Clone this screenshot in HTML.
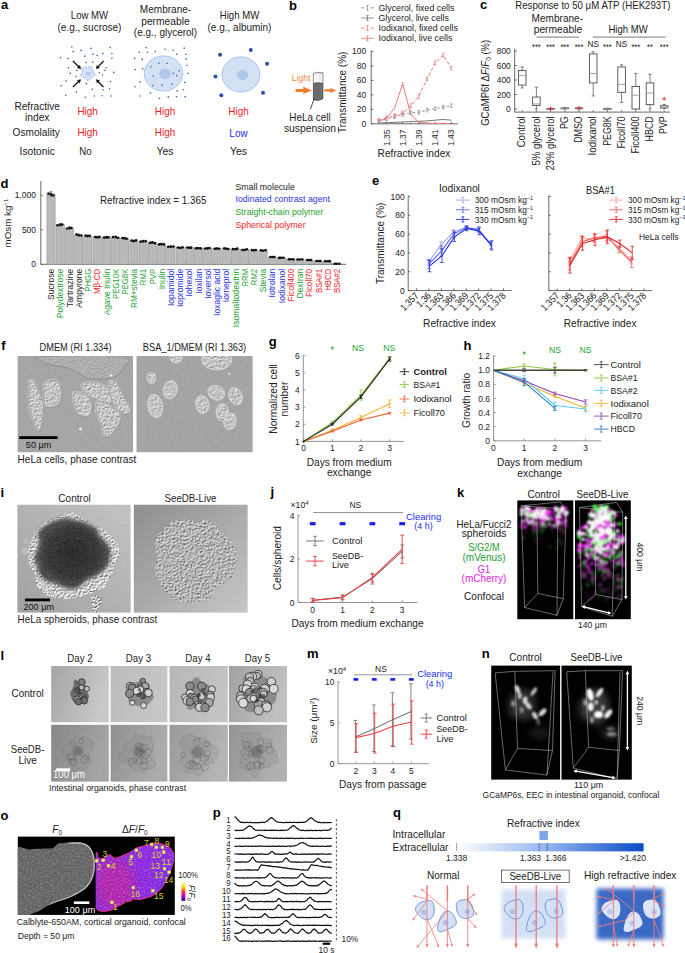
<!DOCTYPE html>
<html><head><meta charset="utf-8"><style>
html,body{margin:0;padding:0;background:#fff;width:685px;height:953px;overflow:hidden}
svg{display:block}
svg{font-family:"Liberation Sans", sans-serif}
</style></head><body>
<svg width="685" height="953" viewBox="0 0 685 953" fill="#222">
<defs>
<filter id="grain" x="0" y="0" width="1" height="1" filterUnits="objectBoundingBox">
  <feTurbulence type="fractalNoise" baseFrequency="0.55" numOctaves="2" seed="4" result="n"/>
  <feColorMatrix in="n" type="matrix" values="0 0 0 0 1  0 0 0 0 1  0 0 0 0 1  0 0 1.2 0 -0.55"/>
  <feComposite in2="SourceAlpha" operator="in"/>
</filter>
<filter id="grainD" x="0" y="0" width="1" height="1" filterUnits="objectBoundingBox">
  <feTurbulence type="fractalNoise" baseFrequency="0.55" numOctaves="2" seed="9" result="n"/>
  <feColorMatrix in="n" type="matrix" values="0 0 0 0 0  0 0 0 0 0  0 0 0 0 0  0 0 1.2 0 -0.55"/>
  <feComposite in2="SourceAlpha" operator="in"/>
</filter>
<filter id="blur1"><feGaussianBlur stdDeviation="1"/></filter>
<filter id="blur2"><feGaussianBlur stdDeviation="2"/></filter>
<filter id="blur3"><feGaussianBlur stdDeviation="3"/></filter>
<filter id="blur05"><feGaussianBlur stdDeviation="0.5"/></filter>
<filter id="blur6" x="-50%" y="-50%" width="200%" height="200%"><feGaussianBlur stdDeviation="6"/></filter>
<linearGradient id="rigrad" x1="0" x2="1" y1="0" y2="0"><stop offset="0" stop-color="#ffffff"/><stop offset="0.5" stop-color="#8fb0ee"/><stop offset="1" stop-color="#0a4cc8"/></linearGradient>
<linearGradient id="cbar" x1="0" x2="0" y1="0" y2="1"><stop offset="0" stop-color="#ffffa0"/><stop offset="0.25" stop-color="#ffd000"/><stop offset="0.5" stop-color="#ff3a20"/><stop offset="0.75" stop-color="#c000c0"/><stop offset="1" stop-color="#200090"/></linearGradient>
</defs>
<defs>
<radialGradient id="sphL" cx="0.5" cy="0.5" r="0.5"><stop offset="0" stop-color="#262626"/><stop offset="0.6" stop-color="#333"/><stop offset="0.82" stop-color="#555"/><stop offset="1" stop-color="#888" stop-opacity="0"/></radialGradient>
<radialGradient id="sphR" cx="0.5" cy="0.5" r="0.5"><stop offset="0" stop-color="#a4a4a4"/><stop offset="0.8" stop-color="#b0b0b0"/><stop offset="1" stop-color="#b5b5b5" stop-opacity="0"/></radialGradient>
<linearGradient id="bgiL" x1="0" y1="1" x2="1" y2="0"><stop offset="0" stop-color="#a0a0a0"/><stop offset="1" stop-color="#c2c2c2"/></linearGradient>
<linearGradient id="bgiR" x1="0" y1="0" x2="1" y2="1"><stop offset="0" stop-color="#8e8e8e"/><stop offset="1" stop-color="#c6c6c6"/></linearGradient>
<filter id="speck" x="0" y="0" width="1" height="1" filterUnits="objectBoundingBox">
  <feTurbulence type="fractalNoise" baseFrequency="0.35" numOctaves="3" seed="11" result="n"/>
  <feColorMatrix in="n" type="matrix" values="0 0 0 0 1  0 0 0 0 1  0 0 0 0 1  0 0 2.6 0 -1.25"/>
  <feComposite in2="SourceAlpha" operator="in"/>
</filter>
<filter id="speckD" x="0" y="0" width="1" height="1" filterUnits="objectBoundingBox">
  <feTurbulence type="fractalNoise" baseFrequency="0.35" numOctaves="3" seed="5" result="n"/>
  <feColorMatrix in="n" type="matrix" values="0 0 0 0 0  0 0 0 0 0  0 0 0 0 0  0 0 -2.6 0 1.25"/>
  <feComposite in2="SourceAlpha" operator="in"/>
</filter>
</defs>
<defs>
<filter id="emb1" x="0" y="0" width="1" height="1" filterUnits="objectBoundingBox" color-interpolation-filters="sRGB">
 <feTurbulence type="fractalNoise" baseFrequency="0.85" numOctaves="2" seed="3" result="t"/>
 <feDiffuseLighting in="t" surfaceScale="3" diffuseConstant="1.0" lighting-color="#fff" result="l"><feDistantLight azimuth="235" elevation="50"/></feDiffuseLighting>
 <feComposite in="l" in2="SourceAlpha" operator="in"/>
</filter>
<filter id="emb2" x="0" y="0" width="1" height="1" filterUnits="objectBoundingBox" color-interpolation-filters="sRGB">
 <feTurbulence type="fractalNoise" baseFrequency="0.3" numOctaves="2" seed="8" result="t"/>
 <feDiffuseLighting in="t" surfaceScale="2" diffuseConstant="1.0" lighting-color="#fff" result="l"><feDistantLight azimuth="235" elevation="55"/></feDiffuseLighting>
 <feComposite in="l" in2="SourceAlpha" operator="in"/>
</filter>
</defs>
<defs>
<filter id="emb3" x="0" y="0" width="1" height="1" filterUnits="objectBoundingBox" color-interpolation-filters="sRGB">
 <feTurbulence type="fractalNoise" baseFrequency="0.65" numOctaves="2" seed="13" result="t"/>
 <feDiffuseLighting in="t" surfaceScale="1.1" diffuseConstant="0.98" lighting-color="#fff" result="l"><feDistantLight azimuth="235" elevation="52"/></feDiffuseLighting>
 <feComposite in="l" in2="SourceAlpha" operator="in"/>
</filter>
<filter id="emb4" x="0" y="0" width="1" height="1" filterUnits="objectBoundingBox" color-interpolation-filters="sRGB">
 <feTurbulence type="fractalNoise" baseFrequency="0.75" numOctaves="2" seed="21" result="t"/>
 <feDiffuseLighting in="t" surfaceScale="2" diffuseConstant="0.88" lighting-color="#fff" result="l"><feDistantLight azimuth="235" elevation="55"/></feDiffuseLighting>
 <feComposite in="l" in2="SourceAlpha" operator="in"/>
</filter>
<radialGradient id="coreG" cx="0.5" cy="0.5" r="0.5"><stop offset="0" stop-color="#161616"/><stop offset="0.7" stop-color="#262626"/><stop offset="1" stop-color="#444"/></radialGradient>
</defs>

<rect width="685" height="953" fill="#fff"/>
<text x="0.90" y="8.80" font-size="13" fill="#000" font-weight="bold" >a</text>
<text x="89.50" y="19.30" font-size="10.53" text-anchor="middle" textLength="37.31" lengthAdjust="spacingAndGlyphs" >Low MW</text>
<text x="89.50" y="30.60" font-size="10.53" text-anchor="middle" textLength="63.93" lengthAdjust="spacingAndGlyphs" >(e.g., sucrose)</text>
<text x="165.50" y="13.20" font-size="10.53" text-anchor="middle" textLength="51.41" lengthAdjust="spacingAndGlyphs" >Membrane-</text>
<text x="165.50" y="24.50" font-size="10.53" text-anchor="middle" textLength="48.64" lengthAdjust="spacingAndGlyphs" >permeable</text>
<text x="165.50" y="35.80" font-size="10.53" text-anchor="middle" textLength="63.36" lengthAdjust="spacingAndGlyphs" >(e.g., glycerol)</text>
<text x="239.50" y="19.30" font-size="10.53" text-anchor="middle" textLength="39.42" lengthAdjust="spacingAndGlyphs" >High MW</text>
<text x="239.50" y="30.60" font-size="10.53" text-anchor="middle" textLength="63.93" lengthAdjust="spacingAndGlyphs" >(e.g., albumin)</text>
<circle cx="71.86" cy="46.95" r="0.80" fill="#2f5fb5" />
<circle cx="73.19" cy="51.44" r="0.80" fill="#2f5fb5" />
<circle cx="81.06" cy="50.42" r="0.80" fill="#2f5fb5" />
<circle cx="90.97" cy="48.38" r="0.80" fill="#2f5fb5" />
<circle cx="110.18" cy="47.36" r="0.80" fill="#2f5fb5" />
<circle cx="93.01" cy="54.10" r="0.80" fill="#2f5fb5" />
<circle cx="84.94" cy="56.15" r="0.80" fill="#2f5fb5" />
<circle cx="97.20" cy="55.53" r="0.80" fill="#2f5fb5" />
<circle cx="102.82" cy="53.49" r="0.80" fill="#2f5fb5" />
<circle cx="111.92" cy="53.49" r="0.80" fill="#2f5fb5" />
<circle cx="111.92" cy="58.19" r="0.80" fill="#2f5fb5" />
<circle cx="60.42" cy="57.58" r="0.80" fill="#2f5fb5" />
<circle cx="67.98" cy="58.60" r="0.80" fill="#2f5fb5" />
<circle cx="86.17" cy="62.48" r="0.80" fill="#2f5fb5" />
<circle cx="92.81" cy="62.28" r="0.80" fill="#2f5fb5" />
<circle cx="68.59" cy="67.79" r="0.80" fill="#2f5fb5" />
<circle cx="76.77" cy="70.45" r="0.80" fill="#2f5fb5" />
<circle cx="70.33" cy="73.42" r="0.80" fill="#2f5fb5" />
<circle cx="75.95" cy="76.48" r="0.80" fill="#2f5fb5" />
<circle cx="106.09" cy="67.79" r="0.80" fill="#2f5fb5" />
<circle cx="104.87" cy="70.35" r="0.80" fill="#2f5fb5" />
<circle cx="99.25" cy="72.70" r="0.80" fill="#2f5fb5" />
<circle cx="102.52" cy="74.95" r="0.80" fill="#2f5fb5" />
<circle cx="113.76" cy="72.39" r="0.80" fill="#2f5fb5" />
<circle cx="66.04" cy="81.08" r="0.80" fill="#2f5fb5" />
<circle cx="61.13" cy="85.68" r="0.80" fill="#2f5fb5" />
<circle cx="86.37" cy="83.63" r="0.80" fill="#2f5fb5" />
<circle cx="110.49" cy="81.59" r="0.80" fill="#2f5fb5" />
<circle cx="92.30" cy="89.36" r="0.80" fill="#2f5fb5" />
<circle cx="103.03" cy="90.07" r="0.80" fill="#2f5fb5" />
<circle cx="109.47" cy="88.74" r="0.80" fill="#2f5fb5" />
<circle cx="76.46" cy="92.12" r="0.80" fill="#2f5fb5" />
<circle cx="65.73" cy="95.18" r="0.80" fill="#2f5fb5" />
<circle cx="85.35" cy="97.22" r="0.80" fill="#2f5fb5" />
<circle cx="94.34" cy="96.00" r="0.80" fill="#2f5fb5" />
<circle cx="102.01" cy="95.69" r="0.80" fill="#2f5fb5" />
<circle cx="111.00" cy="96.00" r="0.80" fill="#2f5fb5" />
<path d="M94.59,73.20 L95.18,74.91 L93.72,76.10 L92.04,76.66 L91.60,78.09 L90.31,78.63 L89.20,79.79 L87.70,81.10 L86.37,79.02 L85.35,78.07 L83.92,77.95 L82.69,77.19 L81.36,76.25 L80.06,74.94 L81.83,73.20 L82.80,72.08 L81.62,70.27 L81.71,68.42 L83.31,67.70 L84.67,66.91 L86.26,66.90 L87.70,68.25 L89.29,66.23 L90.99,66.38 L91.75,68.12 L92.52,69.36 L93.06,70.62 L93.43,71.89Z" fill="#d4e1f5" stroke="#a9c3ec" stroke-width="0.9" />
<ellipse cx="88.5" cy="73.8" rx="2.3" ry="2.1" fill="#b0c8ec"/>
<line x1="72.90" y1="61.00" x2="78.97" y2="67.07" stroke="#111" stroke-width="1.3" />
<path d="M81.00,69.10 L76.97,68.04 L79.94,65.07Z" fill="#111" stroke="none" stroke-width="0.8" />
<line x1="103.50" y1="61.00" x2="97.80" y2="67.07" stroke="#111" stroke-width="1.3" />
<path d="M95.90,69.10 L96.83,65.04 L99.89,67.91Z" fill="#111" stroke="none" stroke-width="0.8" />
<line x1="72.90" y1="87.00" x2="78.97" y2="81.22" stroke="#111" stroke-width="1.3" />
<path d="M81.00,79.30 L79.84,83.30 L76.94,80.26Z" fill="#111" stroke="none" stroke-width="0.8" />
<line x1="103.50" y1="87.00" x2="97.80" y2="81.22" stroke="#111" stroke-width="1.3" />
<path d="M95.90,79.30 L99.92,80.39 L96.93,83.34Z" fill="#111" stroke="none" stroke-width="0.8" />
<circle cx="146.04" cy="47.66" r="0.80" fill="#2f5fb5" />
<circle cx="139.20" cy="52.26" r="0.80" fill="#2f5fb5" />
<circle cx="147.37" cy="52.26" r="0.80" fill="#2f5fb5" />
<circle cx="155.24" cy="51.44" r="0.80" fill="#2f5fb5" />
<circle cx="165.05" cy="49.20" r="0.80" fill="#2f5fb5" />
<circle cx="173.23" cy="50.22" r="0.80" fill="#2f5fb5" />
<circle cx="184.16" cy="48.17" r="0.80" fill="#2f5fb5" />
<circle cx="176.80" cy="54.31" r="0.80" fill="#2f5fb5" />
<circle cx="185.90" cy="54.31" r="0.80" fill="#2f5fb5" />
<circle cx="134.60" cy="58.39" r="0.80" fill="#2f5fb5" />
<circle cx="142.26" cy="59.42" r="0.80" fill="#2f5fb5" />
<circle cx="186.20" cy="58.90" r="0.80" fill="#2f5fb5" />
<circle cx="186.92" cy="65.55" r="0.80" fill="#2f5fb5" />
<circle cx="135.11" cy="69.43" r="0.80" fill="#2f5fb5" />
<circle cx="142.77" cy="68.82" r="0.80" fill="#2f5fb5" />
<circle cx="187.94" cy="73.21" r="0.80" fill="#2f5fb5" />
<circle cx="140.22" cy="81.90" r="0.80" fill="#2f5fb5" />
<circle cx="184.87" cy="82.41" r="0.80" fill="#2f5fb5" />
<circle cx="135.11" cy="86.70" r="0.80" fill="#2f5fb5" />
<circle cx="183.44" cy="89.76" r="0.80" fill="#2f5fb5" />
<circle cx="177.21" cy="90.89" r="0.80" fill="#2f5fb5" />
<circle cx="150.44" cy="92.93" r="0.80" fill="#2f5fb5" />
<circle cx="139.91" cy="96.00" r="0.80" fill="#2f5fb5" />
<circle cx="159.43" cy="98.25" r="0.80" fill="#2f5fb5" />
<circle cx="168.32" cy="96.92" r="0.80" fill="#2f5fb5" />
<circle cx="176.49" cy="96.71" r="0.80" fill="#2f5fb5" />
<circle cx="185.18" cy="96.92" r="0.80" fill="#2f5fb5" />
<ellipse cx="163.5" cy="73.5" rx="19.2" ry="17.6" fill="#d4e1f5" stroke="#a2bfea" stroke-width="0.9"/>
<ellipse cx="165" cy="73.7" rx="5.8" ry="5.2" fill="#b0c8ec"/>
<circle cx="158.92" cy="63.30" r="0.80" fill="#2f5fb5" />
<circle cx="166.99" cy="63.30" r="0.80" fill="#2f5fb5" />
<circle cx="150.95" cy="66.77" r="0.80" fill="#2f5fb5" />
<circle cx="179.05" cy="70.86" r="0.80" fill="#2f5fb5" />
<circle cx="173.43" cy="73.42" r="0.80" fill="#2f5fb5" />
<circle cx="176.80" cy="75.77" r="0.80" fill="#2f5fb5" />
<circle cx="153.30" cy="75.97" r="0.80" fill="#2f5fb5" />
<circle cx="152.99" cy="85.47" r="0.80" fill="#2f5fb5" />
<circle cx="161.98" cy="85.17" r="0.80" fill="#2f5fb5" />
<circle cx="171.90" cy="84.25" r="0.80" fill="#2f5fb5" />
<ellipse cx="241" cy="74.5" rx="19" ry="17.6" fill="#d4e1f5" stroke="#a2bfea" stroke-width="0.9"/>
<ellipse cx="242.6" cy="75" rx="5.7" ry="5.3" fill="#b0c8ec"/>
<circle cx="220.10" cy="54.80" r="2.00" fill="#2452a4" />
<circle cx="250.80" cy="49.90" r="2.00" fill="#2452a4" />
<circle cx="267.10" cy="63.70" r="2.00" fill="#2452a4" />
<circle cx="215.50" cy="76.60" r="2.00" fill="#2452a4" />
<circle cx="221.30" cy="95.20" r="2.00" fill="#2452a4" />
<circle cx="263.00" cy="92.80" r="2.00" fill="#2452a4" />
<text x="37.20" y="110.20" font-size="10.53" text-anchor="middle" textLength="45.58" lengthAdjust="spacingAndGlyphs" >Refractive</text>
<text x="37.20" y="121.20" font-size="10.53" text-anchor="middle" textLength="24.61" lengthAdjust="spacingAndGlyphs" >index</text>
<text x="36.20" y="136.20" font-size="10.53" text-anchor="middle" textLength="47.23" lengthAdjust="spacingAndGlyphs" >Osmolality</text>
<text x="37.20" y="154.50" font-size="10.53" text-anchor="middle" textLength="35.18" lengthAdjust="spacingAndGlyphs" >Isotonic</text>
<text x="87.60" y="115.20" font-size="10.53" text-anchor="middle" fill="#ee1c25" textLength="20.42" lengthAdjust="spacingAndGlyphs" >High</text>
<text x="165.00" y="115.20" font-size="10.53" text-anchor="middle" fill="#ee1c25" textLength="20.42" lengthAdjust="spacingAndGlyphs" >High</text>
<text x="238.50" y="115.20" font-size="10.53" text-anchor="middle" fill="#ee1c25" textLength="20.42" lengthAdjust="spacingAndGlyphs" >High</text>
<text x="87.60" y="136.20" font-size="10.53" text-anchor="middle" fill="#ee1c25" textLength="20.42" lengthAdjust="spacingAndGlyphs" >High</text>
<text x="165.00" y="136.20" font-size="10.53" text-anchor="middle" fill="#ee1c25" textLength="20.42" lengthAdjust="spacingAndGlyphs" >High</text>
<text x="238.50" y="136.80" font-size="10.53" text-anchor="middle" fill="#2233dd" textLength="18.3" lengthAdjust="spacingAndGlyphs" >Low</text>
<text x="85.50" y="154.50" font-size="10.53" text-anchor="middle" textLength="12.4" lengthAdjust="spacingAndGlyphs" >No</text>
<text x="165.00" y="154.50" font-size="10.53" text-anchor="middle" textLength="17.04" lengthAdjust="spacingAndGlyphs" >Yes</text>
<text x="238.50" y="154.50" font-size="10.53" text-anchor="middle" textLength="17.04" lengthAdjust="spacingAndGlyphs" >Yes</text>
<text x="289.00" y="10.00" font-size="13" fill="#000" font-weight="bold" >b</text>
<line x1="361.00" y1="7.80" x2="364.50" y2="7.80" stroke="#8a8a8a" stroke-width="0.8" />
<line x1="370.50" y1="7.80" x2="374.00" y2="7.80" stroke="#8a8a8a" stroke-width="0.8" />
<line x1="367.50" y1="5.40" x2="367.50" y2="10.20" stroke="#8a8a8a" stroke-width="0.8" />
<line x1="366.30" y1="5.40" x2="368.70" y2="5.40" stroke="#8a8a8a" stroke-width="0.8" />
<line x1="366.30" y1="10.20" x2="368.70" y2="10.20" stroke="#8a8a8a" stroke-width="0.8" />
<text x="378.50" y="10.70" font-size="9.18" textLength="75.88" lengthAdjust="spacingAndGlyphs" >Glycerol, fixed cells</text>
<line x1="361.00" y1="18.00" x2="374.00" y2="18.00" stroke="#777" stroke-width="0.8" />
<line x1="367.50" y1="15.60" x2="367.50" y2="20.40" stroke="#777" stroke-width="0.8" />
<line x1="366.30" y1="15.60" x2="368.70" y2="15.60" stroke="#777" stroke-width="0.8" />
<line x1="366.30" y1="20.40" x2="368.70" y2="20.40" stroke="#777" stroke-width="0.8" />
<text x="378.50" y="20.90" font-size="9.18" textLength="70.38" lengthAdjust="spacingAndGlyphs" >Glycerol, live cells</text>
<line x1="361.00" y1="28.20" x2="364.50" y2="28.20" stroke="#f07a7a" stroke-width="0.8" />
<line x1="370.50" y1="28.20" x2="374.00" y2="28.20" stroke="#f07a7a" stroke-width="0.8" />
<line x1="367.50" y1="25.80" x2="367.50" y2="30.60" stroke="#f07a7a" stroke-width="0.8" />
<line x1="366.30" y1="25.80" x2="368.70" y2="25.80" stroke="#f07a7a" stroke-width="0.8" />
<line x1="366.30" y1="30.60" x2="368.70" y2="30.60" stroke="#f07a7a" stroke-width="0.8" />
<text x="378.50" y="31.10" font-size="9.18" textLength="79.34" lengthAdjust="spacingAndGlyphs" >Iodixanol, fixed cells</text>
<line x1="361.00" y1="38.40" x2="374.00" y2="38.40" stroke="#f07a7a" stroke-width="0.8" />
<line x1="367.50" y1="36.00" x2="367.50" y2="40.80" stroke="#f07a7a" stroke-width="0.8" />
<line x1="366.30" y1="36.00" x2="368.70" y2="36.00" stroke="#f07a7a" stroke-width="0.8" />
<line x1="366.30" y1="40.80" x2="368.70" y2="40.80" stroke="#f07a7a" stroke-width="0.8" />
<text x="378.50" y="41.30" font-size="9.18" textLength="73.85" lengthAdjust="spacingAndGlyphs" >Iodixanol, live cells</text>
<line x1="371.20" y1="50.50" x2="371.20" y2="123.80" stroke="#444" stroke-width="0.8" />
<line x1="371.20" y1="123.80" x2="457.80" y2="123.80" stroke="#444" stroke-width="0.8" />
<line x1="371.20" y1="123.80" x2="373.40" y2="123.80" stroke="#444" stroke-width="0.8" />
<text x="366.20" y="126.70" font-size="9.63" text-anchor="end" textLength="4.71" lengthAdjust="spacingAndGlyphs" >0</text>
<line x1="371.20" y1="109.34" x2="373.40" y2="109.34" stroke="#444" stroke-width="0.8" />
<text x="366.20" y="112.24" font-size="9.63" text-anchor="end" textLength="9.41" lengthAdjust="spacingAndGlyphs" >20</text>
<line x1="371.20" y1="94.88" x2="373.40" y2="94.88" stroke="#444" stroke-width="0.8" />
<text x="366.20" y="97.78" font-size="9.63" text-anchor="end" textLength="9.41" lengthAdjust="spacingAndGlyphs" >40</text>
<line x1="371.20" y1="80.42" x2="373.40" y2="80.42" stroke="#444" stroke-width="0.8" />
<text x="366.20" y="83.32" font-size="9.63" text-anchor="end" textLength="9.41" lengthAdjust="spacingAndGlyphs" >60</text>
<line x1="371.20" y1="65.96" x2="373.40" y2="65.96" stroke="#444" stroke-width="0.8" />
<text x="366.20" y="68.86" font-size="9.63" text-anchor="end" textLength="9.41" lengthAdjust="spacingAndGlyphs" >80</text>
<line x1="371.20" y1="51.50" x2="373.40" y2="51.50" stroke="#444" stroke-width="0.8" />
<text x="366.20" y="54.40" font-size="9.63" text-anchor="end" textLength="14.12" lengthAdjust="spacingAndGlyphs" >100</text>
<line x1="386.50" y1="123.80" x2="386.50" y2="121.80" stroke="#444" stroke-width="0.8" />
<text x="389.50" y="129.50" font-size="9.63" text-anchor="end" textLength="16.47" lengthAdjust="spacingAndGlyphs" transform="rotate(-90 389.50 129.50)" >1.35</text>
<line x1="402.70" y1="123.80" x2="402.70" y2="121.80" stroke="#444" stroke-width="0.8" />
<text x="405.70" y="129.50" font-size="9.63" text-anchor="end" textLength="16.47" lengthAdjust="spacingAndGlyphs" transform="rotate(-90 405.70 129.50)" >1.37</text>
<line x1="418.90" y1="123.80" x2="418.90" y2="121.80" stroke="#444" stroke-width="0.8" />
<text x="421.90" y="129.50" font-size="9.63" text-anchor="end" textLength="16.47" lengthAdjust="spacingAndGlyphs" transform="rotate(-90 421.90 129.50)" >1.39</text>
<line x1="435.10" y1="123.80" x2="435.10" y2="121.80" stroke="#444" stroke-width="0.8" />
<text x="438.10" y="129.50" font-size="9.63" text-anchor="end" textLength="16.47" lengthAdjust="spacingAndGlyphs" transform="rotate(-90 438.10 129.50)" >1.41</text>
<line x1="451.30" y1="123.80" x2="451.30" y2="121.80" stroke="#444" stroke-width="0.8" />
<text x="454.30" y="129.50" font-size="9.63" text-anchor="end" textLength="16.47" lengthAdjust="spacingAndGlyphs" transform="rotate(-90 454.30 129.50)" >1.43</text>
<line x1="378.40" y1="123.80" x2="378.40" y2="122.30" stroke="#444" stroke-width="0.6" />
<line x1="394.60" y1="123.80" x2="394.60" y2="122.30" stroke="#444" stroke-width="0.6" />
<line x1="410.80" y1="123.80" x2="410.80" y2="122.30" stroke="#444" stroke-width="0.6" />
<line x1="427.00" y1="123.80" x2="427.00" y2="122.30" stroke="#444" stroke-width="0.6" />
<line x1="443.20" y1="123.80" x2="443.20" y2="122.30" stroke="#444" stroke-width="0.6" />
<text x="414.00" y="157.30" font-size="10.53" text-anchor="middle" textLength="72.76" lengthAdjust="spacingAndGlyphs" >Refractive index</text>
<text x="346.50" y="92.30" font-size="10.53" text-anchor="middle" textLength="81.53" lengthAdjust="spacingAndGlyphs" transform="rotate(-90 346.50 92.30)" >Transmittance (%)</text>
<polyline points="378.40,121.63 386.50,118.74 394.60,116.57 402.70,114.40 410.80,112.95 418.90,112.23 427.00,110.06 435.10,108.62 443.20,107.17 451.30,105.72" fill="none" stroke="#8a8a8a" stroke-width="0.9" stroke-dasharray="3 2"/>
<polyline points="378.40,123.08 386.50,122.72 394.60,122.35 402.70,121.99 410.80,121.63 418.90,121.27 427.00,120.91 435.10,120.19 443.20,119.46 451.30,120.19" fill="none" stroke="#666" stroke-width="0.9" />
<polyline points="378.40,120.19 386.50,118.02 394.60,115.85 402.70,112.95 410.80,105.72 418.90,96.33 427.00,78.97 435.10,63.07 443.20,55.11 451.30,68.13" fill="none" stroke="#f07a7a" stroke-width="1.0" stroke-dasharray="3.5 2"/>
<polyline points="378.40,121.63 386.50,118.02 394.60,107.89 402.70,84.03 410.80,114.40 418.90,122.35 427.00,123.08 435.10,123.44 443.20,123.44 451.30,123.44" fill="none" stroke="#f07a7a" stroke-width="1.0" />
<line x1="378.40" y1="123.44" x2="378.40" y2="119.82" stroke="#8a8a8a" stroke-width="0.7" />
<line x1="377.00" y1="123.44" x2="379.80" y2="123.44" stroke="#8a8a8a" stroke-width="0.7" />
<line x1="377.00" y1="119.82" x2="379.80" y2="119.82" stroke="#8a8a8a" stroke-width="0.7" />
<line x1="386.50" y1="120.55" x2="386.50" y2="116.93" stroke="#8a8a8a" stroke-width="0.7" />
<line x1="385.10" y1="120.55" x2="387.90" y2="120.55" stroke="#8a8a8a" stroke-width="0.7" />
<line x1="385.10" y1="116.93" x2="387.90" y2="116.93" stroke="#8a8a8a" stroke-width="0.7" />
<line x1="394.60" y1="118.38" x2="394.60" y2="114.76" stroke="#8a8a8a" stroke-width="0.7" />
<line x1="393.20" y1="118.38" x2="396.00" y2="118.38" stroke="#8a8a8a" stroke-width="0.7" />
<line x1="393.20" y1="114.76" x2="396.00" y2="114.76" stroke="#8a8a8a" stroke-width="0.7" />
<line x1="402.70" y1="116.21" x2="402.70" y2="112.59" stroke="#8a8a8a" stroke-width="0.7" />
<line x1="401.30" y1="116.21" x2="404.10" y2="116.21" stroke="#8a8a8a" stroke-width="0.7" />
<line x1="401.30" y1="112.59" x2="404.10" y2="112.59" stroke="#8a8a8a" stroke-width="0.7" />
<line x1="410.80" y1="114.76" x2="410.80" y2="111.15" stroke="#8a8a8a" stroke-width="0.7" />
<line x1="409.40" y1="114.76" x2="412.20" y2="114.76" stroke="#8a8a8a" stroke-width="0.7" />
<line x1="409.40" y1="111.15" x2="412.20" y2="111.15" stroke="#8a8a8a" stroke-width="0.7" />
<line x1="418.90" y1="114.04" x2="418.90" y2="110.42" stroke="#8a8a8a" stroke-width="0.7" />
<line x1="417.50" y1="114.04" x2="420.30" y2="114.04" stroke="#8a8a8a" stroke-width="0.7" />
<line x1="417.50" y1="110.42" x2="420.30" y2="110.42" stroke="#8a8a8a" stroke-width="0.7" />
<line x1="427.00" y1="111.87" x2="427.00" y2="108.26" stroke="#8a8a8a" stroke-width="0.7" />
<line x1="425.60" y1="111.87" x2="428.40" y2="111.87" stroke="#8a8a8a" stroke-width="0.7" />
<line x1="425.60" y1="108.26" x2="428.40" y2="108.26" stroke="#8a8a8a" stroke-width="0.7" />
<line x1="435.10" y1="110.42" x2="435.10" y2="106.81" stroke="#8a8a8a" stroke-width="0.7" />
<line x1="433.70" y1="110.42" x2="436.50" y2="110.42" stroke="#8a8a8a" stroke-width="0.7" />
<line x1="433.70" y1="106.81" x2="436.50" y2="106.81" stroke="#8a8a8a" stroke-width="0.7" />
<line x1="443.20" y1="108.98" x2="443.20" y2="105.36" stroke="#8a8a8a" stroke-width="0.7" />
<line x1="441.80" y1="108.98" x2="444.60" y2="108.98" stroke="#8a8a8a" stroke-width="0.7" />
<line x1="441.80" y1="105.36" x2="444.60" y2="105.36" stroke="#8a8a8a" stroke-width="0.7" />
<line x1="451.30" y1="107.53" x2="451.30" y2="103.92" stroke="#8a8a8a" stroke-width="0.7" />
<line x1="449.90" y1="107.53" x2="452.70" y2="107.53" stroke="#8a8a8a" stroke-width="0.7" />
<line x1="449.90" y1="103.92" x2="452.70" y2="103.92" stroke="#8a8a8a" stroke-width="0.7" />
<line x1="378.40" y1="121.99" x2="378.40" y2="118.38" stroke="#f07a7a" stroke-width="0.7" />
<line x1="377.00" y1="121.99" x2="379.80" y2="121.99" stroke="#f07a7a" stroke-width="0.7" />
<line x1="377.00" y1="118.38" x2="379.80" y2="118.38" stroke="#f07a7a" stroke-width="0.7" />
<line x1="386.50" y1="119.82" x2="386.50" y2="116.21" stroke="#f07a7a" stroke-width="0.7" />
<line x1="385.10" y1="119.82" x2="387.90" y2="119.82" stroke="#f07a7a" stroke-width="0.7" />
<line x1="385.10" y1="116.21" x2="387.90" y2="116.21" stroke="#f07a7a" stroke-width="0.7" />
<line x1="394.60" y1="117.65" x2="394.60" y2="114.04" stroke="#f07a7a" stroke-width="0.7" />
<line x1="393.20" y1="117.65" x2="396.00" y2="117.65" stroke="#f07a7a" stroke-width="0.7" />
<line x1="393.20" y1="114.04" x2="396.00" y2="114.04" stroke="#f07a7a" stroke-width="0.7" />
<line x1="402.70" y1="114.76" x2="402.70" y2="111.15" stroke="#f07a7a" stroke-width="0.7" />
<line x1="401.30" y1="114.76" x2="404.10" y2="114.76" stroke="#f07a7a" stroke-width="0.7" />
<line x1="401.30" y1="111.15" x2="404.10" y2="111.15" stroke="#f07a7a" stroke-width="0.7" />
<line x1="410.80" y1="107.53" x2="410.80" y2="103.92" stroke="#f07a7a" stroke-width="0.7" />
<line x1="409.40" y1="107.53" x2="412.20" y2="107.53" stroke="#f07a7a" stroke-width="0.7" />
<line x1="409.40" y1="103.92" x2="412.20" y2="103.92" stroke="#f07a7a" stroke-width="0.7" />
<line x1="418.90" y1="98.13" x2="418.90" y2="94.52" stroke="#f07a7a" stroke-width="0.7" />
<line x1="417.50" y1="98.13" x2="420.30" y2="98.13" stroke="#f07a7a" stroke-width="0.7" />
<line x1="417.50" y1="94.52" x2="420.30" y2="94.52" stroke="#f07a7a" stroke-width="0.7" />
<line x1="427.00" y1="80.78" x2="427.00" y2="77.17" stroke="#f07a7a" stroke-width="0.7" />
<line x1="425.60" y1="80.78" x2="428.40" y2="80.78" stroke="#f07a7a" stroke-width="0.7" />
<line x1="425.60" y1="77.17" x2="428.40" y2="77.17" stroke="#f07a7a" stroke-width="0.7" />
<line x1="435.10" y1="64.88" x2="435.10" y2="61.26" stroke="#f07a7a" stroke-width="0.7" />
<line x1="433.70" y1="64.88" x2="436.50" y2="64.88" stroke="#f07a7a" stroke-width="0.7" />
<line x1="433.70" y1="61.26" x2="436.50" y2="61.26" stroke="#f07a7a" stroke-width="0.7" />
<line x1="443.20" y1="56.92" x2="443.20" y2="53.31" stroke="#f07a7a" stroke-width="0.7" />
<line x1="441.80" y1="56.92" x2="444.60" y2="56.92" stroke="#f07a7a" stroke-width="0.7" />
<line x1="441.80" y1="53.31" x2="444.60" y2="53.31" stroke="#f07a7a" stroke-width="0.7" />
<line x1="451.30" y1="69.94" x2="451.30" y2="66.32" stroke="#f07a7a" stroke-width="0.7" />
<line x1="449.90" y1="69.94" x2="452.70" y2="69.94" stroke="#f07a7a" stroke-width="0.7" />
<line x1="449.90" y1="66.32" x2="452.70" y2="66.32" stroke="#f07a7a" stroke-width="0.7" />
<line x1="402.70" y1="85.48" x2="402.70" y2="82.59" stroke="#f07a7a" stroke-width="0.7" />
<line x1="401.30" y1="85.48" x2="404.10" y2="85.48" stroke="#f07a7a" stroke-width="0.7" />
<line x1="401.30" y1="82.59" x2="404.10" y2="82.59" stroke="#f07a7a" stroke-width="0.7" />
<text x="291.80" y="81.00" font-size="8.96" fill="#f0843c" textLength="18.5" lengthAdjust="spacingAndGlyphs" >Light</text>
<path d="M295.6,88.9 L303.4,88.9 L303.2,86.8 L312.1,90.4 L303.2,94 L303.4,91.9 L295.6,91.9Z" fill="#f07d2c" stroke="none" stroke-width="0.8" />
<path d="M324.3,89.3 L330.4,89.3 L330.3,87.7 L336.2,90.4 L330.3,93.1 L330.4,91.5 L324.3,91.5Z" fill="#f07d2c" stroke="none" stroke-width="0.8" />
<path d="M313.4,83.4 L313.4,73.6 L316.2,72.3 L322.9,72.8 L322.9,83.4" fill="none" stroke="#3a3a3a" stroke-width="0.6" />
<path d="M313.4,73.6 L320,74.2 L322.9,72.8 M320,74.2 L320,83" fill="none" stroke="#9a9a9a" stroke-width="0.45" />
<line x1="316.30" y1="74.00" x2="316.30" y2="82.50" stroke="#c8c8c8" stroke-width="0.5" />
<path d="M313.4,83.4 Q318,82 322.9,83.4 L322.9,98.8 Q318,101.6 313.4,99.6 Z" fill="#6b6b6b" stroke="#2e2e2e" stroke-width="0.65" />
<line x1="321.30" y1="84.00" x2="321.30" y2="99.50" stroke="#8a8a8a" stroke-width="0.5" />
<line x1="314.20" y1="98.80" x2="310.30" y2="109.40" stroke="#222" stroke-width="0.85" />
<text x="310.00" y="121.00" font-size="10.53" text-anchor="middle" textLength="41.29" lengthAdjust="spacingAndGlyphs" >HeLa cell</text>
<text x="310.00" y="132.20" font-size="10.53" text-anchor="middle" textLength="52.07" lengthAdjust="spacingAndGlyphs" >suspension</text>
<text x="480.00" y="8.90" font-size="13" fill="#000" font-weight="bold" >c</text>
<text x="515.20" y="8.80" font-size="10.53" textLength="155.2" lengthAdjust="spacingAndGlyphs" >Response to 50 μM ATP (HEK293T)</text>
<text x="557.30" y="21.90" font-size="10.53" text-anchor="middle" textLength="51.41" lengthAdjust="spacingAndGlyphs" >Membrane-</text>
<text x="558.00" y="33.30" font-size="10.53" text-anchor="middle" textLength="48.64" lengthAdjust="spacingAndGlyphs" >permeable</text>
<line x1="536.60" y1="37.10" x2="579.00" y2="37.10" stroke="#555" stroke-width="0.8" />
<text x="628.10" y="33.40" font-size="10.53" text-anchor="middle" textLength="39.42" lengthAdjust="spacingAndGlyphs" >High MW</text>
<line x1="593.00" y1="37.10" x2="665.50" y2="37.10" stroke="#555" stroke-width="0.8" />
<text x="536.40" y="49.60" font-size="8.51" text-anchor="middle" textLength="8.73" lengthAdjust="spacingAndGlyphs" >***</text>
<text x="550.60" y="49.60" font-size="8.51" text-anchor="middle" textLength="8.73" lengthAdjust="spacingAndGlyphs" >***</text>
<text x="564.80" y="49.60" font-size="8.51" text-anchor="middle" textLength="8.73" lengthAdjust="spacingAndGlyphs" >***</text>
<text x="579.00" y="49.60" font-size="8.51" text-anchor="middle" textLength="8.73" lengthAdjust="spacingAndGlyphs" >***</text>
<text x="593.20" y="46.80" font-size="9.41" text-anchor="middle" textLength="11.48" lengthAdjust="spacingAndGlyphs" >NS</text>
<text x="607.40" y="49.60" font-size="8.51" text-anchor="middle" textLength="8.73" lengthAdjust="spacingAndGlyphs" >***</text>
<text x="621.60" y="46.80" font-size="9.41" text-anchor="middle" textLength="11.48" lengthAdjust="spacingAndGlyphs" >NS</text>
<text x="635.80" y="49.60" font-size="8.51" text-anchor="middle" textLength="8.73" lengthAdjust="spacingAndGlyphs" >***</text>
<text x="650.00" y="49.60" font-size="8.51" text-anchor="middle" textLength="5.82" lengthAdjust="spacingAndGlyphs" >**</text>
<text x="664.20" y="49.60" font-size="8.51" text-anchor="middle" textLength="8.73" lengthAdjust="spacingAndGlyphs" >***</text>
<line x1="514.70" y1="48.50" x2="514.70" y2="112.10" stroke="#444" stroke-width="0.8" />
<line x1="514.70" y1="112.10" x2="670.00" y2="112.10" stroke="#444" stroke-width="0.8" />
<line x1="514.70" y1="109.00" x2="516.90" y2="109.00" stroke="#444" stroke-width="0.8" />
<text x="510.80" y="112.10" font-size="9.63" text-anchor="end" textLength="4.71" lengthAdjust="spacingAndGlyphs" >0</text>
<line x1="514.70" y1="94.50" x2="516.90" y2="94.50" stroke="#444" stroke-width="0.8" />
<text x="510.80" y="97.60" font-size="9.63" text-anchor="end" textLength="14.12" lengthAdjust="spacingAndGlyphs" >200</text>
<line x1="514.70" y1="80.00" x2="516.90" y2="80.00" stroke="#444" stroke-width="0.8" />
<text x="510.80" y="83.10" font-size="9.63" text-anchor="end" textLength="14.12" lengthAdjust="spacingAndGlyphs" >400</text>
<line x1="514.70" y1="65.50" x2="516.90" y2="65.50" stroke="#444" stroke-width="0.8" />
<text x="510.80" y="68.60" font-size="9.63" text-anchor="end" textLength="14.12" lengthAdjust="spacingAndGlyphs" >600</text>
<line x1="514.70" y1="51.00" x2="516.90" y2="51.00" stroke="#444" stroke-width="0.8" />
<text x="510.80" y="54.10" font-size="9.63" text-anchor="end" textLength="14.12" lengthAdjust="spacingAndGlyphs" >800</text>
<text x="489.20" y="82.80" font-size="10.18" text-anchor="middle" textLength="86" lengthAdjust="spacingAndGlyphs" transform="rotate(-90 489.20 82.80)" >GCaMP6f Δ<tspan font-style="italic">F</tspan>/<tspan font-style="italic">F</tspan><tspan font-size="7" dy="2">0</tspan><tspan dy="-2"> (%)</tspan></text>
<text x="525.40" y="116.30" font-size="10.08" text-anchor="end" textLength="31.05" lengthAdjust="spacingAndGlyphs" transform="rotate(-90 525.40 116.30)" >Control</text>
<text x="539.60" y="116.30" font-size="10.08" text-anchor="end" textLength="49.22" lengthAdjust="spacingAndGlyphs" transform="rotate(-90 539.60 116.30)" >5% glycerol</text>
<text x="553.80" y="116.30" font-size="10.08" text-anchor="end" textLength="54.14" lengthAdjust="spacingAndGlyphs" transform="rotate(-90 553.80 116.30)" >23% glycerol</text>
<text x="568.00" y="116.30" font-size="10.08" text-anchor="end" textLength="12.8" lengthAdjust="spacingAndGlyphs" transform="rotate(-90 568.00 116.30)" >PG</text>
<text x="582.20" y="116.30" font-size="10.08" text-anchor="end" textLength="26.57" lengthAdjust="spacingAndGlyphs" transform="rotate(-90 582.20 116.30)" >DMSO</text>
<text x="596.40" y="116.30" font-size="10.08" text-anchor="end" textLength="39.17" lengthAdjust="spacingAndGlyphs" transform="rotate(-90 596.40 116.30)" >Iodixanol</text>
<text x="610.60" y="116.30" font-size="10.08" text-anchor="end" textLength="29.53" lengthAdjust="spacingAndGlyphs" transform="rotate(-90 610.60 116.30)" >PEG8K</text>
<text x="624.80" y="116.30" font-size="10.08" text-anchor="end" textLength="32.24" lengthAdjust="spacingAndGlyphs" transform="rotate(-90 624.80 116.30)" >Ficoll70</text>
<text x="639.00" y="116.30" font-size="10.08" text-anchor="end" textLength="37.16" lengthAdjust="spacingAndGlyphs" transform="rotate(-90 639.00 116.30)" >Ficoll400</text>
<text x="653.20" y="116.30" font-size="10.08" text-anchor="end" textLength="25.09" lengthAdjust="spacingAndGlyphs" transform="rotate(-90 653.20 116.30)" >HBCD</text>
<text x="667.40" y="116.30" font-size="10.08" text-anchor="end" textLength="17.72" lengthAdjust="spacingAndGlyphs" transform="rotate(-90 667.40 116.30)" >PVP</text>
<line x1="522.20" y1="112.10" x2="522.20" y2="110.20" stroke="#444" stroke-width="0.7" />
<line x1="522.20" y1="87.97" x2="522.20" y2="85.08" stroke="#555" stroke-width="0.75" />
<line x1="522.20" y1="70.58" x2="522.20" y2="66.95" stroke="#555" stroke-width="0.75" />
<line x1="520.60" y1="87.97" x2="523.80" y2="87.97" stroke="#555" stroke-width="0.75" />
<line x1="520.60" y1="66.95" x2="523.80" y2="66.95" stroke="#555" stroke-width="0.75" />
<rect x="518.40" y="70.58" width="7.60" height="14.50" fill="#fff" stroke="#444" stroke-width="0.85"/>
<line x1="518.40" y1="75.65" x2="526.00" y2="75.65" stroke="#999" stroke-width="0.9" />
<line x1="536.40" y1="112.10" x2="536.40" y2="110.20" stroke="#444" stroke-width="0.7" />
<line x1="536.40" y1="109.00" x2="536.40" y2="105.38" stroke="#555" stroke-width="0.75" />
<line x1="536.40" y1="97.04" x2="536.40" y2="87.25" stroke="#555" stroke-width="0.75" />
<line x1="534.80" y1="109.00" x2="538.00" y2="109.00" stroke="#555" stroke-width="0.75" />
<line x1="534.80" y1="87.25" x2="538.00" y2="87.25" stroke="#555" stroke-width="0.75" />
<rect x="532.60" y="97.04" width="7.60" height="8.34" fill="#fff" stroke="#444" stroke-width="0.85"/>
<line x1="532.60" y1="103.92" x2="540.20" y2="103.92" stroke="#999" stroke-width="0.9" />
<line x1="550.60" y1="112.10" x2="550.60" y2="110.20" stroke="#444" stroke-width="0.7" />
<line x1="550.60" y1="109.00" x2="550.60" y2="108.86" stroke="#555" stroke-width="0.75" />
<line x1="550.60" y1="108.42" x2="550.60" y2="108.28" stroke="#555" stroke-width="0.75" />
<line x1="549.00" y1="109.00" x2="552.20" y2="109.00" stroke="#555" stroke-width="0.75" />
<line x1="549.00" y1="108.28" x2="552.20" y2="108.28" stroke="#555" stroke-width="0.75" />
<rect x="546.80" y="108.42" width="7.60" height="0.80" fill="#fff" stroke="#444" stroke-width="0.85"/>
<line x1="546.80" y1="108.71" x2="554.40" y2="108.71" stroke="#999" stroke-width="0.9" />
<line x1="564.80" y1="112.10" x2="564.80" y2="110.20" stroke="#444" stroke-width="0.7" />
<line x1="564.80" y1="109.00" x2="564.80" y2="108.78" stroke="#555" stroke-width="0.75" />
<line x1="564.80" y1="107.98" x2="564.80" y2="107.55" stroke="#555" stroke-width="0.75" />
<line x1="563.20" y1="109.00" x2="566.40" y2="109.00" stroke="#555" stroke-width="0.75" />
<line x1="563.20" y1="107.55" x2="566.40" y2="107.55" stroke="#555" stroke-width="0.75" />
<rect x="561.00" y="107.98" width="7.60" height="0.80" fill="#fff" stroke="#444" stroke-width="0.85"/>
<line x1="561.00" y1="108.42" x2="568.60" y2="108.42" stroke="#999" stroke-width="0.9" />
<line x1="579.00" y1="112.10" x2="579.00" y2="110.20" stroke="#444" stroke-width="0.7" />
<line x1="579.00" y1="109.00" x2="579.00" y2="108.78" stroke="#555" stroke-width="0.75" />
<line x1="579.00" y1="107.98" x2="579.00" y2="107.55" stroke="#555" stroke-width="0.75" />
<line x1="577.40" y1="109.00" x2="580.60" y2="109.00" stroke="#555" stroke-width="0.75" />
<line x1="577.40" y1="107.55" x2="580.60" y2="107.55" stroke="#555" stroke-width="0.75" />
<rect x="575.20" y="107.98" width="7.60" height="0.80" fill="#fff" stroke="#444" stroke-width="0.85"/>
<line x1="575.20" y1="108.42" x2="582.80" y2="108.42" stroke="#999" stroke-width="0.9" />
<line x1="593.20" y1="112.10" x2="593.20" y2="110.20" stroke="#444" stroke-width="0.7" />
<line x1="593.20" y1="95.95" x2="593.20" y2="82.90" stroke="#555" stroke-width="0.75" />
<line x1="593.20" y1="53.90" x2="593.20" y2="51.73" stroke="#555" stroke-width="0.75" />
<line x1="591.60" y1="95.95" x2="594.80" y2="95.95" stroke="#555" stroke-width="0.75" />
<line x1="591.60" y1="51.73" x2="594.80" y2="51.73" stroke="#555" stroke-width="0.75" />
<rect x="589.40" y="53.90" width="7.60" height="29.00" fill="#fff" stroke="#444" stroke-width="0.85"/>
<line x1="589.40" y1="73.47" x2="597.00" y2="73.47" stroke="#999" stroke-width="0.9" />
<line x1="607.40" y1="112.10" x2="607.40" y2="110.20" stroke="#444" stroke-width="0.7" />
<line x1="607.40" y1="109.00" x2="607.40" y2="108.86" stroke="#555" stroke-width="0.75" />
<line x1="607.40" y1="108.42" x2="607.40" y2="108.13" stroke="#555" stroke-width="0.75" />
<line x1="605.80" y1="109.00" x2="609.00" y2="109.00" stroke="#555" stroke-width="0.75" />
<line x1="605.80" y1="108.13" x2="609.00" y2="108.13" stroke="#555" stroke-width="0.75" />
<rect x="603.60" y="108.42" width="7.60" height="0.80" fill="#fff" stroke="#444" stroke-width="0.85"/>
<line x1="603.60" y1="108.64" x2="611.20" y2="108.64" stroke="#999" stroke-width="0.9" />
<line x1="621.60" y1="112.10" x2="621.60" y2="110.20" stroke="#444" stroke-width="0.7" />
<line x1="621.60" y1="102.47" x2="621.60" y2="92.33" stroke="#555" stroke-width="0.75" />
<line x1="621.60" y1="66.95" x2="621.60" y2="64.78" stroke="#555" stroke-width="0.75" />
<line x1="620.00" y1="102.47" x2="623.20" y2="102.47" stroke="#555" stroke-width="0.75" />
<line x1="620.00" y1="64.78" x2="623.20" y2="64.78" stroke="#555" stroke-width="0.75" />
<rect x="617.80" y="66.95" width="7.60" height="25.38" fill="#fff" stroke="#444" stroke-width="0.85"/>
<line x1="617.80" y1="84.35" x2="625.40" y2="84.35" stroke="#999" stroke-width="0.9" />
<line x1="635.80" y1="112.10" x2="635.80" y2="110.20" stroke="#444" stroke-width="0.7" />
<line x1="635.80" y1="109.00" x2="635.80" y2="109.00" stroke="#555" stroke-width="0.75" />
<line x1="635.80" y1="86.53" x2="635.80" y2="73.47" stroke="#555" stroke-width="0.75" />
<line x1="634.20" y1="109.00" x2="637.40" y2="109.00" stroke="#555" stroke-width="0.75" />
<line x1="634.20" y1="73.47" x2="637.40" y2="73.47" stroke="#555" stroke-width="0.75" />
<rect x="632.00" y="86.53" width="7.60" height="22.47" fill="#fff" stroke="#444" stroke-width="0.85"/>
<line x1="632.00" y1="95.22" x2="639.60" y2="95.22" stroke="#999" stroke-width="0.9" />
<line x1="650.00" y1="112.10" x2="650.00" y2="110.20" stroke="#444" stroke-width="0.7" />
<line x1="650.00" y1="109.00" x2="650.00" y2="104.65" stroke="#555" stroke-width="0.75" />
<line x1="650.00" y1="82.90" x2="650.00" y2="74.20" stroke="#555" stroke-width="0.75" />
<line x1="648.40" y1="109.00" x2="651.60" y2="109.00" stroke="#555" stroke-width="0.75" />
<line x1="648.40" y1="74.20" x2="651.60" y2="74.20" stroke="#555" stroke-width="0.75" />
<rect x="646.20" y="82.90" width="7.60" height="21.75" fill="#fff" stroke="#444" stroke-width="0.85"/>
<line x1="646.20" y1="93.05" x2="653.80" y2="93.05" stroke="#999" stroke-width="0.9" />
<line x1="664.20" y1="112.10" x2="664.20" y2="110.20" stroke="#444" stroke-width="0.7" />
<line x1="664.20" y1="108.64" x2="664.20" y2="107.91" stroke="#555" stroke-width="0.75" />
<line x1="664.20" y1="105.74" x2="664.20" y2="104.65" stroke="#555" stroke-width="0.75" />
<line x1="662.60" y1="108.64" x2="665.80" y2="108.64" stroke="#555" stroke-width="0.75" />
<line x1="662.60" y1="104.65" x2="665.80" y2="104.65" stroke="#555" stroke-width="0.75" />
<rect x="660.40" y="105.74" width="7.60" height="2.17" fill="#fff" stroke="#444" stroke-width="0.85"/>
<line x1="660.40" y1="107.19" x2="668.00" y2="107.19" stroke="#999" stroke-width="0.9" />
<line x1="548.40" y1="108.64" x2="552.80" y2="108.64" stroke="#ee1c25" stroke-width="0.8" />
<line x1="550.60" y1="106.44" x2="550.60" y2="110.84" stroke="#ee1c25" stroke-width="0.8" />
<line x1="576.80" y1="108.13" x2="581.20" y2="108.13" stroke="#ee1c25" stroke-width="0.8" />
<line x1="579.00" y1="105.93" x2="579.00" y2="110.33" stroke="#ee1c25" stroke-width="0.8" />
<line x1="662.00" y1="98.85" x2="666.40" y2="98.85" stroke="#ee1c25" stroke-width="0.8" />
<line x1="664.20" y1="96.65" x2="664.20" y2="101.05" stroke="#ee1c25" stroke-width="0.8" />
<text x="0.50" y="187.50" font-size="13" fill="#000" font-weight="bold" >d</text>
<line x1="40.80" y1="181.00" x2="40.80" y2="264.30" stroke="#444" stroke-width="0.8" />
<line x1="40.80" y1="264.30" x2="346.00" y2="264.30" stroke="#444" stroke-width="0.8" />
<line x1="40.80" y1="264.30" x2="42.80" y2="264.30" stroke="#444" stroke-width="0.8" />
<text x="36.00" y="267.40" font-size="9.63" text-anchor="end" textLength="4.71" lengthAdjust="spacingAndGlyphs" >0</text>
<line x1="40.80" y1="229.80" x2="42.80" y2="229.80" stroke="#444" stroke-width="0.8" />
<text x="36.00" y="232.90" font-size="9.63" text-anchor="end" textLength="14.12" lengthAdjust="spacingAndGlyphs" >500</text>
<line x1="40.80" y1="195.30" x2="42.80" y2="195.30" stroke="#444" stroke-width="0.8" />
<text x="36.00" y="198.40" font-size="9.63" text-anchor="end" textLength="21.18" lengthAdjust="spacingAndGlyphs" >1,000</text>
<text x="10.80" y="223.00" font-size="9.75" text-anchor="middle" transform="rotate(-90 10.80 223.00)" >mOsm kg<tspan font-size="6.2" dy="-3">−1</tspan></text>
<text x="100.00" y="203.50" font-size="10.53" textLength="106.44" lengthAdjust="spacingAndGlyphs" >Refractive index = 1.365</text>
<text x="235.50" y="189.60" font-size="9.07" textLength="59.29" lengthAdjust="spacingAndGlyphs" >Small molecule</text>
<text x="235.50" y="202.20" font-size="9.07" fill="#2a35e0" textLength="94.42" lengthAdjust="spacingAndGlyphs" >Iodinated contrast agent</text>
<text x="235.50" y="215.20" font-size="9.07" fill="#22a030" textLength="87.59" lengthAdjust="spacingAndGlyphs" >Straight-chain polymer</text>
<text x="235.50" y="228.40" font-size="9.07" fill="#ee1c25" textLength="70.14" lengthAdjust="spacingAndGlyphs" >Spherical polymer</text>
<rect x="46.90" y="193.92" width="8.2" height="70.38" fill="#b9b9b9" stroke="#8a8a8a" stroke-width="0.5"/>
<line x1="51.00" y1="196.03" x2="51.00" y2="191.81" stroke="#222" stroke-width="0.6" />
<line x1="49.50" y1="196.03" x2="52.50" y2="196.03" stroke="#222" stroke-width="0.6" />
<line x1="49.50" y1="191.81" x2="52.50" y2="191.81" stroke="#222" stroke-width="0.6" />
<circle cx="48.54" cy="193.63" r="1.30" fill="#111" />
<circle cx="51.11" cy="194.37" r="1.30" fill="#111" />
<circle cx="53.24" cy="195.46" r="1.30" fill="#111" />
<text x="54.20" y="268.80" font-size="8.85" text-anchor="end" textLength="31.15" lengthAdjust="spacingAndGlyphs" transform="rotate(-90 54.20 268.80)" >Sucrose</text>
<rect x="56.12" y="224.62" width="8.2" height="39.68" fill="#b9b9b9" stroke="#8a8a8a" stroke-width="0.5"/>
<line x1="60.22" y1="225.82" x2="60.22" y2="223.43" stroke="#222" stroke-width="0.6" />
<line x1="58.72" y1="225.82" x2="61.72" y2="225.82" stroke="#222" stroke-width="0.6" />
<line x1="58.72" y1="223.43" x2="61.72" y2="223.43" stroke="#222" stroke-width="0.6" />
<circle cx="57.67" cy="225.21" r="1.30" fill="#111" />
<circle cx="60.36" cy="224.77" r="1.30" fill="#111" />
<circle cx="62.27" cy="224.46" r="1.30" fill="#111" />
<text x="63.42" y="268.80" font-size="8.85" text-anchor="end" fill="#22a030" textLength="49.42" lengthAdjust="spacingAndGlyphs" transform="rotate(-90 63.42 268.80)" >Polydextrose</text>
<rect x="65.34" y="228.08" width="8.2" height="36.22" fill="#b9b9b9" stroke="#8a8a8a" stroke-width="0.5"/>
<line x1="69.44" y1="229.16" x2="69.44" y2="226.99" stroke="#222" stroke-width="0.6" />
<line x1="67.94" y1="229.16" x2="70.94" y2="229.16" stroke="#222" stroke-width="0.6" />
<line x1="67.94" y1="226.99" x2="70.94" y2="226.99" stroke="#222" stroke-width="0.6" />
<circle cx="67.20" cy="228.44" r="1.30" fill="#111" />
<circle cx="69.68" cy="227.71" r="1.30" fill="#111" />
<circle cx="71.44" cy="227.94" r="1.30" fill="#111" />
<text x="72.64" y="268.80" font-size="8.85" text-anchor="end" textLength="38.4" lengthAdjust="spacingAndGlyphs" transform="rotate(-90 72.64 268.80)" >Tartrazine</text>
<rect x="74.56" y="234.98" width="8.2" height="29.32" fill="#b9b9b9" stroke="#8a8a8a" stroke-width="0.5"/>
<line x1="78.66" y1="235.85" x2="78.66" y2="234.10" stroke="#222" stroke-width="0.6" />
<line x1="77.16" y1="235.85" x2="80.16" y2="235.85" stroke="#222" stroke-width="0.6" />
<line x1="77.16" y1="234.10" x2="80.16" y2="234.10" stroke="#222" stroke-width="0.6" />
<circle cx="76.48" cy="234.42" r="1.30" fill="#111" />
<circle cx="78.84" cy="235.29" r="1.30" fill="#111" />
<circle cx="81.24" cy="235.54" r="1.30" fill="#111" />
<text x="81.86" y="268.80" font-size="8.85" text-anchor="end" textLength="38.84" lengthAdjust="spacingAndGlyphs" transform="rotate(-90 81.86 268.80)" >Ampyrone</text>
<rect x="83.78" y="236.01" width="8.2" height="28.29" fill="#b9b9b9" stroke="#8a8a8a" stroke-width="0.5"/>
<line x1="87.88" y1="236.86" x2="87.88" y2="235.16" stroke="#222" stroke-width="0.6" />
<line x1="86.38" y1="236.86" x2="89.38" y2="236.86" stroke="#222" stroke-width="0.6" />
<line x1="86.38" y1="235.16" x2="89.38" y2="235.16" stroke="#222" stroke-width="0.6" />
<circle cx="85.61" cy="235.65" r="1.30" fill="#111" />
<circle cx="87.60" cy="236.03" r="1.30" fill="#111" />
<circle cx="89.71" cy="235.77" r="1.30" fill="#111" />
<text x="91.08" y="268.80" font-size="8.85" text-anchor="end" fill="#22a030" textLength="22.89" lengthAdjust="spacingAndGlyphs" transform="rotate(-90 91.08 268.80)" >PHGG</text>
<rect x="93.00" y="237.05" width="8.2" height="27.25" fill="#b9b9b9" stroke="#8a8a8a" stroke-width="0.5"/>
<line x1="97.10" y1="237.86" x2="97.10" y2="236.23" stroke="#222" stroke-width="0.6" />
<line x1="95.60" y1="237.86" x2="98.60" y2="237.86" stroke="#222" stroke-width="0.6" />
<line x1="95.60" y1="236.23" x2="98.60" y2="236.23" stroke="#222" stroke-width="0.6" />
<circle cx="95.11" cy="236.95" r="1.30" fill="#111" />
<circle cx="97.40" cy="237.30" r="1.30" fill="#111" />
<circle cx="99.46" cy="236.92" r="1.30" fill="#111" />
<text x="100.30" y="268.80" font-size="8.85" text-anchor="end" fill="#ee1c25" textLength="25.27" lengthAdjust="spacingAndGlyphs" transform="rotate(-90 100.30 268.80)" >Mβ-CD</text>
<rect x="102.22" y="237.53" width="8.2" height="26.77" fill="#b9b9b9" stroke="#8a8a8a" stroke-width="0.5"/>
<line x1="106.32" y1="238.33" x2="106.32" y2="236.72" stroke="#222" stroke-width="0.6" />
<line x1="104.82" y1="238.33" x2="107.82" y2="238.33" stroke="#222" stroke-width="0.6" />
<line x1="104.82" y1="236.72" x2="107.82" y2="236.72" stroke="#222" stroke-width="0.6" />
<circle cx="104.18" cy="237.59" r="1.30" fill="#111" />
<circle cx="106.59" cy="236.93" r="1.30" fill="#111" />
<circle cx="108.50" cy="237.31" r="1.30" fill="#111" />
<text x="109.52" y="268.80" font-size="8.85" text-anchor="end" fill="#22a030" textLength="46.54" lengthAdjust="spacingAndGlyphs" transform="rotate(-90 109.52 268.80)" >Agave Inulin</text>
<rect x="111.44" y="237.39" width="8.2" height="26.91" fill="#b9b9b9" stroke="#8a8a8a" stroke-width="0.5"/>
<line x1="115.54" y1="238.20" x2="115.54" y2="236.58" stroke="#222" stroke-width="0.6" />
<line x1="114.04" y1="238.20" x2="117.04" y2="238.20" stroke="#222" stroke-width="0.6" />
<line x1="114.04" y1="236.58" x2="117.04" y2="236.58" stroke="#222" stroke-width="0.6" />
<circle cx="112.99" cy="237.12" r="1.30" fill="#111" />
<circle cx="115.66" cy="236.73" r="1.30" fill="#111" />
<circle cx="118.00" cy="237.68" r="1.30" fill="#111" />
<text x="118.74" y="268.80" font-size="8.85" text-anchor="end" fill="#22a030" textLength="30.25" lengthAdjust="spacingAndGlyphs" transform="rotate(-90 118.74 268.80)" >PEG10K</text>
<rect x="120.66" y="238.22" width="8.2" height="26.08" fill="#b9b9b9" stroke="#8a8a8a" stroke-width="0.5"/>
<line x1="124.76" y1="239.00" x2="124.76" y2="237.44" stroke="#222" stroke-width="0.6" />
<line x1="123.26" y1="239.00" x2="126.26" y2="239.00" stroke="#222" stroke-width="0.6" />
<line x1="123.26" y1="237.44" x2="126.26" y2="237.44" stroke="#222" stroke-width="0.6" />
<circle cx="122.47" cy="238.00" r="1.30" fill="#111" />
<circle cx="124.38" cy="238.27" r="1.30" fill="#111" />
<circle cx="126.69" cy="238.72" r="1.30" fill="#111" />
<text x="127.96" y="268.80" font-size="8.85" text-anchor="end" fill="#22a030" textLength="25.92" lengthAdjust="spacingAndGlyphs" transform="rotate(-90 127.96 268.80)" >PEG8K</text>
<rect x="129.88" y="240.84" width="8.2" height="23.46" fill="#b9b9b9" stroke="#8a8a8a" stroke-width="0.5"/>
<line x1="133.98" y1="241.54" x2="133.98" y2="240.14" stroke="#222" stroke-width="0.6" />
<line x1="132.48" y1="241.54" x2="135.48" y2="241.54" stroke="#222" stroke-width="0.6" />
<line x1="132.48" y1="240.14" x2="135.48" y2="240.14" stroke="#222" stroke-width="0.6" />
<circle cx="131.43" cy="240.53" r="1.30" fill="#111" />
<circle cx="133.68" cy="241.14" r="1.30" fill="#111" />
<circle cx="136.09" cy="240.40" r="1.30" fill="#111" />
<text x="137.18" y="268.80" font-size="8.85" text-anchor="end" fill="#22a030" textLength="39.23" lengthAdjust="spacingAndGlyphs" transform="rotate(-90 137.18 268.80)" >RM+stevia</text>
<rect x="139.10" y="241.53" width="8.2" height="22.77" fill="#b9b9b9" stroke="#8a8a8a" stroke-width="0.5"/>
<line x1="143.20" y1="242.21" x2="143.20" y2="240.85" stroke="#222" stroke-width="0.6" />
<line x1="141.70" y1="242.21" x2="144.70" y2="242.21" stroke="#222" stroke-width="0.6" />
<line x1="141.70" y1="240.85" x2="144.70" y2="240.85" stroke="#222" stroke-width="0.6" />
<circle cx="140.66" cy="241.59" r="1.30" fill="#111" />
<circle cx="143.24" cy="241.09" r="1.30" fill="#111" />
<circle cx="145.66" cy="241.12" r="1.30" fill="#111" />
<text x="146.40" y="268.80" font-size="8.85" text-anchor="end" fill="#22a030" textLength="16.41" lengthAdjust="spacingAndGlyphs" transform="rotate(-90 146.40 268.80)" >RM1</text>
<rect x="148.32" y="242.77" width="8.2" height="21.53" fill="#b9b9b9" stroke="#8a8a8a" stroke-width="0.5"/>
<line x1="152.42" y1="243.42" x2="152.42" y2="242.13" stroke="#222" stroke-width="0.6" />
<line x1="150.92" y1="243.42" x2="153.92" y2="243.42" stroke="#222" stroke-width="0.6" />
<line x1="150.92" y1="242.13" x2="153.92" y2="242.13" stroke="#222" stroke-width="0.6" />
<circle cx="150.04" cy="242.86" r="1.30" fill="#111" />
<circle cx="152.31" cy="242.36" r="1.30" fill="#111" />
<circle cx="154.99" cy="243.15" r="1.30" fill="#111" />
<text x="155.62" y="268.80" font-size="8.85" text-anchor="end" fill="#22a030" textLength="15.55" lengthAdjust="spacingAndGlyphs" transform="rotate(-90 155.62 268.80)" >PVP</text>
<rect x="157.54" y="244.15" width="8.2" height="20.15" fill="#b9b9b9" stroke="#8a8a8a" stroke-width="0.5"/>
<line x1="161.64" y1="244.76" x2="161.64" y2="243.55" stroke="#222" stroke-width="0.6" />
<line x1="160.14" y1="244.76" x2="163.14" y2="244.76" stroke="#222" stroke-width="0.6" />
<line x1="160.14" y1="243.55" x2="163.14" y2="243.55" stroke="#222" stroke-width="0.6" />
<circle cx="159.18" cy="244.42" r="1.30" fill="#111" />
<circle cx="161.43" cy="244.17" r="1.30" fill="#111" />
<circle cx="163.91" cy="244.39" r="1.30" fill="#111" />
<text x="164.84" y="268.80" font-size="8.85" text-anchor="end" fill="#22a030" textLength="20.44" lengthAdjust="spacingAndGlyphs" transform="rotate(-90 164.84 268.80)" >Inulin</text>
<rect x="166.76" y="246.71" width="8.2" height="17.59" fill="#b9b9b9" stroke="#8a8a8a" stroke-width="0.5"/>
<line x1="170.86" y1="247.23" x2="170.86" y2="246.18" stroke="#222" stroke-width="0.6" />
<line x1="169.36" y1="247.23" x2="172.36" y2="247.23" stroke="#222" stroke-width="0.6" />
<line x1="169.36" y1="246.18" x2="172.36" y2="246.18" stroke="#222" stroke-width="0.6" />
<circle cx="168.26" cy="246.78" r="1.30" fill="#111" />
<circle cx="170.76" cy="246.65" r="1.30" fill="#111" />
<circle cx="173.42" cy="246.54" r="1.30" fill="#111" />
<text x="174.06" y="268.80" font-size="8.85" text-anchor="end" fill="#2a35e0" textLength="37.26" lengthAdjust="spacingAndGlyphs" transform="rotate(-90 174.06 268.80)" >Iopamidol</text>
<rect x="175.98" y="247.60" width="8.2" height="16.70" fill="#b9b9b9" stroke="#8a8a8a" stroke-width="0.5"/>
<line x1="180.08" y1="248.10" x2="180.08" y2="247.10" stroke="#222" stroke-width="0.6" />
<line x1="178.58" y1="248.10" x2="181.58" y2="248.10" stroke="#222" stroke-width="0.6" />
<line x1="178.58" y1="247.10" x2="181.58" y2="247.10" stroke="#222" stroke-width="0.6" />
<circle cx="177.89" cy="247.50" r="1.30" fill="#111" />
<circle cx="180.22" cy="247.97" r="1.30" fill="#111" />
<circle cx="182.60" cy="247.37" r="1.30" fill="#111" />
<text x="183.28" y="268.80" font-size="8.85" text-anchor="end" fill="#2a35e0" textLength="38.22" lengthAdjust="spacingAndGlyphs" transform="rotate(-90 183.28 268.80)" >Iopromide</text>
<rect x="185.20" y="247.74" width="8.2" height="16.56" fill="#b9b9b9" stroke="#8a8a8a" stroke-width="0.5"/>
<line x1="189.30" y1="248.24" x2="189.30" y2="247.24" stroke="#222" stroke-width="0.6" />
<line x1="187.80" y1="248.24" x2="190.80" y2="248.24" stroke="#222" stroke-width="0.6" />
<line x1="187.80" y1="247.24" x2="190.80" y2="247.24" stroke="#222" stroke-width="0.6" />
<circle cx="187.40" cy="247.49" r="1.30" fill="#111" />
<circle cx="189.21" cy="247.82" r="1.30" fill="#111" />
<circle cx="191.18" cy="247.63" r="1.30" fill="#111" />
<text x="192.50" y="268.80" font-size="8.85" text-anchor="end" fill="#2a35e0" textLength="27.65" lengthAdjust="spacingAndGlyphs" transform="rotate(-90 192.50 268.80)" >Iohexol</text>
<rect x="194.42" y="248.02" width="8.2" height="16.28" fill="#b9b9b9" stroke="#8a8a8a" stroke-width="0.5"/>
<line x1="198.52" y1="248.50" x2="198.52" y2="247.53" stroke="#222" stroke-width="0.6" />
<line x1="197.02" y1="248.50" x2="200.02" y2="248.50" stroke="#222" stroke-width="0.6" />
<line x1="197.02" y1="247.53" x2="200.02" y2="247.53" stroke="#222" stroke-width="0.6" />
<circle cx="195.97" cy="248.37" r="1.30" fill="#111" />
<circle cx="198.29" cy="248.29" r="1.30" fill="#111" />
<circle cx="200.59" cy="248.38" r="1.30" fill="#111" />
<text x="201.72" y="268.80" font-size="8.85" text-anchor="end" fill="#2a35e0" textLength="24.76" lengthAdjust="spacingAndGlyphs" transform="rotate(-90 201.72 268.80)" >Ioxilan</text>
<rect x="203.64" y="248.29" width="8.2" height="16.01" fill="#b9b9b9" stroke="#8a8a8a" stroke-width="0.5"/>
<line x1="207.74" y1="248.77" x2="207.74" y2="247.81" stroke="#222" stroke-width="0.6" />
<line x1="206.24" y1="248.77" x2="209.24" y2="248.77" stroke="#222" stroke-width="0.6" />
<line x1="206.24" y1="247.81" x2="209.24" y2="247.81" stroke="#222" stroke-width="0.6" />
<circle cx="205.14" cy="248.57" r="1.30" fill="#111" />
<circle cx="207.42" cy="248.40" r="1.30" fill="#111" />
<circle cx="209.56" cy="247.99" r="1.30" fill="#111" />
<text x="210.94" y="268.80" font-size="8.85" text-anchor="end" fill="#2a35e0" textLength="30.05" lengthAdjust="spacingAndGlyphs" transform="rotate(-90 210.94 268.80)" >Ioversol</text>
<rect x="212.86" y="248.43" width="8.2" height="15.87" fill="#b9b9b9" stroke="#8a8a8a" stroke-width="0.5"/>
<line x1="216.96" y1="248.91" x2="216.96" y2="247.95" stroke="#222" stroke-width="0.6" />
<line x1="215.46" y1="248.91" x2="218.46" y2="248.91" stroke="#222" stroke-width="0.6" />
<line x1="215.46" y1="247.95" x2="218.46" y2="247.95" stroke="#222" stroke-width="0.6" />
<circle cx="214.85" cy="248.71" r="1.30" fill="#111" />
<circle cx="216.76" cy="248.55" r="1.30" fill="#111" />
<circle cx="219.05" cy="248.73" r="1.30" fill="#111" />
<text x="220.16" y="268.80" font-size="8.85" text-anchor="end" fill="#2a35e0" textLength="47.12" lengthAdjust="spacingAndGlyphs" transform="rotate(-90 220.16 268.80)" >Ioxaglic acid</text>
<rect x="222.08" y="248.71" width="8.2" height="15.59" fill="#b9b9b9" stroke="#8a8a8a" stroke-width="0.5"/>
<line x1="226.18" y1="249.17" x2="226.18" y2="248.24" stroke="#222" stroke-width="0.6" />
<line x1="224.68" y1="249.17" x2="227.68" y2="249.17" stroke="#222" stroke-width="0.6" />
<line x1="224.68" y1="248.24" x2="227.68" y2="248.24" stroke="#222" stroke-width="0.6" />
<circle cx="224.26" cy="248.32" r="1.30" fill="#111" />
<circle cx="226.15" cy="248.72" r="1.30" fill="#111" />
<circle cx="228.05" cy="249.02" r="1.30" fill="#111" />
<text x="229.38" y="268.80" font-size="8.85" text-anchor="end" fill="#2a35e0" textLength="33.41" lengthAdjust="spacingAndGlyphs" transform="rotate(-90 229.38 268.80)" >Iomeprol</text>
<rect x="231.30" y="248.98" width="8.2" height="15.32" fill="#b9b9b9" stroke="#8a8a8a" stroke-width="0.5"/>
<line x1="235.40" y1="249.44" x2="235.40" y2="248.52" stroke="#222" stroke-width="0.6" />
<line x1="233.90" y1="249.44" x2="236.90" y2="249.44" stroke="#222" stroke-width="0.6" />
<line x1="233.90" y1="248.52" x2="236.90" y2="248.52" stroke="#222" stroke-width="0.6" />
<circle cx="233.07" cy="249.16" r="1.30" fill="#111" />
<circle cx="235.66" cy="249.24" r="1.30" fill="#111" />
<circle cx="237.22" cy="248.64" r="1.30" fill="#111" />
<text x="238.60" y="268.80" font-size="8.85" text-anchor="end" fill="#22a030" textLength="58.41" lengthAdjust="spacingAndGlyphs" transform="rotate(-90 238.60 268.80)" >Isomaltodextrin</text>
<rect x="240.52" y="249.67" width="8.2" height="14.63" fill="#b9b9b9" stroke="#8a8a8a" stroke-width="0.5"/>
<line x1="244.62" y1="250.11" x2="244.62" y2="249.23" stroke="#222" stroke-width="0.6" />
<line x1="243.12" y1="250.11" x2="246.12" y2="250.11" stroke="#222" stroke-width="0.6" />
<line x1="243.12" y1="249.23" x2="246.12" y2="249.23" stroke="#222" stroke-width="0.6" />
<circle cx="242.44" cy="249.93" r="1.30" fill="#111" />
<circle cx="244.65" cy="250.02" r="1.30" fill="#111" />
<circle cx="246.84" cy="249.32" r="1.30" fill="#111" />
<text x="247.82" y="268.80" font-size="8.85" text-anchor="end" fill="#22a030" textLength="17.7" lengthAdjust="spacingAndGlyphs" transform="rotate(-90 247.82 268.80)" >RRM</text>
<rect x="249.74" y="250.16" width="8.2" height="14.15" fill="#b9b9b9" stroke="#8a8a8a" stroke-width="0.5"/>
<line x1="253.84" y1="250.58" x2="253.84" y2="249.73" stroke="#222" stroke-width="0.6" />
<line x1="252.34" y1="250.58" x2="255.34" y2="250.58" stroke="#222" stroke-width="0.6" />
<line x1="252.34" y1="249.73" x2="255.34" y2="249.73" stroke="#222" stroke-width="0.6" />
<circle cx="251.93" cy="250.02" r="1.30" fill="#111" />
<circle cx="253.65" cy="250.25" r="1.30" fill="#111" />
<circle cx="255.77" cy="249.96" r="1.30" fill="#111" />
<text x="257.04" y="268.80" font-size="8.85" text-anchor="end" fill="#22a030" textLength="16.41" lengthAdjust="spacingAndGlyphs" transform="rotate(-90 257.04 268.80)" >RM2</text>
<rect x="258.96" y="250.50" width="8.2" height="13.80" fill="#b9b9b9" stroke="#8a8a8a" stroke-width="0.5"/>
<line x1="263.06" y1="250.91" x2="263.06" y2="250.09" stroke="#222" stroke-width="0.6" />
<line x1="261.56" y1="250.91" x2="264.56" y2="250.91" stroke="#222" stroke-width="0.6" />
<line x1="261.56" y1="250.09" x2="264.56" y2="250.09" stroke="#222" stroke-width="0.6" />
<circle cx="260.89" cy="250.31" r="1.30" fill="#111" />
<circle cx="262.92" cy="250.69" r="1.30" fill="#111" />
<circle cx="265.51" cy="250.17" r="1.30" fill="#111" />
<text x="266.26" y="268.80" font-size="8.85" text-anchor="end" fill="#22a030" textLength="23.46" lengthAdjust="spacingAndGlyphs" transform="rotate(-90 266.26 268.80)" >Stevia</text>
<rect x="268.18" y="257.06" width="8.2" height="7.25" fill="#b9b9b9" stroke="#8a8a8a" stroke-width="0.5"/>
<line x1="272.28" y1="257.27" x2="272.28" y2="256.84" stroke="#222" stroke-width="0.6" />
<line x1="270.78" y1="257.27" x2="273.78" y2="257.27" stroke="#222" stroke-width="0.6" />
<line x1="270.78" y1="256.84" x2="273.78" y2="256.84" stroke="#222" stroke-width="0.6" />
<circle cx="270.36" cy="256.94" r="1.30" fill="#111" />
<circle cx="272.53" cy="256.97" r="1.30" fill="#111" />
<circle cx="274.26" cy="257.05" r="1.30" fill="#111" />
<text x="275.48" y="268.80" font-size="8.85" text-anchor="end" fill="#2a35e0" textLength="28.61" lengthAdjust="spacingAndGlyphs" transform="rotate(-90 275.48 268.80)" >Iotrolan</text>
<rect x="277.40" y="257.75" width="8.2" height="6.56" fill="#b9b9b9" stroke="#8a8a8a" stroke-width="0.5"/>
<line x1="281.50" y1="257.94" x2="281.50" y2="257.55" stroke="#222" stroke-width="0.6" />
<line x1="280.00" y1="257.94" x2="283.00" y2="257.94" stroke="#222" stroke-width="0.6" />
<line x1="280.00" y1="257.55" x2="283.00" y2="257.55" stroke="#222" stroke-width="0.6" />
<circle cx="279.18" cy="257.90" r="1.30" fill="#111" />
<circle cx="281.12" cy="257.82" r="1.30" fill="#111" />
<circle cx="283.51" cy="257.68" r="1.30" fill="#111" />
<text x="284.70" y="268.80" font-size="8.85" text-anchor="end" fill="#2a35e0" textLength="34.38" lengthAdjust="spacingAndGlyphs" transform="rotate(-90 284.70 268.80)" >Iodixanol</text>
<rect x="286.62" y="259.33" width="8.2" height="4.97" fill="#b9b9b9" stroke="#8a8a8a" stroke-width="0.5"/>
<line x1="290.72" y1="259.48" x2="290.72" y2="259.18" stroke="#222" stroke-width="0.6" />
<line x1="289.22" y1="259.48" x2="292.22" y2="259.48" stroke="#222" stroke-width="0.6" />
<line x1="289.22" y1="259.18" x2="292.22" y2="259.18" stroke="#222" stroke-width="0.6" />
<circle cx="288.89" cy="259.35" r="1.30" fill="#111" />
<circle cx="291.07" cy="259.21" r="1.30" fill="#111" />
<circle cx="293.28" cy="259.37" r="1.30" fill="#111" />
<text x="293.92" y="268.80" font-size="8.85" text-anchor="end" fill="#ee1c25" textLength="32.62" lengthAdjust="spacingAndGlyphs" transform="rotate(-90 293.92 268.80)" >Ficoll400</text>
<rect x="295.84" y="259.47" width="8.2" height="4.83" fill="#b9b9b9" stroke="#8a8a8a" stroke-width="0.5"/>
<line x1="299.94" y1="259.61" x2="299.94" y2="259.33" stroke="#222" stroke-width="0.6" />
<line x1="298.44" y1="259.61" x2="301.44" y2="259.61" stroke="#222" stroke-width="0.6" />
<line x1="298.44" y1="259.33" x2="301.44" y2="259.33" stroke="#222" stroke-width="0.6" />
<circle cx="297.52" cy="259.54" r="1.30" fill="#111" />
<circle cx="299.70" cy="259.54" r="1.30" fill="#111" />
<circle cx="302.24" cy="259.37" r="1.30" fill="#111" />
<text x="303.14" y="268.80" font-size="8.85" text-anchor="end" fill="#22a030" textLength="29.66" lengthAdjust="spacingAndGlyphs" transform="rotate(-90 303.14 268.80)" >Dextran</text>
<rect x="305.06" y="260.02" width="8.2" height="4.28" fill="#b9b9b9" stroke="#8a8a8a" stroke-width="0.5"/>
<line x1="309.16" y1="260.15" x2="309.16" y2="259.89" stroke="#222" stroke-width="0.6" />
<line x1="307.66" y1="260.15" x2="310.66" y2="260.15" stroke="#222" stroke-width="0.6" />
<line x1="307.66" y1="259.89" x2="310.66" y2="259.89" stroke="#222" stroke-width="0.6" />
<circle cx="307.23" cy="260.03" r="1.30" fill="#111" />
<circle cx="309.28" cy="259.96" r="1.30" fill="#111" />
<circle cx="311.03" cy="259.99" r="1.30" fill="#111" />
<text x="312.36" y="268.80" font-size="8.85" text-anchor="end" fill="#ee1c25" textLength="28.3" lengthAdjust="spacingAndGlyphs" transform="rotate(-90 312.36 268.80)" >Ficoll70</text>
<rect x="314.28" y="260.99" width="8.2" height="3.31" fill="#b9b9b9" stroke="#8a8a8a" stroke-width="0.5"/>
<line x1="318.38" y1="261.09" x2="318.38" y2="260.89" stroke="#222" stroke-width="0.6" />
<line x1="316.88" y1="261.09" x2="319.88" y2="261.09" stroke="#222" stroke-width="0.6" />
<line x1="316.88" y1="260.89" x2="319.88" y2="260.89" stroke="#222" stroke-width="0.6" />
<circle cx="316.51" cy="260.94" r="1.30" fill="#111" />
<circle cx="318.58" cy="260.99" r="1.30" fill="#111" />
<circle cx="320.32" cy="260.94" r="1.30" fill="#111" />
<text x="321.58" y="268.80" font-size="8.85" text-anchor="end" fill="#ee1c25" textLength="24.2" lengthAdjust="spacingAndGlyphs" transform="rotate(-90 321.58 268.80)" >BSA#1</text>
<rect x="323.50" y="261.19" width="8.2" height="3.11" fill="#b9b9b9" stroke="#8a8a8a" stroke-width="0.5"/>
<line x1="327.60" y1="261.29" x2="327.60" y2="261.10" stroke="#222" stroke-width="0.6" />
<line x1="326.10" y1="261.29" x2="329.10" y2="261.29" stroke="#222" stroke-width="0.6" />
<line x1="326.10" y1="261.10" x2="329.10" y2="261.10" stroke="#222" stroke-width="0.6" />
<circle cx="325.27" cy="261.15" r="1.30" fill="#111" />
<circle cx="327.98" cy="261.21" r="1.30" fill="#111" />
<circle cx="329.72" cy="261.13" r="1.30" fill="#111" />
<text x="330.80" y="268.80" font-size="8.85" text-anchor="end" fill="#ee1c25" textLength="22.03" lengthAdjust="spacingAndGlyphs" transform="rotate(-90 330.80 268.80)" >HBCD</text>
<rect x="332.72" y="263.75" width="8.2" height="0.55" fill="#b9b9b9" stroke="#8a8a8a" stroke-width="0.5"/>
<line x1="336.82" y1="263.76" x2="336.82" y2="263.73" stroke="#222" stroke-width="0.6" />
<line x1="335.32" y1="263.76" x2="338.32" y2="263.76" stroke="#222" stroke-width="0.6" />
<line x1="335.32" y1="263.73" x2="338.32" y2="263.73" stroke="#222" stroke-width="0.6" />
<circle cx="334.80" cy="263.76" r="1.30" fill="#111" />
<circle cx="336.52" cy="263.76" r="1.30" fill="#111" />
<circle cx="339.34" cy="263.74" r="1.30" fill="#111" />
<text x="340.02" y="268.80" font-size="8.85" text-anchor="end" fill="#ee1c25" textLength="24.2" lengthAdjust="spacingAndGlyphs" transform="rotate(-90 340.02 268.80)" >BSA#2</text>
<text x="372.00" y="184.80" font-size="13" fill="#000" font-weight="bold" >e</text>
<text x="459.40" y="192.00" font-size="10.53" text-anchor="middle" textLength="40.91" lengthAdjust="spacingAndGlyphs" >Iodixanol</text>
<text x="600.40" y="193.70" font-size="10.53" text-anchor="middle" textLength="28.8" lengthAdjust="spacingAndGlyphs" >BSA#1</text>
<text x="383.60" y="243.30" font-size="10.53" text-anchor="middle" textLength="81.53" lengthAdjust="spacingAndGlyphs" transform="rotate(-90 383.60 243.30)" >Transmittance (%)</text>
<line x1="408.20" y1="195.50" x2="408.20" y2="290.60" stroke="#444" stroke-width="0.8" />
<line x1="408.20" y1="290.60" x2="511.80" y2="290.60" stroke="#444" stroke-width="0.8" />
<line x1="410.20" y1="290.60" x2="408.20" y2="290.60" stroke="#444" stroke-width="0.8" />
<text x="404.70" y="293.70" font-size="9.63" text-anchor="end" textLength="4.71" lengthAdjust="spacingAndGlyphs" >0</text>
<line x1="410.20" y1="271.76" x2="408.20" y2="271.76" stroke="#444" stroke-width="0.8" />
<text x="404.70" y="274.86" font-size="9.63" text-anchor="end" textLength="9.41" lengthAdjust="spacingAndGlyphs" >20</text>
<line x1="410.20" y1="252.92" x2="408.20" y2="252.92" stroke="#444" stroke-width="0.8" />
<text x="404.70" y="256.02" font-size="9.63" text-anchor="end" textLength="9.41" lengthAdjust="spacingAndGlyphs" >40</text>
<line x1="410.20" y1="234.08" x2="408.20" y2="234.08" stroke="#444" stroke-width="0.8" />
<text x="404.70" y="237.18" font-size="9.63" text-anchor="end" textLength="9.41" lengthAdjust="spacingAndGlyphs" >60</text>
<line x1="410.20" y1="215.24" x2="408.20" y2="215.24" stroke="#444" stroke-width="0.8" />
<text x="404.70" y="218.34" font-size="9.63" text-anchor="end" textLength="9.41" lengthAdjust="spacingAndGlyphs" >80</text>
<line x1="410.20" y1="196.40" x2="408.20" y2="196.40" stroke="#444" stroke-width="0.8" />
<text x="404.70" y="199.50" font-size="9.63" text-anchor="end" textLength="14.12" lengthAdjust="spacingAndGlyphs" >100</text>
<line x1="416.50" y1="290.60" x2="416.50" y2="288.40" stroke="#444" stroke-width="0.8" />
<text x="419.30" y="296.30" font-size="9.74" text-anchor="end" textLength="21.42" lengthAdjust="spacingAndGlyphs" transform="rotate(-45 419.30 296.30)" >1.357</text>
<line x1="428.93" y1="290.60" x2="428.93" y2="288.40" stroke="#444" stroke-width="0.8" />
<text x="431.73" y="296.30" font-size="9.74" text-anchor="end" textLength="16.66" lengthAdjust="spacingAndGlyphs" transform="rotate(-45 431.73 296.30)" >1.36</text>
<line x1="441.36" y1="290.60" x2="441.36" y2="288.40" stroke="#444" stroke-width="0.8" />
<text x="444.16" y="296.30" font-size="9.74" text-anchor="end" textLength="21.42" lengthAdjust="spacingAndGlyphs" transform="rotate(-45 444.16 296.30)" >1.363</text>
<line x1="453.79" y1="290.60" x2="453.79" y2="288.40" stroke="#444" stroke-width="0.8" />
<text x="456.59" y="296.30" font-size="9.74" text-anchor="end" textLength="21.42" lengthAdjust="spacingAndGlyphs" transform="rotate(-45 456.59 296.30)" >1.366</text>
<line x1="466.22" y1="290.60" x2="466.22" y2="288.40" stroke="#444" stroke-width="0.8" />
<text x="469.02" y="296.30" font-size="9.74" text-anchor="end" textLength="21.42" lengthAdjust="spacingAndGlyphs" transform="rotate(-45 469.02 296.30)" >1.369</text>
<line x1="478.65" y1="290.60" x2="478.65" y2="288.40" stroke="#444" stroke-width="0.8" />
<text x="481.45" y="296.30" font-size="9.74" text-anchor="end" textLength="21.42" lengthAdjust="spacingAndGlyphs" transform="rotate(-45 481.45 296.30)" >1.372</text>
<line x1="491.08" y1="290.60" x2="491.08" y2="288.40" stroke="#444" stroke-width="0.8" />
<text x="493.88" y="296.30" font-size="9.74" text-anchor="end" textLength="21.42" lengthAdjust="spacingAndGlyphs" transform="rotate(-45 493.88 296.30)" >1.375</text>
<line x1="503.51" y1="290.60" x2="503.51" y2="288.40" stroke="#444" stroke-width="0.8" />
<text x="506.31" y="296.30" font-size="9.74" text-anchor="end" textLength="21.42" lengthAdjust="spacingAndGlyphs" transform="rotate(-45 506.31 296.30)" >1.378</text>
<text x="459.50" y="326.50" font-size="10.53" text-anchor="middle" textLength="72.76" lengthAdjust="spacingAndGlyphs" >Refractive index</text>
<polyline points="428.33,262.34 440.76,245.38 453.19,232.20 465.62,227.49 478.05,230.31 490.48,243.50" fill="none" stroke="#9da6f5" stroke-width="1.1" />
<line x1="428.33" y1="265.17" x2="428.33" y2="259.51" stroke="#9da6f5" stroke-width="0.8" />
<line x1="426.53" y1="265.17" x2="430.13" y2="265.17" stroke="#9da6f5" stroke-width="0.8" />
<line x1="426.53" y1="259.51" x2="430.13" y2="259.51" stroke="#9da6f5" stroke-width="0.8" />
<line x1="440.76" y1="248.78" x2="440.76" y2="241.99" stroke="#9da6f5" stroke-width="0.8" />
<line x1="438.96" y1="248.78" x2="442.56" y2="248.78" stroke="#9da6f5" stroke-width="0.8" />
<line x1="438.96" y1="241.99" x2="442.56" y2="241.99" stroke="#9da6f5" stroke-width="0.8" />
<line x1="453.19" y1="234.46" x2="453.19" y2="229.94" stroke="#9da6f5" stroke-width="0.8" />
<line x1="451.39" y1="234.46" x2="454.99" y2="234.46" stroke="#9da6f5" stroke-width="0.8" />
<line x1="451.39" y1="229.94" x2="454.99" y2="229.94" stroke="#9da6f5" stroke-width="0.8" />
<line x1="465.62" y1="228.62" x2="465.62" y2="226.36" stroke="#9da6f5" stroke-width="0.8" />
<line x1="463.82" y1="228.62" x2="467.42" y2="228.62" stroke="#9da6f5" stroke-width="0.8" />
<line x1="463.82" y1="226.36" x2="467.42" y2="226.36" stroke="#9da6f5" stroke-width="0.8" />
<line x1="478.05" y1="232.01" x2="478.05" y2="228.62" stroke="#9da6f5" stroke-width="0.8" />
<line x1="476.25" y1="232.01" x2="479.85" y2="232.01" stroke="#9da6f5" stroke-width="0.8" />
<line x1="476.25" y1="228.62" x2="479.85" y2="228.62" stroke="#9da6f5" stroke-width="0.8" />
<line x1="490.48" y1="245.76" x2="490.48" y2="241.24" stroke="#9da6f5" stroke-width="0.8" />
<line x1="488.68" y1="245.76" x2="492.28" y2="245.76" stroke="#9da6f5" stroke-width="0.8" />
<line x1="488.68" y1="241.24" x2="492.28" y2="241.24" stroke="#9da6f5" stroke-width="0.8" />
<polyline points="428.93,264.22 441.36,251.04 453.79,234.08 466.22,227.49 478.65,229.37 491.08,245.38" fill="none" stroke="#5b67ea" stroke-width="1.1" />
<line x1="428.93" y1="268.46" x2="428.93" y2="259.99" stroke="#5b67ea" stroke-width="0.8" />
<line x1="427.13" y1="268.46" x2="430.73" y2="268.46" stroke="#5b67ea" stroke-width="0.8" />
<line x1="427.13" y1="259.99" x2="430.73" y2="259.99" stroke="#5b67ea" stroke-width="0.8" />
<line x1="441.36" y1="256.12" x2="441.36" y2="245.95" stroke="#5b67ea" stroke-width="0.8" />
<line x1="439.56" y1="256.12" x2="443.16" y2="256.12" stroke="#5b67ea" stroke-width="0.8" />
<line x1="439.56" y1="245.95" x2="443.16" y2="245.95" stroke="#5b67ea" stroke-width="0.8" />
<line x1="453.79" y1="237.47" x2="453.79" y2="230.69" stroke="#5b67ea" stroke-width="0.8" />
<line x1="451.99" y1="237.47" x2="455.59" y2="237.47" stroke="#5b67ea" stroke-width="0.8" />
<line x1="451.99" y1="230.69" x2="455.59" y2="230.69" stroke="#5b67ea" stroke-width="0.8" />
<line x1="466.22" y1="229.18" x2="466.22" y2="225.79" stroke="#5b67ea" stroke-width="0.8" />
<line x1="464.42" y1="229.18" x2="468.02" y2="229.18" stroke="#5b67ea" stroke-width="0.8" />
<line x1="464.42" y1="225.79" x2="468.02" y2="225.79" stroke="#5b67ea" stroke-width="0.8" />
<line x1="478.65" y1="231.91" x2="478.65" y2="226.83" stroke="#5b67ea" stroke-width="0.8" />
<line x1="476.85" y1="231.91" x2="480.45" y2="231.91" stroke="#5b67ea" stroke-width="0.8" />
<line x1="476.85" y1="226.83" x2="480.45" y2="226.83" stroke="#5b67ea" stroke-width="0.8" />
<line x1="491.08" y1="248.78" x2="491.08" y2="241.99" stroke="#5b67ea" stroke-width="0.8" />
<line x1="489.28" y1="248.78" x2="492.88" y2="248.78" stroke="#5b67ea" stroke-width="0.8" />
<line x1="489.28" y1="241.99" x2="492.88" y2="241.99" stroke="#5b67ea" stroke-width="0.8" />
<polyline points="429.53,266.11 441.96,255.75 454.39,236.91 466.82,228.43 479.25,231.25 491.68,245.38" fill="none" stroke="#1f2ad8" stroke-width="1.1" />
<line x1="429.53" y1="271.76" x2="429.53" y2="260.46" stroke="#1f2ad8" stroke-width="0.8" />
<line x1="427.73" y1="271.76" x2="431.33" y2="271.76" stroke="#1f2ad8" stroke-width="0.8" />
<line x1="427.73" y1="260.46" x2="431.33" y2="260.46" stroke="#1f2ad8" stroke-width="0.8" />
<line x1="441.96" y1="262.53" x2="441.96" y2="248.96" stroke="#1f2ad8" stroke-width="0.8" />
<line x1="440.16" y1="262.53" x2="443.76" y2="262.53" stroke="#1f2ad8" stroke-width="0.8" />
<line x1="440.16" y1="248.96" x2="443.76" y2="248.96" stroke="#1f2ad8" stroke-width="0.8" />
<line x1="454.39" y1="241.43" x2="454.39" y2="232.38" stroke="#1f2ad8" stroke-width="0.8" />
<line x1="452.59" y1="241.43" x2="456.19" y2="241.43" stroke="#1f2ad8" stroke-width="0.8" />
<line x1="452.59" y1="232.38" x2="456.19" y2="232.38" stroke="#1f2ad8" stroke-width="0.8" />
<line x1="466.82" y1="230.69" x2="466.82" y2="226.17" stroke="#1f2ad8" stroke-width="0.8" />
<line x1="465.02" y1="230.69" x2="468.62" y2="230.69" stroke="#1f2ad8" stroke-width="0.8" />
<line x1="465.02" y1="226.17" x2="468.62" y2="226.17" stroke="#1f2ad8" stroke-width="0.8" />
<line x1="479.25" y1="234.65" x2="479.25" y2="227.86" stroke="#1f2ad8" stroke-width="0.8" />
<line x1="477.45" y1="234.65" x2="481.05" y2="234.65" stroke="#1f2ad8" stroke-width="0.8" />
<line x1="477.45" y1="227.86" x2="481.05" y2="227.86" stroke="#1f2ad8" stroke-width="0.8" />
<line x1="491.68" y1="249.91" x2="491.68" y2="240.86" stroke="#1f2ad8" stroke-width="0.8" />
<line x1="489.88" y1="249.91" x2="493.48" y2="249.91" stroke="#1f2ad8" stroke-width="0.8" />
<line x1="489.88" y1="240.86" x2="493.48" y2="240.86" stroke="#1f2ad8" stroke-width="0.8" />
<line x1="455.90" y1="200.10" x2="469.40" y2="200.10" stroke="#9da6f5" stroke-width="0.9" />
<line x1="462.90" y1="197.50" x2="462.90" y2="202.70" stroke="#9da6f5" stroke-width="0.8" />
<line x1="461.50" y1="197.50" x2="464.30" y2="197.50" stroke="#9da6f5" stroke-width="0.8" />
<line x1="461.50" y1="202.70" x2="464.30" y2="202.70" stroke="#9da6f5" stroke-width="0.8" />
<text x="474.70" y="203.20" font-size="9.12" textLength="58.5" lengthAdjust="spacingAndGlyphs" >300 mOsm kg<tspan font-size="6" dy="-3.2">−1</tspan></text>
<line x1="455.90" y1="209.75" x2="469.40" y2="209.75" stroke="#5b67ea" stroke-width="0.9" />
<line x1="462.90" y1="207.15" x2="462.90" y2="212.35" stroke="#5b67ea" stroke-width="0.8" />
<line x1="461.50" y1="207.15" x2="464.30" y2="207.15" stroke="#5b67ea" stroke-width="0.8" />
<line x1="461.50" y1="212.35" x2="464.30" y2="212.35" stroke="#5b67ea" stroke-width="0.8" />
<text x="474.70" y="212.85" font-size="9.12" textLength="58.5" lengthAdjust="spacingAndGlyphs" >315 mOsm kg<tspan font-size="6" dy="-3.2">−1</tspan></text>
<line x1="455.90" y1="219.40" x2="469.40" y2="219.40" stroke="#1f2ad8" stroke-width="0.9" />
<line x1="462.90" y1="216.80" x2="462.90" y2="222.00" stroke="#1f2ad8" stroke-width="0.8" />
<line x1="461.50" y1="216.80" x2="464.30" y2="216.80" stroke="#1f2ad8" stroke-width="0.8" />
<line x1="461.50" y1="222.00" x2="464.30" y2="222.00" stroke="#1f2ad8" stroke-width="0.8" />
<text x="474.70" y="222.50" font-size="9.12" textLength="58.5" lengthAdjust="spacingAndGlyphs" >330 mOsm kg<tspan font-size="6" dy="-3.2">−1</tspan></text>
<line x1="548.80" y1="195.50" x2="548.80" y2="290.60" stroke="#444" stroke-width="0.8" />
<line x1="548.80" y1="290.60" x2="652.40" y2="290.60" stroke="#444" stroke-width="0.8" />
<line x1="550.80" y1="290.60" x2="548.80" y2="290.60" stroke="#444" stroke-width="0.8" />
<line x1="550.80" y1="271.76" x2="548.80" y2="271.76" stroke="#444" stroke-width="0.8" />
<line x1="550.80" y1="252.92" x2="548.80" y2="252.92" stroke="#444" stroke-width="0.8" />
<line x1="550.80" y1="234.08" x2="548.80" y2="234.08" stroke="#444" stroke-width="0.8" />
<line x1="550.80" y1="215.24" x2="548.80" y2="215.24" stroke="#444" stroke-width="0.8" />
<line x1="550.80" y1="196.40" x2="548.80" y2="196.40" stroke="#444" stroke-width="0.8" />
<line x1="557.10" y1="290.60" x2="557.10" y2="288.40" stroke="#444" stroke-width="0.8" />
<text x="559.90" y="296.30" font-size="9.74" text-anchor="end" textLength="21.42" lengthAdjust="spacingAndGlyphs" transform="rotate(-45 559.90 296.30)" >1.357</text>
<line x1="569.53" y1="290.60" x2="569.53" y2="288.40" stroke="#444" stroke-width="0.8" />
<text x="572.33" y="296.30" font-size="9.74" text-anchor="end" textLength="16.66" lengthAdjust="spacingAndGlyphs" transform="rotate(-45 572.33 296.30)" >1.36</text>
<line x1="581.96" y1="290.60" x2="581.96" y2="288.40" stroke="#444" stroke-width="0.8" />
<text x="584.76" y="296.30" font-size="9.74" text-anchor="end" textLength="21.42" lengthAdjust="spacingAndGlyphs" transform="rotate(-45 584.76 296.30)" >1.363</text>
<line x1="594.39" y1="290.60" x2="594.39" y2="288.40" stroke="#444" stroke-width="0.8" />
<text x="597.19" y="296.30" font-size="9.74" text-anchor="end" textLength="21.42" lengthAdjust="spacingAndGlyphs" transform="rotate(-45 597.19 296.30)" >1.366</text>
<line x1="606.82" y1="290.60" x2="606.82" y2="288.40" stroke="#444" stroke-width="0.8" />
<text x="609.62" y="296.30" font-size="9.74" text-anchor="end" textLength="21.42" lengthAdjust="spacingAndGlyphs" transform="rotate(-45 609.62 296.30)" >1.369</text>
<line x1="619.25" y1="290.60" x2="619.25" y2="288.40" stroke="#444" stroke-width="0.8" />
<text x="622.05" y="296.30" font-size="9.74" text-anchor="end" textLength="21.42" lengthAdjust="spacingAndGlyphs" transform="rotate(-45 622.05 296.30)" >1.372</text>
<line x1="631.68" y1="290.60" x2="631.68" y2="288.40" stroke="#444" stroke-width="0.8" />
<text x="634.48" y="296.30" font-size="9.74" text-anchor="end" textLength="21.42" lengthAdjust="spacingAndGlyphs" transform="rotate(-45 634.48 296.30)" >1.375</text>
<line x1="644.11" y1="290.60" x2="644.11" y2="288.40" stroke="#444" stroke-width="0.8" />
<text x="646.91" y="296.30" font-size="9.74" text-anchor="end" textLength="21.42" lengthAdjust="spacingAndGlyphs" transform="rotate(-45 646.91 296.30)" >1.378</text>
<text x="600.10" y="326.50" font-size="10.53" text-anchor="middle" textLength="72.76" lengthAdjust="spacingAndGlyphs" >Refractive index</text>
<polyline points="568.93,262.34 581.36,238.79 593.79,238.79 606.22,237.85 618.65,247.27 631.08,260.46" fill="none" stroke="#f7a0a0" stroke-width="1.1" />
<line x1="568.93" y1="266.30" x2="568.93" y2="258.38" stroke="#f7a0a0" stroke-width="0.8" />
<line x1="567.13" y1="266.30" x2="570.73" y2="266.30" stroke="#f7a0a0" stroke-width="0.8" />
<line x1="567.13" y1="258.38" x2="570.73" y2="258.38" stroke="#f7a0a0" stroke-width="0.8" />
<line x1="581.36" y1="242.18" x2="581.36" y2="235.40" stroke="#f7a0a0" stroke-width="0.8" />
<line x1="579.56" y1="242.18" x2="583.16" y2="242.18" stroke="#f7a0a0" stroke-width="0.8" />
<line x1="579.56" y1="235.40" x2="583.16" y2="235.40" stroke="#f7a0a0" stroke-width="0.8" />
<line x1="593.79" y1="241.62" x2="593.79" y2="235.96" stroke="#f7a0a0" stroke-width="0.8" />
<line x1="591.99" y1="241.62" x2="595.59" y2="241.62" stroke="#f7a0a0" stroke-width="0.8" />
<line x1="591.99" y1="235.96" x2="595.59" y2="235.96" stroke="#f7a0a0" stroke-width="0.8" />
<line x1="606.22" y1="241.24" x2="606.22" y2="234.46" stroke="#f7a0a0" stroke-width="0.8" />
<line x1="604.42" y1="241.24" x2="608.02" y2="241.24" stroke="#f7a0a0" stroke-width="0.8" />
<line x1="604.42" y1="234.46" x2="608.02" y2="234.46" stroke="#f7a0a0" stroke-width="0.8" />
<line x1="618.65" y1="248.96" x2="618.65" y2="245.57" stroke="#f7a0a0" stroke-width="0.8" />
<line x1="616.85" y1="248.96" x2="620.45" y2="248.96" stroke="#f7a0a0" stroke-width="0.8" />
<line x1="616.85" y1="245.57" x2="620.45" y2="245.57" stroke="#f7a0a0" stroke-width="0.8" />
<line x1="631.08" y1="263.85" x2="631.08" y2="257.06" stroke="#f7a0a0" stroke-width="0.8" />
<line x1="629.28" y1="263.85" x2="632.88" y2="263.85" stroke="#f7a0a0" stroke-width="0.8" />
<line x1="629.28" y1="257.06" x2="632.88" y2="257.06" stroke="#f7a0a0" stroke-width="0.8" />
<polyline points="569.53,264.22 581.96,241.62 594.39,237.85 606.82,235.96 619.25,250.09 631.68,262.34" fill="none" stroke="#f06060" stroke-width="1.1" />
<line x1="569.53" y1="270.16" x2="569.53" y2="258.29" stroke="#f06060" stroke-width="0.8" />
<line x1="567.73" y1="270.16" x2="571.33" y2="270.16" stroke="#f06060" stroke-width="0.8" />
<line x1="567.73" y1="258.29" x2="571.33" y2="258.29" stroke="#f06060" stroke-width="0.8" />
<line x1="581.96" y1="246.70" x2="581.96" y2="236.53" stroke="#f06060" stroke-width="0.8" />
<line x1="580.16" y1="246.70" x2="583.76" y2="246.70" stroke="#f06060" stroke-width="0.8" />
<line x1="580.16" y1="236.53" x2="583.76" y2="236.53" stroke="#f06060" stroke-width="0.8" />
<line x1="594.39" y1="242.09" x2="594.39" y2="233.61" stroke="#f06060" stroke-width="0.8" />
<line x1="592.59" y1="242.09" x2="596.19" y2="242.09" stroke="#f06060" stroke-width="0.8" />
<line x1="592.59" y1="233.61" x2="596.19" y2="233.61" stroke="#f06060" stroke-width="0.8" />
<line x1="606.82" y1="241.05" x2="606.82" y2="230.88" stroke="#f06060" stroke-width="0.8" />
<line x1="605.02" y1="241.05" x2="608.62" y2="241.05" stroke="#f06060" stroke-width="0.8" />
<line x1="605.02" y1="230.88" x2="608.62" y2="230.88" stroke="#f06060" stroke-width="0.8" />
<line x1="619.25" y1="252.64" x2="619.25" y2="247.55" stroke="#f06060" stroke-width="0.8" />
<line x1="617.45" y1="252.64" x2="621.05" y2="252.64" stroke="#f06060" stroke-width="0.8" />
<line x1="617.45" y1="247.55" x2="621.05" y2="247.55" stroke="#f06060" stroke-width="0.8" />
<line x1="631.68" y1="267.43" x2="631.68" y2="257.25" stroke="#f06060" stroke-width="0.8" />
<line x1="629.88" y1="267.43" x2="633.48" y2="267.43" stroke="#f06060" stroke-width="0.8" />
<line x1="629.88" y1="257.25" x2="633.48" y2="257.25" stroke="#f06060" stroke-width="0.8" />
<polyline points="570.13,265.17 582.56,243.50 594.99,239.73 607.42,236.91 619.85,243.50 632.28,252.92" fill="none" stroke="#e02020" stroke-width="1.1" />
<line x1="570.13" y1="273.08" x2="570.13" y2="257.25" stroke="#e02020" stroke-width="0.8" />
<line x1="568.33" y1="273.08" x2="571.93" y2="273.08" stroke="#e02020" stroke-width="0.8" />
<line x1="568.33" y1="257.25" x2="571.93" y2="257.25" stroke="#e02020" stroke-width="0.8" />
<line x1="582.56" y1="250.28" x2="582.56" y2="236.72" stroke="#e02020" stroke-width="0.8" />
<line x1="580.76" y1="250.28" x2="584.36" y2="250.28" stroke="#e02020" stroke-width="0.8" />
<line x1="580.76" y1="236.72" x2="584.36" y2="236.72" stroke="#e02020" stroke-width="0.8" />
<line x1="594.99" y1="245.38" x2="594.99" y2="234.08" stroke="#e02020" stroke-width="0.8" />
<line x1="593.19" y1="245.38" x2="596.79" y2="245.38" stroke="#e02020" stroke-width="0.8" />
<line x1="593.19" y1="234.08" x2="596.79" y2="234.08" stroke="#e02020" stroke-width="0.8" />
<line x1="607.42" y1="243.69" x2="607.42" y2="230.12" stroke="#e02020" stroke-width="0.8" />
<line x1="605.62" y1="243.69" x2="609.22" y2="243.69" stroke="#e02020" stroke-width="0.8" />
<line x1="605.62" y1="230.12" x2="609.22" y2="230.12" stroke="#e02020" stroke-width="0.8" />
<line x1="619.85" y1="246.89" x2="619.85" y2="240.11" stroke="#e02020" stroke-width="0.8" />
<line x1="618.05" y1="246.89" x2="621.65" y2="246.89" stroke="#e02020" stroke-width="0.8" />
<line x1="618.05" y1="240.11" x2="621.65" y2="240.11" stroke="#e02020" stroke-width="0.8" />
<line x1="632.28" y1="259.70" x2="632.28" y2="246.14" stroke="#e02020" stroke-width="0.8" />
<line x1="630.48" y1="259.70" x2="634.08" y2="259.70" stroke="#e02020" stroke-width="0.8" />
<line x1="630.48" y1="246.14" x2="634.08" y2="246.14" stroke="#e02020" stroke-width="0.8" />
<line x1="609.20" y1="200.10" x2="622.70" y2="200.10" stroke="#f7a0a0" stroke-width="0.9" />
<line x1="616.20" y1="197.50" x2="616.20" y2="202.70" stroke="#f7a0a0" stroke-width="0.8" />
<line x1="614.80" y1="197.50" x2="617.60" y2="197.50" stroke="#f7a0a0" stroke-width="0.8" />
<line x1="614.80" y1="202.70" x2="617.60" y2="202.70" stroke="#f7a0a0" stroke-width="0.8" />
<text x="628.00" y="203.20" font-size="9.12" textLength="57.5" lengthAdjust="spacingAndGlyphs" >300 mOsm kg<tspan font-size="6" dy="-3.2">−1</tspan></text>
<line x1="609.20" y1="209.75" x2="622.70" y2="209.75" stroke="#f06060" stroke-width="0.9" />
<line x1="616.20" y1="207.15" x2="616.20" y2="212.35" stroke="#f06060" stroke-width="0.8" />
<line x1="614.80" y1="207.15" x2="617.60" y2="207.15" stroke="#f06060" stroke-width="0.8" />
<line x1="614.80" y1="212.35" x2="617.60" y2="212.35" stroke="#f06060" stroke-width="0.8" />
<text x="628.00" y="212.85" font-size="9.12" textLength="57.5" lengthAdjust="spacingAndGlyphs" >315 mOsm kg<tspan font-size="6" dy="-3.2">−1</tspan></text>
<line x1="609.20" y1="219.40" x2="622.70" y2="219.40" stroke="#e02020" stroke-width="0.9" />
<line x1="616.20" y1="216.80" x2="616.20" y2="222.00" stroke="#e02020" stroke-width="0.8" />
<line x1="614.80" y1="216.80" x2="617.60" y2="216.80" stroke="#e02020" stroke-width="0.8" />
<line x1="614.80" y1="222.00" x2="617.60" y2="222.00" stroke="#e02020" stroke-width="0.8" />
<text x="628.00" y="222.50" font-size="9.12" textLength="57.5" lengthAdjust="spacingAndGlyphs" >330 mOsm kg<tspan font-size="6" dy="-3.2">−1</tspan></text>
<text x="639.00" y="239.60" font-size="8.96" textLength="39.52" lengthAdjust="spacingAndGlyphs" >HeLa cells</text>
<text x="1.20" y="350.00" font-size="13" fill="#000" font-weight="bold" >f</text>
<text x="75.50" y="351.30" font-size="10.53" text-anchor="middle" textLength="71.96" lengthAdjust="spacingAndGlyphs" >DMEM (RI 1.334)</text>
<text x="194.50" y="351.30" font-size="10.53" text-anchor="middle" textLength="103.32" lengthAdjust="spacingAndGlyphs" >BSA_1/DMEM (RI 1.363)</text>
<clipPath id="cf1"><rect x="17.4" y="356" width="115.8" height="96.4"/></clipPath>
<clipPath id="cf2"><rect x="136.3" y="356" width="116.5" height="96.4"/></clipPath>
<g clip-path="url(#cf1)">
<rect x="17.40" y="356.00" width="115.80" height="96.40" fill="#a4a4a4" />
<path d="M40.71,356.00 C53.97,355.15 108.17,354.31 122.00,356.00 C135.83,357.69 124.25,363.34 123.69,366.16 C123.12,368.98 121.15,370.96 118.61,372.93 C116.07,374.91 113.53,377.17 108.45,378.02 C103.37,378.86 92.92,378.86 88.13,378.02 C83.33,377.17 82.20,374.35 79.66,372.93 C77.12,371.52 75.71,370.68 72.88,369.55 C70.06,368.42 66.39,367.01 62.72,366.16 C59.05,365.31 54.26,365.31 50.87,364.47 C47.48,363.62 44.10,362.49 42.40,361.08 C40.71,359.67 27.44,356.85 40.71,356.00Z" fill="#fff" stroke="#b8b8b8" stroke-width="0.8" filter="url(#emb3)" opacity="0.3"/>
<path d="M40.71,356.00 C53.97,355.15 108.17,354.31 122.00,356.00 C135.83,357.69 124.25,363.34 123.69,366.16 C123.12,368.98 121.15,370.96 118.61,372.93 C116.07,374.91 113.53,377.17 108.45,378.02 C103.37,378.86 92.92,378.86 88.13,378.02 C83.33,377.17 82.20,374.35 79.66,372.93 C77.12,371.52 75.71,370.68 72.88,369.55 C70.06,368.42 66.39,367.01 62.72,366.16 C59.05,365.31 54.26,365.31 50.87,364.47 C47.48,363.62 44.10,362.49 42.40,361.08 C40.71,359.67 27.44,356.85 40.71,356.00Z" fill="none" stroke="#b0b0b0" stroke-width="0.7" />
<path d="M40.71,356.00 C53.97,355.15 108.17,354.31 122.00,356.00 C135.83,357.69 124.25,363.34 123.69,366.16 C123.12,368.98 121.15,370.96 118.61,372.93 C116.07,374.91 113.53,377.17 108.45,378.02 C103.37,378.86 92.92,378.86 88.13,378.02 C83.33,377.17 82.20,374.35 79.66,372.93 C77.12,371.52 75.71,370.68 72.88,369.55 C70.06,368.42 66.39,367.01 62.72,366.16 C59.05,365.31 54.26,365.31 50.87,364.47 C47.48,363.62 44.10,362.49 42.40,361.08 C40.71,359.67 27.44,356.85 40.71,356.00Z" fill="none" stroke="#6a6a6a" stroke-width="0.6" opacity="0.7" transform="translate(0.5,0.6)"/>
<path d="M29.70,379.71 C30.55,378.86 32.10,378.58 33.93,381.40 C35.77,384.22 39.16,392.41 40.71,396.64 C42.26,400.88 42.97,403.42 43.25,406.80 C43.53,410.19 42.97,413.30 42.40,416.97 C41.84,420.63 40.71,426.70 39.86,428.82 C39.02,430.94 38.45,431.08 37.32,429.67 C36.19,428.26 34.50,424.16 33.09,420.35 C31.68,416.54 29.70,410.47 28.85,406.80 C28.01,403.14 28.01,401.72 28.01,398.34 C28.01,394.95 28.57,389.59 28.85,386.48 C29.14,383.38 28.85,380.56 29.70,379.71Z" fill="#fff" stroke="#c8c8c8" stroke-width="1.4" filter="url(#emb3)"/>
<path d="M29.70,379.71 C30.55,378.86 32.10,378.58 33.93,381.40 C35.77,384.22 39.16,392.41 40.71,396.64 C42.26,400.88 42.97,403.42 43.25,406.80 C43.53,410.19 42.97,413.30 42.40,416.97 C41.84,420.63 40.71,426.70 39.86,428.82 C39.02,430.94 38.45,431.08 37.32,429.67 C36.19,428.26 34.50,424.16 33.09,420.35 C31.68,416.54 29.70,410.47 28.85,406.80 C28.01,403.14 28.01,401.72 28.01,398.34 C28.01,394.95 28.57,389.59 28.85,386.48 C29.14,383.38 28.85,380.56 29.70,379.71Z" fill="none" stroke="#c8c8c8" stroke-width="1.2" />
<path d="M29.70,379.71 C30.55,378.86 32.10,378.58 33.93,381.40 C35.77,384.22 39.16,392.41 40.71,396.64 C42.26,400.88 42.97,403.42 43.25,406.80 C43.53,410.19 42.97,413.30 42.40,416.97 C41.84,420.63 40.71,426.70 39.86,428.82 C39.02,430.94 38.45,431.08 37.32,429.67 C36.19,428.26 34.50,424.16 33.09,420.35 C31.68,416.54 29.70,410.47 28.85,406.80 C28.01,403.14 28.01,401.72 28.01,398.34 C28.01,394.95 28.57,389.59 28.85,386.48 C29.14,383.38 28.85,380.56 29.70,379.71Z" fill="none" stroke="#6a6a6a" stroke-width="0.6" opacity="0.7" transform="translate(0.5,0.6)"/>
<path d="M44.10,384.79 C45.37,381.97 48.61,380.27 50.87,379.71 C53.13,379.14 55.95,379.71 57.64,381.40 C59.34,383.10 60.61,386.76 61.03,389.87 C61.45,392.97 61.03,397.49 60.18,400.03 C59.34,402.57 57.64,403.98 55.95,405.11 C54.26,406.24 51.86,406.80 50.02,406.80 C48.19,406.80 46.07,406.80 44.94,405.11 C43.81,403.42 43.39,400.03 43.25,396.64 C43.11,393.26 42.83,387.61 44.10,384.79Z" fill="#fff" stroke="#c8c8c8" stroke-width="1.4" filter="url(#emb3)"/>
<path d="M44.10,384.79 C45.37,381.97 48.61,380.27 50.87,379.71 C53.13,379.14 55.95,379.71 57.64,381.40 C59.34,383.10 60.61,386.76 61.03,389.87 C61.45,392.97 61.03,397.49 60.18,400.03 C59.34,402.57 57.64,403.98 55.95,405.11 C54.26,406.24 51.86,406.80 50.02,406.80 C48.19,406.80 46.07,406.80 44.94,405.11 C43.81,403.42 43.39,400.03 43.25,396.64 C43.11,393.26 42.83,387.61 44.10,384.79Z" fill="none" stroke="#c8c8c8" stroke-width="1.2" />
<path d="M44.10,384.79 C45.37,381.97 48.61,380.27 50.87,379.71 C53.13,379.14 55.95,379.71 57.64,381.40 C59.34,383.10 60.61,386.76 61.03,389.87 C61.45,392.97 61.03,397.49 60.18,400.03 C59.34,402.57 57.64,403.98 55.95,405.11 C54.26,406.24 51.86,406.80 50.02,406.80 C48.19,406.80 46.07,406.80 44.94,405.11 C43.81,403.42 43.39,400.03 43.25,396.64 C43.11,393.26 42.83,387.61 44.10,384.79Z" fill="none" stroke="#6a6a6a" stroke-width="0.6" opacity="0.7" transform="translate(0.5,0.6)"/>
<path d="M73.73,392.41 C75.14,391.28 78.95,390.86 81.35,391.56 C83.75,392.27 86.43,394.39 88.13,396.64 C89.82,398.90 91.23,402.29 91.51,405.11 C91.80,407.93 90.95,411.74 89.82,413.58 C88.69,415.41 86.71,416.12 84.74,416.12 C82.76,416.12 79.66,415.13 77.97,413.58 C76.27,412.03 75.43,409.34 74.58,406.80 C73.73,404.26 73.03,400.74 72.88,398.34 C72.74,395.94 72.32,393.54 73.73,392.41Z" fill="#fff" stroke="#c8c8c8" stroke-width="1.4" filter="url(#emb3)"/>
<path d="M73.73,392.41 C75.14,391.28 78.95,390.86 81.35,391.56 C83.75,392.27 86.43,394.39 88.13,396.64 C89.82,398.90 91.23,402.29 91.51,405.11 C91.80,407.93 90.95,411.74 89.82,413.58 C88.69,415.41 86.71,416.12 84.74,416.12 C82.76,416.12 79.66,415.13 77.97,413.58 C76.27,412.03 75.43,409.34 74.58,406.80 C73.73,404.26 73.03,400.74 72.88,398.34 C72.74,395.94 72.32,393.54 73.73,392.41Z" fill="none" stroke="#c8c8c8" stroke-width="1.2" />
<path d="M73.73,392.41 C75.14,391.28 78.95,390.86 81.35,391.56 C83.75,392.27 86.43,394.39 88.13,396.64 C89.82,398.90 91.23,402.29 91.51,405.11 C91.80,407.93 90.95,411.74 89.82,413.58 C88.69,415.41 86.71,416.12 84.74,416.12 C82.76,416.12 79.66,415.13 77.97,413.58 C76.27,412.03 75.43,409.34 74.58,406.80 C73.73,404.26 73.03,400.74 72.88,398.34 C72.74,395.94 72.32,393.54 73.73,392.41Z" fill="none" stroke="#6a6a6a" stroke-width="0.6" opacity="0.7" transform="translate(0.5,0.6)"/>
<path d="M81.35,384.79 C82.48,383.38 86.71,381.68 89.82,381.40 C92.92,381.12 96.59,381.40 99.98,383.10 C103.37,384.79 108.17,388.74 110.14,391.56 C112.12,394.39 112.40,398.05 111.83,400.03 C111.27,402.01 109.01,403.42 106.75,403.42 C104.50,403.42 101.39,401.44 98.29,400.03 C95.18,398.62 90.67,396.64 88.13,394.95 C85.59,393.26 84.17,391.56 83.05,389.87 C81.92,388.18 80.22,386.20 81.35,384.79Z" fill="#fff" stroke="#c8c8c8" stroke-width="1.4" filter="url(#emb3)"/>
<path d="M81.35,384.79 C82.48,383.38 86.71,381.68 89.82,381.40 C92.92,381.12 96.59,381.40 99.98,383.10 C103.37,384.79 108.17,388.74 110.14,391.56 C112.12,394.39 112.40,398.05 111.83,400.03 C111.27,402.01 109.01,403.42 106.75,403.42 C104.50,403.42 101.39,401.44 98.29,400.03 C95.18,398.62 90.67,396.64 88.13,394.95 C85.59,393.26 84.17,391.56 83.05,389.87 C81.92,388.18 80.22,386.20 81.35,384.79Z" fill="none" stroke="#c8c8c8" stroke-width="1.2" />
<path d="M81.35,384.79 C82.48,383.38 86.71,381.68 89.82,381.40 C92.92,381.12 96.59,381.40 99.98,383.10 C103.37,384.79 108.17,388.74 110.14,391.56 C112.12,394.39 112.40,398.05 111.83,400.03 C111.27,402.01 109.01,403.42 106.75,403.42 C104.50,403.42 101.39,401.44 98.29,400.03 C95.18,398.62 90.67,396.64 88.13,394.95 C85.59,393.26 84.17,391.56 83.05,389.87 C81.92,388.18 80.22,386.20 81.35,384.79Z" fill="none" stroke="#6a6a6a" stroke-width="0.6" opacity="0.7" transform="translate(0.5,0.6)"/>
<path d="M109.29,381.40 C110.14,379.14 113.39,379.99 115.22,381.40 C117.06,382.81 118.61,386.76 120.30,389.87 C122.00,392.97 123.69,396.64 125.38,400.03 C127.08,403.42 130.46,407.93 130.46,410.19 C130.46,412.45 127.36,413.58 125.38,413.58 C123.41,413.58 120.58,411.88 118.61,410.19 C116.63,408.50 114.94,405.96 113.53,403.42 C112.12,400.88 110.85,398.62 110.14,394.95 C109.44,391.28 108.45,383.66 109.29,381.40Z" fill="#fff" stroke="#c8c8c8" stroke-width="1.4" filter="url(#emb3)"/>
<path d="M109.29,381.40 C110.14,379.14 113.39,379.99 115.22,381.40 C117.06,382.81 118.61,386.76 120.30,389.87 C122.00,392.97 123.69,396.64 125.38,400.03 C127.08,403.42 130.46,407.93 130.46,410.19 C130.46,412.45 127.36,413.58 125.38,413.58 C123.41,413.58 120.58,411.88 118.61,410.19 C116.63,408.50 114.94,405.96 113.53,403.42 C112.12,400.88 110.85,398.62 110.14,394.95 C109.44,391.28 108.45,383.66 109.29,381.40Z" fill="none" stroke="#c8c8c8" stroke-width="1.2" />
<path d="M109.29,381.40 C110.14,379.14 113.39,379.99 115.22,381.40 C117.06,382.81 118.61,386.76 120.30,389.87 C122.00,392.97 123.69,396.64 125.38,400.03 C127.08,403.42 130.46,407.93 130.46,410.19 C130.46,412.45 127.36,413.58 125.38,413.58 C123.41,413.58 120.58,411.88 118.61,410.19 C116.63,408.50 114.94,405.96 113.53,403.42 C112.12,400.88 110.85,398.62 110.14,394.95 C109.44,391.28 108.45,383.66 109.29,381.40Z" fill="none" stroke="#6a6a6a" stroke-width="0.6" opacity="0.7" transform="translate(0.5,0.6)"/>
<path d="M96.59,401.72 C98.15,400.31 102.52,400.88 105.06,401.72 C107.60,402.57 109.58,405.11 111.83,406.80 C114.09,408.50 117.20,409.63 118.61,411.88 C120.02,414.14 121.15,417.25 120.30,420.35 C119.46,423.46 115.50,427.97 113.53,430.51 C111.55,433.05 110.14,434.75 108.45,435.59 C106.75,436.44 104.50,437.00 103.37,435.59 C102.24,434.18 102.52,429.95 101.67,427.13 C100.83,424.30 99.27,421.48 98.29,418.66 C97.30,415.84 96.03,413.01 95.75,410.19 C95.46,407.37 95.04,403.14 96.59,401.72Z" fill="#fff" stroke="#c8c8c8" stroke-width="1.4" filter="url(#emb3)"/>
<path d="M96.59,401.72 C98.15,400.31 102.52,400.88 105.06,401.72 C107.60,402.57 109.58,405.11 111.83,406.80 C114.09,408.50 117.20,409.63 118.61,411.88 C120.02,414.14 121.15,417.25 120.30,420.35 C119.46,423.46 115.50,427.97 113.53,430.51 C111.55,433.05 110.14,434.75 108.45,435.59 C106.75,436.44 104.50,437.00 103.37,435.59 C102.24,434.18 102.52,429.95 101.67,427.13 C100.83,424.30 99.27,421.48 98.29,418.66 C97.30,415.84 96.03,413.01 95.75,410.19 C95.46,407.37 95.04,403.14 96.59,401.72Z" fill="none" stroke="#c8c8c8" stroke-width="1.2" />
<path d="M96.59,401.72 C98.15,400.31 102.52,400.88 105.06,401.72 C107.60,402.57 109.58,405.11 111.83,406.80 C114.09,408.50 117.20,409.63 118.61,411.88 C120.02,414.14 121.15,417.25 120.30,420.35 C119.46,423.46 115.50,427.97 113.53,430.51 C111.55,433.05 110.14,434.75 108.45,435.59 C106.75,436.44 104.50,437.00 103.37,435.59 C102.24,434.18 102.52,429.95 101.67,427.13 C100.83,424.30 99.27,421.48 98.29,418.66 C97.30,415.84 96.03,413.01 95.75,410.19 C95.46,407.37 95.04,403.14 96.59,401.72Z" fill="none" stroke="#6a6a6a" stroke-width="0.6" opacity="0.7" transform="translate(0.5,0.6)"/>
<circle cx="111.00" cy="375.50" r="1.30" fill="#ececec" />
<circle cx="80.50" cy="428.80" r="1.40" fill="#ececec" />
<rect x="17.40" y="356.00" width="115.80" height="96.40" fill="#fff" filter="url(#grain)" opacity="0.22"/>
<rect x="19.20" y="436.20" width="38.40" height="2.80" fill="#000" />
<text x="25.80" y="448.20" font-size="9.86" fill="#111" textLength="25.62" lengthAdjust="spacingAndGlyphs" >50 μm</text>
</g>
<g clip-path="url(#cf2)">
<rect x="136.30" y="356.00" width="116.50" height="96.40" fill="#a3a3a3" />
<ellipse cx="151.35" cy="377.75" rx="4.25" ry="5.55" fill="#a9a9a9" stroke="#cccccc" stroke-width="1.1" transform="rotate(0 151.35 377.75)"/>
<ellipse cx="151.35" cy="377.75" rx="4.25" ry="5.55" fill="#fff" filter="url(#emb3)" transform="rotate(0 151.35 377.75)"/>
<ellipse cx="151.35" cy="377.75" rx="4.25" ry="5.55" fill="none" stroke="#d0d0d0" stroke-width="1" transform="rotate(0 151.35 377.75)"/>
<ellipse cx="170.15" cy="389.75" rx="6.85" ry="8.95" fill="#a9a9a9" stroke="#cccccc" stroke-width="1.1" transform="rotate(15 170.15 389.75)"/>
<ellipse cx="170.15" cy="389.75" rx="6.85" ry="8.95" fill="#fff" filter="url(#emb3)" transform="rotate(15 170.15 389.75)"/>
<ellipse cx="170.15" cy="389.75" rx="6.85" ry="8.95" fill="none" stroke="#d0d0d0" stroke-width="1" transform="rotate(15 170.15 389.75)"/>
<ellipse cx="155.25" cy="405.95" rx="7.25" ry="11.55" fill="#a9a9a9" stroke="#cccccc" stroke-width="1.1" transform="rotate(-10 155.25 405.95)"/>
<ellipse cx="155.25" cy="405.95" rx="7.25" ry="11.55" fill="#fff" filter="url(#emb3)" transform="rotate(-10 155.25 405.95)"/>
<ellipse cx="155.25" cy="405.95" rx="7.25" ry="11.55" fill="none" stroke="#d0d0d0" stroke-width="1" transform="rotate(-10 155.25 405.95)"/>
<ellipse cx="202.20" cy="404.40" rx="6.40" ry="8.80" fill="#a9a9a9" stroke="#cccccc" stroke-width="1.1" transform="rotate(-10 202.20 404.40)"/>
<ellipse cx="202.20" cy="404.40" rx="6.40" ry="8.80" fill="#fff" filter="url(#emb3)" transform="rotate(-10 202.20 404.40)"/>
<ellipse cx="202.20" cy="404.40" rx="6.40" ry="8.80" fill="none" stroke="#d0d0d0" stroke-width="1" transform="rotate(-10 202.20 404.40)"/>
<ellipse cx="216.25" cy="392.75" rx="8.55" ry="6.85" fill="#a9a9a9" stroke="#cccccc" stroke-width="1.1" transform="rotate(28 216.25 392.75)"/>
<ellipse cx="216.25" cy="392.75" rx="8.55" ry="6.85" fill="#fff" filter="url(#emb3)" transform="rotate(28 216.25 392.75)"/>
<ellipse cx="216.25" cy="392.75" rx="8.55" ry="6.85" fill="none" stroke="#d0d0d0" stroke-width="1" transform="rotate(28 216.25 392.75)"/>
<ellipse cx="235.45" cy="396.15" rx="6.45" ry="8.55" fill="#a9a9a9" stroke="#cccccc" stroke-width="1.1" transform="rotate(-25 235.45 396.15)"/>
<ellipse cx="235.45" cy="396.15" rx="6.45" ry="8.55" fill="#fff" filter="url(#emb3)" transform="rotate(-25 235.45 396.15)"/>
<ellipse cx="235.45" cy="396.15" rx="6.45" ry="8.55" fill="none" stroke="#d0d0d0" stroke-width="1" transform="rotate(-25 235.45 396.15)"/>
<ellipse cx="222.25" cy="412.35" rx="5.95" ry="8.55" fill="#a9a9a9" stroke="#cccccc" stroke-width="1.1" transform="rotate(0 222.25 412.35)"/>
<ellipse cx="222.25" cy="412.35" rx="5.95" ry="8.55" fill="#fff" filter="url(#emb3)" transform="rotate(0 222.25 412.35)"/>
<ellipse cx="222.25" cy="412.35" rx="5.95" ry="8.55" fill="none" stroke="#d0d0d0" stroke-width="1" transform="rotate(0 222.25 412.35)"/>
<ellipse cx="230.00" cy="421.30" rx="6.00" ry="8.10" fill="#a9a9a9" stroke="#cccccc" stroke-width="1.1" transform="rotate(10 230.00 421.30)"/>
<ellipse cx="230.00" cy="421.30" rx="6.00" ry="8.10" fill="#fff" filter="url(#emb3)" transform="rotate(10 230.00 421.30)"/>
<ellipse cx="230.00" cy="421.30" rx="6.00" ry="8.10" fill="none" stroke="#d0d0d0" stroke-width="1" transform="rotate(10 230.00 421.30)"/>
<ellipse cx="216.70" cy="359.85" rx="14.90" ry="9.85" fill="#a9a9a9" stroke="#cccccc" stroke-width="1.1" transform="rotate(0 216.70 359.85)"/>
<ellipse cx="216.70" cy="359.85" rx="14.90" ry="9.85" fill="#fff" filter="url(#emb3)" transform="rotate(0 216.70 359.85)"/>
<ellipse cx="216.70" cy="359.85" rx="14.90" ry="9.85" fill="none" stroke="#d0d0d0" stroke-width="1" transform="rotate(0 216.70 359.85)"/>
<ellipse cx="176.00" cy="357.40" rx="6.00" ry="5.40" fill="#a9a9a9" stroke="#cccccc" stroke-width="1.1" transform="rotate(0 176.00 357.40)"/>
<ellipse cx="176.00" cy="357.40" rx="6.00" ry="5.40" fill="#fff" filter="url(#emb3)" transform="rotate(0 176.00 357.40)"/>
<ellipse cx="176.00" cy="357.40" rx="6.00" ry="5.40" fill="none" stroke="#d0d0d0" stroke-width="1" transform="rotate(0 176.00 357.40)"/>
<circle cx="229.10" cy="373.90" r="1.10" fill="#e6e6e6" />
<rect x="136.30" y="356.00" width="116.50" height="96.40" fill="#fff" filter="url(#grain)" opacity="0.22"/>
</g>
<text x="17.50" y="462.60" font-size="10.53" textLength="118.8" lengthAdjust="spacingAndGlyphs" >HeLa cells, phase contrast</text>
<text x="268.80" y="345.90" font-size="13" fill="#000" font-weight="bold" >g</text>
<line x1="303.30" y1="355.00" x2="303.30" y2="441.40" stroke="#888" stroke-width="0.9" />
<line x1="303.30" y1="441.40" x2="404.40" y2="441.40" stroke="#888" stroke-width="0.9" />
<line x1="303.30" y1="441.40" x2="305.50" y2="441.40" stroke="#888" stroke-width="0.8" />
<text x="299.80" y="444.50" font-size="9.63" text-anchor="end" textLength="4.71" lengthAdjust="spacingAndGlyphs" >1</text>
<line x1="303.30" y1="424.26" x2="305.50" y2="424.26" stroke="#888" stroke-width="0.8" />
<text x="299.80" y="427.36" font-size="9.63" text-anchor="end" textLength="4.71" lengthAdjust="spacingAndGlyphs" >2</text>
<line x1="303.30" y1="407.12" x2="305.50" y2="407.12" stroke="#888" stroke-width="0.8" />
<text x="299.80" y="410.22" font-size="9.63" text-anchor="end" textLength="4.71" lengthAdjust="spacingAndGlyphs" >3</text>
<line x1="303.30" y1="389.98" x2="305.50" y2="389.98" stroke="#888" stroke-width="0.8" />
<text x="299.80" y="393.08" font-size="9.63" text-anchor="end" textLength="4.71" lengthAdjust="spacingAndGlyphs" >4</text>
<line x1="303.30" y1="372.84" x2="305.50" y2="372.84" stroke="#888" stroke-width="0.8" />
<text x="299.80" y="375.94" font-size="9.63" text-anchor="end" textLength="4.71" lengthAdjust="spacingAndGlyphs" >5</text>
<line x1="303.30" y1="355.70" x2="305.50" y2="355.70" stroke="#888" stroke-width="0.8" />
<text x="299.80" y="358.80" font-size="9.63" text-anchor="end" textLength="4.71" lengthAdjust="spacingAndGlyphs" >6</text>
<line x1="303.60" y1="441.40" x2="303.60" y2="439.20" stroke="#888" stroke-width="0.8" />
<text x="303.60" y="450.60" font-size="9.63" text-anchor="middle" textLength="4.71" lengthAdjust="spacingAndGlyphs" >0</text>
<line x1="332.27" y1="441.40" x2="332.27" y2="439.20" stroke="#888" stroke-width="0.8" />
<text x="332.27" y="450.60" font-size="9.63" text-anchor="middle" textLength="4.71" lengthAdjust="spacingAndGlyphs" >1</text>
<line x1="360.94" y1="441.40" x2="360.94" y2="439.20" stroke="#888" stroke-width="0.8" />
<text x="360.94" y="450.60" font-size="9.63" text-anchor="middle" textLength="4.71" lengthAdjust="spacingAndGlyphs" >2</text>
<line x1="389.61" y1="441.40" x2="389.61" y2="439.20" stroke="#888" stroke-width="0.8" />
<text x="389.61" y="450.60" font-size="9.63" text-anchor="middle" textLength="4.71" lengthAdjust="spacingAndGlyphs" >3</text>
<text x="276.50" y="399.00" font-size="10.53" text-anchor="middle" textLength="69.31" lengthAdjust="spacingAndGlyphs" transform="rotate(-90 276.50 399.00)" >Normalized cell</text>
<text x="288.00" y="399.00" font-size="10.53" text-anchor="middle" textLength="34.9" lengthAdjust="spacingAndGlyphs" transform="rotate(-90 288.00 399.00)" >number</text>
<text x="332.20" y="354.00" font-size="10.08" text-anchor="middle" fill="#22a030" textLength="3.45" lengthAdjust="spacingAndGlyphs" >*</text>
<text x="358.00" y="351.00" font-size="9.86" text-anchor="middle" fill="#22a030" textLength="12.03" lengthAdjust="spacingAndGlyphs" >NS</text>
<text x="389.30" y="351.00" font-size="9.86" text-anchor="middle" fill="#22a030" textLength="12.03" lengthAdjust="spacingAndGlyphs" >NS</text>
<polyline points="303.60,441.40 332.27,430.26 360.94,417.40 389.61,403.69" fill="none" stroke="#f5b335" stroke-width="1.1" />
<circle cx="303.60" cy="441.40" r="1.00" fill="#f5b335" />
<line x1="332.27" y1="431.63" x2="332.27" y2="428.89" stroke="#f5b335" stroke-width="0.8" />
<line x1="330.47" y1="431.63" x2="334.07" y2="431.63" stroke="#f5b335" stroke-width="0.8" />
<line x1="330.47" y1="428.89" x2="334.07" y2="428.89" stroke="#f5b335" stroke-width="0.8" />
<circle cx="332.27" cy="430.26" r="1.00" fill="#f5b335" />
<line x1="360.94" y1="419.12" x2="360.94" y2="415.69" stroke="#f5b335" stroke-width="0.8" />
<line x1="359.14" y1="419.12" x2="362.74" y2="419.12" stroke="#f5b335" stroke-width="0.8" />
<line x1="359.14" y1="415.69" x2="362.74" y2="415.69" stroke="#f5b335" stroke-width="0.8" />
<circle cx="360.94" cy="417.40" r="1.00" fill="#f5b335" />
<line x1="389.61" y1="407.46" x2="389.61" y2="399.92" stroke="#f5b335" stroke-width="0.8" />
<line x1="387.81" y1="407.46" x2="391.41" y2="407.46" stroke="#f5b335" stroke-width="0.8" />
<line x1="387.81" y1="399.92" x2="391.41" y2="399.92" stroke="#f5b335" stroke-width="0.8" />
<circle cx="389.61" cy="403.69" r="1.00" fill="#f5b335" />
<polyline points="303.60,441.40 332.27,431.12 360.94,419.97 389.61,413.12" fill="none" stroke="#e8653a" stroke-width="1.1" />
<circle cx="303.60" cy="441.40" r="1.00" fill="#e8653a" />
<line x1="332.27" y1="431.97" x2="332.27" y2="430.26" stroke="#e8653a" stroke-width="0.8" />
<line x1="330.47" y1="431.97" x2="334.07" y2="431.97" stroke="#e8653a" stroke-width="0.8" />
<line x1="330.47" y1="430.26" x2="334.07" y2="430.26" stroke="#e8653a" stroke-width="0.8" />
<circle cx="332.27" cy="431.12" r="1.00" fill="#e8653a" />
<line x1="360.94" y1="420.83" x2="360.94" y2="419.12" stroke="#e8653a" stroke-width="0.8" />
<line x1="359.14" y1="420.83" x2="362.74" y2="420.83" stroke="#e8653a" stroke-width="0.8" />
<line x1="359.14" y1="419.12" x2="362.74" y2="419.12" stroke="#e8653a" stroke-width="0.8" />
<circle cx="360.94" cy="419.97" r="1.00" fill="#e8653a" />
<line x1="389.61" y1="413.98" x2="389.61" y2="412.26" stroke="#e8653a" stroke-width="0.8" />
<line x1="387.81" y1="413.98" x2="391.41" y2="413.98" stroke="#e8653a" stroke-width="0.8" />
<line x1="387.81" y1="412.26" x2="391.41" y2="412.26" stroke="#e8653a" stroke-width="0.8" />
<circle cx="389.61" cy="413.12" r="1.00" fill="#e8653a" />
<polyline points="303.60,441.40 332.27,422.55 360.94,395.12 389.61,358.27" fill="none" stroke="#8cc63f" stroke-width="1.1" />
<circle cx="303.60" cy="441.40" r="1.00" fill="#8cc63f" />
<line x1="332.27" y1="423.92" x2="332.27" y2="421.17" stroke="#8cc63f" stroke-width="0.8" />
<line x1="330.47" y1="423.92" x2="334.07" y2="423.92" stroke="#8cc63f" stroke-width="0.8" />
<line x1="330.47" y1="421.17" x2="334.07" y2="421.17" stroke="#8cc63f" stroke-width="0.8" />
<circle cx="332.27" cy="422.55" r="1.00" fill="#8cc63f" />
<line x1="360.94" y1="400.26" x2="360.94" y2="389.98" stroke="#8cc63f" stroke-width="0.8" />
<line x1="359.14" y1="400.26" x2="362.74" y2="400.26" stroke="#8cc63f" stroke-width="0.8" />
<line x1="359.14" y1="389.98" x2="362.74" y2="389.98" stroke="#8cc63f" stroke-width="0.8" />
<circle cx="360.94" cy="395.12" r="1.00" fill="#8cc63f" />
<line x1="389.61" y1="359.98" x2="389.61" y2="356.56" stroke="#8cc63f" stroke-width="0.8" />
<line x1="387.81" y1="359.98" x2="391.41" y2="359.98" stroke="#8cc63f" stroke-width="0.8" />
<line x1="387.81" y1="356.56" x2="391.41" y2="356.56" stroke="#8cc63f" stroke-width="0.8" />
<circle cx="389.61" cy="358.27" r="1.00" fill="#8cc63f" />
<polyline points="303.60,441.40 332.27,424.26 360.94,396.84 389.61,359.13" fill="none" stroke="#222" stroke-width="1.1" />
<circle cx="303.60" cy="441.40" r="1.00" fill="#222" />
<line x1="332.27" y1="425.12" x2="332.27" y2="423.40" stroke="#222" stroke-width="0.8" />
<line x1="330.47" y1="425.12" x2="334.07" y2="425.12" stroke="#222" stroke-width="0.8" />
<line x1="330.47" y1="423.40" x2="334.07" y2="423.40" stroke="#222" stroke-width="0.8" />
<circle cx="332.27" cy="424.26" r="1.00" fill="#222" />
<line x1="360.94" y1="398.55" x2="360.94" y2="395.12" stroke="#222" stroke-width="0.8" />
<line x1="359.14" y1="398.55" x2="362.74" y2="398.55" stroke="#222" stroke-width="0.8" />
<line x1="359.14" y1="395.12" x2="362.74" y2="395.12" stroke="#222" stroke-width="0.8" />
<circle cx="360.94" cy="396.84" r="1.00" fill="#222" />
<line x1="389.61" y1="361.18" x2="389.61" y2="357.07" stroke="#222" stroke-width="0.8" />
<line x1="387.81" y1="361.18" x2="391.41" y2="361.18" stroke="#222" stroke-width="0.8" />
<line x1="387.81" y1="357.07" x2="391.41" y2="357.07" stroke="#222" stroke-width="0.8" />
<circle cx="389.61" cy="359.13" r="1.00" fill="#222" />
<line x1="399.60" y1="371.70" x2="409.20" y2="371.70" stroke="#222" stroke-width="0.9" />
<line x1="404.40" y1="368.90" x2="404.40" y2="374.50" stroke="#222" stroke-width="0.8" />
<line x1="403.00" y1="368.90" x2="405.80" y2="368.90" stroke="#222" stroke-width="0.8" />
<line x1="403.00" y1="374.50" x2="405.80" y2="374.50" stroke="#222" stroke-width="0.8" />
<text x="413.40" y="374.80" font-size="9.86" font-weight="bold" textLength="33.55" lengthAdjust="spacingAndGlyphs" >Control</text>
<line x1="399.60" y1="384.60" x2="409.20" y2="384.60" stroke="#8cc63f" stroke-width="0.9" />
<line x1="404.40" y1="381.80" x2="404.40" y2="387.40" stroke="#8cc63f" stroke-width="0.8" />
<line x1="403.00" y1="381.80" x2="405.80" y2="381.80" stroke="#8cc63f" stroke-width="0.8" />
<line x1="403.00" y1="387.40" x2="405.80" y2="387.40" stroke="#8cc63f" stroke-width="0.8" />
<text x="413.40" y="387.70" font-size="9.86" textLength="26.96" lengthAdjust="spacingAndGlyphs" >BSA#1</text>
<line x1="399.60" y1="399.00" x2="409.20" y2="399.00" stroke="#e8653a" stroke-width="0.9" />
<line x1="404.40" y1="396.20" x2="404.40" y2="401.80" stroke="#e8653a" stroke-width="0.8" />
<line x1="403.00" y1="396.20" x2="405.80" y2="396.20" stroke="#e8653a" stroke-width="0.8" />
<line x1="403.00" y1="401.80" x2="405.80" y2="401.80" stroke="#e8653a" stroke-width="0.8" />
<text x="413.40" y="402.10" font-size="9.86" textLength="38.3" lengthAdjust="spacingAndGlyphs" >Iodixanol</text>
<line x1="399.60" y1="412.90" x2="409.20" y2="412.90" stroke="#f5b335" stroke-width="0.9" />
<line x1="404.40" y1="410.10" x2="404.40" y2="415.70" stroke="#f5b335" stroke-width="0.8" />
<line x1="403.00" y1="410.10" x2="405.80" y2="410.10" stroke="#f5b335" stroke-width="0.8" />
<line x1="403.00" y1="415.70" x2="405.80" y2="415.70" stroke="#f5b335" stroke-width="0.8" />
<text x="413.40" y="416.00" font-size="9.86" textLength="31.52" lengthAdjust="spacingAndGlyphs" >Ficoll70</text>
<text x="349.20" y="465.80" font-size="10.53" text-anchor="middle" textLength="85.03" lengthAdjust="spacingAndGlyphs" >Days from medium</text>
<text x="349.20" y="476.20" font-size="10.53" text-anchor="middle" textLength="44.64" lengthAdjust="spacingAndGlyphs" >exchange</text>
<text x="463.50" y="349.80" font-size="13" fill="#000" font-weight="bold" >h</text>
<line x1="493.60" y1="355.00" x2="493.60" y2="440.80" stroke="#888" stroke-width="0.9" />
<line x1="493.60" y1="440.80" x2="601.00" y2="440.80" stroke="#888" stroke-width="0.9" />
<line x1="493.60" y1="440.80" x2="495.80" y2="440.80" stroke="#888" stroke-width="0.8" />
<text x="490.00" y="443.90" font-size="9.63" text-anchor="end" textLength="4.71" lengthAdjust="spacingAndGlyphs" >0</text>
<line x1="493.60" y1="426.68" x2="495.80" y2="426.68" stroke="#888" stroke-width="0.8" />
<text x="490.00" y="429.78" font-size="9.63" text-anchor="end" textLength="11.76" lengthAdjust="spacingAndGlyphs" >0.2</text>
<line x1="493.60" y1="412.56" x2="495.80" y2="412.56" stroke="#888" stroke-width="0.8" />
<text x="490.00" y="415.66" font-size="9.63" text-anchor="end" textLength="11.76" lengthAdjust="spacingAndGlyphs" >0.4</text>
<line x1="493.60" y1="398.44" x2="495.80" y2="398.44" stroke="#888" stroke-width="0.8" />
<text x="490.00" y="401.54" font-size="9.63" text-anchor="end" textLength="11.76" lengthAdjust="spacingAndGlyphs" >0.6</text>
<line x1="493.60" y1="384.32" x2="495.80" y2="384.32" stroke="#888" stroke-width="0.8" />
<text x="490.00" y="387.42" font-size="9.63" text-anchor="end" textLength="11.76" lengthAdjust="spacingAndGlyphs" >0.8</text>
<line x1="493.60" y1="370.20" x2="495.80" y2="370.20" stroke="#888" stroke-width="0.8" />
<text x="490.00" y="373.30" font-size="9.63" text-anchor="end" textLength="11.76" lengthAdjust="spacingAndGlyphs" >1.0</text>
<line x1="493.60" y1="356.08" x2="495.80" y2="356.08" stroke="#888" stroke-width="0.8" />
<text x="490.00" y="359.18" font-size="9.63" text-anchor="end" textLength="11.76" lengthAdjust="spacingAndGlyphs" >1.2</text>
<line x1="493.40" y1="440.80" x2="493.40" y2="438.60" stroke="#888" stroke-width="0.8" />
<text x="493.40" y="450.80" font-size="9.63" text-anchor="middle" textLength="4.71" lengthAdjust="spacingAndGlyphs" >0</text>
<line x1="524.15" y1="440.80" x2="524.15" y2="438.60" stroke="#888" stroke-width="0.8" />
<text x="524.15" y="450.80" font-size="9.63" text-anchor="middle" textLength="4.71" lengthAdjust="spacingAndGlyphs" >1</text>
<line x1="554.90" y1="440.80" x2="554.90" y2="438.60" stroke="#888" stroke-width="0.8" />
<text x="554.90" y="450.80" font-size="9.63" text-anchor="middle" textLength="4.71" lengthAdjust="spacingAndGlyphs" >2</text>
<line x1="585.65" y1="440.80" x2="585.65" y2="438.60" stroke="#888" stroke-width="0.8" />
<text x="585.65" y="450.80" font-size="9.63" text-anchor="middle" textLength="4.71" lengthAdjust="spacingAndGlyphs" >3</text>
<text x="469.60" y="400.40" font-size="10.53" text-anchor="middle" textLength="54.96" lengthAdjust="spacingAndGlyphs" transform="rotate(-90 469.60 400.40)" >Growth ratio</text>
<text x="524.10" y="358.50" font-size="10.08" text-anchor="middle" fill="#22a030" textLength="3.45" lengthAdjust="spacingAndGlyphs" >*</text>
<text x="555.00" y="352.50" font-size="9.86" text-anchor="middle" fill="#22a030" textLength="12.03" lengthAdjust="spacingAndGlyphs" >NS</text>
<text x="585.50" y="352.50" font-size="9.86" text-anchor="middle" fill="#22a030" textLength="12.03" lengthAdjust="spacingAndGlyphs" >NS</text>
<polyline points="493.40,370.20 524.15,382.91 554.90,396.32 585.65,408.32" fill="none" stroke="#f5b335" stroke-width="1.1" />
<line x1="524.15" y1="385.03" x2="524.15" y2="380.79" stroke="#f5b335" stroke-width="0.8" />
<line x1="522.35" y1="385.03" x2="525.95" y2="385.03" stroke="#f5b335" stroke-width="0.8" />
<line x1="522.35" y1="380.79" x2="525.95" y2="380.79" stroke="#f5b335" stroke-width="0.8" />
<line x1="554.90" y1="397.73" x2="554.90" y2="394.91" stroke="#f5b335" stroke-width="0.8" />
<line x1="553.10" y1="397.73" x2="556.70" y2="397.73" stroke="#f5b335" stroke-width="0.8" />
<line x1="553.10" y1="394.91" x2="556.70" y2="394.91" stroke="#f5b335" stroke-width="0.8" />
<line x1="585.65" y1="410.44" x2="585.65" y2="406.21" stroke="#f5b335" stroke-width="0.8" />
<line x1="583.85" y1="410.44" x2="587.45" y2="410.44" stroke="#f5b335" stroke-width="0.8" />
<line x1="583.85" y1="406.21" x2="587.45" y2="406.21" stroke="#f5b335" stroke-width="0.8" />
<polyline points="493.40,370.20 524.15,378.67 554.90,405.50 585.65,409.03" fill="none" stroke="#5bc8f0" stroke-width="1.1" />
<line x1="524.15" y1="382.20" x2="524.15" y2="375.14" stroke="#5bc8f0" stroke-width="0.8" />
<line x1="522.35" y1="382.20" x2="525.95" y2="382.20" stroke="#5bc8f0" stroke-width="0.8" />
<line x1="522.35" y1="375.14" x2="525.95" y2="375.14" stroke="#5bc8f0" stroke-width="0.8" />
<line x1="554.90" y1="409.03" x2="554.90" y2="401.97" stroke="#5bc8f0" stroke-width="0.8" />
<line x1="553.10" y1="409.03" x2="556.70" y2="409.03" stroke="#5bc8f0" stroke-width="0.8" />
<line x1="553.10" y1="401.97" x2="556.70" y2="401.97" stroke="#5bc8f0" stroke-width="0.8" />
<line x1="585.65" y1="411.85" x2="585.65" y2="406.21" stroke="#5bc8f0" stroke-width="0.8" />
<line x1="583.85" y1="411.85" x2="587.45" y2="411.85" stroke="#5bc8f0" stroke-width="0.8" />
<line x1="583.85" y1="406.21" x2="587.45" y2="406.21" stroke="#5bc8f0" stroke-width="0.8" />
<polyline points="493.40,370.20 524.15,380.79 554.90,393.50 585.65,401.97" fill="none" stroke="#9445b0" stroke-width="1.1" />
<line x1="524.15" y1="382.91" x2="524.15" y2="378.67" stroke="#9445b0" stroke-width="0.8" />
<line x1="522.35" y1="382.91" x2="525.95" y2="382.91" stroke="#9445b0" stroke-width="0.8" />
<line x1="522.35" y1="378.67" x2="525.95" y2="378.67" stroke="#9445b0" stroke-width="0.8" />
<line x1="554.90" y1="394.91" x2="554.90" y2="392.09" stroke="#9445b0" stroke-width="0.8" />
<line x1="553.10" y1="394.91" x2="556.70" y2="394.91" stroke="#9445b0" stroke-width="0.8" />
<line x1="553.10" y1="392.09" x2="556.70" y2="392.09" stroke="#9445b0" stroke-width="0.8" />
<line x1="585.65" y1="404.09" x2="585.65" y2="399.85" stroke="#9445b0" stroke-width="0.8" />
<line x1="583.85" y1="404.09" x2="587.45" y2="404.09" stroke="#9445b0" stroke-width="0.8" />
<line x1="583.85" y1="399.85" x2="587.45" y2="399.85" stroke="#9445b0" stroke-width="0.8" />
<polyline points="493.40,370.20 524.15,382.20 554.90,408.32" fill="none" stroke="#2a7cc0" stroke-width="1.1" />
<line x1="524.15" y1="385.73" x2="524.15" y2="378.67" stroke="#2a7cc0" stroke-width="0.8" />
<line x1="522.35" y1="385.73" x2="525.95" y2="385.73" stroke="#2a7cc0" stroke-width="0.8" />
<line x1="522.35" y1="378.67" x2="525.95" y2="378.67" stroke="#2a7cc0" stroke-width="0.8" />
<line x1="554.90" y1="410.44" x2="554.90" y2="406.21" stroke="#2a7cc0" stroke-width="0.8" />
<line x1="553.10" y1="410.44" x2="556.70" y2="410.44" stroke="#2a7cc0" stroke-width="0.8" />
<line x1="553.10" y1="406.21" x2="556.70" y2="406.21" stroke="#2a7cc0" stroke-width="0.8" />
<polyline points="493.40,370.20 524.15,365.96 554.90,369.49 585.65,370.20" fill="none" stroke="#8cc63f" stroke-width="1.1" />
<line x1="524.15" y1="368.08" x2="524.15" y2="363.85" stroke="#8cc63f" stroke-width="0.8" />
<line x1="522.35" y1="368.08" x2="525.95" y2="368.08" stroke="#8cc63f" stroke-width="0.8" />
<line x1="522.35" y1="363.85" x2="525.95" y2="363.85" stroke="#8cc63f" stroke-width="0.8" />
<line x1="554.90" y1="375.85" x2="554.90" y2="363.14" stroke="#8cc63f" stroke-width="0.8" />
<line x1="553.10" y1="375.85" x2="556.70" y2="375.85" stroke="#8cc63f" stroke-width="0.8" />
<line x1="553.10" y1="363.14" x2="556.70" y2="363.14" stroke="#8cc63f" stroke-width="0.8" />
<line x1="585.65" y1="370.91" x2="585.65" y2="369.49" stroke="#8cc63f" stroke-width="0.8" />
<line x1="583.85" y1="370.91" x2="587.45" y2="370.91" stroke="#8cc63f" stroke-width="0.8" />
<line x1="583.85" y1="369.49" x2="587.45" y2="369.49" stroke="#8cc63f" stroke-width="0.8" />
<polyline points="493.40,370.20 524.15,370.20 554.90,370.20 585.65,370.20" fill="none" stroke="#444" stroke-width="1.5" />
<line x1="524.15" y1="371.61" x2="524.15" y2="368.79" stroke="#444" stroke-width="0.8" />
<line x1="522.35" y1="371.61" x2="525.95" y2="371.61" stroke="#444" stroke-width="0.8" />
<line x1="522.35" y1="368.79" x2="525.95" y2="368.79" stroke="#444" stroke-width="0.8" />
<line x1="554.90" y1="373.02" x2="554.90" y2="367.38" stroke="#444" stroke-width="0.8" />
<line x1="553.10" y1="373.02" x2="556.70" y2="373.02" stroke="#444" stroke-width="0.8" />
<line x1="553.10" y1="367.38" x2="556.70" y2="367.38" stroke="#444" stroke-width="0.8" />
<line x1="585.65" y1="370.91" x2="585.65" y2="369.49" stroke="#444" stroke-width="0.8" />
<line x1="583.85" y1="370.91" x2="587.45" y2="370.91" stroke="#444" stroke-width="0.8" />
<line x1="583.85" y1="369.49" x2="587.45" y2="369.49" stroke="#444" stroke-width="0.8" />
<line x1="594.00" y1="364.60" x2="608.50" y2="364.60" stroke="#444" stroke-width="0.9" />
<line x1="601.20" y1="361.60" x2="601.20" y2="367.60" stroke="#444" stroke-width="0.8" />
<line x1="599.80" y1="361.60" x2="602.60" y2="361.60" stroke="#444" stroke-width="0.8" />
<line x1="599.80" y1="367.60" x2="602.60" y2="367.60" stroke="#444" stroke-width="0.8" />
<text x="610.50" y="367.70" font-size="9.86" textLength="30.36" lengthAdjust="spacingAndGlyphs" >Control</text>
<line x1="594.00" y1="378.00" x2="608.50" y2="378.00" stroke="#8cc63f" stroke-width="0.9" />
<line x1="601.20" y1="375.00" x2="601.20" y2="381.00" stroke="#8cc63f" stroke-width="0.8" />
<line x1="599.80" y1="375.00" x2="602.60" y2="375.00" stroke="#8cc63f" stroke-width="0.8" />
<line x1="599.80" y1="381.00" x2="602.60" y2="381.00" stroke="#8cc63f" stroke-width="0.8" />
<text x="610.50" y="381.10" font-size="9.86" textLength="26.96" lengthAdjust="spacingAndGlyphs" >BSA#1</text>
<line x1="594.00" y1="390.40" x2="608.50" y2="390.40" stroke="#5bc8f0" stroke-width="0.9" />
<line x1="601.20" y1="387.40" x2="601.20" y2="393.40" stroke="#5bc8f0" stroke-width="0.8" />
<line x1="599.80" y1="387.40" x2="602.60" y2="387.40" stroke="#5bc8f0" stroke-width="0.8" />
<line x1="599.80" y1="393.40" x2="602.60" y2="393.40" stroke="#5bc8f0" stroke-width="0.8" />
<text x="610.50" y="393.50" font-size="9.86" textLength="26.96" lengthAdjust="spacingAndGlyphs" >BSA#2</text>
<line x1="594.00" y1="403.40" x2="608.50" y2="403.40" stroke="#f5b335" stroke-width="0.9" />
<line x1="601.20" y1="400.40" x2="601.20" y2="406.40" stroke="#f5b335" stroke-width="0.8" />
<line x1="599.80" y1="400.40" x2="602.60" y2="400.40" stroke="#f5b335" stroke-width="0.8" />
<line x1="599.80" y1="406.40" x2="602.60" y2="406.40" stroke="#f5b335" stroke-width="0.8" />
<text x="610.50" y="406.50" font-size="9.86" textLength="38.3" lengthAdjust="spacingAndGlyphs" >Iodixanol</text>
<line x1="594.00" y1="416.10" x2="608.50" y2="416.10" stroke="#9445b0" stroke-width="0.9" />
<line x1="601.20" y1="413.10" x2="601.20" y2="419.10" stroke="#9445b0" stroke-width="0.8" />
<line x1="599.80" y1="413.10" x2="602.60" y2="413.10" stroke="#9445b0" stroke-width="0.8" />
<line x1="599.80" y1="419.10" x2="602.60" y2="419.10" stroke="#9445b0" stroke-width="0.8" />
<text x="610.50" y="419.20" font-size="9.86" textLength="31.52" lengthAdjust="spacingAndGlyphs" >Ficoll70</text>
<line x1="594.00" y1="429.10" x2="608.50" y2="429.10" stroke="#2a7cc0" stroke-width="0.9" />
<line x1="601.20" y1="426.10" x2="601.20" y2="432.10" stroke="#2a7cc0" stroke-width="0.8" />
<line x1="599.80" y1="426.10" x2="602.60" y2="426.10" stroke="#2a7cc0" stroke-width="0.8" />
<line x1="599.80" y1="432.10" x2="602.60" y2="432.10" stroke="#2a7cc0" stroke-width="0.8" />
<text x="610.50" y="432.20" font-size="9.86" textLength="24.54" lengthAdjust="spacingAndGlyphs" >HBCD</text>
<text x="539.60" y="465.90" font-size="10.53" text-anchor="middle" textLength="85.03" lengthAdjust="spacingAndGlyphs" >Days from medium</text>
<text x="539.60" y="476.50" font-size="10.53" text-anchor="middle" textLength="44.64" lengthAdjust="spacingAndGlyphs" >exchange</text>
<text x="0.50" y="496.50" font-size="13" fill="#000" font-weight="bold" >i</text>
<text x="74.50" y="502.20" font-size="10.53" text-anchor="middle" textLength="32.43" lengthAdjust="spacingAndGlyphs" >Control</text>
<text x="190.50" y="502.20" font-size="10.53" text-anchor="middle" textLength="51.85" lengthAdjust="spacingAndGlyphs" >SeeDB-Live</text>
<clipPath id="ci1"><rect x="17.2" y="504.5" width="113.6" height="108.3"/></clipPath>
<clipPath id="ci2"><rect x="133.6" y="504.5" width="114.2" height="108.3"/></clipPath>
<g clip-path="url(#ci1)">
<rect x="17.20" y="504.50" width="113.60" height="108.30" fill="url(#bgiL)" />
<path d="M119.02,557.00 L115.61,562.42 L113.11,567.40 L113.14,573.08 L110.06,577.74 L107.42,582.65 L104.73,587.89 L98.65,589.78 L93.72,592.51 L88.12,593.73 L83.13,596.20 L77.55,596.79 L72.00,598.69 L66.12,599.15 L60.38,597.93 L54.07,597.86 L47.89,596.41 L43.25,592.36 L38.16,588.94 L36.16,582.96 L35.32,576.99 L34.28,571.75 L30.14,567.59 L29.17,562.32 L27.80,557.00 L27.93,551.52 L29.53,546.26 L30.43,540.75 L33.36,535.95 L35.32,530.44 L40.06,526.85 L44.11,522.70 L49.23,519.77 L54.99,518.24 L60.13,515.19 L65.91,513.31 L72.00,512.00 L77.78,515.55 L83.05,518.08 L87.64,521.35 L92.83,522.95 L97.68,525.41 L102.25,528.45 L106.78,531.81 L110.60,535.97 L115.09,540.15 L117.84,545.41 L120.17,551.01Z" fill="#fff" stroke="none" stroke-width="0.8" filter="url(#emb1)"/>
<path d="M119.02,557.00 L115.61,562.42 L113.11,567.40 L113.14,573.08 L110.06,577.74 L107.42,582.65 L104.73,587.89 L98.65,589.78 L93.72,592.51 L88.12,593.73 L83.13,596.20 L77.55,596.79 L72.00,598.69 L66.12,599.15 L60.38,597.93 L54.07,597.86 L47.89,596.41 L43.25,592.36 L38.16,588.94 L36.16,582.96 L35.32,576.99 L34.28,571.75 L30.14,567.59 L29.17,562.32 L27.80,557.00 L27.93,551.52 L29.53,546.26 L30.43,540.75 L33.36,535.95 L35.32,530.44 L40.06,526.85 L44.11,522.70 L49.23,519.77 L54.99,518.24 L60.13,515.19 L65.91,513.31 L72.00,512.00 L77.78,515.55 L83.05,518.08 L87.64,521.35 L92.83,522.95 L97.68,525.41 L102.25,528.45 L106.78,531.81 L110.60,535.97 L115.09,540.15 L117.84,545.41 L120.17,551.01Z" fill="#fff" stroke="none" stroke-width="0.8" opacity="0.25"/>
<path d="M101.26,603.00 L99.62,605.70 L99.56,609.40 L97.88,611.15 L96.00,613.04 L94.06,611.41 L92.50,609.30 L92.37,605.71 L91.03,603.00 L90.84,599.15 L91.81,595.46 L94.46,596.30 L96.00,594.51 L97.63,595.91 L99.64,596.45 L101.41,598.97Z" fill="#fff" stroke="none" stroke-width="0.8" filter="url(#emb1)"/>
<path d="M110.00,553.00 L109.93,557.71 L109.22,562.41 L106.65,566.57 L103.89,570.45 L99.45,573.06 L95.97,575.95 L91.41,577.44 L87.56,579.35 L84.06,581.98 L80.38,585.16 L76.12,588.76 L71.00,588.94 L66.01,587.83 L61.29,586.31 L57.11,583.81 L52.26,582.83 L47.24,581.46 L43.22,578.53 L40.13,574.76 L37.86,570.58 L37.65,565.69 L35.09,561.84 L34.59,557.40 L35.93,553.00 L38.22,549.03 L38.55,545.01 L39.53,541.02 L37.78,535.38 L39.18,530.56 L42.74,527.03 L47.39,524.72 L51.34,521.71 L56.45,520.72 L60.99,518.67 L66.00,518.07 L71.00,519.21 L75.65,520.56 L80.23,521.35 L84.68,522.66 L88.97,524.40 L93.26,526.34 L97.22,528.91 L98.11,533.88 L100.27,537.47 L104.39,540.29 L106.96,544.14 L110.19,548.26Z" fill="url(#coreG)" stroke="none" stroke-width="0.8" filter="url(#blur2)"/>
<path d="M106.61,553.00 L106.24,558.09 L105.06,563.09 L102.21,567.50 L98.74,571.37 L93.66,573.66 L89.57,576.30 L85.23,578.46 L81.11,581.36 L76.34,583.72 L71.00,584.48 L65.51,584.58 L60.36,582.87 L55.11,581.44 L49.91,579.46 L46.38,575.45 L43.20,571.42 L40.35,567.24 L38.24,562.71 L37.15,557.89 L37.84,553.00 L40.84,548.64 L40.74,544.03 L40.86,539.00 L42.22,533.93 L45.77,530.00 L50.06,526.73 L55.52,525.31 L60.04,522.25 L65.50,521.32 L71.00,522.10 L76.09,523.69 L81.38,523.87 L86.29,525.64 L91.44,527.35 L95.14,530.99 L97.27,535.59 L99.79,539.63 L103.47,543.38 L106.18,547.92Z" fill="#fff" stroke="none" stroke-width="0.8" filter="url(#emb4)" opacity="0.12"/>
<rect x="17.2" y="504.5" width="113.6" height="108.3" fill="#fff" filter="url(#grain)" opacity="0.2"/>
<circle cx="26.00" cy="541.00" r="3.00" fill="#b8b8b8" />
<circle cx="25.00" cy="551.00" r="3.50" fill="#bdbdbd" />
<rect x="25.00" y="598.50" width="25.00" height="2.80" fill="#000" />
<text x="23.50" y="609.80" font-size="9.86" fill="#111" textLength="30.43" lengthAdjust="spacingAndGlyphs" >200 μm</text>
</g>
<g clip-path="url(#ci2)">
<rect x="133.60" y="504.50" width="114.20" height="108.30" fill="url(#bgiR)" />
<path d="M236.79,560.00 L235.56,565.69 L233.42,570.98 L232.30,576.50 L227.22,580.00 L223.50,583.66 L218.34,585.55 L215.05,588.90 L212.67,594.19 L209.54,599.93 L204.16,601.14 L198.86,602.52 L193.40,603.36 L187.80,603.61 L182.46,601.84 L177.19,600.09 L171.37,599.08 L168.73,592.94 L163.63,590.50 L161.44,585.13 L158.48,580.65 L156.12,575.82 L154.89,570.57 L154.33,565.27 L157.42,560.00 L156.42,555.01 L155.29,549.54 L155.21,543.79 L155.51,537.59 L159.45,533.31 L163.45,529.32 L167.62,525.59 L171.63,521.37 L177.19,519.91 L182.84,519.65 L188.21,519.58 L193.40,520.96 L198.33,521.64 L203.91,519.83 L209.36,520.52 L213.71,523.97 L218.10,527.02 L221.14,531.58 L225.27,534.94 L228.98,538.96 L231.92,543.66 L236.87,548.07 L235.65,554.30Z" fill="#fff" stroke="none" stroke-width="0.8" filter="url(#emb4)"/>
</g>
<text x="17.50" y="622.90" font-size="10.3" textLength="139.8" lengthAdjust="spacingAndGlyphs" >HeLa spheroids, phase contrast</text>
<text x="270.50" y="496.20" font-size="13" fill="#000" font-weight="bold" >j</text>
<line x1="298.00" y1="514.50" x2="298.00" y2="602.50" stroke="#888" stroke-width="0.9" />
<line x1="298.00" y1="602.50" x2="417.20" y2="602.50" stroke="#888" stroke-width="0.9" />
<line x1="298.00" y1="602.50" x2="300.20" y2="602.50" stroke="#888" stroke-width="0.8" />
<text x="294.50" y="605.60" font-size="9.63" text-anchor="end" textLength="4.71" lengthAdjust="spacingAndGlyphs" >0</text>
<line x1="298.00" y1="559.06" x2="300.20" y2="559.06" stroke="#888" stroke-width="0.8" />
<text x="294.50" y="562.16" font-size="9.63" text-anchor="end" textLength="4.71" lengthAdjust="spacingAndGlyphs" >2</text>
<line x1="298.00" y1="515.62" x2="300.20" y2="515.62" stroke="#888" stroke-width="0.8" />
<text x="294.50" y="518.72" font-size="9.63" text-anchor="end" textLength="4.71" lengthAdjust="spacingAndGlyphs" >4</text>
<line x1="312.70" y1="602.50" x2="312.70" y2="600.30" stroke="#888" stroke-width="0.8" />
<text x="312.70" y="613.00" font-size="9.63" text-anchor="middle" textLength="4.71" lengthAdjust="spacingAndGlyphs" >0</text>
<line x1="342.53" y1="602.50" x2="342.53" y2="600.30" stroke="#888" stroke-width="0.8" />
<text x="342.53" y="613.00" font-size="9.63" text-anchor="middle" textLength="4.71" lengthAdjust="spacingAndGlyphs" >1</text>
<line x1="372.36" y1="602.50" x2="372.36" y2="600.30" stroke="#888" stroke-width="0.8" />
<text x="372.36" y="613.00" font-size="9.63" text-anchor="middle" textLength="4.71" lengthAdjust="spacingAndGlyphs" >2</text>
<line x1="402.19" y1="602.50" x2="402.19" y2="600.30" stroke="#888" stroke-width="0.8" />
<text x="402.19" y="613.00" font-size="9.63" text-anchor="middle" textLength="4.71" lengthAdjust="spacingAndGlyphs" >3</text>
<text x="290.50" y="508.40" font-size="8.69" >×10<tspan font-size="6" dy="-3">4</tspan></text>
<text x="355.30" y="508.30" font-size="9.63" text-anchor="middle" textLength="11.76" lengthAdjust="spacingAndGlyphs" >NS</text>
<line x1="313.20" y1="512.50" x2="403.10" y2="512.50" stroke="#888" stroke-width="0.9" />
<rect x="309.80" y="522.10" width="5.80" height="3.20" fill="#1520ee" />
<rect x="339.63" y="522.10" width="5.80" height="3.20" fill="#1520ee" />
<rect x="369.46" y="522.10" width="5.80" height="3.20" fill="#1520ee" />
<rect x="399.29" y="522.10" width="5.80" height="3.20" fill="#1520ee" />
<text x="406.00" y="519.50" font-size="9.86" fill="#2030ee" textLength="35.18" lengthAdjust="spacingAndGlyphs" >Clearing</text>
<text x="423.50" y="529.30" font-size="9.86" text-anchor="middle" fill="#2030ee" textLength="18.35" lengthAdjust="spacingAndGlyphs" >(4 h)</text>
<text x="281.30" y="558.10" font-size="10.53" text-anchor="middle" textLength="64.18" lengthAdjust="spacingAndGlyphs" transform="rotate(-90 281.30 558.10)" >Cells/spheroid</text>
<polyline points="312.70,600.33 342.53,597.07 372.36,578.61 402.19,551.46" fill="none" stroke="#666" stroke-width="1.0" />
<polyline points="312.70,600.33 342.53,597.72 372.36,577.52 402.19,549.29" fill="none" stroke="#f04040" stroke-width="1.1" />
<line x1="312.70" y1="601.41" x2="312.70" y2="598.16" stroke="#666" stroke-width="0.8" />
<line x1="310.90" y1="601.41" x2="314.50" y2="601.41" stroke="#666" stroke-width="0.8" />
<line x1="310.90" y1="598.16" x2="314.50" y2="598.16" stroke="#666" stroke-width="0.8" />
<line x1="342.53" y1="599.24" x2="342.53" y2="594.90" stroke="#666" stroke-width="0.8" />
<line x1="340.73" y1="599.24" x2="344.33" y2="599.24" stroke="#666" stroke-width="0.8" />
<line x1="340.73" y1="594.90" x2="344.33" y2="594.90" stroke="#666" stroke-width="0.8" />
<line x1="372.36" y1="584.04" x2="372.36" y2="573.18" stroke="#666" stroke-width="0.8" />
<line x1="370.56" y1="584.04" x2="374.16" y2="584.04" stroke="#666" stroke-width="0.8" />
<line x1="370.56" y1="573.18" x2="374.16" y2="573.18" stroke="#666" stroke-width="0.8" />
<line x1="402.19" y1="557.97" x2="402.19" y2="544.94" stroke="#666" stroke-width="0.8" />
<line x1="400.39" y1="557.97" x2="403.99" y2="557.97" stroke="#666" stroke-width="0.8" />
<line x1="400.39" y1="544.94" x2="403.99" y2="544.94" stroke="#666" stroke-width="0.8" />
<line x1="312.70" y1="602.07" x2="312.70" y2="598.59" stroke="#f04040" stroke-width="0.9" />
<line x1="310.70" y1="602.07" x2="314.70" y2="602.07" stroke="#f04040" stroke-width="0.9" />
<line x1="310.70" y1="598.59" x2="314.70" y2="598.59" stroke="#f04040" stroke-width="0.9" />
<line x1="342.53" y1="599.89" x2="342.53" y2="595.55" stroke="#f04040" stroke-width="0.9" />
<line x1="340.53" y1="599.89" x2="344.53" y2="599.89" stroke="#f04040" stroke-width="0.9" />
<line x1="340.53" y1="595.55" x2="344.53" y2="595.55" stroke="#f04040" stroke-width="0.9" />
<line x1="372.36" y1="581.87" x2="372.36" y2="574.26" stroke="#f04040" stroke-width="0.9" />
<line x1="370.36" y1="581.87" x2="374.36" y2="581.87" stroke="#f04040" stroke-width="0.9" />
<line x1="370.36" y1="574.26" x2="374.36" y2="574.26" stroke="#f04040" stroke-width="0.9" />
<line x1="402.19" y1="563.40" x2="402.19" y2="535.17" stroke="#f04040" stroke-width="0.9" />
<line x1="400.19" y1="563.40" x2="404.19" y2="563.40" stroke="#f04040" stroke-width="0.9" />
<line x1="400.19" y1="535.17" x2="404.19" y2="535.17" stroke="#f04040" stroke-width="0.9" />
<line x1="306.20" y1="541.00" x2="323.70" y2="541.00" stroke="#666" stroke-width="0.9" />
<line x1="315.00" y1="536.30" x2="315.00" y2="545.70" stroke="#666" stroke-width="0.8" />
<line x1="313.20" y1="536.30" x2="316.80" y2="536.30" stroke="#666" stroke-width="0.8" />
<line x1="313.20" y1="545.70" x2="316.80" y2="545.70" stroke="#666" stroke-width="0.8" />
<text x="331.90" y="544.00" font-size="9.86" textLength="30.36" lengthAdjust="spacingAndGlyphs" >Control</text>
<line x1="306.20" y1="561.10" x2="323.70" y2="561.10" stroke="#f04040" stroke-width="1.0" />
<line x1="315.00" y1="556.40" x2="315.00" y2="565.80" stroke="#f04040" stroke-width="0.9" />
<line x1="313.20" y1="556.40" x2="316.80" y2="556.40" stroke="#f04040" stroke-width="0.9" />
<line x1="313.20" y1="565.80" x2="316.80" y2="565.80" stroke="#f04040" stroke-width="0.9" />
<text x="331.90" y="559.20" font-size="9.86" textLength="31.41" lengthAdjust="spacingAndGlyphs" >SeeDB-</text>
<text x="331.90" y="567.60" font-size="9.86" textLength="17.13" lengthAdjust="spacingAndGlyphs" >Live</text>
<text x="357.50" y="626.70" font-size="10.53" text-anchor="middle" textLength="132.24" lengthAdjust="spacingAndGlyphs" >Days from medium exchange</text>
<text x="457.00" y="496.50" font-size="13" fill="#000" font-weight="bold" >k</text>
<text x="543.70" y="498.40" font-size="10.53" text-anchor="middle" textLength="32.43" lengthAdjust="spacingAndGlyphs" >Control</text>
<text x="602.50" y="498.40" font-size="10.53" text-anchor="middle" textLength="51.85" lengthAdjust="spacingAndGlyphs" >SeeDB-Live</text>
<text x="484.00" y="527.60" font-size="10.53" text-anchor="middle" textLength="54.94" lengthAdjust="spacingAndGlyphs" >HeLa/Fucci2</text>
<text x="484.00" y="537.00" font-size="10.53" text-anchor="middle" textLength="44.63" lengthAdjust="spacingAndGlyphs" >spheroids</text>
<text x="484.00" y="551.30" font-size="10.53" text-anchor="middle" fill="#22a030" textLength="31.35" lengthAdjust="spacingAndGlyphs" >S/G2/M</text>
<text x="484.00" y="561.00" font-size="10.53" text-anchor="middle" fill="#22a030" textLength="43.22" lengthAdjust="spacingAndGlyphs" >(mVenus)</text>
<text x="484.00" y="572.80" font-size="10.53" text-anchor="middle" fill="#e020e0" textLength="12.34" lengthAdjust="spacingAndGlyphs" >G1</text>
<text x="484.00" y="582.40" font-size="10.53" text-anchor="middle" fill="#e020e0" textLength="44.87" lengthAdjust="spacingAndGlyphs" >(mCherry)</text>
<text x="484.00" y="599.60" font-size="10.53" text-anchor="middle" textLength="39.87" lengthAdjust="spacingAndGlyphs" >Confocal</text>
<rect x="517.30" y="500.40" width="56.00" height="118.80" fill="#000" />
<rect x="575.00" y="500.40" width="55.80" height="118.80" fill="#000" />
<clipPath id="ck1"><rect x="517.3" y="500.4" width="56" height="118.8"/></clipPath>
<clipPath id="ck2"><rect x="575" y="500.4" width="55.8" height="118.8"/></clipPath>
<g clip-path="url(#ck1)"><g filter="url(#blur1)">
<circle cx="531.7" cy="521.2" r="1.4" fill="#ff2cff" opacity="0.61" style="mix-blend-mode:screen"/>
<circle cx="541.6" cy="531.5" r="1.4" fill="#2cff2c" opacity="0.14" style="mix-blend-mode:screen"/>
<circle cx="536.7" cy="516.5" r="1.6" fill="#ff2cff" opacity="0.82" style="mix-blend-mode:screen"/>
<circle cx="547.9" cy="518.8" r="1.3" fill="#ffffff" opacity="0.71" style="mix-blend-mode:screen"/>
<circle cx="557.6" cy="510.5" r="1.2" fill="#2cff2c" opacity="0.95" style="mix-blend-mode:screen"/>
<circle cx="557.6" cy="522.1" r="1.4" fill="#ff2cff" opacity="0.56" style="mix-blend-mode:screen"/>
<circle cx="536.4" cy="533.0" r="1.8" fill="#2cff2c" opacity="0.12" style="mix-blend-mode:screen"/>
<circle cx="525.4" cy="526.5" r="2.3" fill="#ff2cff" opacity="0.36" style="mix-blend-mode:screen"/>
<circle cx="557.5" cy="524.8" r="2.0" fill="#ff2cff" opacity="0.44" style="mix-blend-mode:screen"/>
<circle cx="566.6" cy="508.2" r="1.3" fill="#ff2cff" opacity="0.95" style="mix-blend-mode:screen"/>
<circle cx="553.8" cy="512.7" r="1.3" fill="#ff2cff" opacity="0.95" style="mix-blend-mode:screen"/>
<circle cx="542.9" cy="510.5" r="1.9" fill="#2cff2c" opacity="0.95" style="mix-blend-mode:screen"/>
<circle cx="543.3" cy="517.1" r="2.0" fill="#ffffff" opacity="0.79" style="mix-blend-mode:screen"/>
<circle cx="534.0" cy="526.5" r="2.4" fill="#ff2cff" opacity="0.36" style="mix-blend-mode:screen"/>
<circle cx="561.8" cy="510.1" r="2.3" fill="#ff2cff" opacity="0.95" style="mix-blend-mode:screen"/>
<circle cx="544.2" cy="519.0" r="1.8" fill="#ff2cff" opacity="0.70" style="mix-blend-mode:screen"/>
<circle cx="527.1" cy="520.5" r="1.8" fill="#ff2cff" opacity="0.64" style="mix-blend-mode:screen"/>
<circle cx="556.5" cy="517.0" r="2.2" fill="#ff2cff" opacity="0.79" style="mix-blend-mode:screen"/>
<circle cx="535.1" cy="513.1" r="2.3" fill="#2cff2c" opacity="0.95" style="mix-blend-mode:screen"/>
<circle cx="533.6" cy="514.2" r="1.4" fill="#ffffff" opacity="0.92" style="mix-blend-mode:screen"/>
<circle cx="530.9" cy="517.1" r="1.6" fill="#ff2cff" opacity="0.79" style="mix-blend-mode:screen"/>
<circle cx="561.9" cy="509.6" r="2.3" fill="#2cff2c" opacity="0.95" style="mix-blend-mode:screen"/>
<circle cx="534.7" cy="523.1" r="2.2" fill="#2cff2c" opacity="0.52" style="mix-blend-mode:screen"/>
<circle cx="565.6" cy="515.1" r="1.9" fill="#ff2cff" opacity="0.88" style="mix-blend-mode:screen"/>
<circle cx="538.2" cy="513.6" r="1.8" fill="#ffffff" opacity="0.95" style="mix-blend-mode:screen"/>
<circle cx="530.8" cy="511.5" r="2.1" fill="#ff2cff" opacity="0.95" style="mix-blend-mode:screen"/>
<circle cx="563.0" cy="507.9" r="2.4" fill="#ff2cff" opacity="0.95" style="mix-blend-mode:screen"/>
<circle cx="523.1" cy="520.9" r="1.5" fill="#2cff2c" opacity="0.62" style="mix-blend-mode:screen"/>
<circle cx="555.9" cy="509.5" r="2.3" fill="#ff2cff" opacity="0.95" style="mix-blend-mode:screen"/>
<circle cx="525.1" cy="530.7" r="1.3" fill="#ff2cff" opacity="0.17" style="mix-blend-mode:screen"/>
<circle cx="540.2" cy="522.1" r="2.0" fill="#ff2cff" opacity="0.56" style="mix-blend-mode:screen"/>
<circle cx="554.8" cy="525.7" r="2.3" fill="#ffffff" opacity="0.40" style="mix-blend-mode:screen"/>
<circle cx="527.3" cy="513.3" r="1.6" fill="#ffffff" opacity="0.95" style="mix-blend-mode:screen"/>
<circle cx="533.6" cy="521.4" r="2.4" fill="#ff2cff" opacity="0.60" style="mix-blend-mode:screen"/>
<circle cx="551.8" cy="519.1" r="1.3" fill="#ff2cff" opacity="0.70" style="mix-blend-mode:screen"/>
<circle cx="526.4" cy="517.0" r="2.0" fill="#ff2cff" opacity="0.79" style="mix-blend-mode:screen"/>
<circle cx="544.4" cy="514.5" r="2.2" fill="#ff2cff" opacity="0.91" style="mix-blend-mode:screen"/>
<circle cx="543.2" cy="520.9" r="1.5" fill="#ff2cff" opacity="0.62" style="mix-blend-mode:screen"/>
<circle cx="535.9" cy="516.2" r="2.2" fill="#ffffff" opacity="0.83" style="mix-blend-mode:screen"/>
<circle cx="529.2" cy="523.0" r="1.9" fill="#ff2cff" opacity="0.52" style="mix-blend-mode:screen"/>
<circle cx="565.9" cy="525.8" r="2.1" fill="#ff2cff" opacity="0.40" style="mix-blend-mode:screen"/>
<circle cx="565.2" cy="518.9" r="1.7" fill="#ff2cff" opacity="0.71" style="mix-blend-mode:screen"/>
<circle cx="543.4" cy="517.2" r="2.2" fill="#ff2cff" opacity="0.79" style="mix-blend-mode:screen"/>
<circle cx="527.3" cy="513.1" r="1.4" fill="#ff2cff" opacity="0.95" style="mix-blend-mode:screen"/>
<circle cx="560.5" cy="522.1" r="2.1" fill="#ff2cff" opacity="0.56" style="mix-blend-mode:screen"/>
<circle cx="565.3" cy="513.3" r="2.2" fill="#2cff2c" opacity="0.95" style="mix-blend-mode:screen"/>
<circle cx="522.7" cy="509.1" r="1.9" fill="#ff2cff" opacity="0.95" style="mix-blend-mode:screen"/>
<circle cx="525.6" cy="513.0" r="1.5" fill="#ff2cff" opacity="0.95" style="mix-blend-mode:screen"/>
<circle cx="546.7" cy="519.1" r="1.9" fill="#ff2cff" opacity="0.70" style="mix-blend-mode:screen"/>
<circle cx="563.1" cy="510.2" r="1.8" fill="#ff2cff" opacity="0.95" style="mix-blend-mode:screen"/>
<circle cx="531.7" cy="515.0" r="2.0" fill="#ff2cff" opacity="0.89" style="mix-blend-mode:screen"/>
<circle cx="547.1" cy="518.7" r="1.2" fill="#ff2cff" opacity="0.72" style="mix-blend-mode:screen"/>
<circle cx="540.4" cy="517.5" r="1.9" fill="#ffffff" opacity="0.77" style="mix-blend-mode:screen"/>
<circle cx="546.3" cy="516.2" r="1.2" fill="#ffffff" opacity="0.83" style="mix-blend-mode:screen"/>
<circle cx="533.8" cy="514.6" r="1.5" fill="#2cff2c" opacity="0.90" style="mix-blend-mode:screen"/>
<circle cx="531.6" cy="521.4" r="2.0" fill="#ffffff" opacity="0.60" style="mix-blend-mode:screen"/>
<circle cx="553.0" cy="532.5" r="1.2" fill="#ff2cff" opacity="0.12" style="mix-blend-mode:screen"/>
<circle cx="526.3" cy="514.0" r="1.8" fill="#ffffff" opacity="0.93" style="mix-blend-mode:screen"/>
<circle cx="548.9" cy="525.0" r="1.5" fill="#ff2cff" opacity="0.43" style="mix-blend-mode:screen"/>
<circle cx="530.9" cy="510.2" r="1.6" fill="#ff2cff" opacity="0.95" style="mix-blend-mode:screen"/>
<circle cx="538.6" cy="514.4" r="1.3" fill="#ff2cff" opacity="0.92" style="mix-blend-mode:screen"/>
<circle cx="525.0" cy="526.7" r="2.2" fill="#ff2cff" opacity="0.36" style="mix-blend-mode:screen"/>
<circle cx="549.4" cy="511.4" r="2.2" fill="#ff2cff" opacity="0.95" style="mix-blend-mode:screen"/>
<circle cx="543.8" cy="523.5" r="2.1" fill="#2cff2c" opacity="0.50" style="mix-blend-mode:screen"/>
<circle cx="544.9" cy="509.4" r="1.5" fill="#ffffff" opacity="0.95" style="mix-blend-mode:screen"/>
<circle cx="561.1" cy="508.8" r="1.7" fill="#ffffff" opacity="0.95" style="mix-blend-mode:screen"/>
<circle cx="557.6" cy="523.8" r="1.9" fill="#ffffff" opacity="0.49" style="mix-blend-mode:screen"/>
<circle cx="537.6" cy="517.0" r="2.2" fill="#ff2cff" opacity="0.80" style="mix-blend-mode:screen"/>
<circle cx="537.4" cy="511.1" r="2.2" fill="#ffffff" opacity="0.95" style="mix-blend-mode:screen"/>
<circle cx="533.8" cy="518.2" r="1.5" fill="#2cff2c" opacity="0.74" style="mix-blend-mode:screen"/>
<circle cx="540.5" cy="517.3" r="2.2" fill="#ff2cff" opacity="0.78" style="mix-blend-mode:screen"/>
<circle cx="542.3" cy="517.5" r="2.2" fill="#ff2cff" opacity="0.77" style="mix-blend-mode:screen"/>
<circle cx="536.5" cy="508.9" r="1.5" fill="#ff2cff" opacity="0.95" style="mix-blend-mode:screen"/>
<circle cx="530.7" cy="515.6" r="2.3" fill="#2cff2c" opacity="0.86" style="mix-blend-mode:screen"/>
<circle cx="536.0" cy="512.9" r="2.3" fill="#2cff2c" opacity="0.95" style="mix-blend-mode:screen"/>
<circle cx="535.2" cy="532.8" r="1.7" fill="#2cff2c" opacity="0.12" style="mix-blend-mode:screen"/>
<circle cx="559.1" cy="518.3" r="1.5" fill="#ff2cff" opacity="0.74" style="mix-blend-mode:screen"/>
<circle cx="566.8" cy="512.7" r="2.0" fill="#2cff2c" opacity="0.95" style="mix-blend-mode:screen"/>
<circle cx="540.7" cy="526.6" r="1.7" fill="#ff2cff" opacity="0.36" style="mix-blend-mode:screen"/>
<circle cx="536.1" cy="525.0" r="2.2" fill="#ff2cff" opacity="0.43" style="mix-blend-mode:screen"/>
<circle cx="537.7" cy="513.6" r="2.1" fill="#ff2cff" opacity="0.95" style="mix-blend-mode:screen"/>
<circle cx="528.7" cy="522.6" r="2.1" fill="#ffffff" opacity="0.54" style="mix-blend-mode:screen"/>
<circle cx="548.6" cy="518.7" r="1.8" fill="#ff2cff" opacity="0.72" style="mix-blend-mode:screen"/>
<circle cx="535.2" cy="517.5" r="1.8" fill="#ff2cff" opacity="0.77" style="mix-blend-mode:screen"/>
<circle cx="556.7" cy="516.8" r="1.2" fill="#2cff2c" opacity="0.80" style="mix-blend-mode:screen"/>
<circle cx="534.1" cy="510.8" r="1.6" fill="#ff2cff" opacity="0.95" style="mix-blend-mode:screen"/>
<circle cx="563.7" cy="522.9" r="2.0" fill="#ff2cff" opacity="0.53" style="mix-blend-mode:screen"/>
<circle cx="562.1" cy="532.1" r="1.6" fill="#2cff2c" opacity="0.12" style="mix-blend-mode:screen"/>
<circle cx="559.5" cy="516.5" r="1.5" fill="#ffffff" opacity="0.82" style="mix-blend-mode:screen"/>
<circle cx="533.5" cy="529.4" r="1.9" fill="#ff2cff" opacity="0.23" style="mix-blend-mode:screen"/>
<circle cx="541.7" cy="512.1" r="1.3" fill="#ff2cff" opacity="0.95" style="mix-blend-mode:screen"/>
<circle cx="529.1" cy="516.1" r="1.9" fill="#2cff2c" opacity="0.84" style="mix-blend-mode:screen"/>
<circle cx="559.1" cy="528.0" r="1.9" fill="#ff2cff" opacity="0.30" style="mix-blend-mode:screen"/>
<circle cx="521.5" cy="510.1" r="1.7" fill="#ffffff" opacity="0.95" style="mix-blend-mode:screen"/>
<circle cx="542.5" cy="513.2" r="2.3" fill="#ff2cff" opacity="0.95" style="mix-blend-mode:screen"/>
<circle cx="547.8" cy="513.1" r="2.2" fill="#ff2cff" opacity="0.95" style="mix-blend-mode:screen"/>
<circle cx="564.0" cy="508.7" r="1.4" fill="#ff2cff" opacity="0.95" style="mix-blend-mode:screen"/>
<circle cx="561.8" cy="512.8" r="1.3" fill="#ff2cff" opacity="0.95" style="mix-blend-mode:screen"/>
<circle cx="549.5" cy="519.5" r="1.4" fill="#2cff2c" opacity="0.68" style="mix-blend-mode:screen"/>
<circle cx="544.6" cy="511.6" r="1.4" fill="#ff2cff" opacity="0.95" style="mix-blend-mode:screen"/>
<circle cx="541.7" cy="514.2" r="2.1" fill="#ffffff" opacity="0.92" style="mix-blend-mode:screen"/>
<circle cx="565.9" cy="515.1" r="1.6" fill="#ff2cff" opacity="0.88" style="mix-blend-mode:screen"/>
<circle cx="524.4" cy="521.1" r="1.4" fill="#ff2cff" opacity="0.61" style="mix-blend-mode:screen"/>
<circle cx="531.9" cy="524.4" r="1.3" fill="#2cff2c" opacity="0.46" style="mix-blend-mode:screen"/>
<circle cx="525.3" cy="507.4" r="1.3" fill="#ffffff" opacity="0.95" style="mix-blend-mode:screen"/>
<circle cx="557.1" cy="521.0" r="2.4" fill="#ff2cff" opacity="0.61" style="mix-blend-mode:screen"/>
<circle cx="537.0" cy="529.2" r="2.3" fill="#ff2cff" opacity="0.24" style="mix-blend-mode:screen"/>
<circle cx="566.9" cy="512.5" r="2.1" fill="#ff2cff" opacity="0.95" style="mix-blend-mode:screen"/>
<circle cx="522.1" cy="523.6" r="2.2" fill="#ff2cff" opacity="0.49" style="mix-blend-mode:screen"/>
<circle cx="547.3" cy="518.3" r="2.0" fill="#2cff2c" opacity="0.74" style="mix-blend-mode:screen"/>
<circle cx="541.7" cy="525.4" r="2.1" fill="#2cff2c" opacity="0.42" style="mix-blend-mode:screen"/>
<circle cx="558.5" cy="521.2" r="1.3" fill="#ffffff" opacity="0.60" style="mix-blend-mode:screen"/>
<circle cx="527.7" cy="514.1" r="1.8" fill="#2cff2c" opacity="0.93" style="mix-blend-mode:screen"/>
<circle cx="521.9" cy="513.9" r="1.7" fill="#ff2cff" opacity="0.94" style="mix-blend-mode:screen"/>
<circle cx="527.4" cy="507.7" r="2.0" fill="#ff2cff" opacity="0.95" style="mix-blend-mode:screen"/>
<circle cx="522.2" cy="511.3" r="1.8" fill="#ff2cff" opacity="0.95" style="mix-blend-mode:screen"/>
<circle cx="521.6" cy="514.2" r="2.0" fill="#2cff2c" opacity="0.92" style="mix-blend-mode:screen"/>
<circle cx="551.5" cy="527.6" r="1.4" fill="#ff2cff" opacity="0.31" style="mix-blend-mode:screen"/>
<circle cx="544.2" cy="512.9" r="1.4" fill="#2cff2c" opacity="0.95" style="mix-blend-mode:screen"/>
<circle cx="542.2" cy="530.1" r="2.3" fill="#2cff2c" opacity="0.20" style="mix-blend-mode:screen"/>
<circle cx="554.8" cy="507.8" r="1.3" fill="#ff2cff" opacity="0.95" style="mix-blend-mode:screen"/>
<circle cx="527.5" cy="520.9" r="2.0" fill="#ff2cff" opacity="0.62" style="mix-blend-mode:screen"/>
<circle cx="564.7" cy="525.3" r="1.4" fill="#ff2cff" opacity="0.42" style="mix-blend-mode:screen"/>
<circle cx="557.7" cy="515.5" r="1.9" fill="#2cff2c" opacity="0.87" style="mix-blend-mode:screen"/>
<circle cx="527.5" cy="508.8" r="2.1" fill="#ffffff" opacity="0.95" style="mix-blend-mode:screen"/>
<circle cx="559.0" cy="522.3" r="1.6" fill="#ff2cff" opacity="0.55" style="mix-blend-mode:screen"/>
<circle cx="555.8" cy="508.0" r="2.1" fill="#ff2cff" opacity="0.95" style="mix-blend-mode:screen"/>
<circle cx="542.9" cy="523.4" r="1.9" fill="#ff2cff" opacity="0.51" style="mix-blend-mode:screen"/>
<circle cx="556.6" cy="520.5" r="2.0" fill="#ff2cff" opacity="0.64" style="mix-blend-mode:screen"/>
<circle cx="566.2" cy="521.6" r="1.4" fill="#ffffff" opacity="0.59" style="mix-blend-mode:screen"/>
<circle cx="558.9" cy="512.9" r="1.8" fill="#ffffff" opacity="0.95" style="mix-blend-mode:screen"/>
<circle cx="527.2" cy="513.0" r="1.8" fill="#2cff2c" opacity="0.95" style="mix-blend-mode:screen"/>
<circle cx="540.4" cy="509.2" r="2.3" fill="#ff2cff" opacity="0.95" style="mix-blend-mode:screen"/>
<circle cx="546.1" cy="517.1" r="1.8" fill="#ff2cff" opacity="0.79" style="mix-blend-mode:screen"/>
<circle cx="538.9" cy="508.9" r="1.6" fill="#ff2cff" opacity="0.95" style="mix-blend-mode:screen"/>
<circle cx="545.5" cy="525.9" r="1.6" fill="#ffffff" opacity="0.39" style="mix-blend-mode:screen"/>
<circle cx="529.0" cy="509.2" r="1.4" fill="#ffffff" opacity="0.95" style="mix-blend-mode:screen"/>
<circle cx="521.4" cy="527.1" r="2.2" fill="#ff2cff" opacity="0.34" style="mix-blend-mode:screen"/>
<circle cx="556.5" cy="508.9" r="2.1" fill="#2cff2c" opacity="0.95" style="mix-blend-mode:screen"/>
<circle cx="564.1" cy="532.7" r="2.1" fill="#ff2cff" opacity="0.12" style="mix-blend-mode:screen"/>
<circle cx="564.2" cy="520.8" r="1.3" fill="#ff2cff" opacity="0.62" style="mix-blend-mode:screen"/>
<circle cx="559.9" cy="523.8" r="1.7" fill="#2cff2c" opacity="0.49" style="mix-blend-mode:screen"/>
<circle cx="536.9" cy="523.4" r="1.4" fill="#ff2cff" opacity="0.50" style="mix-blend-mode:screen"/>
<circle cx="546.3" cy="510.6" r="1.6" fill="#ff2cff" opacity="0.95" style="mix-blend-mode:screen"/>
<circle cx="551.0" cy="515.7" r="1.7" fill="#ff2cff" opacity="0.85" style="mix-blend-mode:screen"/>
<circle cx="552.3" cy="519.2" r="1.6" fill="#ff2cff" opacity="0.70" style="mix-blend-mode:screen"/>
<circle cx="533.3" cy="535.2" r="1.4" fill="#2cff2c" opacity="0.12" style="mix-blend-mode:screen"/>
<circle cx="551.9" cy="525.3" r="1.9" fill="#ff2cff" opacity="0.42" style="mix-blend-mode:screen"/>
<circle cx="529.4" cy="522.6" r="1.6" fill="#ff2cff" opacity="0.54" style="mix-blend-mode:screen"/>
<circle cx="560.9" cy="530.5" r="1.5" fill="#ff2cff" opacity="0.18" style="mix-blend-mode:screen"/>
<circle cx="534.4" cy="516.2" r="2.0" fill="#2cff2c" opacity="0.83" style="mix-blend-mode:screen"/>
<circle cx="555.6" cy="527.1" r="1.3" fill="#ff2cff" opacity="0.34" style="mix-blend-mode:screen"/>
<circle cx="543.2" cy="526.0" r="1.4" fill="#ffffff" opacity="0.39" style="mix-blend-mode:screen"/>
<circle cx="540.7" cy="514.1" r="1.8" fill="#ff2cff" opacity="0.93" style="mix-blend-mode:screen"/>
<circle cx="534.1" cy="516.0" r="1.8" fill="#2cff2c" opacity="0.84" style="mix-blend-mode:screen"/>
<circle cx="527.0" cy="518.9" r="1.6" fill="#2cff2c" opacity="0.71" style="mix-blend-mode:screen"/>
<circle cx="523.3" cy="537.7" r="2.2" fill="#ffffff" opacity="0.12" style="mix-blend-mode:screen"/>
<circle cx="522.5" cy="520.2" r="1.5" fill="#ff2cff" opacity="0.65" style="mix-blend-mode:screen"/>
<circle cx="560.2" cy="516.8" r="2.3" fill="#ff2cff" opacity="0.80" style="mix-blend-mode:screen"/>
<circle cx="542.3" cy="511.8" r="1.8" fill="#2cff2c" opacity="0.95" style="mix-blend-mode:screen"/>
<circle cx="541.8" cy="522.5" r="1.6" fill="#ff2cff" opacity="0.55" style="mix-blend-mode:screen"/>
<circle cx="544.3" cy="519.3" r="2.4" fill="#ff2cff" opacity="0.69" style="mix-blend-mode:screen"/>
<circle cx="549.2" cy="523.5" r="1.8" fill="#ffffff" opacity="0.50" style="mix-blend-mode:screen"/>
<circle cx="541.2" cy="533.2" r="1.7" fill="#2cff2c" opacity="0.12" style="mix-blend-mode:screen"/>
<circle cx="532.6" cy="514.5" r="1.5" fill="#2cff2c" opacity="0.91" style="mix-blend-mode:screen"/>
<circle cx="523.7" cy="528.1" r="1.3" fill="#ff2cff" opacity="0.29" style="mix-blend-mode:screen"/>
<circle cx="525.1" cy="510.8" r="1.6" fill="#2cff2c" opacity="0.95" style="mix-blend-mode:screen"/>
<circle cx="559.5" cy="512.6" r="1.6" fill="#ff2cff" opacity="0.95" style="mix-blend-mode:screen"/>
<circle cx="521.9" cy="509.7" r="1.7" fill="#ff2cff" opacity="0.95" style="mix-blend-mode:screen"/>
<circle cx="526.3" cy="533.1" r="1.6" fill="#ff2cff" opacity="0.12" style="mix-blend-mode:screen"/>
<circle cx="530.5" cy="536.5" r="1.1" fill="#2cff2c" opacity="0.18" style="mix-blend-mode:screen"/>
<circle cx="535.7" cy="538.1" r="1.4" fill="#2cff2c" opacity="0.18" style="mix-blend-mode:screen"/>
<circle cx="560.4" cy="545.0" r="1.6" fill="#2cff2c" opacity="0.18" style="mix-blend-mode:screen"/>
<circle cx="562.8" cy="529.7" r="1.3" fill="#2cff2c" opacity="0.18" style="mix-blend-mode:screen"/>
<circle cx="562.5" cy="543.2" r="1.2" fill="#ff2cff" opacity="0.18" style="mix-blend-mode:screen"/>
<circle cx="559.3" cy="529.2" r="1.2" fill="#ff2cff" opacity="0.18" style="mix-blend-mode:screen"/>
<circle cx="557.3" cy="541.7" r="1.6" fill="#2cff2c" opacity="0.18" style="mix-blend-mode:screen"/>
<circle cx="550.0" cy="546.6" r="1.7" fill="#2cff2c" opacity="0.18" style="mix-blend-mode:screen"/>
<circle cx="555.1" cy="526.7" r="1.1" fill="#2cff2c" opacity="0.18" style="mix-blend-mode:screen"/>
<circle cx="562.0" cy="527.4" r="1.2" fill="#ff2cff" opacity="0.18" style="mix-blend-mode:screen"/>
<circle cx="539.8" cy="544.0" r="1.0" fill="#ff2cff" opacity="0.18" style="mix-blend-mode:screen"/>
<circle cx="564.5" cy="530.7" r="1.4" fill="#2cff2c" opacity="0.18" style="mix-blend-mode:screen"/>
<circle cx="561.6" cy="525.2" r="1.1" fill="#2cff2c" opacity="0.18" style="mix-blend-mode:screen"/>
<circle cx="556.4" cy="548.0" r="1.6" fill="#2cff2c" opacity="0.18" style="mix-blend-mode:screen"/>
<circle cx="560.7" cy="540.9" r="1.2" fill="#ff2cff" opacity="0.18" style="mix-blend-mode:screen"/>
<circle cx="533.7" cy="531.2" r="1.8" fill="#2cff2c" opacity="0.18" style="mix-blend-mode:screen"/>
<circle cx="543.2" cy="530.6" r="1.2" fill="#ff2cff" opacity="0.18" style="mix-blend-mode:screen"/>
<circle cx="554.3" cy="525.6" r="1.5" fill="#2cff2c" opacity="0.18" style="mix-blend-mode:screen"/>
<circle cx="545.4" cy="527.6" r="1.5" fill="#2cff2c" opacity="0.18" style="mix-blend-mode:screen"/>
<circle cx="540.0" cy="538.7" r="1.6" fill="#ff2cff" opacity="0.18" style="mix-blend-mode:screen"/>
<circle cx="535.0" cy="541.8" r="1.5" fill="#ff2cff" opacity="0.18" style="mix-blend-mode:screen"/>
<circle cx="544.2" cy="538.5" r="1.1" fill="#ff2cff" opacity="0.18" style="mix-blend-mode:screen"/>
<circle cx="550.9" cy="530.1" r="1.4" fill="#ff2cff" opacity="0.18" style="mix-blend-mode:screen"/>
<circle cx="560.3" cy="538.8" r="1.4" fill="#2cff2c" opacity="0.18" style="mix-blend-mode:screen"/>
<circle cx="562.7" cy="534.8" r="1.4" fill="#ff2cff" opacity="0.18" style="mix-blend-mode:screen"/>
</g></g>
<g clip-path="url(#ck2)"><g filter="url(#blur1)">
<circle cx="590.7" cy="515.9" r="1.8" fill="#2cff2c" opacity="0.95" style="mix-blend-mode:screen"/>
<circle cx="601.1" cy="506.8" r="1.4" fill="#ffffff" opacity="0.95" style="mix-blend-mode:screen"/>
<circle cx="611.0" cy="534.6" r="1.8" fill="#2cff2c" opacity="0.95" style="mix-blend-mode:screen"/>
<circle cx="618.5" cy="537.7" r="1.5" fill="#ff2cff" opacity="0.95" style="mix-blend-mode:screen"/>
<circle cx="581.1" cy="533.2" r="2.0" fill="#ff2cff" opacity="0.95" style="mix-blend-mode:screen"/>
<circle cx="603.9" cy="536.8" r="2.2" fill="#ff2cff" opacity="0.95" style="mix-blend-mode:screen"/>
<circle cx="610.9" cy="549.2" r="1.8" fill="#ff2cff" opacity="0.89" style="mix-blend-mode:screen"/>
<circle cx="593.9" cy="516.9" r="1.8" fill="#ffffff" opacity="0.95" style="mix-blend-mode:screen"/>
<circle cx="601.0" cy="537.1" r="2.2" fill="#ff2cff" opacity="0.95" style="mix-blend-mode:screen"/>
<circle cx="601.5" cy="530.9" r="2.2" fill="#ffffff" opacity="0.95" style="mix-blend-mode:screen"/>
<circle cx="598.0" cy="540.7" r="2.3" fill="#2cff2c" opacity="0.95" style="mix-blend-mode:screen"/>
<circle cx="603.3" cy="519.0" r="1.6" fill="#ffffff" opacity="0.95" style="mix-blend-mode:screen"/>
<circle cx="601.4" cy="506.6" r="1.6" fill="#2cff2c" opacity="0.95" style="mix-blend-mode:screen"/>
<circle cx="592.7" cy="523.0" r="2.1" fill="#ff2cff" opacity="0.95" style="mix-blend-mode:screen"/>
<circle cx="610.7" cy="537.5" r="2.2" fill="#ffffff" opacity="0.95" style="mix-blend-mode:screen"/>
<circle cx="592.3" cy="541.7" r="2.3" fill="#ff2cff" opacity="0.95" style="mix-blend-mode:screen"/>
<circle cx="614.3" cy="526.2" r="1.2" fill="#ff2cff" opacity="0.95" style="mix-blend-mode:screen"/>
<circle cx="599.5" cy="551.8" r="2.2" fill="#2cff2c" opacity="0.81" style="mix-blend-mode:screen"/>
<circle cx="606.2" cy="525.5" r="1.4" fill="#ff2cff" opacity="0.95" style="mix-blend-mode:screen"/>
<circle cx="605.2" cy="518.8" r="2.3" fill="#ff2cff" opacity="0.95" style="mix-blend-mode:screen"/>
<circle cx="607.3" cy="518.2" r="1.7" fill="#2cff2c" opacity="0.95" style="mix-blend-mode:screen"/>
<circle cx="609.9" cy="529.0" r="1.2" fill="#2cff2c" opacity="0.95" style="mix-blend-mode:screen"/>
<circle cx="619.7" cy="523.8" r="1.9" fill="#2cff2c" opacity="0.95" style="mix-blend-mode:screen"/>
<circle cx="614.9" cy="539.5" r="1.2" fill="#ff2cff" opacity="0.95" style="mix-blend-mode:screen"/>
<circle cx="606.7" cy="519.0" r="1.6" fill="#ff2cff" opacity="0.95" style="mix-blend-mode:screen"/>
<circle cx="595.4" cy="533.4" r="1.9" fill="#2cff2c" opacity="0.95" style="mix-blend-mode:screen"/>
<circle cx="614.6" cy="539.1" r="1.5" fill="#ffffff" opacity="0.95" style="mix-blend-mode:screen"/>
<circle cx="607.6" cy="540.0" r="1.3" fill="#2cff2c" opacity="0.95" style="mix-blend-mode:screen"/>
<circle cx="608.1" cy="547.0" r="1.3" fill="#ffffff" opacity="0.95" style="mix-blend-mode:screen"/>
<circle cx="614.7" cy="568.3" r="1.4" fill="#ff2cff" opacity="0.34" style="mix-blend-mode:screen"/>
<circle cx="605.8" cy="519.5" r="1.7" fill="#2cff2c" opacity="0.95" style="mix-blend-mode:screen"/>
<circle cx="600.5" cy="559.9" r="1.5" fill="#2cff2c" opacity="0.58" style="mix-blend-mode:screen"/>
<circle cx="596.8" cy="525.1" r="1.3" fill="#ff2cff" opacity="0.95" style="mix-blend-mode:screen"/>
<circle cx="593.6" cy="524.3" r="1.5" fill="#ff2cff" opacity="0.95" style="mix-blend-mode:screen"/>
<circle cx="584.1" cy="550.3" r="1.4" fill="#ff2cff" opacity="0.86" style="mix-blend-mode:screen"/>
<circle cx="600.2" cy="510.3" r="1.8" fill="#2cff2c" opacity="0.95" style="mix-blend-mode:screen"/>
<circle cx="613.7" cy="512.8" r="2.0" fill="#ffffff" opacity="0.95" style="mix-blend-mode:screen"/>
<circle cx="592.8" cy="527.1" r="1.6" fill="#ff2cff" opacity="0.95" style="mix-blend-mode:screen"/>
<circle cx="579.0" cy="546.0" r="1.2" fill="#ff2cff" opacity="0.95" style="mix-blend-mode:screen"/>
<circle cx="618.0" cy="539.1" r="1.4" fill="#ff2cff" opacity="0.95" style="mix-blend-mode:screen"/>
<circle cx="603.2" cy="523.1" r="1.6" fill="#2cff2c" opacity="0.95" style="mix-blend-mode:screen"/>
<circle cx="608.5" cy="568.9" r="1.7" fill="#ff2cff" opacity="0.32" style="mix-blend-mode:screen"/>
<circle cx="599.1" cy="544.2" r="1.2" fill="#2cff2c" opacity="0.95" style="mix-blend-mode:screen"/>
<circle cx="591.7" cy="515.6" r="1.4" fill="#ff2cff" opacity="0.95" style="mix-blend-mode:screen"/>
<circle cx="613.7" cy="552.4" r="1.3" fill="#ffffff" opacity="0.80" style="mix-blend-mode:screen"/>
<circle cx="605.4" cy="515.1" r="1.6" fill="#ff2cff" opacity="0.95" style="mix-blend-mode:screen"/>
<circle cx="596.7" cy="507.4" r="1.8" fill="#2cff2c" opacity="0.95" style="mix-blend-mode:screen"/>
<circle cx="593.2" cy="529.0" r="1.4" fill="#ff2cff" opacity="0.95" style="mix-blend-mode:screen"/>
<circle cx="598.0" cy="527.2" r="1.8" fill="#ff2cff" opacity="0.95" style="mix-blend-mode:screen"/>
<circle cx="605.5" cy="508.6" r="2.1" fill="#ff2cff" opacity="0.95" style="mix-blend-mode:screen"/>
<circle cx="598.6" cy="526.3" r="1.4" fill="#ff2cff" opacity="0.95" style="mix-blend-mode:screen"/>
<circle cx="613.0" cy="518.0" r="1.5" fill="#2cff2c" opacity="0.95" style="mix-blend-mode:screen"/>
<circle cx="606.1" cy="531.3" r="2.1" fill="#ff2cff" opacity="0.95" style="mix-blend-mode:screen"/>
<circle cx="607.6" cy="563.4" r="1.2" fill="#ff2cff" opacity="0.48" style="mix-blend-mode:screen"/>
<circle cx="591.7" cy="570.0" r="1.5" fill="#ff2cff" opacity="0.29" style="mix-blend-mode:screen"/>
<circle cx="605.7" cy="514.3" r="1.8" fill="#ff2cff" opacity="0.95" style="mix-blend-mode:screen"/>
<circle cx="600.5" cy="532.0" r="2.2" fill="#ff2cff" opacity="0.95" style="mix-blend-mode:screen"/>
<circle cx="616.7" cy="547.2" r="2.2" fill="#ffffff" opacity="0.95" style="mix-blend-mode:screen"/>
<circle cx="612.7" cy="575.0" r="1.9" fill="#2cff2c" opacity="0.15" style="mix-blend-mode:screen"/>
<circle cx="597.7" cy="549.5" r="1.8" fill="#ff2cff" opacity="0.88" style="mix-blend-mode:screen"/>
<circle cx="591.2" cy="526.0" r="1.6" fill="#2cff2c" opacity="0.95" style="mix-blend-mode:screen"/>
<circle cx="614.9" cy="544.5" r="1.4" fill="#ff2cff" opacity="0.95" style="mix-blend-mode:screen"/>
<circle cx="586.9" cy="554.8" r="2.2" fill="#ffffff" opacity="0.73" style="mix-blend-mode:screen"/>
<circle cx="606.9" cy="531.0" r="2.2" fill="#2cff2c" opacity="0.95" style="mix-blend-mode:screen"/>
<circle cx="619.0" cy="540.2" r="1.9" fill="#2cff2c" opacity="0.95" style="mix-blend-mode:screen"/>
<circle cx="600.5" cy="543.0" r="1.6" fill="#ff2cff" opacity="0.95" style="mix-blend-mode:screen"/>
<circle cx="599.3" cy="543.4" r="1.2" fill="#ff2cff" opacity="0.95" style="mix-blend-mode:screen"/>
<circle cx="600.8" cy="554.2" r="1.4" fill="#2cff2c" opacity="0.74" style="mix-blend-mode:screen"/>
<circle cx="592.4" cy="510.0" r="1.5" fill="#ff2cff" opacity="0.95" style="mix-blend-mode:screen"/>
<circle cx="597.9" cy="550.2" r="1.4" fill="#ffffff" opacity="0.86" style="mix-blend-mode:screen"/>
<circle cx="593.0" cy="514.9" r="1.3" fill="#ff2cff" opacity="0.95" style="mix-blend-mode:screen"/>
<circle cx="597.2" cy="537.7" r="2.1" fill="#2cff2c" opacity="0.95" style="mix-blend-mode:screen"/>
<circle cx="612.5" cy="553.3" r="2.0" fill="#ff2cff" opacity="0.77" style="mix-blend-mode:screen"/>
<circle cx="587.3" cy="549.3" r="1.8" fill="#2cff2c" opacity="0.88" style="mix-blend-mode:screen"/>
<circle cx="589.9" cy="522.2" r="2.1" fill="#2cff2c" opacity="0.95" style="mix-blend-mode:screen"/>
<circle cx="615.6" cy="557.8" r="1.6" fill="#2cff2c" opacity="0.64" style="mix-blend-mode:screen"/>
<circle cx="601.4" cy="543.6" r="2.1" fill="#ff2cff" opacity="0.95" style="mix-blend-mode:screen"/>
<circle cx="603.0" cy="510.5" r="2.0" fill="#ff2cff" opacity="0.95" style="mix-blend-mode:screen"/>
<circle cx="614.7" cy="576.2" r="1.3" fill="#2cff2c" opacity="0.12" style="mix-blend-mode:screen"/>
<circle cx="606.4" cy="525.6" r="1.9" fill="#ff2cff" opacity="0.95" style="mix-blend-mode:screen"/>
<circle cx="607.5" cy="521.8" r="1.5" fill="#ff2cff" opacity="0.95" style="mix-blend-mode:screen"/>
<circle cx="605.8" cy="540.9" r="1.5" fill="#ffffff" opacity="0.95" style="mix-blend-mode:screen"/>
<circle cx="594.5" cy="578.9" r="2.0" fill="#ff2cff" opacity="0.12" style="mix-blend-mode:screen"/>
<circle cx="599.8" cy="547.0" r="1.4" fill="#ff2cff" opacity="0.95" style="mix-blend-mode:screen"/>
<circle cx="591.0" cy="554.0" r="1.9" fill="#ff2cff" opacity="0.75" style="mix-blend-mode:screen"/>
<circle cx="623.0" cy="564.6" r="2.2" fill="#ff2cff" opacity="0.45" style="mix-blend-mode:screen"/>
<circle cx="595.6" cy="552.4" r="2.1" fill="#ff2cff" opacity="0.79" style="mix-blend-mode:screen"/>
<circle cx="594.4" cy="558.5" r="1.6" fill="#2cff2c" opacity="0.62" style="mix-blend-mode:screen"/>
<circle cx="597.4" cy="524.6" r="1.7" fill="#ff2cff" opacity="0.95" style="mix-blend-mode:screen"/>
<circle cx="608.0" cy="588.0" r="1.6" fill="#ff2cff" opacity="0.12" style="mix-blend-mode:screen"/>
<circle cx="596.7" cy="514.4" r="1.6" fill="#ff2cff" opacity="0.95" style="mix-blend-mode:screen"/>
<circle cx="586.6" cy="534.5" r="1.5" fill="#2cff2c" opacity="0.95" style="mix-blend-mode:screen"/>
<circle cx="601.4" cy="507.6" r="1.8" fill="#2cff2c" opacity="0.95" style="mix-blend-mode:screen"/>
<circle cx="604.4" cy="532.0" r="2.3" fill="#ff2cff" opacity="0.95" style="mix-blend-mode:screen"/>
<circle cx="605.8" cy="531.3" r="1.6" fill="#2cff2c" opacity="0.95" style="mix-blend-mode:screen"/>
<circle cx="595.1" cy="539.8" r="1.5" fill="#2cff2c" opacity="0.95" style="mix-blend-mode:screen"/>
<circle cx="592.0" cy="528.4" r="1.7" fill="#ffffff" opacity="0.95" style="mix-blend-mode:screen"/>
<circle cx="601.1" cy="534.5" r="1.2" fill="#ff2cff" opacity="0.95" style="mix-blend-mode:screen"/>
<circle cx="610.1" cy="540.8" r="1.2" fill="#2cff2c" opacity="0.95" style="mix-blend-mode:screen"/>
<circle cx="606.1" cy="533.4" r="1.4" fill="#ff2cff" opacity="0.95" style="mix-blend-mode:screen"/>
<circle cx="594.3" cy="525.2" r="1.9" fill="#2cff2c" opacity="0.95" style="mix-blend-mode:screen"/>
<circle cx="601.2" cy="530.7" r="1.8" fill="#ff2cff" opacity="0.95" style="mix-blend-mode:screen"/>
<circle cx="598.7" cy="521.7" r="2.3" fill="#ff2cff" opacity="0.95" style="mix-blend-mode:screen"/>
<circle cx="594.5" cy="506.7" r="2.1" fill="#2cff2c" opacity="0.95" style="mix-blend-mode:screen"/>
<circle cx="608.8" cy="513.1" r="1.5" fill="#2cff2c" opacity="0.95" style="mix-blend-mode:screen"/>
<circle cx="598.2" cy="522.2" r="1.9" fill="#ffffff" opacity="0.95" style="mix-blend-mode:screen"/>
<circle cx="591.2" cy="534.5" r="2.0" fill="#ffffff" opacity="0.95" style="mix-blend-mode:screen"/>
<circle cx="586.5" cy="527.6" r="1.7" fill="#ffffff" opacity="0.95" style="mix-blend-mode:screen"/>
<circle cx="600.5" cy="546.0" r="1.4" fill="#2cff2c" opacity="0.95" style="mix-blend-mode:screen"/>
<circle cx="590.2" cy="545.7" r="1.8" fill="#ff2cff" opacity="0.95" style="mix-blend-mode:screen"/>
<circle cx="601.7" cy="561.3" r="2.3" fill="#ff2cff" opacity="0.54" style="mix-blend-mode:screen"/>
<circle cx="610.8" cy="513.7" r="1.7" fill="#2cff2c" opacity="0.95" style="mix-blend-mode:screen"/>
<circle cx="623.0" cy="561.4" r="1.3" fill="#ff2cff" opacity="0.54" style="mix-blend-mode:screen"/>
<circle cx="614.6" cy="535.5" r="1.8" fill="#2cff2c" opacity="0.95" style="mix-blend-mode:screen"/>
<circle cx="608.2" cy="541.2" r="1.4" fill="#2cff2c" opacity="0.95" style="mix-blend-mode:screen"/>
<circle cx="591.7" cy="534.9" r="1.5" fill="#2cff2c" opacity="0.95" style="mix-blend-mode:screen"/>
<circle cx="598.9" cy="557.2" r="1.5" fill="#ff2cff" opacity="0.66" style="mix-blend-mode:screen"/>
<circle cx="599.5" cy="513.1" r="1.2" fill="#ff2cff" opacity="0.95" style="mix-blend-mode:screen"/>
<circle cx="596.5" cy="547.3" r="2.1" fill="#ff2cff" opacity="0.94" style="mix-blend-mode:screen"/>
<circle cx="597.5" cy="565.3" r="1.5" fill="#2cff2c" opacity="0.43" style="mix-blend-mode:screen"/>
<circle cx="594.5" cy="514.9" r="1.6" fill="#ffffff" opacity="0.95" style="mix-blend-mode:screen"/>
<circle cx="609.0" cy="518.7" r="1.6" fill="#2cff2c" opacity="0.95" style="mix-blend-mode:screen"/>
<circle cx="617.9" cy="574.8" r="1.9" fill="#2cff2c" opacity="0.15" style="mix-blend-mode:screen"/>
<circle cx="589.6" cy="536.6" r="1.7" fill="#2cff2c" opacity="0.95" style="mix-blend-mode:screen"/>
<circle cx="608.7" cy="575.4" r="1.4" fill="#ff2cff" opacity="0.14" style="mix-blend-mode:screen"/>
<circle cx="592.5" cy="563.5" r="2.1" fill="#ff2cff" opacity="0.48" style="mix-blend-mode:screen"/>
<circle cx="606.5" cy="568.9" r="1.3" fill="#ff2cff" opacity="0.32" style="mix-blend-mode:screen"/>
<circle cx="615.0" cy="524.0" r="1.8" fill="#ff2cff" opacity="0.95" style="mix-blend-mode:screen"/>
<circle cx="623.0" cy="565.0" r="1.3" fill="#ff2cff" opacity="0.44" style="mix-blend-mode:screen"/>
<circle cx="618.0" cy="531.2" r="1.6" fill="#ffffff" opacity="0.95" style="mix-blend-mode:screen"/>
<circle cx="611.8" cy="524.9" r="2.0" fill="#ffffff" opacity="0.95" style="mix-blend-mode:screen"/>
<circle cx="606.3" cy="519.7" r="1.7" fill="#ff2cff" opacity="0.95" style="mix-blend-mode:screen"/>
<circle cx="579.7" cy="557.2" r="1.7" fill="#ff2cff" opacity="0.66" style="mix-blend-mode:screen"/>
<circle cx="599.0" cy="552.6" r="1.3" fill="#ff2cff" opacity="0.79" style="mix-blend-mode:screen"/>
<circle cx="600.4" cy="514.1" r="1.3" fill="#2cff2c" opacity="0.95" style="mix-blend-mode:screen"/>
<circle cx="599.5" cy="549.9" r="2.1" fill="#ff2cff" opacity="0.87" style="mix-blend-mode:screen"/>
<circle cx="598.3" cy="515.4" r="2.2" fill="#ff2cff" opacity="0.95" style="mix-blend-mode:screen"/>
<circle cx="614.7" cy="533.2" r="1.4" fill="#2cff2c" opacity="0.95" style="mix-blend-mode:screen"/>
<circle cx="594.0" cy="521.6" r="1.9" fill="#ffffff" opacity="0.95" style="mix-blend-mode:screen"/>
<circle cx="605.2" cy="510.7" r="2.0" fill="#ff2cff" opacity="0.95" style="mix-blend-mode:screen"/>
<circle cx="608.9" cy="518.0" r="2.3" fill="#ff2cff" opacity="0.95" style="mix-blend-mode:screen"/>
<circle cx="616.7" cy="556.6" r="1.5" fill="#2cff2c" opacity="0.68" style="mix-blend-mode:screen"/>
<circle cx="611.1" cy="543.7" r="2.1" fill="#ff2cff" opacity="0.95" style="mix-blend-mode:screen"/>
<circle cx="614.6" cy="547.3" r="1.3" fill="#ffffff" opacity="0.94" style="mix-blend-mode:screen"/>
<circle cx="595.6" cy="532.1" r="1.6" fill="#2cff2c" opacity="0.95" style="mix-blend-mode:screen"/>
<circle cx="596.8" cy="520.5" r="1.7" fill="#ff2cff" opacity="0.95" style="mix-blend-mode:screen"/>
<circle cx="604.8" cy="516.7" r="2.2" fill="#2cff2c" opacity="0.95" style="mix-blend-mode:screen"/>
<circle cx="589.1" cy="571.4" r="1.6" fill="#ff2cff" opacity="0.25" style="mix-blend-mode:screen"/>
<circle cx="603.4" cy="509.9" r="2.1" fill="#2cff2c" opacity="0.95" style="mix-blend-mode:screen"/>
<circle cx="601.1" cy="530.1" r="1.4" fill="#2cff2c" opacity="0.95" style="mix-blend-mode:screen"/>
<circle cx="602.9" cy="568.9" r="2.0" fill="#ff2cff" opacity="0.33" style="mix-blend-mode:screen"/>
<circle cx="600.2" cy="534.6" r="2.0" fill="#2cff2c" opacity="0.95" style="mix-blend-mode:screen"/>
<circle cx="596.1" cy="577.9" r="1.5" fill="#2cff2c" opacity="0.12" style="mix-blend-mode:screen"/>
<circle cx="604.8" cy="537.6" r="1.6" fill="#ff2cff" opacity="0.95" style="mix-blend-mode:screen"/>
<circle cx="608.0" cy="575.2" r="2.0" fill="#ff2cff" opacity="0.14" style="mix-blend-mode:screen"/>
<circle cx="582.5" cy="533.8" r="1.9" fill="#ffffff" opacity="0.95" style="mix-blend-mode:screen"/>
<circle cx="604.5" cy="507.4" r="2.1" fill="#2cff2c" opacity="0.95" style="mix-blend-mode:screen"/>
<circle cx="586.7" cy="550.7" r="1.4" fill="#2cff2c" opacity="0.84" style="mix-blend-mode:screen"/>
<circle cx="596.7" cy="537.1" r="2.2" fill="#2cff2c" opacity="0.95" style="mix-blend-mode:screen"/>
<circle cx="605.7" cy="561.8" r="2.2" fill="#2cff2c" opacity="0.53" style="mix-blend-mode:screen"/>
<circle cx="592.3" cy="579.5" r="1.7" fill="#ff2cff" opacity="0.12" style="mix-blend-mode:screen"/>
<circle cx="615.8" cy="515.0" r="1.9" fill="#ff2cff" opacity="0.95" style="mix-blend-mode:screen"/>
<circle cx="599.5" cy="544.6" r="1.4" fill="#ffffff" opacity="0.95" style="mix-blend-mode:screen"/>
<circle cx="610.1" cy="514.8" r="1.9" fill="#ff2cff" opacity="0.95" style="mix-blend-mode:screen"/>
<circle cx="593.2" cy="522.7" r="2.0" fill="#ffffff" opacity="0.95" style="mix-blend-mode:screen"/>
<circle cx="600.7" cy="568.3" r="1.8" fill="#ff2cff" opacity="0.34" style="mix-blend-mode:screen"/>
<circle cx="609.6" cy="521.1" r="1.6" fill="#ff2cff" opacity="0.95" style="mix-blend-mode:screen"/>
<circle cx="591.5" cy="563.7" r="1.5" fill="#ff2cff" opacity="0.47" style="mix-blend-mode:screen"/>
<circle cx="610.5" cy="517.7" r="1.3" fill="#2cff2c" opacity="0.95" style="mix-blend-mode:screen"/>
<circle cx="595.9" cy="524.2" r="2.1" fill="#ff2cff" opacity="0.95" style="mix-blend-mode:screen"/>
<circle cx="602.7" cy="548.7" r="2.1" fill="#ffffff" opacity="0.90" style="mix-blend-mode:screen"/>
<circle cx="605.5" cy="517.5" r="1.6" fill="#2cff2c" opacity="0.95" style="mix-blend-mode:screen"/>
<circle cx="596.3" cy="518.1" r="1.2" fill="#ff2cff" opacity="0.95" style="mix-blend-mode:screen"/>
<circle cx="608.6" cy="552.1" r="1.2" fill="#ff2cff" opacity="0.81" style="mix-blend-mode:screen"/>
<circle cx="595.5" cy="573.7" r="2.1" fill="#2cff2c" opacity="0.19" style="mix-blend-mode:screen"/>
<circle cx="597.5" cy="535.0" r="1.5" fill="#ffffff" opacity="0.95" style="mix-blend-mode:screen"/>
<circle cx="595.3" cy="558.3" r="2.0" fill="#ff2cff" opacity="0.63" style="mix-blend-mode:screen"/>
<circle cx="595.4" cy="576.4" r="1.2" fill="#ff2cff" opacity="0.12" style="mix-blend-mode:screen"/>
<circle cx="588.8" cy="522.0" r="1.7" fill="#ffffff" opacity="0.95" style="mix-blend-mode:screen"/>
<circle cx="607.0" cy="523.4" r="1.4" fill="#ff2cff" opacity="0.95" style="mix-blend-mode:screen"/>
<circle cx="591.7" cy="524.1" r="1.6" fill="#ff2cff" opacity="0.95" style="mix-blend-mode:screen"/>
<circle cx="599.0" cy="550.8" r="1.6" fill="#2cff2c" opacity="0.84" style="mix-blend-mode:screen"/>
<circle cx="609.6" cy="557.7" r="1.9" fill="#2cff2c" opacity="0.65" style="mix-blend-mode:screen"/>
<circle cx="591.7" cy="528.1" r="2.1" fill="#2cff2c" opacity="0.95" style="mix-blend-mode:screen"/>
<circle cx="600.0" cy="518.0" r="1.6" fill="#2cff2c" opacity="0.95" style="mix-blend-mode:screen"/>
<circle cx="623.0" cy="540.1" r="2.0" fill="#ffffff" opacity="0.95" style="mix-blend-mode:screen"/>
<circle cx="596.8" cy="548.0" r="2.2" fill="#2cff2c" opacity="0.92" style="mix-blend-mode:screen"/>
<circle cx="608.2" cy="544.8" r="1.3" fill="#ff2cff" opacity="0.95" style="mix-blend-mode:screen"/>
<circle cx="601.4" cy="527.1" r="1.8" fill="#ff2cff" opacity="0.95" style="mix-blend-mode:screen"/>
<circle cx="597.0" cy="557.9" r="2.1" fill="#ff2cff" opacity="0.64" style="mix-blend-mode:screen"/>
<circle cx="602.3" cy="516.5" r="2.0" fill="#ffffff" opacity="0.95" style="mix-blend-mode:screen"/>
<circle cx="616.8" cy="575.3" r="1.6" fill="#ff2cff" opacity="0.14" style="mix-blend-mode:screen"/>
<circle cx="603.4" cy="549.1" r="1.9" fill="#ff2cff" opacity="0.89" style="mix-blend-mode:screen"/>
<circle cx="591.8" cy="513.3" r="1.8" fill="#2cff2c" opacity="0.95" style="mix-blend-mode:screen"/>
<circle cx="605.6" cy="554.3" r="2.1" fill="#ff2cff" opacity="0.74" style="mix-blend-mode:screen"/>
<circle cx="596.9" cy="511.0" r="1.8" fill="#2cff2c" opacity="0.95" style="mix-blend-mode:screen"/>
<circle cx="602.8" cy="516.6" r="1.8" fill="#ff2cff" opacity="0.95" style="mix-blend-mode:screen"/>
<circle cx="608.7" cy="526.1" r="1.9" fill="#ff2cff" opacity="0.95" style="mix-blend-mode:screen"/>
<circle cx="597.5" cy="514.2" r="1.7" fill="#ff2cff" opacity="0.95" style="mix-blend-mode:screen"/>
<circle cx="601.0" cy="520.7" r="2.0" fill="#ffffff" opacity="0.95" style="mix-blend-mode:screen"/>
<circle cx="604.8" cy="531.5" r="2.1" fill="#ff2cff" opacity="0.95" style="mix-blend-mode:screen"/>
<circle cx="602.9" cy="533.5" r="1.5" fill="#2cff2c" opacity="0.95" style="mix-blend-mode:screen"/>
<circle cx="608.9" cy="532.3" r="2.2" fill="#ff2cff" opacity="0.95" style="mix-blend-mode:screen"/>
<circle cx="582.9" cy="539.3" r="1.7" fill="#ffffff" opacity="0.95" style="mix-blend-mode:screen"/>
<circle cx="608.3" cy="516.9" r="1.9" fill="#ff2cff" opacity="0.95" style="mix-blend-mode:screen"/>
<circle cx="607.0" cy="510.0" r="1.4" fill="#2cff2c" opacity="0.95" style="mix-blend-mode:screen"/>
<circle cx="606.6" cy="529.3" r="1.6" fill="#ff2cff" opacity="0.95" style="mix-blend-mode:screen"/>
<circle cx="623.0" cy="577.5" r="1.6" fill="#ff2cff" opacity="0.12" style="mix-blend-mode:screen"/>
<circle cx="598.5" cy="536.6" r="1.7" fill="#ff2cff" opacity="0.95" style="mix-blend-mode:screen"/>
<circle cx="597.4" cy="522.6" r="2.2" fill="#ffffff" opacity="0.95" style="mix-blend-mode:screen"/>
<circle cx="604.6" cy="513.2" r="2.2" fill="#ff2cff" opacity="0.95" style="mix-blend-mode:screen"/>
<circle cx="604.3" cy="530.4" r="2.2" fill="#ff2cff" opacity="0.95" style="mix-blend-mode:screen"/>
<circle cx="589.0" cy="546.6" r="1.3" fill="#ff2cff" opacity="0.95" style="mix-blend-mode:screen"/>
<circle cx="579.0" cy="530.6" r="1.3" fill="#ff2cff" opacity="0.95" style="mix-blend-mode:screen"/>
<circle cx="611.9" cy="561.2" r="1.7" fill="#ff2cff" opacity="0.54" style="mix-blend-mode:screen"/>
<circle cx="594.2" cy="527.9" r="1.3" fill="#2cff2c" opacity="0.95" style="mix-blend-mode:screen"/>
<circle cx="607.5" cy="533.9" r="1.5" fill="#ff2cff" opacity="0.95" style="mix-blend-mode:screen"/>
<circle cx="605.8" cy="548.1" r="2.2" fill="#ff2cff" opacity="0.92" style="mix-blend-mode:screen"/>
<circle cx="601.0" cy="525.0" r="1.2" fill="#ff2cff" opacity="0.95" style="mix-blend-mode:screen"/>
<circle cx="600.2" cy="511.3" r="1.8" fill="#ffffff" opacity="0.95" style="mix-blend-mode:screen"/>
<circle cx="609.4" cy="529.3" r="1.8" fill="#ff2cff" opacity="0.95" style="mix-blend-mode:screen"/>
<circle cx="608.1" cy="528.6" r="1.7" fill="#ffffff" opacity="0.95" style="mix-blend-mode:screen"/>
<circle cx="593.2" cy="515.0" r="1.8" fill="#ffffff" opacity="0.95" style="mix-blend-mode:screen"/>
<circle cx="589.6" cy="513.7" r="1.8" fill="#ff2cff" opacity="0.95" style="mix-blend-mode:screen"/>
<circle cx="608.2" cy="547.3" r="2.2" fill="#ff2cff" opacity="0.94" style="mix-blend-mode:screen"/>
<circle cx="592.2" cy="535.9" r="1.3" fill="#ffffff" opacity="0.95" style="mix-blend-mode:screen"/>
<circle cx="585.5" cy="546.2" r="2.1" fill="#ff2cff" opacity="0.95" style="mix-blend-mode:screen"/>
<circle cx="590.7" cy="533.3" r="2.0" fill="#ff2cff" opacity="0.95" style="mix-blend-mode:screen"/>
<circle cx="598.7" cy="539.9" r="1.4" fill="#ff2cff" opacity="0.95" style="mix-blend-mode:screen"/>
<circle cx="579.0" cy="550.3" r="2.2" fill="#ff2cff" opacity="0.86" style="mix-blend-mode:screen"/>
<circle cx="590.4" cy="530.7" r="2.2" fill="#2cff2c" opacity="0.95" style="mix-blend-mode:screen"/>
<circle cx="601.8" cy="552.8" r="1.4" fill="#ff2cff" opacity="0.78" style="mix-blend-mode:screen"/>
<circle cx="603.6" cy="537.9" r="1.7" fill="#ff2cff" opacity="0.95" style="mix-blend-mode:screen"/>
<circle cx="611.5" cy="520.9" r="1.7" fill="#2cff2c" opacity="0.95" style="mix-blend-mode:screen"/>
<circle cx="588.0" cy="558.7" r="1.5" fill="#ff2cff" opacity="0.61" style="mix-blend-mode:screen"/>
<circle cx="590.0" cy="530.0" r="2.2" fill="#ff2cff" opacity="0.95" style="mix-blend-mode:screen"/>
<circle cx="596.3" cy="545.1" r="1.4" fill="#2cff2c" opacity="0.95" style="mix-blend-mode:screen"/>
<circle cx="601.9" cy="530.1" r="1.4" fill="#ff2cff" opacity="0.95" style="mix-blend-mode:screen"/>
<circle cx="605.3" cy="516.1" r="1.8" fill="#2cff2c" opacity="0.95" style="mix-blend-mode:screen"/>
<circle cx="588.1" cy="523.4" r="1.5" fill="#ff2cff" opacity="0.95" style="mix-blend-mode:screen"/>
<circle cx="596.8" cy="519.1" r="2.1" fill="#ff2cff" opacity="0.95" style="mix-blend-mode:screen"/>
<circle cx="579.0" cy="533.3" r="2.2" fill="#ffffff" opacity="0.95" style="mix-blend-mode:screen"/>
<circle cx="600.3" cy="583.7" r="2.3" fill="#ff2cff" opacity="0.12" style="mix-blend-mode:screen"/>
<circle cx="594.0" cy="535.7" r="1.9" fill="#ff2cff" opacity="0.95" style="mix-blend-mode:screen"/>
<circle cx="618.1" cy="543.8" r="1.6" fill="#ffffff" opacity="0.95" style="mix-blend-mode:screen"/>
<circle cx="601.8" cy="553.0" r="1.3" fill="#ffffff" opacity="0.78" style="mix-blend-mode:screen"/>
<circle cx="605.3" cy="516.8" r="2.1" fill="#2cff2c" opacity="0.95" style="mix-blend-mode:screen"/>
<circle cx="582.2" cy="528.1" r="1.7" fill="#ff2cff" opacity="0.95" style="mix-blend-mode:screen"/>
<circle cx="602.8" cy="562.9" r="1.4" fill="#ff2cff" opacity="0.49" style="mix-blend-mode:screen"/>
<circle cx="613.5" cy="533.4" r="2.1" fill="#2cff2c" opacity="0.95" style="mix-blend-mode:screen"/>
<circle cx="601.8" cy="533.7" r="1.5" fill="#ff2cff" opacity="0.95" style="mix-blend-mode:screen"/>
<circle cx="606.7" cy="512.4" r="1.8" fill="#2cff2c" opacity="0.95" style="mix-blend-mode:screen"/>
<circle cx="596.3" cy="543.2" r="2.2" fill="#2cff2c" opacity="0.95" style="mix-blend-mode:screen"/>
<circle cx="604.8" cy="555.2" r="2.2" fill="#ff2cff" opacity="0.72" style="mix-blend-mode:screen"/>
<circle cx="579.0" cy="537.0" r="2.1" fill="#2cff2c" opacity="0.95" style="mix-blend-mode:screen"/>
<circle cx="596.0" cy="539.5" r="1.4" fill="#ff2cff" opacity="0.95" style="mix-blend-mode:screen"/>
<circle cx="609.3" cy="532.2" r="2.2" fill="#2cff2c" opacity="0.95" style="mix-blend-mode:screen"/>
<circle cx="591.2" cy="526.8" r="1.3" fill="#2cff2c" opacity="0.95" style="mix-blend-mode:screen"/>
<circle cx="605.5" cy="513.4" r="1.7" fill="#ff2cff" opacity="0.95" style="mix-blend-mode:screen"/>
<circle cx="596.5" cy="534.9" r="2.3" fill="#ff2cff" opacity="0.95" style="mix-blend-mode:screen"/>
<circle cx="599.3" cy="540.3" r="1.5" fill="#ff2cff" opacity="0.95" style="mix-blend-mode:screen"/>
<circle cx="608.7" cy="529.0" r="1.4" fill="#ff2cff" opacity="0.95" style="mix-blend-mode:screen"/>
<circle cx="596.0" cy="536.3" r="2.2" fill="#2cff2c" opacity="0.95" style="mix-blend-mode:screen"/>
<circle cx="622.4" cy="542.6" r="1.9" fill="#ff2cff" opacity="0.95" style="mix-blend-mode:screen"/>
<circle cx="613.5" cy="535.6" r="2.3" fill="#ff2cff" opacity="0.95" style="mix-blend-mode:screen"/>
<circle cx="609.7" cy="533.2" r="1.3" fill="#ff2cff" opacity="0.95" style="mix-blend-mode:screen"/>
<circle cx="611.0" cy="514.5" r="1.5" fill="#ffffff" opacity="0.95" style="mix-blend-mode:screen"/>
<circle cx="604.0" cy="541.9" r="2.2" fill="#2cff2c" opacity="0.95" style="mix-blend-mode:screen"/>
<circle cx="602.3" cy="539.6" r="1.3" fill="#ff2cff" opacity="0.95" style="mix-blend-mode:screen"/>
<circle cx="591.5" cy="523.7" r="1.8" fill="#ff2cff" opacity="0.95" style="mix-blend-mode:screen"/>
<circle cx="595.5" cy="538.1" r="1.5" fill="#2cff2c" opacity="0.95" style="mix-blend-mode:screen"/>
<circle cx="594.1" cy="526.4" r="1.3" fill="#ff2cff" opacity="0.95" style="mix-blend-mode:screen"/>
<circle cx="599.8" cy="516.3" r="2.2" fill="#2cff2c" opacity="0.95" style="mix-blend-mode:screen"/>
<circle cx="605.1" cy="590.0" r="2.2" fill="#ff2cff" opacity="0.12" style="mix-blend-mode:screen"/>
<circle cx="606.5" cy="549.8" r="1.7" fill="#2cff2c" opacity="0.87" style="mix-blend-mode:screen"/>
<circle cx="602.0" cy="518.6" r="2.1" fill="#2cff2c" opacity="0.95" style="mix-blend-mode:screen"/>
<circle cx="601.5" cy="519.0" r="2.3" fill="#ffffff" opacity="0.95" style="mix-blend-mode:screen"/>
<circle cx="603.1" cy="515.8" r="1.2" fill="#ff2cff" opacity="0.95" style="mix-blend-mode:screen"/>
<circle cx="586.7" cy="539.6" r="1.6" fill="#ff2cff" opacity="0.95" style="mix-blend-mode:screen"/>
<circle cx="609.4" cy="538.8" r="1.6" fill="#ff2cff" opacity="0.95" style="mix-blend-mode:screen"/>
<circle cx="597.2" cy="510.6" r="2.3" fill="#2cff2c" opacity="0.95" style="mix-blend-mode:screen"/>
<circle cx="599.9" cy="512.9" r="1.7" fill="#2cff2c" opacity="0.95" style="mix-blend-mode:screen"/>
<circle cx="588.3" cy="541.2" r="1.6" fill="#ff2cff" opacity="0.95" style="mix-blend-mode:screen"/>
<circle cx="607.5" cy="514.0" r="2.0" fill="#2cff2c" opacity="0.95" style="mix-blend-mode:screen"/>
<circle cx="591.2" cy="549.1" r="1.7" fill="#ff2cff" opacity="0.89" style="mix-blend-mode:screen"/>
<circle cx="604.5" cy="540.6" r="1.2" fill="#2cff2c" opacity="0.95" style="mix-blend-mode:screen"/>
<circle cx="601.7" cy="550.5" r="1.6" fill="#2cff2c" opacity="0.85" style="mix-blend-mode:screen"/>
<circle cx="614.2" cy="546.7" r="2.2" fill="#ff2cff" opacity="0.95" style="mix-blend-mode:screen"/>
<circle cx="598.1" cy="510.2" r="1.2" fill="#2cff2c" opacity="0.95" style="mix-blend-mode:screen"/>
<circle cx="597.6" cy="519.7" r="1.4" fill="#2cff2c" opacity="0.95" style="mix-blend-mode:screen"/>
<circle cx="596.8" cy="565.6" r="1.6" fill="#ff2cff" opacity="0.42" style="mix-blend-mode:screen"/>
<circle cx="599.6" cy="529.8" r="2.0" fill="#2cff2c" opacity="0.95" style="mix-blend-mode:screen"/>
<circle cx="584.6" cy="526.8" r="1.8" fill="#ff2cff" opacity="0.95" style="mix-blend-mode:screen"/>
<circle cx="610.1" cy="538.8" r="2.1" fill="#ff2cff" opacity="0.95" style="mix-blend-mode:screen"/>
<circle cx="607.5" cy="516.4" r="1.4" fill="#ffffff" opacity="0.95" style="mix-blend-mode:screen"/>
<circle cx="601.0" cy="534.1" r="2.1" fill="#ff2cff" opacity="0.95" style="mix-blend-mode:screen"/>
<circle cx="596.5" cy="520.8" r="2.2" fill="#ffffff" opacity="0.95" style="mix-blend-mode:screen"/>
<circle cx="594.5" cy="526.2" r="2.0" fill="#ffffff" opacity="0.95" style="mix-blend-mode:screen"/>
<circle cx="609.7" cy="572.2" r="1.7" fill="#ff2cff" opacity="0.23" style="mix-blend-mode:screen"/>
<circle cx="600.9" cy="547.6" r="1.5" fill="#ffffff" opacity="0.93" style="mix-blend-mode:screen"/>
<circle cx="596.1" cy="521.1" r="2.2" fill="#ff2cff" opacity="0.95" style="mix-blend-mode:screen"/>
<circle cx="603.5" cy="564.9" r="1.2" fill="#ff2cff" opacity="0.44" style="mix-blend-mode:screen"/>
<circle cx="579.0" cy="545.4" r="1.7" fill="#ff2cff" opacity="0.95" style="mix-blend-mode:screen"/>
<circle cx="610.5" cy="529.3" r="1.5" fill="#ffffff" opacity="0.95" style="mix-blend-mode:screen"/>
<circle cx="587.9" cy="530.8" r="1.7" fill="#2cff2c" opacity="0.95" style="mix-blend-mode:screen"/>
<circle cx="619.2" cy="535.7" r="1.7" fill="#ff2cff" opacity="0.95" style="mix-blend-mode:screen"/>
<circle cx="590.0" cy="516.9" r="1.4" fill="#2cff2c" opacity="0.95" style="mix-blend-mode:screen"/>
<circle cx="597.2" cy="529.4" r="1.6" fill="#ff2cff" opacity="0.95" style="mix-blend-mode:screen"/>
<circle cx="599.4" cy="510.1" r="1.5" fill="#2cff2c" opacity="0.95" style="mix-blend-mode:screen"/>
<circle cx="599.4" cy="533.7" r="1.4" fill="#ff2cff" opacity="0.95" style="mix-blend-mode:screen"/>
<circle cx="593.8" cy="555.8" r="2.2" fill="#2cff2c" opacity="0.70" style="mix-blend-mode:screen"/>
<circle cx="591.4" cy="514.3" r="1.3" fill="#ff2cff" opacity="0.95" style="mix-blend-mode:screen"/>
<circle cx="621.5" cy="542.0" r="1.6" fill="#ff2cff" opacity="0.95" style="mix-blend-mode:screen"/>
<circle cx="596.3" cy="536.0" r="1.5" fill="#ff2cff" opacity="0.95" style="mix-blend-mode:screen"/>
<circle cx="608.5" cy="534.1" r="1.5" fill="#ffffff" opacity="0.95" style="mix-blend-mode:screen"/>
<circle cx="604.1" cy="532.3" r="2.0" fill="#ff2cff" opacity="0.95" style="mix-blend-mode:screen"/>
<circle cx="608.6" cy="538.3" r="1.7" fill="#2cff2c" opacity="0.95" style="mix-blend-mode:screen"/>
<circle cx="579.0" cy="566.2" r="1.8" fill="#ff2cff" opacity="0.40" style="mix-blend-mode:screen"/>
<circle cx="598.6" cy="517.5" r="2.0" fill="#2cff2c" opacity="0.95" style="mix-blend-mode:screen"/>
<circle cx="599.7" cy="535.8" r="2.1" fill="#ff2cff" opacity="0.95" style="mix-blend-mode:screen"/>
<circle cx="607.2" cy="506.8" r="2.0" fill="#2cff2c" opacity="0.95" style="mix-blend-mode:screen"/>
<circle cx="608.5" cy="515.3" r="2.1" fill="#2cff2c" opacity="0.95" style="mix-blend-mode:screen"/>
<circle cx="607.9" cy="524.7" r="2.2" fill="#ff2cff" opacity="0.95" style="mix-blend-mode:screen"/>
<circle cx="587.3" cy="565.8" r="2.0" fill="#ff2cff" opacity="0.41" style="mix-blend-mode:screen"/>
<circle cx="594.8" cy="548.8" r="1.4" fill="#ffffff" opacity="0.90" style="mix-blend-mode:screen"/>
<circle cx="605.6" cy="514.5" r="1.3" fill="#2cff2c" opacity="0.95" style="mix-blend-mode:screen"/>
<circle cx="600.6" cy="541.5" r="2.2" fill="#2cff2c" opacity="0.95" style="mix-blend-mode:screen"/>
<circle cx="606.2" cy="507.8" r="2.0" fill="#2cff2c" opacity="0.95" style="mix-blend-mode:screen"/>
<circle cx="579.0" cy="549.2" r="1.3" fill="#ff2cff" opacity="0.89" style="mix-blend-mode:screen"/>
<circle cx="610.6" cy="510.6" r="1.9" fill="#ff2cff" opacity="0.95" style="mix-blend-mode:screen"/>
<circle cx="599.7" cy="523.7" r="2.1" fill="#ff2cff" opacity="0.95" style="mix-blend-mode:screen"/>
<circle cx="599.1" cy="522.2" r="1.7" fill="#ff2cff" opacity="0.95" style="mix-blend-mode:screen"/>
<circle cx="611.7" cy="535.0" r="1.5" fill="#ff2cff" opacity="0.95" style="mix-blend-mode:screen"/>
<circle cx="593.0" cy="539.0" r="1.7" fill="#ff2cff" opacity="0.95" style="mix-blend-mode:screen"/>
<circle cx="609.0" cy="538.9" r="1.3" fill="#ff2cff" opacity="0.95" style="mix-blend-mode:screen"/>
<circle cx="591.6" cy="549.8" r="1.9" fill="#2cff2c" opacity="0.87" style="mix-blend-mode:screen"/>
<circle cx="617.0" cy="529.7" r="1.3" fill="#ff2cff" opacity="0.95" style="mix-blend-mode:screen"/>
<circle cx="601.2" cy="513.1" r="1.5" fill="#ff2cff" opacity="0.95" style="mix-blend-mode:screen"/>
<circle cx="600.8" cy="530.7" r="2.0" fill="#ff2cff" opacity="0.95" style="mix-blend-mode:screen"/>
<circle cx="604.0" cy="524.1" r="2.0" fill="#ff2cff" opacity="0.95" style="mix-blend-mode:screen"/>
<circle cx="600.7" cy="510.1" r="2.2" fill="#2cff2c" opacity="0.95" style="mix-blend-mode:screen"/>
<circle cx="611.3" cy="530.4" r="1.8" fill="#ffffff" opacity="0.95" style="mix-blend-mode:screen"/>
<circle cx="589.4" cy="557.6" r="1.9" fill="#ff2cff" opacity="0.65" style="mix-blend-mode:screen"/>
<circle cx="595.7" cy="524.8" r="2.2" fill="#ff2cff" opacity="0.95" style="mix-blend-mode:screen"/>
<circle cx="600.7" cy="544.2" r="1.7" fill="#ffffff" opacity="0.95" style="mix-blend-mode:screen"/>
<circle cx="591.3" cy="577.1" r="2.0" fill="#ff2cff" opacity="0.12" style="mix-blend-mode:screen"/>
<circle cx="610.9" cy="528.8" r="1.2" fill="#ffffff" opacity="0.95" style="mix-blend-mode:screen"/>
<circle cx="586.7" cy="545.4" r="2.2" fill="#ff2cff" opacity="0.95" style="mix-blend-mode:screen"/>
<circle cx="600.1" cy="528.7" r="1.6" fill="#ff2cff" opacity="0.95" style="mix-blend-mode:screen"/>
<circle cx="597.5" cy="563.4" r="1.8" fill="#ff2cff" opacity="0.48" style="mix-blend-mode:screen"/>
<circle cx="586.2" cy="526.0" r="1.8" fill="#ff2cff" opacity="0.95" style="mix-blend-mode:screen"/>
<circle cx="596.8" cy="540.3" r="1.3" fill="#ffffff" opacity="0.95" style="mix-blend-mode:screen"/>
<circle cx="597.0" cy="558.1" r="2.2" fill="#2cff2c" opacity="0.63" style="mix-blend-mode:screen"/>
<circle cx="604.8" cy="541.7" r="2.2" fill="#2cff2c" opacity="0.95" style="mix-blend-mode:screen"/>
<circle cx="583.9" cy="533.6" r="2.1" fill="#ff2cff" opacity="0.95" style="mix-blend-mode:screen"/>
<circle cx="603.5" cy="524.3" r="1.7" fill="#2cff2c" opacity="0.95" style="mix-blend-mode:screen"/>
<circle cx="604.9" cy="512.3" r="1.4" fill="#2cff2c" opacity="0.95" style="mix-blend-mode:screen"/>
<circle cx="592.6" cy="527.1" r="2.1" fill="#ffffff" opacity="0.95" style="mix-blend-mode:screen"/>
<circle cx="602.9" cy="529.1" r="1.9" fill="#2cff2c" opacity="0.95" style="mix-blend-mode:screen"/>
<circle cx="594.4" cy="550.8" r="1.3" fill="#ff2cff" opacity="0.84" style="mix-blend-mode:screen"/>
<circle cx="595.6" cy="509.4" r="1.3" fill="#2cff2c" opacity="0.95" style="mix-blend-mode:screen"/>
<circle cx="602.7" cy="522.3" r="2.2" fill="#ff2cff" opacity="0.95" style="mix-blend-mode:screen"/>
<circle cx="591.7" cy="572.7" r="2.0" fill="#ff2cff" opacity="0.22" style="mix-blend-mode:screen"/>
<circle cx="605.5" cy="563.2" r="2.2" fill="#ff2cff" opacity="0.49" style="mix-blend-mode:screen"/>
<circle cx="588.2" cy="567.6" r="1.8" fill="#ff2cff" opacity="0.36" style="mix-blend-mode:screen"/>
<circle cx="610.5" cy="535.4" r="1.8" fill="#ff2cff" opacity="0.95" style="mix-blend-mode:screen"/>
<circle cx="623.0" cy="536.9" r="2.1" fill="#ff2cff" opacity="0.95" style="mix-blend-mode:screen"/>
<circle cx="601.7" cy="522.0" r="1.4" fill="#2cff2c" opacity="0.95" style="mix-blend-mode:screen"/>
<circle cx="594.2" cy="539.6" r="1.9" fill="#ff2cff" opacity="0.95" style="mix-blend-mode:screen"/>
<circle cx="613.9" cy="525.8" r="1.7" fill="#ff2cff" opacity="0.95" style="mix-blend-mode:screen"/>
<circle cx="604.4" cy="525.8" r="1.7" fill="#ff2cff" opacity="0.95" style="mix-blend-mode:screen"/>
<circle cx="609.3" cy="524.4" r="1.2" fill="#ff2cff" opacity="0.95" style="mix-blend-mode:screen"/>
<circle cx="589.5" cy="521.3" r="1.5" fill="#ffffff" opacity="0.95" style="mix-blend-mode:screen"/>
<circle cx="600.3" cy="507.6" r="1.4" fill="#ff2cff" opacity="0.95" style="mix-blend-mode:screen"/>
<circle cx="600.1" cy="527.9" r="1.8" fill="#ff2cff" opacity="0.95" style="mix-blend-mode:screen"/>
<circle cx="591.0" cy="530.9" r="2.1" fill="#2cff2c" opacity="0.95" style="mix-blend-mode:screen"/>
<circle cx="602.0" cy="561.1" r="1.9" fill="#2cff2c" opacity="0.55" style="mix-blend-mode:screen"/>
<circle cx="605.8" cy="532.9" r="2.2" fill="#ff2cff" opacity="0.95" style="mix-blend-mode:screen"/>
<circle cx="601.4" cy="564.3" r="2.2" fill="#2cff2c" opacity="0.46" style="mix-blend-mode:screen"/>
<circle cx="602.5" cy="543.4" r="2.2" fill="#2cff2c" opacity="0.95" style="mix-blend-mode:screen"/>
<circle cx="606.1" cy="549.0" r="1.6" fill="#ff2cff" opacity="0.47" style="mix-blend-mode:screen"/>
<circle cx="619.7" cy="586.1" r="2.2" fill="#2cff2c" opacity="0.17" style="mix-blend-mode:screen"/>
<circle cx="583.0" cy="575.7" r="2.1" fill="#2cff2c" opacity="0.25" style="mix-blend-mode:screen"/>
<circle cx="619.5" cy="595.9" r="1.8" fill="#2cff2c" opacity="0.10" style="mix-blend-mode:screen"/>
<circle cx="608.2" cy="589.5" r="1.4" fill="#ff2cff" opacity="0.14" style="mix-blend-mode:screen"/>
<circle cx="618.9" cy="561.9" r="1.3" fill="#ff2cff" opacity="0.37" style="mix-blend-mode:screen"/>
<circle cx="595.3" cy="593.8" r="2.0" fill="#ff2cff" opacity="0.10" style="mix-blend-mode:screen"/>
<circle cx="600.9" cy="565.9" r="2.4" fill="#ff2cff" opacity="0.33" style="mix-blend-mode:screen"/>
<circle cx="586.8" cy="599.1" r="1.6" fill="#ff2cff" opacity="0.10" style="mix-blend-mode:screen"/>
<circle cx="585.3" cy="553.5" r="1.4" fill="#ff2cff" opacity="0.44" style="mix-blend-mode:screen"/>
<circle cx="613.1" cy="578.5" r="1.5" fill="#ff2cff" opacity="0.23" style="mix-blend-mode:screen"/>
<circle cx="599.3" cy="568.4" r="1.7" fill="#ff2cff" opacity="0.31" style="mix-blend-mode:screen"/>
<circle cx="604.5" cy="567.5" r="2.1" fill="#ff2cff" opacity="0.32" style="mix-blend-mode:screen"/>
<circle cx="620.4" cy="586.3" r="1.5" fill="#ff2cff" opacity="0.16" style="mix-blend-mode:screen"/>
<circle cx="600.5" cy="561.6" r="2.0" fill="#ff2cff" opacity="0.37" style="mix-blend-mode:screen"/>
<circle cx="580.4" cy="564.5" r="1.3" fill="#ff2cff" opacity="0.35" style="mix-blend-mode:screen"/>
<circle cx="609.4" cy="551.1" r="1.6" fill="#2cff2c" opacity="0.46" style="mix-blend-mode:screen"/>
<circle cx="618.0" cy="562.4" r="2.3" fill="#ff2cff" opacity="0.36" style="mix-blend-mode:screen"/>
<circle cx="621.9" cy="580.0" r="2.2" fill="#2cff2c" opacity="0.22" style="mix-blend-mode:screen"/>
<circle cx="619.9" cy="558.8" r="1.9" fill="#ff2cff" opacity="0.39" style="mix-blend-mode:screen"/>
<circle cx="592.3" cy="579.8" r="1.9" fill="#2cff2c" opacity="0.22" style="mix-blend-mode:screen"/>
<circle cx="609.4" cy="597.6" r="1.5" fill="#ff2cff" opacity="0.10" style="mix-blend-mode:screen"/>
<circle cx="614.4" cy="561.3" r="1.6" fill="#ff2cff" opacity="0.37" style="mix-blend-mode:screen"/>
<circle cx="593.6" cy="541.7" r="2.4" fill="#2cff2c" opacity="0.54" style="mix-blend-mode:screen"/>
<circle cx="618.3" cy="579.7" r="2.3" fill="#ff2cff" opacity="0.22" style="mix-blend-mode:screen"/>
<circle cx="618.8" cy="579.4" r="2.3" fill="#ff2cff" opacity="0.22" style="mix-blend-mode:screen"/>
<circle cx="587.7" cy="541.6" r="1.8" fill="#ff2cff" opacity="0.54" style="mix-blend-mode:screen"/>
<circle cx="615.9" cy="551.9" r="1.3" fill="#ff2cff" opacity="0.45" style="mix-blend-mode:screen"/>
<circle cx="591.4" cy="552.5" r="1.3" fill="#2cff2c" opacity="0.45" style="mix-blend-mode:screen"/>
<circle cx="580.9" cy="544.4" r="1.9" fill="#ff2cff" opacity="0.51" style="mix-blend-mode:screen"/>
<circle cx="606.2" cy="599.2" r="2.2" fill="#2cff2c" opacity="0.10" style="mix-blend-mode:screen"/>
<circle cx="606.8" cy="572.0" r="2.3" fill="#ff2cff" opacity="0.28" style="mix-blend-mode:screen"/>
<circle cx="595.7" cy="592.0" r="2.1" fill="#2cff2c" opacity="0.12" style="mix-blend-mode:screen"/>
<circle cx="608.7" cy="575.3" r="2.3" fill="#ff2cff" opacity="0.26" style="mix-blend-mode:screen"/>
<circle cx="609.7" cy="597.0" r="1.5" fill="#2cff2c" opacity="0.10" style="mix-blend-mode:screen"/>
<circle cx="614.2" cy="582.7" r="1.8" fill="#2cff2c" opacity="0.19" style="mix-blend-mode:screen"/>
<circle cx="604.7" cy="577.8" r="1.6" fill="#2cff2c" opacity="0.24" style="mix-blend-mode:screen"/>
<circle cx="587.1" cy="596.1" r="1.4" fill="#ff2cff" opacity="0.10" style="mix-blend-mode:screen"/>
<circle cx="599.8" cy="586.1" r="2.2" fill="#ff2cff" opacity="0.17" style="mix-blend-mode:screen"/>
<circle cx="586.3" cy="561.5" r="1.6" fill="#ff2cff" opacity="0.37" style="mix-blend-mode:screen"/>
<circle cx="612.4" cy="593.5" r="1.5" fill="#ff2cff" opacity="0.10" style="mix-blend-mode:screen"/>
<circle cx="614.8" cy="588.1" r="1.8" fill="#ff2cff" opacity="0.15" style="mix-blend-mode:screen"/>
<circle cx="589.2" cy="597.3" r="1.7" fill="#ff2cff" opacity="0.10" style="mix-blend-mode:screen"/>
<circle cx="591.3" cy="543.5" r="2.0" fill="#2cff2c" opacity="0.52" style="mix-blend-mode:screen"/>
<circle cx="622.0" cy="598.6" r="2.3" fill="#ff2cff" opacity="0.10" style="mix-blend-mode:screen"/>
<circle cx="588.7" cy="568.1" r="2.1" fill="#ff2cff" opacity="0.32" style="mix-blend-mode:screen"/>
<circle cx="616.1" cy="590.0" r="2.1" fill="#2cff2c" opacity="0.13" style="mix-blend-mode:screen"/>
<circle cx="607.8" cy="571.5" r="1.6" fill="#2cff2c" opacity="0.29" style="mix-blend-mode:screen"/>
<circle cx="608.8" cy="597.3" r="1.4" fill="#ff2cff" opacity="0.10" style="mix-blend-mode:screen"/>
<circle cx="597.9" cy="545.6" r="1.7" fill="#ff2cff" opacity="0.50" style="mix-blend-mode:screen"/>
<circle cx="587.9" cy="584.5" r="1.4" fill="#2cff2c" opacity="0.18" style="mix-blend-mode:screen"/>
<circle cx="620.5" cy="552.7" r="2.2" fill="#2cff2c" opacity="0.44" style="mix-blend-mode:screen"/>
<circle cx="620.9" cy="556.1" r="2.3" fill="#ff2cff" opacity="0.42" style="mix-blend-mode:screen"/>
<circle cx="585.8" cy="575.7" r="2.3" fill="#ff2cff" opacity="0.25" style="mix-blend-mode:screen"/>
<circle cx="604.3" cy="571.9" r="2.4" fill="#2cff2c" opacity="0.28" style="mix-blend-mode:screen"/>
<circle cx="602.5" cy="574.9" r="1.6" fill="#ff2cff" opacity="0.26" style="mix-blend-mode:screen"/>
<circle cx="614.8" cy="596.0" r="1.6" fill="#ff2cff" opacity="0.10" style="mix-blend-mode:screen"/>
<circle cx="612.6" cy="565.8" r="1.7" fill="#ff2cff" opacity="0.34" style="mix-blend-mode:screen"/>
<circle cx="580.2" cy="546.9" r="2.2" fill="#ff2cff" opacity="0.49" style="mix-blend-mode:screen"/>
<circle cx="594.6" cy="542.2" r="1.9" fill="#2cff2c" opacity="0.53" style="mix-blend-mode:screen"/>
<circle cx="582.4" cy="546.8" r="1.8" fill="#ff2cff" opacity="0.49" style="mix-blend-mode:screen"/>
<circle cx="607.4" cy="555.6" r="2.0" fill="#ff2cff" opacity="0.42" style="mix-blend-mode:screen"/>
<circle cx="609.5" cy="577.4" r="1.4" fill="#ff2cff" opacity="0.24" style="mix-blend-mode:screen"/>
<circle cx="616.8" cy="564.8" r="2.3" fill="#2cff2c" opacity="0.34" style="mix-blend-mode:screen"/>
<circle cx="581.2" cy="588.6" r="2.0" fill="#2cff2c" opacity="0.15" style="mix-blend-mode:screen"/>
<circle cx="606.7" cy="544.4" r="2.0" fill="#ff2cff" opacity="0.51" style="mix-blend-mode:screen"/>
<circle cx="599.8" cy="591.1" r="1.3" fill="#ff2cff" opacity="0.12" style="mix-blend-mode:screen"/>
<circle cx="621.7" cy="560.0" r="2.3" fill="#ff2cff" opacity="0.38" style="mix-blend-mode:screen"/>
<circle cx="618.6" cy="586.9" r="1.7" fill="#2cff2c" opacity="0.16" style="mix-blend-mode:screen"/>
<circle cx="587.6" cy="586.7" r="1.4" fill="#ff2cff" opacity="0.16" style="mix-blend-mode:screen"/>
<circle cx="583.9" cy="576.7" r="2.0" fill="#ff2cff" opacity="0.24" style="mix-blend-mode:screen"/>
<circle cx="618.0" cy="554.8" r="1.5" fill="#2cff2c" opacity="0.43" style="mix-blend-mode:screen"/>
<circle cx="582.8" cy="571.4" r="1.7" fill="#ff2cff" opacity="0.29" style="mix-blend-mode:screen"/>
<circle cx="618.9" cy="587.3" r="2.1" fill="#ff2cff" opacity="0.16" style="mix-blend-mode:screen"/>
<circle cx="600.0" cy="596.8" r="2.2" fill="#2cff2c" opacity="0.10" style="mix-blend-mode:screen"/>
<circle cx="617.6" cy="579.5" r="2.1" fill="#2cff2c" opacity="0.22" style="mix-blend-mode:screen"/>
<circle cx="608.3" cy="592.2" r="1.8" fill="#ff2cff" opacity="0.11" style="mix-blend-mode:screen"/>
<circle cx="619.4" cy="563.4" r="2.2" fill="#2cff2c" opacity="0.35" style="mix-blend-mode:screen"/>
<circle cx="603.4" cy="553.4" r="2.2" fill="#ff2cff" opacity="0.44" style="mix-blend-mode:screen"/>
<circle cx="619.9" cy="543.0" r="1.9" fill="#ff2cff" opacity="0.52" style="mix-blend-mode:screen"/>
<circle cx="593.6" cy="597.0" r="2.0" fill="#ff2cff" opacity="0.10" style="mix-blend-mode:screen"/>
<circle cx="585.5" cy="561.3" r="2.3" fill="#ff2cff" opacity="0.37" style="mix-blend-mode:screen"/>
<circle cx="589.7" cy="599.6" r="2.2" fill="#ff2cff" opacity="0.10" style="mix-blend-mode:screen"/>
<circle cx="593.1" cy="583.8" r="2.1" fill="#2cff2c" opacity="0.18" style="mix-blend-mode:screen"/>
<circle cx="611.3" cy="593.8" r="1.7" fill="#2cff2c" opacity="0.10" style="mix-blend-mode:screen"/>
<circle cx="618.5" cy="596.5" r="2.1" fill="#ff2cff" opacity="0.10" style="mix-blend-mode:screen"/>
<circle cx="603.5" cy="592.8" r="2.0" fill="#2cff2c" opacity="0.11" style="mix-blend-mode:screen"/>
<circle cx="586.0" cy="592.8" r="1.8" fill="#ff2cff" opacity="0.11" style="mix-blend-mode:screen"/>
<circle cx="617.3" cy="597.4" r="1.5" fill="#ff2cff" opacity="0.10" style="mix-blend-mode:screen"/>
<circle cx="610.5" cy="573.0" r="1.3" fill="#2cff2c" opacity="0.27" style="mix-blend-mode:screen"/>
<circle cx="619.0" cy="563.1" r="1.6" fill="#ff2cff" opacity="0.36" style="mix-blend-mode:screen"/>
<circle cx="586.8" cy="572.6" r="1.5" fill="#ff2cff" opacity="0.28" style="mix-blend-mode:screen"/>
<circle cx="619.3" cy="555.5" r="2.0" fill="#2cff2c" opacity="0.42" style="mix-blend-mode:screen"/>
<circle cx="616.0" cy="585.9" r="1.8" fill="#ff2cff" opacity="0.17" style="mix-blend-mode:screen"/>
<circle cx="593.4" cy="576.1" r="1.6" fill="#ff2cff" opacity="0.25" style="mix-blend-mode:screen"/>
<circle cx="594.1" cy="546.9" r="1.6" fill="#2cff2c" opacity="0.49" style="mix-blend-mode:screen"/>
<circle cx="599.4" cy="589.9" r="1.5" fill="#ff2cff" opacity="0.13" style="mix-blend-mode:screen"/>
<circle cx="598.7" cy="585.5" r="1.3" fill="#2cff2c" opacity="0.17" style="mix-blend-mode:screen"/>
<circle cx="605.4" cy="556.5" r="2.0" fill="#2cff2c" opacity="0.41" style="mix-blend-mode:screen"/>
<circle cx="583.9" cy="566.3" r="1.6" fill="#2cff2c" opacity="0.33" style="mix-blend-mode:screen"/>
<circle cx="603.1" cy="590.4" r="2.4" fill="#2cff2c" opacity="0.13" style="mix-blend-mode:screen"/>
<circle cx="618.5" cy="575.5" r="1.4" fill="#ff2cff" opacity="0.25" style="mix-blend-mode:screen"/>
<circle cx="601.5" cy="558.1" r="1.4" fill="#2cff2c" opacity="0.40" style="mix-blend-mode:screen"/>
<circle cx="608.1" cy="569.6" r="1.7" fill="#ff2cff" opacity="0.30" style="mix-blend-mode:screen"/>
<circle cx="617.6" cy="540.4" r="1.6" fill="#ff2cff" opacity="0.55" style="mix-blend-mode:screen"/>
<circle cx="597.1" cy="560.2" r="1.8" fill="#ff2cff" opacity="0.38" style="mix-blend-mode:screen"/>
<circle cx="587.5" cy="584.2" r="1.9" fill="#2cff2c" opacity="0.18" style="mix-blend-mode:screen"/>
<circle cx="605.9" cy="549.9" r="1.9" fill="#2cff2c" opacity="0.47" style="mix-blend-mode:screen"/>
<circle cx="611.2" cy="556.0" r="2.2" fill="#2cff2c" opacity="0.42" style="mix-blend-mode:screen"/>
<circle cx="592.8" cy="579.4" r="2.3" fill="#ff2cff" opacity="0.22" style="mix-blend-mode:screen"/>
<circle cx="583.9" cy="573.5" r="1.6" fill="#ff2cff" opacity="0.27" style="mix-blend-mode:screen"/>
<circle cx="591.5" cy="573.7" r="1.8" fill="#2cff2c" opacity="0.27" style="mix-blend-mode:screen"/>
<circle cx="581.3" cy="573.2" r="1.4" fill="#ff2cff" opacity="0.27" style="mix-blend-mode:screen"/>
<circle cx="605.5" cy="597.2" r="1.8" fill="#ff2cff" opacity="0.10" style="mix-blend-mode:screen"/>
<circle cx="595.6" cy="551.7" r="1.8" fill="#ff2cff" opacity="0.45" style="mix-blend-mode:screen"/>
<circle cx="620.4" cy="582.9" r="1.7" fill="#2cff2c" opacity="0.19" style="mix-blend-mode:screen"/>
<circle cx="613.9" cy="545.8" r="2.2" fill="#ff2cff" opacity="0.50" style="mix-blend-mode:screen"/>
<circle cx="584.4" cy="562.7" r="1.5" fill="#2cff2c" opacity="0.36" style="mix-blend-mode:screen"/>
<circle cx="587.7" cy="579.5" r="1.5" fill="#ff2cff" opacity="0.22" style="mix-blend-mode:screen"/>
<circle cx="587.0" cy="555.8" r="1.3" fill="#2cff2c" opacity="0.42" style="mix-blend-mode:screen"/>
<circle cx="621.9" cy="587.0" r="1.5" fill="#ff2cff" opacity="0.16" style="mix-blend-mode:screen"/>
<circle cx="603.3" cy="571.2" r="1.9" fill="#2cff2c" opacity="0.29" style="mix-blend-mode:screen"/>
<circle cx="580.6" cy="544.2" r="2.2" fill="#ff2cff" opacity="0.52" style="mix-blend-mode:screen"/>
<circle cx="595.2" cy="547.9" r="1.7" fill="#2cff2c" opacity="0.48" style="mix-blend-mode:screen"/>
<circle cx="612.5" cy="552.3" r="1.3" fill="#2cff2c" opacity="0.45" style="mix-blend-mode:screen"/>
<circle cx="618.1" cy="546.5" r="1.8" fill="#ff2cff" opacity="0.50" style="mix-blend-mode:screen"/>
<circle cx="601.1" cy="576.3" r="1.4" fill="#ff2cff" opacity="0.25" style="mix-blend-mode:screen"/>
<circle cx="612.5" cy="550.0" r="2.1" fill="#2cff2c" opacity="0.47" style="mix-blend-mode:screen"/>
<circle cx="588.5" cy="570.8" r="2.0" fill="#ff2cff" opacity="0.29" style="mix-blend-mode:screen"/>
<circle cx="621.4" cy="551.9" r="1.6" fill="#ff2cff" opacity="0.45" style="mix-blend-mode:screen"/>
<circle cx="598.5" cy="570.5" r="1.9" fill="#2cff2c" opacity="0.30" style="mix-blend-mode:screen"/>
<circle cx="587.4" cy="565.4" r="1.3" fill="#ff2cff" opacity="0.34" style="mix-blend-mode:screen"/>
<circle cx="619.4" cy="587.9" r="2.0" fill="#ff2cff" opacity="0.15" style="mix-blend-mode:screen"/>
<circle cx="609.5" cy="555.9" r="2.2" fill="#ff2cff" opacity="0.42" style="mix-blend-mode:screen"/>
<circle cx="604.4" cy="579.3" r="2.3" fill="#ff2cff" opacity="0.22" style="mix-blend-mode:screen"/>
<circle cx="580.2" cy="553.1" r="2.2" fill="#2cff2c" opacity="0.44" style="mix-blend-mode:screen"/>
<circle cx="592.9" cy="583.1" r="1.5" fill="#ff2cff" opacity="0.19" style="mix-blend-mode:screen"/>
<circle cx="592.3" cy="598.8" r="1.5" fill="#ff2cff" opacity="0.10" style="mix-blend-mode:screen"/>
<circle cx="583.6" cy="562.6" r="2.2" fill="#2cff2c" opacity="0.36" style="mix-blend-mode:screen"/>
<circle cx="602.1" cy="583.9" r="1.6" fill="#ff2cff" opacity="0.18" style="mix-blend-mode:screen"/>
</g></g>
<polyline points="521.10,505.90 560.50,501.90 566.20,512.00" fill="none" stroke="#cfcfcf" stroke-width="0.5" />
<polyline points="521.10,505.90 524.60,607.50 557.00,615.40 563.20,598.70 566.20,512.00" fill="none" stroke="#cfcfcf" stroke-width="0.5" />
<polyline points="524.60,607.50 537.80,593.50 563.20,598.70" fill="none" stroke="#cfcfcf" stroke-width="0.5" />
<polyline points="537.80,593.50 536.90,506.80" fill="none" stroke="#cfcfcf" stroke-width="0.5" />
<polyline points="557.00,615.40 557.90,508.50" fill="none" stroke="#cfcfcf" stroke-width="0.5" />
<polyline points="521.10,505.90 557.90,508.50 566.20,512.00" fill="none" stroke="#cfcfcf" stroke-width="0.5" />
<polyline points="579.50,507.60 616.60,502.40 622.70,512.00" fill="none" stroke="#cfcfcf" stroke-width="0.5" />
<polyline points="579.50,507.60 581.60,606.60 612.20,616.30 621.90,599.60 622.70,512.00" fill="none" stroke="#cfcfcf" stroke-width="0.5" />
<polyline points="581.60,606.60 595.60,594.40 621.90,599.60" fill="none" stroke="#cfcfcf" stroke-width="0.5" />
<polyline points="595.60,594.40 595.00,510.00" fill="none" stroke="#cfcfcf" stroke-width="0.5" />
<polyline points="612.20,616.30 615.00,512.00" fill="none" stroke="#cfcfcf" stroke-width="0.5" />
<polyline points="579.50,507.60 615.00,512.00 622.70,512.00" fill="none" stroke="#cfcfcf" stroke-width="0.5" />
<line x1="625.80" y1="518.30" x2="625.80" y2="596.80" stroke="#fff" stroke-width="1.3" />
<path d="M625.80,515.50 L623.90,519.00 L627.70,519.00Z" fill="#fff" stroke="none" stroke-width="0.8" />
<path d="M625.80,599.60 L623.90,596.10 L627.70,596.10Z" fill="#fff" stroke="none" stroke-width="0.8" />
<line x1="584.32" y1="606.97" x2="608.68" y2="612.93" stroke="#fff" stroke-width="1.3" />
<path d="M581.60,606.30 L584.55,608.98 L585.45,605.29Z" fill="#fff" stroke="none" stroke-width="0.8" />
<path d="M611.40,613.60 L607.55,614.61 L608.45,610.92Z" fill="#fff" stroke="none" stroke-width="0.8" />
<text x="636.50" y="557.00" font-size="9.41" text-anchor="middle" textLength="29.05" lengthAdjust="spacingAndGlyphs" transform="rotate(90 636.50 557.00)" >400 μm</text>
<text x="592.50" y="627.60" font-size="9.41" text-anchor="middle" textLength="29.05" lengthAdjust="spacingAndGlyphs" >140 μm</text>
<text x="0.50" y="659.80" font-size="13" fill="#000" font-weight="bold" >l</text>
<text x="80.00" y="661.50" font-size="10.53" text-anchor="middle" textLength="25.26" lengthAdjust="spacingAndGlyphs" >Day 2</text>
<text x="138.50" y="661.50" font-size="10.53" text-anchor="middle" textLength="25.26" lengthAdjust="spacingAndGlyphs" >Day 3</text>
<text x="198.00" y="661.50" font-size="10.53" text-anchor="middle" textLength="25.26" lengthAdjust="spacingAndGlyphs" >Day 4</text>
<text x="257.50" y="661.50" font-size="10.53" text-anchor="middle" textLength="25.26" lengthAdjust="spacingAndGlyphs" >Day 5</text>
<text x="27.60" y="696.50" font-size="10.53" text-anchor="middle" textLength="32.43" lengthAdjust="spacingAndGlyphs" >Control</text>
<text x="27.60" y="753.10" font-size="10.53" text-anchor="middle" textLength="33.55" lengthAdjust="spacingAndGlyphs" >SeeDB-</text>
<text x="27.60" y="763.60" font-size="10.53" text-anchor="middle" textLength="18.3" lengthAdjust="spacingAndGlyphs" >Live</text>
<linearGradient id="lg1" x1="0" y1="0" x2="1" y2="0.3"><stop offset="0" stop-color="#a4a4a4"/><stop offset="1" stop-color="#c8c8c8"/></linearGradient>
<clipPath id="cl1"><rect x="51.1" y="665.9" width="57.80" height="56.60"/></clipPath>
<g clip-path="url(#cl1)">
<rect x="51.10" y="665.90" width="57.80" height="56.60" fill="url(#lg1)" />
<g filter="url(#blur05)">
<path d="M87.33,692.00 L88.33,694.06 L89.17,696.63 L88.21,698.65 L85.33,698.64 L83.57,698.81 L83.00,700.66 L81.52,700.66 L80.34,701.49 L79.00,700.93 L77.44,703.08 L75.49,704.05 L74.40,701.96 L73.03,700.89 L72.00,699.35 L71.48,697.43 L70.58,695.83 L70.23,693.93 L70.48,692.00 L71.64,690.38 L72.16,688.89 L72.61,687.39 L73.67,686.41 L73.61,683.96 L73.87,680.90 L75.32,679.38 L77.38,680.55 L79.00,681.94 L80.34,682.49 L81.83,682.29 L82.93,683.50 L83.57,685.20 L85.45,685.23 L86.46,686.61 L87.28,688.23 L86.61,690.32Z" fill="#6a6a6a" stroke="none" stroke-width="0.8" />
<circle cx="81.87" cy="682.15" r="3.39" fill="#7a7a7a" stroke="#2e2e2e" stroke-width="0.85"/>
<circle cx="81.54" cy="687.56" r="2.57" fill="#bdbdbd" stroke="#2e2e2e" stroke-width="0.85"/>
<circle cx="86.81" cy="688.75" r="2.61" fill="#bdbdbd" stroke="#2e2e2e" stroke-width="0.85"/>
<circle cx="77.20" cy="690.18" r="2.64" fill="#6a6a6a" stroke="#2e2e2e" stroke-width="0.85"/>
<circle cx="81.84" cy="696.70" r="3.37" fill="#bdbdbd" stroke="#2e2e2e" stroke-width="0.85"/>
<circle cx="83.68" cy="698.24" r="2.54" fill="#6a6a6a" stroke="#2e2e2e" stroke-width="0.85"/>
<circle cx="77.28" cy="699.48" r="3.54" fill="#9a9a9a" stroke="#2e2e2e" stroke-width="0.85"/>
<circle cx="84.20" cy="700.56" r="3.50" fill="#6a6a6a" stroke="#2e2e2e" stroke-width="0.85"/>
<circle cx="78.57" cy="701.59" r="3.29" fill="#6a6a6a" stroke="#2e2e2e" stroke-width="0.85"/>
<circle cx="78.13" cy="689.21" r="2.10" fill="#3c3c3c" opacity="0.7"/>
<circle cx="80.94" cy="694.74" r="1.73" fill="#3c3c3c" opacity="0.7"/>
<circle cx="79.39" cy="692.98" r="1.83" fill="#3c3c3c" opacity="0.7"/>
</g>
<rect x="51.10" y="665.90" width="57.80" height="56.60" fill="#fff" filter="url(#grain)" opacity="0.15"/>
</g>
<linearGradient id="lg2" x1="0" y1="0" x2="1" y2="0.3"><stop offset="0" stop-color="#bababa"/><stop offset="1" stop-color="#c6c6c6"/></linearGradient>
<clipPath id="cl2"><rect x="110.4" y="665.9" width="57.20" height="56.60"/></clipPath>
<g clip-path="url(#cl2)">
<rect x="110.40" y="665.90" width="57.20" height="56.60" fill="url(#lg2)" />
<g filter="url(#blur05)">
<path d="M152.19,693.60 L153.79,696.13 L153.41,698.68 L151.28,700.38 L150.22,702.52 L148.43,704.05 L146.04,704.47 L143.44,703.44 L141.84,704.45 L140.00,705.63 L137.82,706.47 L135.88,705.39 L134.44,703.62 L132.78,702.55 L130.11,702.23 L128.24,700.66 L127.90,698.18 L127.79,695.84 L127.11,693.60 L128.66,691.52 L130.78,690.11 L131.40,688.43 L132.01,686.63 L132.00,683.68 L133.75,682.34 L136.09,682.43 L137.97,681.62 L140.00,681.09 L142.31,679.98 L144.73,680.07 L146.33,682.20 L147.56,684.23 L149.95,684.92 L149.93,687.64 L149.16,690.13 L150.07,691.75Z" fill="#8a8a8a" stroke="none" stroke-width="0.8" />
<circle cx="142.81" cy="680.85" r="2.60" fill="#8a8a8a" stroke="#2e2e2e" stroke-width="0.85"/>
<circle cx="145.07" cy="686.41" r="3.91" fill="#a8a8a8" stroke="#2e2e2e" stroke-width="0.85"/>
<circle cx="130.39" cy="686.60" r="4.08" fill="#a8a8a8" stroke="#2e2e2e" stroke-width="0.85"/>
<circle cx="139.88" cy="687.07" r="2.88" fill="#8a8a8a" stroke="#2e2e2e" stroke-width="0.85"/>
<circle cx="132.12" cy="687.66" r="3.86" fill="#8a8a8a" stroke="#2e2e2e" stroke-width="0.85"/>
<circle cx="140.34" cy="689.65" r="3.64" fill="#cfcfcf" stroke="#2e2e2e" stroke-width="0.85"/>
<circle cx="146.02" cy="691.00" r="2.76" fill="#dadada" stroke="#2e2e2e" stroke-width="0.85"/>
<circle cx="136.68" cy="691.08" r="3.79" fill="#dadada" stroke="#2e2e2e" stroke-width="0.85"/>
<circle cx="147.16" cy="692.08" r="3.42" fill="#dadada" stroke="#2e2e2e" stroke-width="0.85"/>
<circle cx="148.41" cy="692.84" r="3.90" fill="#cfcfcf" stroke="#2e2e2e" stroke-width="0.85"/>
<circle cx="129.69" cy="693.43" r="4.08" fill="#8a8a8a" stroke="#2e2e2e" stroke-width="0.85"/>
<circle cx="142.74" cy="696.43" r="2.56" fill="#8a8a8a" stroke="#2e2e2e" stroke-width="0.85"/>
<circle cx="132.34" cy="702.74" r="2.60" fill="#dadada" stroke="#2e2e2e" stroke-width="0.85"/>
<circle cx="143.67" cy="705.49" r="2.95" fill="#dadada" stroke="#2e2e2e" stroke-width="0.85"/>
<circle cx="138.15" cy="694.88" r="2.14" fill="#3c3c3c" opacity="0.7"/>
<circle cx="140.54" cy="693.56" r="1.85" fill="#3c3c3c" opacity="0.7"/>
<circle cx="143.73" cy="696.58" r="2.33" fill="#3c3c3c" opacity="0.7"/>
<circle cx="139.05" cy="690.11" r="1.25" fill="#3c3c3c" opacity="0.7"/>
</g>
<rect x="110.40" y="665.90" width="57.20" height="56.60" fill="#fff" filter="url(#grain)" opacity="0.15"/>
</g>
<linearGradient id="lg3" x1="0" y1="0" x2="1" y2="0.3"><stop offset="0" stop-color="#b5b5b5"/><stop offset="1" stop-color="#c4c4c4"/></linearGradient>
<clipPath id="cl3"><rect x="169.3" y="665.9" width="58.60" height="56.60"/></clipPath>
<g clip-path="url(#cl3)">
<rect x="169.30" y="665.90" width="58.60" height="56.60" fill="url(#lg3)" />
<g filter="url(#blur05)">
<path d="M214.30,694.50 L210.99,696.83 L209.52,698.75 L210.95,702.11 L209.09,703.91 L206.76,704.93 L205.01,706.45 L202.46,706.03 L200.79,708.23 L198.50,708.24 L196.12,708.80 L193.74,708.34 L190.12,709.87 L187.21,708.75 L187.20,704.54 L187.51,701.22 L187.40,698.78 L187.33,696.59 L185.07,694.50 L185.82,692.13 L186.78,689.98 L187.32,687.67 L186.80,684.10 L189.57,683.23 L191.42,681.51 L193.15,678.94 L195.63,677.25 L198.50,677.26 L200.70,681.29 L202.50,682.88 L203.99,684.43 L206.86,683.95 L208.86,685.30 L209.41,687.83 L211.87,689.35 L213.86,691.63Z" fill="#8a8a8a" stroke="none" stroke-width="0.8" />
<circle cx="189.92" cy="686.13" r="4.18" fill="#8a8a8a" stroke="#2e2e2e" stroke-width="0.85"/>
<circle cx="201.76" cy="686.43" r="4.31" fill="#8a8a8a" stroke="#2e2e2e" stroke-width="0.85"/>
<circle cx="211.86" cy="689.33" r="3.52" fill="#cfcfcf" stroke="#2e2e2e" stroke-width="0.85"/>
<circle cx="190.17" cy="693.77" r="4.05" fill="#dadada" stroke="#2e2e2e" stroke-width="0.85"/>
<circle cx="210.79" cy="694.54" r="2.97" fill="#8a8a8a" stroke="#2e2e2e" stroke-width="0.85"/>
<circle cx="209.92" cy="694.82" r="3.84" fill="#a8a8a8" stroke="#2e2e2e" stroke-width="0.85"/>
<circle cx="201.62" cy="696.15" r="3.58" fill="#cfcfcf" stroke="#2e2e2e" stroke-width="0.85"/>
<circle cx="190.90" cy="696.57" r="3.41" fill="#8a8a8a" stroke="#2e2e2e" stroke-width="0.85"/>
<circle cx="184.65" cy="697.08" r="3.04" fill="#cfcfcf" stroke="#2e2e2e" stroke-width="0.85"/>
<circle cx="210.63" cy="697.27" r="3.97" fill="#cfcfcf" stroke="#2e2e2e" stroke-width="0.85"/>
<circle cx="194.20" cy="698.87" r="4.21" fill="#cfcfcf" stroke="#2e2e2e" stroke-width="0.85"/>
<circle cx="194.88" cy="699.72" r="3.59" fill="#8a8a8a" stroke="#2e2e2e" stroke-width="0.85"/>
<circle cx="187.35" cy="700.80" r="4.29" fill="#dadada" stroke="#2e2e2e" stroke-width="0.85"/>
<circle cx="189.75" cy="701.65" r="3.93" fill="#8a8a8a" stroke="#2e2e2e" stroke-width="0.85"/>
<circle cx="209.12" cy="702.57" r="4.07" fill="#a8a8a8" stroke="#2e2e2e" stroke-width="0.85"/>
<circle cx="198.24" cy="704.03" r="3.19" fill="#bcbcbc" stroke="#2e2e2e" stroke-width="0.85"/>
<circle cx="200.83" cy="704.06" r="3.21" fill="#8a8a8a" stroke="#2e2e2e" stroke-width="0.85"/>
<circle cx="202.89" cy="705.81" r="3.89" fill="#bcbcbc" stroke="#2e2e2e" stroke-width="0.85"/>
<circle cx="199.61" cy="707.31" r="4.02" fill="#cfcfcf" stroke="#2e2e2e" stroke-width="0.85"/>
<circle cx="205.05" cy="707.59" r="4.11" fill="#8a8a8a" stroke="#2e2e2e" stroke-width="0.85"/>
<circle cx="204.37" cy="693.84" r="1.90" fill="#3c3c3c" opacity="0.7"/>
<circle cx="199.00" cy="695.62" r="1.59" fill="#3c3c3c" opacity="0.7"/>
<circle cx="198.86" cy="695.29" r="1.88" fill="#3c3c3c" opacity="0.7"/>
<circle cx="198.73" cy="694.25" r="1.32" fill="#3c3c3c" opacity="0.7"/>
<circle cx="203.25" cy="689.87" r="2.16" fill="#3c3c3c" opacity="0.7"/>
</g>
<rect x="169.30" y="665.90" width="58.60" height="56.60" fill="#fff" filter="url(#grain)" opacity="0.15"/>
</g>
<linearGradient id="lg4" x1="0" y1="0" x2="1" y2="0.3"><stop offset="0" stop-color="#a0a0a0"/><stop offset="1" stop-color="#c0c0c0"/></linearGradient>
<clipPath id="cl4"><rect x="228.9" y="665.9" width="58.20" height="56.60"/></clipPath>
<g clip-path="url(#cl4)">
<rect x="228.90" y="665.90" width="58.20" height="56.60" fill="url(#lg4)" />
<g filter="url(#blur05)">
<path d="M276.67,693.60 L276.34,697.30 L275.59,700.93 L273.19,703.67 L270.25,705.48 L266.00,704.81 L264.28,706.56 L262.62,709.04 L260.55,712.30 L257.60,712.90 L254.77,711.53 L251.52,712.28 L248.23,711.77 L244.93,710.49 L242.96,707.35 L243.40,702.77 L242.25,699.85 L241.17,696.84 L242.38,693.60 L243.91,690.90 L243.60,687.90 L243.69,684.61 L242.24,679.18 L244.65,676.32 L248.43,675.82 L251.84,675.89 L254.57,674.35 L257.60,676.35 L260.44,675.56 L263.16,676.49 L265.92,677.47 L267.98,679.76 L270.09,681.87 L270.23,685.44 L273.74,687.03 L277.28,689.72Z" fill="#8a8a8a" stroke="none" stroke-width="0.8" />
<circle cx="257.87" cy="674.60" r="4.10" fill="#cfcfcf" stroke="#2e2e2e" stroke-width="0.85"/>
<circle cx="257.00" cy="675.84" r="3.49" fill="#bcbcbc" stroke="#2e2e2e" stroke-width="0.85"/>
<circle cx="252.32" cy="676.49" r="4.30" fill="#cfcfcf" stroke="#2e2e2e" stroke-width="0.85"/>
<circle cx="249.58" cy="677.06" r="4.12" fill="#bcbcbc" stroke="#2e2e2e" stroke-width="0.85"/>
<circle cx="250.11" cy="681.34" r="3.98" fill="#bcbcbc" stroke="#2e2e2e" stroke-width="0.85"/>
<circle cx="271.33" cy="681.64" r="4.17" fill="#cfcfcf" stroke="#2e2e2e" stroke-width="0.85"/>
<circle cx="247.60" cy="684.42" r="4.32" fill="#cfcfcf" stroke="#2e2e2e" stroke-width="0.85"/>
<circle cx="254.62" cy="687.46" r="4.31" fill="#dadada" stroke="#2e2e2e" stroke-width="0.85"/>
<circle cx="242.29" cy="688.37" r="3.50" fill="#bcbcbc" stroke="#2e2e2e" stroke-width="0.85"/>
<circle cx="273.62" cy="688.91" r="4.56" fill="#dadada" stroke="#2e2e2e" stroke-width="0.85"/>
<circle cx="246.23" cy="689.06" r="4.13" fill="#dadada" stroke="#2e2e2e" stroke-width="0.85"/>
<circle cx="264.59" cy="689.22" r="4.84" fill="#cfcfcf" stroke="#2e2e2e" stroke-width="0.85"/>
<circle cx="254.10" cy="689.41" r="3.87" fill="#cfcfcf" stroke="#2e2e2e" stroke-width="0.85"/>
<circle cx="249.70" cy="692.68" r="4.43" fill="#8a8a8a" stroke="#2e2e2e" stroke-width="0.85"/>
<circle cx="263.24" cy="692.72" r="4.41" fill="#bcbcbc" stroke="#2e2e2e" stroke-width="0.85"/>
<circle cx="263.66" cy="694.07" r="3.52" fill="#bcbcbc" stroke="#2e2e2e" stroke-width="0.85"/>
<circle cx="240.34" cy="695.59" r="3.90" fill="#bcbcbc" stroke="#2e2e2e" stroke-width="0.85"/>
<circle cx="253.17" cy="696.07" r="3.26" fill="#bcbcbc" stroke="#2e2e2e" stroke-width="0.85"/>
<circle cx="250.39" cy="698.53" r="3.80" fill="#bcbcbc" stroke="#2e2e2e" stroke-width="0.85"/>
<circle cx="253.39" cy="698.53" r="3.32" fill="#dadada" stroke="#2e2e2e" stroke-width="0.85"/>
<circle cx="240.92" cy="699.30" r="4.55" fill="#cfcfcf" stroke="#2e2e2e" stroke-width="0.85"/>
<circle cx="260.44" cy="700.31" r="3.55" fill="#a8a8a8" stroke="#2e2e2e" stroke-width="0.85"/>
<circle cx="261.06" cy="700.79" r="3.54" fill="#bcbcbc" stroke="#2e2e2e" stroke-width="0.85"/>
<circle cx="243.27" cy="702.98" r="4.69" fill="#dadada" stroke="#2e2e2e" stroke-width="0.85"/>
<circle cx="258.82" cy="704.65" r="4.50" fill="#a8a8a8" stroke="#2e2e2e" stroke-width="0.85"/>
<circle cx="264.86" cy="704.90" r="3.32" fill="#cfcfcf" stroke="#2e2e2e" stroke-width="0.85"/>
<circle cx="267.31" cy="704.96" r="3.74" fill="#dadada" stroke="#2e2e2e" stroke-width="0.85"/>
<circle cx="265.85" cy="705.09" r="4.10" fill="#bcbcbc" stroke="#2e2e2e" stroke-width="0.85"/>
<circle cx="266.91" cy="707.24" r="4.69" fill="#cfcfcf" stroke="#2e2e2e" stroke-width="0.85"/>
<circle cx="258.64" cy="710.30" r="4.61" fill="#bcbcbc" stroke="#2e2e2e" stroke-width="0.85"/>
<circle cx="257.14" cy="701.06" r="2.02" fill="#3c3c3c" opacity="0.7"/>
<circle cx="252.49" cy="691.50" r="1.90" fill="#3c3c3c" opacity="0.7"/>
<circle cx="260.75" cy="688.11" r="1.52" fill="#3c3c3c" opacity="0.7"/>
<circle cx="255.21" cy="689.65" r="2.31" fill="#3c3c3c" opacity="0.7"/>
<circle cx="260.43" cy="696.43" r="2.36" fill="#3c3c3c" opacity="0.7"/>
<circle cx="263.17" cy="696.42" r="2.28" fill="#3c3c3c" opacity="0.7"/>
</g>
<rect x="228.90" y="665.90" width="58.20" height="56.60" fill="#fff" filter="url(#grain)" opacity="0.15"/>
</g>
<linearGradient id="lg5" x1="0" y1="0" x2="1" y2="0.3"><stop offset="0" stop-color="#868686"/><stop offset="1" stop-color="#a4a4a4"/></linearGradient>
<clipPath id="cl5"><rect x="51.1" y="724.6" width="57.80" height="57.20"/></clipPath>
<g clip-path="url(#cl5)">
<rect x="51.10" y="724.60" width="57.80" height="57.20" fill="url(#lg5)" />
<path d="M89.19,753.00 L90.33,755.56 L89.39,757.88 L89.99,761.16 L89.43,764.30 L87.50,766.35 L86.19,769.72 L82.92,768.92 L80.49,769.63 L78.00,769.20 L75.29,771.12 L72.57,770.58 L71.80,765.66 L71.37,762.32 L70.33,760.59 L66.51,760.82 L64.26,758.89 L64.27,755.85 L61.64,753.00 L62.41,749.76 L62.16,746.21 L66.23,744.99 L69.38,744.47 L69.34,740.84 L71.39,739.51 L73.39,738.08 L75.57,736.78 L78.00,737.95 L80.11,738.87 L83.23,736.07 L85.47,737.76 L88.11,738.80 L90.01,741.12 L93.74,742.29 L93.04,746.55 L91.35,750.23Z" fill="#8a8a8a" stroke="#4a4a4a" stroke-width="0.6" opacity="0.28"/>
<circle cx="72.12" cy="757.12" r="3.72" fill="none" stroke="#4a4a4a" stroke-width="0.5" opacity="0.55"/>
<circle cx="69.93" cy="756.52" r="3.19" fill="none" stroke="#4a4a4a" stroke-width="0.5" opacity="0.55"/>
<circle cx="73.08" cy="762.31" r="3.82" fill="none" stroke="#4a4a4a" stroke-width="0.5" opacity="0.55"/>
<circle cx="85.93" cy="757.54" r="2.68" fill="none" stroke="#4a4a4a" stroke-width="0.5" opacity="0.55"/>
<circle cx="72.84" cy="744.01" r="2.28" fill="none" stroke="#4a4a4a" stroke-width="0.5" opacity="0.55"/>
<circle cx="84.53" cy="759.60" r="3.75" fill="none" stroke="#4a4a4a" stroke-width="0.5" opacity="0.55"/>
<circle cx="81.03" cy="741.32" r="2.45" fill="none" stroke="#4a4a4a" stroke-width="0.5" opacity="0.55"/>
<circle cx="72.74" cy="761.49" r="2.86" fill="none" stroke="#4a4a4a" stroke-width="0.5" opacity="0.55"/>
<ellipse cx="78.0" cy="751.0" rx="4.9" ry="5.0" fill="#444" opacity="0.4" filter="url(#blur1)"/>
<rect x="51.10" y="724.60" width="57.80" height="57.20" fill="#fff" filter="url(#grain)" opacity="0.15"/>
</g>
<linearGradient id="lg6" x1="0" y1="0" x2="1" y2="0.3"><stop offset="0" stop-color="#8e8e8e"/><stop offset="1" stop-color="#acacac"/></linearGradient>
<clipPath id="cl6"><rect x="110.4" y="724.6" width="57.20" height="57.20"/></clipPath>
<g clip-path="url(#cl6)">
<rect x="110.40" y="724.60" width="57.20" height="57.20" fill="url(#lg6)" />
<path d="M150.39,754.00 L152.41,756.66 L153.80,760.06 L155.94,765.00 L153.47,767.66 L150.61,769.57 L146.64,768.88 L144.90,772.23 L142.07,773.56 L139.00,771.90 L136.40,770.56 L133.82,770.02 L131.97,767.70 L129.73,766.42 L128.02,764.36 L126.75,761.96 L121.14,761.31 L118.41,758.08 L118.63,754.00 L122.90,750.81 L125.74,748.57 L125.37,745.15 L127.41,743.06 L130.42,742.50 L132.49,741.31 L133.77,737.84 L135.96,734.63 L139.00,736.60 L141.85,735.84 L144.71,736.35 L147.97,736.51 L151.65,737.04 L151.98,741.75 L153.28,744.73 L153.59,748.02 L152.56,751.31Z" fill="#8a8a8a" stroke="#4a4a4a" stroke-width="0.6" opacity="0.28"/>
<circle cx="141.24" cy="748.08" r="3.86" fill="none" stroke="#4a4a4a" stroke-width="0.5" opacity="0.55"/>
<circle cx="138.06" cy="745.60" r="2.97" fill="none" stroke="#4a4a4a" stroke-width="0.5" opacity="0.55"/>
<circle cx="145.20" cy="755.52" r="3.37" fill="none" stroke="#4a4a4a" stroke-width="0.5" opacity="0.55"/>
<circle cx="139.93" cy="746.41" r="3.45" fill="none" stroke="#4a4a4a" stroke-width="0.5" opacity="0.55"/>
<circle cx="131.80" cy="761.74" r="3.70" fill="none" stroke="#4a4a4a" stroke-width="0.5" opacity="0.55"/>
<circle cx="139.61" cy="761.46" r="2.96" fill="none" stroke="#4a4a4a" stroke-width="0.5" opacity="0.55"/>
<circle cx="147.78" cy="752.58" r="3.71" fill="none" stroke="#4a4a4a" stroke-width="0.5" opacity="0.55"/>
<circle cx="144.20" cy="765.42" r="3.75" fill="none" stroke="#4a4a4a" stroke-width="0.5" opacity="0.55"/>
<circle cx="134.38" cy="759.91" r="2.38" fill="none" stroke="#4a4a4a" stroke-width="0.5" opacity="0.55"/>
<circle cx="143.85" cy="760.95" r="3.27" fill="none" stroke="#4a4a4a" stroke-width="0.5" opacity="0.55"/>
<circle cx="144.27" cy="747.97" r="3.88" fill="none" stroke="#4a4a4a" stroke-width="0.5" opacity="0.55"/>
<ellipse cx="139.0" cy="752.0" rx="5.6" ry="5.4" fill="#444" opacity="0.4" filter="url(#blur1)"/>
<rect x="110.40" y="724.60" width="57.20" height="57.20" fill="#fff" filter="url(#grain)" opacity="0.15"/>
</g>
<linearGradient id="lg7" x1="0" y1="0" x2="1" y2="0.3"><stop offset="0" stop-color="#989898"/><stop offset="1" stop-color="#b4b4b4"/></linearGradient>
<clipPath id="cl7"><rect x="169.3" y="724.6" width="58.60" height="57.20"/></clipPath>
<g clip-path="url(#cl7)">
<rect x="169.30" y="724.60" width="58.60" height="57.20" fill="url(#lg7)" />
<path d="M217.76,754.00 L216.47,757.68 L214.21,760.71 L212.26,763.42 L206.96,762.87 L205.51,764.73 L204.32,767.35 L203.23,771.96 L200.62,775.03 L197.20,775.73 L194.15,772.72 L190.79,773.07 L187.12,772.92 L184.34,770.60 L183.34,766.60 L181.55,763.79 L178.59,761.34 L182.83,756.74 L182.44,754.00 L183.77,751.43 L181.50,747.81 L180.24,743.39 L181.41,739.65 L183.38,736.16 L187.62,736.03 L190.49,734.04 L194.16,735.31 L197.20,738.13 L199.93,737.24 L202.79,737.37 L205.70,738.04 L207.42,740.81 L209.73,742.61 L212.04,744.72 L215.43,746.81 L218.15,750.00Z" fill="#8a8a8a" stroke="#4a4a4a" stroke-width="0.6" opacity="0.28"/>
<circle cx="203.66" cy="758.05" r="3.43" fill="none" stroke="#4a4a4a" stroke-width="0.5" opacity="0.55"/>
<circle cx="204.70" cy="767.04" r="3.72" fill="none" stroke="#4a4a4a" stroke-width="0.5" opacity="0.55"/>
<circle cx="196.67" cy="742.62" r="3.69" fill="none" stroke="#4a4a4a" stroke-width="0.5" opacity="0.55"/>
<circle cx="197.67" cy="766.64" r="2.87" fill="none" stroke="#4a4a4a" stroke-width="0.5" opacity="0.55"/>
<circle cx="182.95" cy="754.95" r="2.59" fill="none" stroke="#4a4a4a" stroke-width="0.5" opacity="0.55"/>
<circle cx="197.55" cy="740.01" r="2.36" fill="none" stroke="#4a4a4a" stroke-width="0.5" opacity="0.55"/>
<circle cx="207.55" cy="753.45" r="3.18" fill="none" stroke="#4a4a4a" stroke-width="0.5" opacity="0.55"/>
<circle cx="193.58" cy="765.60" r="3.93" fill="none" stroke="#4a4a4a" stroke-width="0.5" opacity="0.55"/>
<circle cx="189.82" cy="765.17" r="3.61" fill="none" stroke="#4a4a4a" stroke-width="0.5" opacity="0.55"/>
<circle cx="205.55" cy="744.13" r="2.98" fill="none" stroke="#4a4a4a" stroke-width="0.5" opacity="0.55"/>
<circle cx="192.03" cy="762.97" r="2.87" fill="none" stroke="#4a4a4a" stroke-width="0.5" opacity="0.55"/>
<circle cx="207.25" cy="744.47" r="2.59" fill="none" stroke="#4a4a4a" stroke-width="0.5" opacity="0.55"/>
<circle cx="196.67" cy="760.07" r="3.88" fill="none" stroke="#4a4a4a" stroke-width="0.5" opacity="0.55"/>
<circle cx="206.36" cy="757.87" r="2.53" fill="none" stroke="#4a4a4a" stroke-width="0.5" opacity="0.55"/>
<ellipse cx="197.2" cy="752.0" rx="6.3" ry="5.8" fill="#444" opacity="0.4" filter="url(#blur1)"/>
<rect x="169.30" y="724.60" width="58.60" height="57.20" fill="#fff" filter="url(#grain)" opacity="0.15"/>
</g>
<linearGradient id="lg8" x1="0" y1="0" x2="1" y2="0.3"><stop offset="0" stop-color="#929292"/><stop offset="1" stop-color="#b0b0b0"/></linearGradient>
<clipPath id="cl8"><rect x="228.9" y="724.6" width="58.20" height="57.20"/></clipPath>
<g clip-path="url(#cl8)">
<rect x="228.90" y="724.60" width="58.20" height="57.20" fill="url(#lg8)" />
<path d="M276.21,754.00 L277.69,758.22 L277.49,762.62 L271.75,763.90 L270.12,766.82 L266.91,767.85 L263.84,768.08 L261.51,769.04 L259.40,771.47 L256.70,778.01 L253.26,776.23 L250.33,773.92 L248.43,770.31 L245.12,769.71 L241.77,768.27 L239.06,765.60 L240.62,760.67 L241.28,757.10 L240.59,754.00 L239.59,750.56 L244.44,748.92 L243.02,745.01 L242.32,740.26 L242.00,734.05 L245.87,732.64 L249.73,732.20 L253.56,733.71 L256.70,733.35 L259.84,733.71 L262.10,737.11 L263.96,739.68 L267.05,739.96 L272.02,739.36 L271.83,744.05 L271.15,748.01 L275.59,750.21Z" fill="#8a8a8a" stroke="#4a4a4a" stroke-width="0.6" opacity="0.28"/>
<circle cx="269.92" cy="750.08" r="3.52" fill="none" stroke="#4a4a4a" stroke-width="0.5" opacity="0.55"/>
<circle cx="258.00" cy="764.42" r="3.48" fill="none" stroke="#4a4a4a" stroke-width="0.5" opacity="0.55"/>
<circle cx="258.48" cy="748.50" r="2.50" fill="none" stroke="#4a4a4a" stroke-width="0.5" opacity="0.55"/>
<circle cx="262.03" cy="749.29" r="3.38" fill="none" stroke="#4a4a4a" stroke-width="0.5" opacity="0.55"/>
<circle cx="250.94" cy="766.01" r="3.75" fill="none" stroke="#4a4a4a" stroke-width="0.5" opacity="0.55"/>
<circle cx="248.12" cy="748.53" r="2.78" fill="none" stroke="#4a4a4a" stroke-width="0.5" opacity="0.55"/>
<circle cx="248.10" cy="744.67" r="2.94" fill="none" stroke="#4a4a4a" stroke-width="0.5" opacity="0.55"/>
<circle cx="245.82" cy="756.68" r="2.67" fill="none" stroke="#4a4a4a" stroke-width="0.5" opacity="0.55"/>
<circle cx="261.58" cy="765.73" r="2.38" fill="none" stroke="#4a4a4a" stroke-width="0.5" opacity="0.55"/>
<circle cx="245.92" cy="745.37" r="3.69" fill="none" stroke="#4a4a4a" stroke-width="0.5" opacity="0.55"/>
<circle cx="256.56" cy="765.45" r="3.86" fill="none" stroke="#4a4a4a" stroke-width="0.5" opacity="0.55"/>
<circle cx="248.22" cy="767.34" r="2.56" fill="none" stroke="#4a4a4a" stroke-width="0.5" opacity="0.55"/>
<circle cx="259.70" cy="748.65" r="3.40" fill="none" stroke="#4a4a4a" stroke-width="0.5" opacity="0.55"/>
<circle cx="260.51" cy="741.98" r="3.34" fill="none" stroke="#4a4a4a" stroke-width="0.5" opacity="0.55"/>
<circle cx="269.09" cy="745.45" r="2.52" fill="none" stroke="#4a4a4a" stroke-width="0.5" opacity="0.55"/>
<circle cx="251.20" cy="753.11" r="2.88" fill="none" stroke="#4a4a4a" stroke-width="0.5" opacity="0.55"/>
<circle cx="261.18" cy="760.58" r="3.32" fill="none" stroke="#4a4a4a" stroke-width="0.5" opacity="0.55"/>
<ellipse cx="256.7" cy="752.0" rx="6.3" ry="6.1" fill="#444" opacity="0.4" filter="url(#blur1)"/>
<rect x="228.90" y="724.60" width="58.20" height="57.20" fill="#fff" filter="url(#grain)" opacity="0.15"/>
</g>
<rect x="56.20" y="768.30" width="13.90" height="3.00" fill="#fff" />
<text x="53.10" y="778.40" font-size="10.3" fill="#fff" textLength="31.82" lengthAdjust="spacingAndGlyphs" >100 μm</text>
<text x="49.00" y="791.20" font-size="8.96" textLength="137.07" lengthAdjust="spacingAndGlyphs" >Intestinal organoids, phase contrast</text>
<text x="307.00" y="658.00" font-size="13" fill="#000" font-weight="bold" >m</text>
<line x1="338.00" y1="681.00" x2="338.00" y2="763.70" stroke="#888" stroke-width="0.9" />
<line x1="338.00" y1="763.70" x2="428.80" y2="763.70" stroke="#888" stroke-width="0.9" />
<line x1="338.00" y1="763.70" x2="340.20" y2="763.70" stroke="#888" stroke-width="0.8" />
<text x="334.50" y="766.80" font-size="9.63" text-anchor="end" textLength="4.71" lengthAdjust="spacingAndGlyphs" >0</text>
<line x1="338.00" y1="722.90" x2="340.20" y2="722.90" stroke="#888" stroke-width="0.8" />
<text x="334.50" y="726.00" font-size="9.63" text-anchor="end" textLength="4.71" lengthAdjust="spacingAndGlyphs" >5</text>
<line x1="338.00" y1="682.10" x2="340.20" y2="682.10" stroke="#888" stroke-width="0.8" />
<text x="334.50" y="685.20" font-size="9.63" text-anchor="end" textLength="9.41" lengthAdjust="spacingAndGlyphs" >10</text>
<line x1="355.80" y1="763.70" x2="355.80" y2="761.50" stroke="#888" stroke-width="0.8" />
<text x="355.80" y="773.90" font-size="9.63" text-anchor="middle" textLength="4.71" lengthAdjust="spacingAndGlyphs" >2</text>
<line x1="374.30" y1="763.70" x2="374.30" y2="761.50" stroke="#888" stroke-width="0.8" />
<text x="374.30" y="773.90" font-size="9.63" text-anchor="middle" textLength="4.71" lengthAdjust="spacingAndGlyphs" >3</text>
<line x1="392.80" y1="763.70" x2="392.80" y2="761.50" stroke="#888" stroke-width="0.8" />
<text x="392.80" y="773.90" font-size="9.63" text-anchor="middle" textLength="4.71" lengthAdjust="spacingAndGlyphs" >4</text>
<line x1="411.30" y1="763.70" x2="411.30" y2="761.50" stroke="#888" stroke-width="0.8" />
<text x="411.30" y="773.90" font-size="9.63" text-anchor="middle" textLength="4.71" lengthAdjust="spacingAndGlyphs" >5</text>
<text x="328.00" y="673.80" font-size="8.69" >×10<tspan font-size="6" dy="-3">4</tspan></text>
<text x="381.00" y="672.10" font-size="9.63" text-anchor="middle" textLength="11.76" lengthAdjust="spacingAndGlyphs" >NS</text>
<line x1="354.20" y1="674.80" x2="412.00" y2="674.80" stroke="#888" stroke-width="0.9" />
<rect x="353.40" y="678.10" width="4.80" height="2.60" fill="#1520ee" />
<rect x="371.90" y="678.10" width="4.80" height="2.60" fill="#1520ee" />
<rect x="390.40" y="678.10" width="4.80" height="2.60" fill="#1520ee" />
<rect x="408.90" y="678.10" width="4.80" height="2.60" fill="#1520ee" />
<text x="434.80" y="677.10" font-size="9.86" text-anchor="middle" fill="#2030ee" textLength="35.18" lengthAdjust="spacingAndGlyphs" >Clearing</text>
<text x="434.80" y="686.60" font-size="9.86" text-anchor="middle" fill="#2030ee" textLength="18.35" lengthAdjust="spacingAndGlyphs" >(4 h)</text>
<text x="317.50" y="720.70" font-size="9.96" text-anchor="middle" transform="rotate(-90 317.50 720.70)" >Size (μm<tspan font-size="6.2" dy="-3">2</tspan><tspan dy="3">)</tspan></text>
<text x="382.70" y="788.00" font-size="10.53" text-anchor="middle" textLength="87.34" lengthAdjust="spacingAndGlyphs" >Days from passage</text>
<polyline points="355.80,736.77 374.30,728.61 392.80,719.64 411.30,711.48" fill="none" stroke="#666" stroke-width="1.0" />
<polyline points="355.80,737.59 374.30,733.51 392.80,726.16 411.30,722.08" fill="none" stroke="#f04040" stroke-width="1.1" />
<line x1="355.40" y1="752.28" x2="355.40" y2="720.45" stroke="#666" stroke-width="0.8" />
<line x1="353.60" y1="752.28" x2="357.20" y2="752.28" stroke="#666" stroke-width="0.8" />
<line x1="353.60" y1="720.45" x2="357.20" y2="720.45" stroke="#666" stroke-width="0.8" />
<line x1="373.90" y1="751.46" x2="373.90" y2="704.95" stroke="#666" stroke-width="0.8" />
<line x1="372.10" y1="751.46" x2="375.70" y2="751.46" stroke="#666" stroke-width="0.8" />
<line x1="372.10" y1="704.95" x2="375.70" y2="704.95" stroke="#666" stroke-width="0.8" />
<line x1="392.40" y1="745.75" x2="392.40" y2="692.71" stroke="#666" stroke-width="0.8" />
<line x1="390.60" y1="745.75" x2="394.20" y2="745.75" stroke="#666" stroke-width="0.8" />
<line x1="390.60" y1="692.71" x2="394.20" y2="692.71" stroke="#666" stroke-width="0.8" />
<line x1="410.90" y1="739.22" x2="410.90" y2="683.73" stroke="#666" stroke-width="0.8" />
<line x1="409.10" y1="739.22" x2="412.70" y2="739.22" stroke="#666" stroke-width="0.8" />
<line x1="409.10" y1="683.73" x2="412.70" y2="683.73" stroke="#666" stroke-width="0.8" />
<line x1="356.20" y1="752.28" x2="356.20" y2="723.72" stroke="#f04040" stroke-width="0.9" />
<line x1="354.30" y1="752.28" x2="358.10" y2="752.28" stroke="#f04040" stroke-width="0.9" />
<line x1="354.30" y1="723.72" x2="358.10" y2="723.72" stroke="#f04040" stroke-width="0.9" />
<line x1="374.70" y1="753.09" x2="374.70" y2="713.11" stroke="#f04040" stroke-width="0.9" />
<line x1="372.80" y1="753.09" x2="376.60" y2="753.09" stroke="#f04040" stroke-width="0.9" />
<line x1="372.80" y1="713.11" x2="376.60" y2="713.11" stroke="#f04040" stroke-width="0.9" />
<line x1="393.20" y1="746.56" x2="393.20" y2="704.13" stroke="#f04040" stroke-width="0.9" />
<line x1="391.30" y1="746.56" x2="395.10" y2="746.56" stroke="#f04040" stroke-width="0.9" />
<line x1="391.30" y1="704.13" x2="395.10" y2="704.13" stroke="#f04040" stroke-width="0.9" />
<line x1="411.70" y1="744.12" x2="411.70" y2="700.87" stroke="#f04040" stroke-width="0.9" />
<line x1="409.80" y1="744.12" x2="413.60" y2="744.12" stroke="#f04040" stroke-width="0.9" />
<line x1="409.80" y1="700.87" x2="413.60" y2="700.87" stroke="#f04040" stroke-width="0.9" />
<line x1="420.70" y1="718.00" x2="432.00" y2="718.00" stroke="#666" stroke-width="0.9" />
<line x1="426.30" y1="714.00" x2="426.30" y2="722.00" stroke="#666" stroke-width="0.8" />
<line x1="424.70" y1="714.00" x2="427.90" y2="714.00" stroke="#666" stroke-width="0.8" />
<line x1="424.70" y1="722.00" x2="427.90" y2="722.00" stroke="#666" stroke-width="0.8" />
<text x="436.40" y="720.80" font-size="9.86" textLength="30.36" lengthAdjust="spacingAndGlyphs" >Control</text>
<line x1="420.70" y1="734.20" x2="432.00" y2="734.20" stroke="#f04040" stroke-width="1.0" />
<line x1="426.30" y1="730.20" x2="426.30" y2="738.20" stroke="#f04040" stroke-width="0.9" />
<line x1="424.70" y1="730.20" x2="427.90" y2="730.20" stroke="#f04040" stroke-width="0.9" />
<line x1="424.70" y1="738.20" x2="427.90" y2="738.20" stroke="#f04040" stroke-width="0.9" />
<text x="436.40" y="731.90" font-size="9.86" textLength="31.41" lengthAdjust="spacingAndGlyphs" >SeeDB-</text>
<text x="436.40" y="741.70" font-size="9.86" textLength="17.13" lengthAdjust="spacingAndGlyphs" >Live</text>
<text x="481.80" y="658.00" font-size="13" fill="#000" font-weight="bold" >n</text>
<text x="525.50" y="661.30" font-size="10.53" text-anchor="middle" textLength="32.43" lengthAdjust="spacingAndGlyphs" >Control</text>
<text x="596.50" y="661.30" font-size="10.53" text-anchor="middle" textLength="51.85" lengthAdjust="spacingAndGlyphs" >SeeDB-Live</text>
<rect x="491.20" y="665.60" width="68.90" height="114.00" fill="#000" />
<rect x="561.50" y="665.60" width="70.30" height="114.00" fill="#000" />
<clipPath id="cn1"><rect x="491.2" y="665.6" width="68.9" height="114"/></clipPath>
<clipPath id="cn2"><rect x="561.5" y="665.6" width="70.3" height="114"/></clipPath>
<g clip-path="url(#cn1)">
<g filter="url(#blur3)">
<ellipse cx="524.0" cy="704.6" rx="12" ry="16" fill="#fff" opacity="0.18" transform="rotate(0 524.0 704.6)"/>
<ellipse cx="539.4" cy="733.1" rx="10" ry="6" fill="#fff" opacity="0.1" transform="rotate(0 539.4 733.1)"/>
<ellipse cx="513.1" cy="706.8" rx="6" ry="12" fill="#fff" opacity="0.12" transform="rotate(0 513.1 706.8)"/>
</g><g filter="url(#blur1)">
<ellipse cx="517.5" cy="689.3" rx="2.24" ry="4.50" fill="#fff" opacity="0.85" transform="rotate(-20 517.5 689.3)"/>
<ellipse cx="519.7" cy="695.8" rx="2.08" ry="3.30" fill="#fff" opacity="0.7" transform="rotate(0 519.7 695.8)"/>
<ellipse cx="525.1" cy="700.2" rx="2.40" ry="3.75" fill="#fff" opacity="0.8" transform="rotate(10 525.1 700.2)"/>
<ellipse cx="528.4" cy="705.7" rx="2.24" ry="4.20" fill="#fff" opacity="0.8" transform="rotate(-40 528.4 705.7)"/>
<ellipse cx="533.9" cy="691.5" rx="1.92" ry="4.80" fill="#fff" opacity="0.75" transform="rotate(35 533.9 691.5)"/>
<ellipse cx="535.0" cy="715.6" rx="2.40" ry="4.20" fill="#fff" opacity="0.8" transform="rotate(-30 535.0 715.6)"/>
<ellipse cx="542.6" cy="712.3" rx="2.40" ry="4.80" fill="#fff" opacity="0.85" transform="rotate(45 542.6 712.3)"/>
<ellipse cx="513.1" cy="703.5" rx="1.92" ry="3.00" fill="#fff" opacity="0.5" transform="rotate(0 513.1 703.5)"/>
<ellipse cx="521.8" cy="710.1" rx="1.76" ry="3.30" fill="#fff" opacity="0.45" transform="rotate(0 521.8 710.1)"/>
<ellipse cx="538.3" cy="722.1" rx="1.92" ry="3.00" fill="#fff" opacity="0.35" transform="rotate(0 538.3 722.1)"/>
</g></g>
<g clip-path="url(#cn2)">
<g filter="url(#blur3)">
<ellipse cx="596.3" cy="706.8" rx="13" ry="18" fill="#fff" opacity="0.22" transform="rotate(0 596.3 706.8)"/>
<ellipse cx="610.5" cy="733.1" rx="10" ry="7" fill="#fff" opacity="0.12" transform="rotate(0 610.5 733.1)"/>
<ellipse cx="583.2" cy="709.0" rx="6" ry="12" fill="#fff" opacity="0.12" transform="rotate(0 583.2 709.0)"/>
</g><g filter="url(#blur1)">
<ellipse cx="590.2" cy="694.7" rx="3.20" ry="6.30" fill="#fff" opacity="1.0" transform="rotate(-15 590.2 694.7)"/>
<ellipse cx="599.6" cy="692.6" rx="2.24" ry="5.25" fill="#fff" opacity="0.9" transform="rotate(35 599.6 692.6)"/>
<ellipse cx="590.8" cy="706.8" rx="2.88" ry="4.20" fill="#fff" opacity="0.95" transform="rotate(0 590.8 706.8)"/>
<ellipse cx="598.5" cy="714.5" rx="4.48" ry="3.60" fill="#fff" opacity="1.0" transform="rotate(0 598.5 714.5)"/>
<ellipse cx="608.3" cy="713.8" rx="2.56" ry="5.40" fill="#fff" opacity="0.95" transform="rotate(40 608.3 713.8)"/>
<ellipse cx="596.3" cy="702.4" rx="1.92" ry="2.40" fill="#fff" opacity="0.7" transform="rotate(0 596.3 702.4)"/>
<ellipse cx="585.3" cy="702.4" rx="1.92" ry="3.30" fill="#fff" opacity="0.5" transform="rotate(0 585.3 702.4)"/>
<ellipse cx="602.9" cy="707.9" rx="1.92" ry="3.00" fill="#fff" opacity="0.6" transform="rotate(0 602.9 707.9)"/>
<ellipse cx="611.6" cy="734.2" rx="4.80" ry="2.25" fill="#fff" opacity="0.45" transform="rotate(0 611.6 734.2)"/>
<ellipse cx="610.5" cy="728.7" rx="4.00" ry="1.80" fill="#fff" opacity="0.35" transform="rotate(0 610.5 728.7)"/>
<ellipse cx="591.9" cy="719.9" rx="1.92" ry="3.30" fill="#fff" opacity="0.5" transform="rotate(0 591.9 719.9)"/>
</g></g>
<polyline points="495.10,672.90 514.80,671.30 555.10,670.70" fill="none" stroke="#cfcfcf" stroke-width="0.5" />
<polyline points="495.10,672.90 505.40,769.90 547.00,775.10 552.50,750.60 555.10,670.70" fill="none" stroke="#cfcfcf" stroke-width="0.5" />
<polyline points="505.40,769.90 517.50,748.40 552.50,750.60" fill="none" stroke="#cfcfcf" stroke-width="0.5" />
<polyline points="517.50,748.40 514.80,671.30" fill="none" stroke="#cfcfcf" stroke-width="0.5" />
<polyline points="547.00,775.10 553.00,672.00" fill="none" stroke="#cfcfcf" stroke-width="0.5" />
<polyline points="566.70,671.80 585.30,670.70 622.60,670.70" fill="none" stroke="#cfcfcf" stroke-width="0.5" />
<polyline points="566.70,671.80 573.30,768.10 617.10,779.00 619.30,750.60 622.60,670.70" fill="none" stroke="#cfcfcf" stroke-width="0.5" />
<polyline points="573.30,768.10 588.60,747.30 619.30,750.60" fill="none" stroke="#cfcfcf" stroke-width="0.5" />
<polyline points="588.60,747.30 585.30,670.70" fill="none" stroke="#cfcfcf" stroke-width="0.5" />
<polyline points="617.10,779.00 620.00,672.00" fill="none" stroke="#cfcfcf" stroke-width="0.5" />
<line x1="627.40" y1="673.50" x2="627.40" y2="747.80" stroke="#fff" stroke-width="1.3" />
<path d="M627.40,670.70 L625.50,674.20 L629.30,674.20Z" fill="#fff" stroke="none" stroke-width="0.8" />
<path d="M627.40,750.60 L625.50,747.10 L629.30,747.10Z" fill="#fff" stroke="none" stroke-width="0.8" />
<line x1="576.06" y1="771.18" x2="612.84" y2="777.52" stroke="#fff" stroke-width="1.3" />
<path d="M573.30,770.70 L576.43,773.17 L577.07,769.42Z" fill="#fff" stroke="none" stroke-width="0.8" />
<path d="M615.60,778.00 L611.83,779.28 L612.47,775.53Z" fill="#fff" stroke="none" stroke-width="0.8" />
<text x="636.50" y="710.70" font-size="9.41" text-anchor="middle" textLength="29.05" lengthAdjust="spacingAndGlyphs" transform="rotate(90 636.50 710.70)" >240 μm</text>
<text x="588.60" y="788.20" font-size="9.41" text-anchor="middle" textLength="29.05" lengthAdjust="spacingAndGlyphs" >110 μm</text>
<text x="482.60" y="797.80" font-size="8.96" textLength="176.86" lengthAdjust="spacingAndGlyphs" >GCaMP6s, EEC in intestinal organoid, confocal</text>
<text x="0.50" y="819.80" font-size="13" fill="#000" font-weight="bold" >o</text>
<text x="57.20" y="832.50" font-size="10.18" text-anchor="middle" ><tspan font-style="italic">F</tspan><tspan font-size="6.5" dy="2">0</tspan></text>
<text x="134.90" y="832.50" font-size="10.18" text-anchor="middle" >Δ<tspan font-style="italic">F</tspan>/<tspan font-style="italic">F</tspan><tspan font-size="6.5" dy="2">0</tspan></text>
<rect x="17.80" y="836.60" width="157.00" height="78.30" fill="#000" />
<clipPath id="co1"><rect x="17.8" y="836.6" width="77.9" height="78.3"/></clipPath>
<clipPath id="co2"><rect x="95.7" y="836.6" width="79.1" height="78.3"/></clipPath>
<g clip-path="url(#co1)">
<path d="M14.00,852.60 C16.67,841.77 24.83,850.17 30.00,849.50 C35.17,848.83 41.23,848.82 45.00,848.60 C48.77,848.38 50.37,849.00 52.60,848.20 C54.83,847.40 55.50,844.75 58.40,843.80 C61.30,842.85 66.10,842.67 70.00,842.50 C73.90,842.33 78.63,842.18 81.80,842.80 C84.97,843.42 87.07,844.42 89.00,846.20 C90.93,847.98 92.42,850.50 93.40,853.50 C94.38,856.50 94.90,860.47 94.90,864.20 C94.90,867.93 94.62,872.17 93.40,875.90 C92.18,879.63 90.03,883.75 87.60,886.60 C85.17,889.45 82.20,891.00 78.80,893.00 C75.40,895.00 71.57,896.83 67.20,898.60 C62.83,900.37 56.50,902.03 52.60,903.60 C48.70,905.17 46.73,906.53 43.80,908.00 C40.87,909.47 39.97,911.32 35.00,912.40 C30.03,913.48 17.50,924.47 14.00,914.50 C10.50,904.53 11.33,863.43 14.00,852.60Z" fill="#676767" stroke="none" stroke-width="0.8" />
<path d="M14.00,852.60 C16.67,841.77 24.83,850.17 30.00,849.50 C35.17,848.83 41.23,848.82 45.00,848.60 C48.77,848.38 50.37,849.00 52.60,848.20 C54.83,847.40 55.50,844.75 58.40,843.80 C61.30,842.85 66.10,842.67 70.00,842.50 C73.90,842.33 78.63,842.18 81.80,842.80 C84.97,843.42 87.07,844.42 89.00,846.20 C90.93,847.98 92.42,850.50 93.40,853.50 C94.38,856.50 94.90,860.47 94.90,864.20 C94.90,867.93 94.62,872.17 93.40,875.90 C92.18,879.63 90.03,883.75 87.60,886.60 C85.17,889.45 82.20,891.00 78.80,893.00 C75.40,895.00 71.57,896.83 67.20,898.60 C62.83,900.37 56.50,902.03 52.60,903.60 C48.70,905.17 46.73,906.53 43.80,908.00 C40.87,909.47 39.97,911.32 35.00,912.40 C30.03,913.48 17.50,924.47 14.00,914.50 C10.50,904.53 11.33,863.43 14.00,852.60Z" fill="#fff" stroke="none" stroke-width="0.8" filter="url(#grain)" opacity="0.5"/>
<path d="M14.00,852.60 C16.67,841.77 24.83,850.17 30.00,849.50 C35.17,848.83 41.23,848.82 45.00,848.60 C48.77,848.38 50.37,849.00 52.60,848.20 C54.83,847.40 55.50,844.75 58.40,843.80 C61.30,842.85 66.10,842.67 70.00,842.50 C73.90,842.33 78.63,842.18 81.80,842.80 C84.97,843.42 87.07,844.42 89.00,846.20 C90.93,847.98 92.42,850.50 93.40,853.50 C94.38,856.50 94.90,860.47 94.90,864.20 C94.90,867.93 94.62,872.17 93.40,875.90 C92.18,879.63 90.03,883.75 87.60,886.60 C85.17,889.45 82.20,891.00 78.80,893.00 C75.40,895.00 71.57,896.83 67.20,898.60 C62.83,900.37 56.50,902.03 52.60,903.60 C48.70,905.17 46.73,906.53 43.80,908.00 C40.87,909.47 39.97,911.32 35.00,912.40 C30.03,913.48 17.50,924.47 14.00,914.50 C10.50,904.53 11.33,863.43 14.00,852.60Z" fill="#000" stroke="none" stroke-width="0.8" filter="url(#grainD)" opacity="0.3"/>
<clipPath id="cf0"><path d="M14.00,852.60 C16.67,841.77 24.83,850.17 30.00,849.50 C35.17,848.83 41.23,848.82 45.00,848.60 C48.77,848.38 50.37,849.00 52.60,848.20 C54.83,847.40 55.50,844.75 58.40,843.80 C61.30,842.85 66.10,842.67 70.00,842.50 C73.90,842.33 78.63,842.18 81.80,842.80 C84.97,843.42 87.07,844.42 89.00,846.20 C90.93,847.98 92.42,850.50 93.40,853.50 C94.38,856.50 94.90,860.47 94.90,864.20 C94.90,867.93 94.62,872.17 93.40,875.90 C92.18,879.63 90.03,883.75 87.60,886.60 C85.17,889.45 82.20,891.00 78.80,893.00 C75.40,895.00 71.57,896.83 67.20,898.60 C62.83,900.37 56.50,902.03 52.60,903.60 C48.70,905.17 46.73,906.53 43.80,908.00 C40.87,909.47 39.97,911.32 35.00,912.40 C30.03,913.48 17.50,924.47 14.00,914.50 C10.50,904.53 11.33,863.43 14.00,852.60Z"/></clipPath>
<g clip-path="url(#cf0)"><path d="M58.40,843.80 C62.77,832.88 66.10,842.67 70.00,842.50 C73.90,842.33 78.63,842.18 81.80,842.80 C84.97,843.42 87.07,844.42 89.00,846.20 C90.93,847.98 92.42,850.50 93.40,853.50 C94.38,856.50 94.90,860.47 94.90,864.20 C94.90,867.93 94.62,872.17 93.40,875.90 C92.18,879.63 90.03,883.75 87.60,886.60 C85.17,889.45 82.20,891.00 78.80,893.00 C75.40,895.00 71.57,896.83 67.20,898.60 C62.83,900.37 56.50,902.03 52.60,903.60 C48.70,905.17 42.83,917.97 43.80,908.00" fill="none" stroke="#f0f0f0" stroke-width="2.6" filter="url(#blur05)" opacity="0.6"/></g>
</g>
<g clip-path="url(#co2)">
<clipPath id="cdf"><path d="M96.17,852.35 C96.95,850.11 97.53,856.54 98.50,857.61 C99.48,858.68 100.64,859.07 102.01,858.77 C103.37,858.48 105.32,856.54 106.68,855.85 C108.04,855.17 108.82,854.30 110.18,854.69 C111.55,855.08 112.91,858.00 114.85,858.19 C116.80,858.38 119.33,856.83 121.86,855.85 C124.39,854.88 127.90,853.52 130.04,852.35 C132.18,851.18 133.15,849.72 134.71,848.85 C136.27,847.97 137.43,847.68 139.38,847.09 C141.33,846.51 144.44,845.93 146.39,845.34 C148.33,844.76 149.50,843.98 151.06,843.59 C152.62,843.20 153.78,842.91 155.73,843.01 C157.68,843.10 160.60,843.59 162.74,844.18 C164.88,844.76 166.82,845.15 168.58,846.51 C170.33,847.87 172.37,850.21 173.25,852.35 C174.12,854.49 174.03,857.02 173.83,859.36 C173.64,861.69 172.76,864.03 172.08,866.36 C171.40,868.70 170.91,870.65 169.74,873.37 C168.58,876.10 166.63,879.99 165.07,882.72 C163.52,885.44 162.15,887.78 160.40,889.72 C158.65,891.67 156.31,893.23 154.56,894.39 C152.81,895.56 151.64,896.05 149.89,896.73 C148.14,897.41 145.80,898.00 144.05,898.48 C142.30,898.97 141.13,899.55 139.38,899.65 C137.63,899.75 135.10,898.77 133.54,899.07 C131.98,899.36 131.20,901.01 130.04,901.40 C128.87,901.79 127.70,901.01 126.53,901.40 C125.36,901.79 124.39,902.96 123.03,903.74 C121.67,904.52 119.72,905.29 118.36,906.07 C117.00,906.85 116.41,907.63 114.85,908.41 C113.30,909.19 111.16,910.26 109.01,910.74 C106.87,911.23 103.95,911.52 102.01,911.33 C100.06,911.13 98.70,911.23 97.34,909.58 C95.97,907.92 94.42,907.82 93.83,901.40 C93.25,894.98 93.44,879.21 93.83,871.04 C94.22,862.86 95.39,854.59 96.17,852.35Z"/></clipPath>
<path d="M96.17,852.35 C96.95,850.11 97.53,856.54 98.50,857.61 C99.48,858.68 100.64,859.07 102.01,858.77 C103.37,858.48 105.32,856.54 106.68,855.85 C108.04,855.17 108.82,854.30 110.18,854.69 C111.55,855.08 112.91,858.00 114.85,858.19 C116.80,858.38 119.33,856.83 121.86,855.85 C124.39,854.88 127.90,853.52 130.04,852.35 C132.18,851.18 133.15,849.72 134.71,848.85 C136.27,847.97 137.43,847.68 139.38,847.09 C141.33,846.51 144.44,845.93 146.39,845.34 C148.33,844.76 149.50,843.98 151.06,843.59 C152.62,843.20 153.78,842.91 155.73,843.01 C157.68,843.10 160.60,843.59 162.74,844.18 C164.88,844.76 166.82,845.15 168.58,846.51 C170.33,847.87 172.37,850.21 173.25,852.35 C174.12,854.49 174.03,857.02 173.83,859.36 C173.64,861.69 172.76,864.03 172.08,866.36 C171.40,868.70 170.91,870.65 169.74,873.37 C168.58,876.10 166.63,879.99 165.07,882.72 C163.52,885.44 162.15,887.78 160.40,889.72 C158.65,891.67 156.31,893.23 154.56,894.39 C152.81,895.56 151.64,896.05 149.89,896.73 C148.14,897.41 145.80,898.00 144.05,898.48 C142.30,898.97 141.13,899.55 139.38,899.65 C137.63,899.75 135.10,898.77 133.54,899.07 C131.98,899.36 131.20,901.01 130.04,901.40 C128.87,901.79 127.70,901.01 126.53,901.40 C125.36,901.79 124.39,902.96 123.03,903.74 C121.67,904.52 119.72,905.29 118.36,906.07 C117.00,906.85 116.41,907.63 114.85,908.41 C113.30,909.19 111.16,910.26 109.01,910.74 C106.87,911.23 103.95,911.52 102.01,911.33 C100.06,911.13 98.70,911.23 97.34,909.58 C95.97,907.92 94.42,907.82 93.83,901.40 C93.25,894.98 93.44,879.21 93.83,871.04 C94.22,862.86 95.39,854.59 96.17,852.35Z" fill="#8a2ae0" stroke="#e83070" stroke-width="1.0" />
<g clip-path="url(#cdf)">
<ellipse cx="115" cy="885" rx="20" ry="26" fill="#e0206a" opacity="0.45" filter="url(#blur6)"/>
<ellipse cx="170" cy="880" rx="8" ry="22" fill="#5a3cff" opacity="0.5" filter="url(#blur6)"/>
<path d="M96.17,852.35 C96.95,850.11 97.53,856.54 98.50,857.61 C99.48,858.68 100.64,859.07 102.01,858.77 C103.37,858.48 105.32,856.54 106.68,855.85 C108.04,855.17 108.82,854.30 110.18,854.69 C111.55,855.08 112.91,858.00 114.85,858.19 C116.80,858.38 119.33,856.83 121.86,855.85 C124.39,854.88 127.90,853.52 130.04,852.35 C132.18,851.18 133.15,849.72 134.71,848.85 C136.27,847.97 137.43,847.68 139.38,847.09 C141.33,846.51 144.44,845.93 146.39,845.34 C148.33,844.76 149.50,843.98 151.06,843.59 C152.62,843.20 153.78,842.91 155.73,843.01 C157.68,843.10 160.60,843.59 162.74,844.18 C164.88,844.76 166.82,845.15 168.58,846.51 C170.33,847.87 172.37,850.21 173.25,852.35 C174.12,854.49 174.03,857.02 173.83,859.36 C173.64,861.69 172.76,864.03 172.08,866.36 C171.40,868.70 170.91,870.65 169.74,873.37 C168.58,876.10 166.63,879.99 165.07,882.72 C163.52,885.44 162.15,887.78 160.40,889.72 C158.65,891.67 156.31,893.23 154.56,894.39 C152.81,895.56 151.64,896.05 149.89,896.73 C148.14,897.41 145.80,898.00 144.05,898.48 C142.30,898.97 141.13,899.55 139.38,899.65 C137.63,899.75 135.10,898.77 133.54,899.07 C131.98,899.36 131.20,901.01 130.04,901.40 C128.87,901.79 127.70,901.01 126.53,901.40 C125.36,901.79 124.39,902.96 123.03,903.74 C121.67,904.52 119.72,905.29 118.36,906.07 C117.00,906.85 116.41,907.63 114.85,908.41 C113.30,909.19 111.16,910.26 109.01,910.74 C106.87,911.23 103.95,911.52 102.01,911.33 C100.06,911.13 98.70,911.23 97.34,909.58 C95.97,907.92 94.42,907.82 93.83,901.40 C93.25,894.98 93.44,879.21 93.83,871.04 C94.22,862.86 95.39,854.59 96.17,852.35Z" fill="#ff2a40" stroke="none" stroke-width="0.8" filter="url(#grain)" opacity="0.5"/>
</g>
</g>
<rect x="73.90" y="901.40" width="15.40" height="2.60" fill="#fff" />
<text x="80.00" y="912.80" font-size="9.86" text-anchor="middle" fill="#fff" textLength="30.43" lengthAdjust="spacingAndGlyphs" >100 μm</text>
<rect x="110.63" y="901.04" width="2.6" height="2.6" fill="#fff8c0" stroke="#dccb28" stroke-width="0.7"/>
<rect x="95.45" y="859.46" width="2.6" height="2.6" fill="#fff8c0" stroke="#dccb28" stroke-width="0.7"/>
<rect x="101.88" y="858.99" width="2.6" height="2.6" fill="#fff8c0" stroke="#dccb28" stroke-width="0.7"/>
<rect x="107.13" y="864.48" width="2.6" height="2.6" fill="#fff8c0" stroke="#dccb28" stroke-width="0.7"/>
<rect x="130.14" y="855.49" width="2.6" height="2.6" fill="#fff8c0" stroke="#dccb28" stroke-width="0.7"/>
<rect x="135.16" y="848.95" width="2.6" height="2.6" fill="#fff8c0" stroke="#dccb28" stroke-width="0.7"/>
<rect x="150.34" y="843.11" width="2.6" height="2.6" fill="#fff8c0" stroke="#dccb28" stroke-width="0.7"/>
<rect x="155.01" y="846.03" width="2.6" height="2.6" fill="#fff8c0" stroke="#dccb28" stroke-width="0.7"/>
<rect x="161.09" y="846.03" width="2.6" height="2.6" fill="#fff8c0" stroke="#dccb28" stroke-width="0.7"/>
<rect x="162.37" y="850.82" width="2.6" height="2.6" fill="#fff8c0" stroke="#dccb28" stroke-width="0.7"/>
<rect x="163.19" y="867.40" width="2.6" height="2.6" fill="#fff8c0" stroke="#dccb28" stroke-width="0.7"/>
<rect x="167.86" y="870.90" width="2.6" height="2.6" fill="#fff8c0" stroke="#dccb28" stroke-width="0.7"/>
<rect x="151.51" y="889.36" width="2.6" height="2.6" fill="#fff8c0" stroke="#dccb28" stroke-width="0.7"/>
<rect x="132.01" y="886.32" width="2.6" height="2.6" fill="#fff8c0" stroke="#dccb28" stroke-width="0.7"/>
<text x="115.44" y="910.34" font-size="9.63" text-anchor="middle" fill="#dccb28" textLength="4.71" lengthAdjust="spacingAndGlyphs" >1</text>
<text x="99.09" y="870.05" font-size="9.63" text-anchor="middle" fill="#dccb28" textLength="4.71" lengthAdjust="spacingAndGlyphs" >2</text>
<text x="104.93" y="857.20" font-size="9.63" text-anchor="middle" fill="#dccb28" textLength="4.71" lengthAdjust="spacingAndGlyphs" >3</text>
<text x="113.10" y="869.23" font-size="9.63" text-anchor="middle" fill="#dccb28" textLength="4.71" lengthAdjust="spacingAndGlyphs" >4</text>
<text x="130.62" y="865.38" font-size="9.63" text-anchor="middle" fill="#dccb28" textLength="4.71" lengthAdjust="spacingAndGlyphs" >5</text>
<text x="139.96" y="858.37" font-size="9.63" text-anchor="middle" fill="#dccb28" textLength="4.71" lengthAdjust="spacingAndGlyphs" >6</text>
<text x="146.39" y="845.52" font-size="9.63" text-anchor="middle" fill="#dccb28" textLength="4.71" lengthAdjust="spacingAndGlyphs" >7</text>
<text x="156.90" y="844.36" font-size="9.63" text-anchor="middle" fill="#dccb28" textLength="4.71" lengthAdjust="spacingAndGlyphs" >8</text>
<text x="167.41" y="846.69" font-size="9.63" text-anchor="middle" fill="#dccb28" textLength="4.71" lengthAdjust="spacingAndGlyphs" >9</text>
<text x="156.31" y="857.79" font-size="9.63" text-anchor="middle" fill="#dccb28" textLength="9.41" lengthAdjust="spacingAndGlyphs" >10</text>
<text x="166.24" y="865.38" font-size="9.63" text-anchor="middle" fill="#dccb28" textLength="9.41" lengthAdjust="spacingAndGlyphs" >11</text>
<text x="158.65" y="878.22" font-size="9.63" text-anchor="middle" fill="#dccb28" textLength="9.41" lengthAdjust="spacingAndGlyphs" >12</text>
<text x="155.15" y="869.46" font-size="9.63" text-anchor="middle" fill="#dccb28" textLength="9.41" lengthAdjust="spacingAndGlyphs" >13</text>
<text x="168.58" y="883.48" font-size="9.63" text-anchor="middle" fill="#dccb28" textLength="9.41" lengthAdjust="spacingAndGlyphs" >14</text>
<text x="158.65" y="899.25" font-size="9.63" text-anchor="middle" fill="#dccb28" textLength="9.41" lengthAdjust="spacingAndGlyphs" >15</text>
<text x="135.29" y="897.49" font-size="9.63" text-anchor="middle" fill="#dccb28" textLength="9.41" lengthAdjust="spacingAndGlyphs" >16</text>
<rect x="181.40" y="882.50" width="3.90" height="18.30" fill="url(#cbar)" />
<text x="178.20" y="878.40" font-size="8.74" textLength="19.63" lengthAdjust="spacingAndGlyphs" >100%</text>
<text x="180.50" y="910.50" font-size="8.74" textLength="11.09" lengthAdjust="spacingAndGlyphs" >0%</text>
<text x="188.50" y="892.80" font-size="8.48" text-anchor="middle" transform="rotate(90 188.50 892.80)" ><tspan font-style="italic">F</tspan>/<tspan font-style="italic">F</tspan><tspan font-size="5.5" dy="1.5">0</tspan></text>
<text x="16.70" y="925.00" font-size="9.24" textLength="169.1" lengthAdjust="spacingAndGlyphs" >Calblyte-650AM, cortical organoid, confocal</text>
<text x="17.70" y="938.50" font-size="9.24" textLength="56.71" lengthAdjust="spacingAndGlyphs" >Depth = 50 μm</text>
<text x="212.80" y="817.00" font-size="13" fill="#000" font-weight="bold" >p</text>
<text x="230.70" y="822.80" font-size="8.96" text-anchor="end" textLength="4.38" lengthAdjust="spacingAndGlyphs" >1</text>
<polyline points="234.50,817.18 235.20,816.95 235.90,817.47 236.60,818.44 237.30,819.12 238.00,819.96 238.70,820.58 239.40,821.11 240.10,821.95 240.80,822.30 241.50,822.06 242.20,822.40 242.90,822.29 243.60,822.74 244.30,822.52 245.00,822.37 245.70,822.65 246.40,822.25 247.10,822.28 247.80,822.76 248.50,822.76 249.20,822.48 249.90,822.26 250.60,822.57 251.30,822.66 252.00,822.54 252.70,822.76 253.40,822.65 254.10,822.53 254.80,822.50 255.50,822.65 256.20,822.65 256.90,822.66 257.60,822.52 258.30,822.62 259.00,822.76 259.70,822.31 260.40,822.47 261.10,822.42 261.80,822.66 262.50,822.20 263.20,822.24 263.90,822.58 264.60,822.36 265.30,821.96 266.00,821.69 266.70,821.17 267.40,820.93 268.10,820.08 268.80,819.49 269.50,819.03 270.20,818.31 270.90,817.79 271.60,817.71 272.30,818.08 273.00,818.45 273.70,819.36 274.40,819.92 275.10,820.29 275.80,821.10 276.50,821.72 277.20,821.87 277.90,822.03 278.60,822.21 279.30,822.47 280.00,822.48 280.70,822.47 281.40,822.34 282.10,822.48 282.80,822.56 283.50,822.51 284.20,822.76 284.90,822.75 285.60,822.39 286.30,822.23 287.00,822.45 287.70,822.56 288.40,822.68 289.10,822.50 289.80,822.23 290.50,822.35 291.20,822.48 291.90,822.30 292.60,822.65 293.30,822.49 294.00,822.25 294.70,822.46 295.40,822.52 296.10,822.63 296.80,822.47 297.50,822.25 298.20,822.77 298.90,822.34 299.60,822.32 300.30,822.28 301.00,822.36 301.70,822.31 302.40,822.44 303.10,822.37 303.80,822.36 304.50,822.42 305.20,821.73 305.90,821.56 306.60,821.29 307.30,820.54 308.00,819.89 308.70,819.27 309.40,818.67 310.10,818.11 310.80,817.84 311.50,817.91 312.20,818.32 312.90,819.09 313.60,819.63 314.30,820.35 315.00,820.76 315.70,821.14 316.40,821.59 317.10,821.89 317.80,822.07 318.50,822.50 319.20,822.24 319.90,822.37 320.60,822.72 321.30,822.76 322.00,822.77 322.70,822.36 323.40,822.64 324.10,822.72 324.80,822.43 325.50,822.59 326.20,822.74 326.90,822.69 327.60,822.48 328.30,822.68 329.00,822.63 329.70,822.38 330.40,822.53 331.10,822.60 331.80,822.51" fill="none" stroke="#111" stroke-width="1.2" />
<text x="230.70" y="830.71" font-size="8.96" text-anchor="end" textLength="4.38" lengthAdjust="spacingAndGlyphs" >2</text>
<polyline points="234.50,830.16 235.20,830.16 235.90,830.65 236.60,830.64 237.30,830.22 238.00,830.28 238.70,830.31 239.40,830.51 240.10,830.34 240.80,830.31 241.50,830.29 242.20,830.45 242.90,830.17 243.60,829.98 244.30,829.49 245.00,828.91 245.70,828.38 246.40,827.96 247.10,827.33 247.80,826.78 248.50,826.40 249.20,826.12 249.90,825.86 250.60,826.19 251.30,826.64 252.00,826.98 252.70,827.87 253.40,828.51 254.10,829.26 254.80,829.82 255.50,829.98 256.20,830.31 256.90,830.24 257.60,830.05 258.30,830.27 259.00,830.57 259.70,830.18 260.40,830.24 261.10,830.28 261.80,830.19 262.50,830.26 263.20,830.25 263.90,830.49 264.60,830.14 265.30,830.16 266.00,830.60 266.70,830.27 267.40,830.29 268.10,830.43 268.80,830.39 269.50,830.42 270.20,830.18 270.90,830.41 271.60,830.23 272.30,830.49 273.00,830.20 273.70,830.19 274.40,830.43 275.10,830.37 275.80,830.18 276.50,830.29 277.20,830.42 277.90,830.56 278.60,830.51 279.30,830.30 280.00,830.59 280.70,830.18 281.40,830.54 282.10,830.18 282.80,830.51 283.50,830.15 284.20,830.27 284.90,830.36 285.60,830.30 286.30,830.13 287.00,830.01 287.70,829.91 288.40,829.61 289.10,828.96 289.80,828.12 290.50,827.62 291.20,827.25 291.90,826.24 292.60,825.87 293.30,825.59 294.00,826.08 294.70,826.14 295.40,827.07 296.10,827.41 296.80,828.30 297.50,828.95 298.20,829.11 298.90,829.93 299.60,829.98 300.30,829.98 301.00,830.43 301.70,830.51 302.40,830.17 303.10,830.44 303.80,830.28 304.50,830.67 305.20,830.49 305.90,830.59 306.60,830.31 307.30,830.64 308.00,830.16 308.70,830.67 309.40,830.28 310.10,830.67 310.80,830.54 311.50,830.24 312.20,830.60 312.90,830.58 313.60,830.30 314.30,830.47 315.00,830.66 315.70,830.14 316.40,830.60 317.10,830.67 317.80,830.50 318.50,830.35 319.20,830.28 319.90,830.62 320.60,830.50 321.30,830.67 322.00,830.44 322.70,830.26 323.40,830.28 324.10,830.19 324.80,830.27 325.50,830.20 326.20,830.28 326.90,830.38 327.60,830.45 328.30,830.08 329.00,830.04 329.70,829.81 330.40,829.14 331.10,828.36 331.80,828.26" fill="none" stroke="#111" stroke-width="1.2" />
<text x="230.70" y="838.62" font-size="8.96" text-anchor="end" textLength="4.38" lengthAdjust="spacingAndGlyphs" >3</text>
<polyline points="234.50,838.46 235.20,838.30 235.90,838.39 236.60,838.26 237.30,838.25 238.00,838.56 238.70,838.59 239.40,838.13 240.10,838.45 240.80,838.47 241.50,838.05 242.20,838.34 242.90,838.13 243.60,838.33 244.30,838.24 245.00,838.51 245.70,838.24 246.40,838.11 247.10,838.30 247.80,838.18 248.50,838.21 249.20,838.53 249.90,838.12 250.60,838.17 251.30,838.26 252.00,838.31 252.70,837.71 253.40,837.74 254.10,837.36 254.80,836.97 255.50,836.72 256.20,836.23 256.90,836.13 257.60,835.55 258.30,835.44 259.00,834.96 259.70,834.90 260.40,835.35 261.10,835.48 261.80,835.69 262.50,835.61 263.20,836.27 263.90,836.55 264.60,837.10 265.30,837.31 266.00,837.66 266.70,837.90 267.40,837.93 268.10,838.05 268.80,837.96 269.50,838.14 270.20,838.04 270.90,838.10 271.60,838.04 272.30,838.22 273.00,838.50 273.70,838.12 274.40,838.06 275.10,838.10 275.80,838.28 276.50,838.20 277.20,838.48 277.90,838.14 278.60,838.28 279.30,838.44 280.00,838.56 280.70,838.12 281.40,838.05 282.10,838.55 282.80,838.15 283.50,838.37 284.20,838.51 284.90,838.43 285.60,838.17 286.30,838.11 287.00,838.57 287.70,838.26 288.40,838.57 289.10,838.20 289.80,838.41 290.50,838.11 291.20,838.05 291.90,838.32 292.60,838.04 293.30,838.43 294.00,838.55 294.70,838.26 295.40,838.58 296.10,838.49 296.80,838.37 297.50,838.26 298.20,838.51 298.90,838.57 299.60,838.12 300.30,838.42 301.00,838.07 301.70,838.10 302.40,838.39 303.10,838.34 303.80,838.31 304.50,838.24 305.20,838.27 305.90,838.29 306.60,838.25 307.30,838.08 308.00,838.32 308.70,838.36 309.40,838.20 310.10,838.46 310.80,838.43 311.50,838.06 312.20,838.31 312.90,838.29 313.60,838.59 314.30,838.37 315.00,838.28 315.70,838.58 316.40,838.26 317.10,838.25 317.80,838.56 318.50,838.25 319.20,838.34 319.90,838.22 320.60,838.40 321.30,838.21 322.00,838.19 322.70,838.58 323.40,838.56 324.10,838.22 324.80,838.06 325.50,838.46 326.20,838.34 326.90,838.27 327.60,838.42 328.30,838.40 329.00,838.42 329.70,838.39 330.40,838.27 331.10,838.43 331.80,838.39" fill="none" stroke="#111" stroke-width="1.2" />
<text x="230.70" y="846.53" font-size="8.96" text-anchor="end" textLength="4.38" lengthAdjust="spacingAndGlyphs" >4</text>
<polyline points="234.50,846.38 235.20,846.45 235.90,846.29 236.60,846.42 237.30,846.47 238.00,846.28 238.70,846.00 239.40,846.06 240.10,846.08 240.80,846.38 241.50,846.21 242.20,846.35 242.90,846.41 243.60,846.45 244.30,846.39 245.00,845.99 245.70,846.05 246.40,846.06 247.10,846.06 247.80,846.40 248.50,846.33 249.20,846.16 249.90,846.10 250.60,846.03 251.30,846.02 252.00,846.46 252.70,846.17 253.40,846.14 254.10,846.23 254.80,846.41 255.50,846.24 256.20,846.46 256.90,845.99 257.60,846.03 258.30,846.20 259.00,846.34 259.70,846.00 260.40,846.19 261.10,846.02 261.80,846.04 262.50,846.23 263.20,846.28 263.90,846.18 264.60,846.27 265.30,846.42 266.00,846.34 266.70,846.06 267.40,846.48 268.10,846.48 268.80,846.16 269.50,846.35 270.20,846.21 270.90,846.25 271.60,846.32 272.30,845.96 273.00,846.40 273.70,846.28 274.40,846.39 275.10,846.16 275.80,846.35 276.50,846.31 277.20,846.09 277.90,846.33 278.60,846.20 279.30,846.01 280.00,846.45 280.70,846.47 281.40,846.38 282.10,846.08 282.80,846.17 283.50,846.37 284.20,846.32 284.90,846.41 285.60,846.25 286.30,846.48 287.00,846.12 287.70,846.01 288.40,845.98 289.10,846.10 289.80,845.97 290.50,846.48 291.20,846.32 291.90,845.92 292.60,845.99 293.30,846.12 294.00,845.74 294.70,845.78 295.40,845.48 296.10,845.51 296.80,845.25 297.50,844.74 298.20,844.49 298.90,843.91 299.60,843.17 300.30,843.14 301.00,843.03 301.70,842.84 302.40,842.74 303.10,842.51 303.80,842.98 304.50,843.37 305.20,843.88 305.90,843.84 306.60,844.58 307.30,845.09 308.00,845.52 308.70,845.80 309.40,845.95 310.10,845.83 310.80,846.23 311.50,846.37 312.20,846.17 312.90,846.33 313.60,845.93 314.30,846.43 315.00,846.21 315.70,846.08 316.40,846.28 317.10,845.96 317.80,846.24 318.50,846.37 319.20,846.28 319.90,846.49 320.60,846.27 321.30,846.37 322.00,846.02 322.70,846.05 323.40,846.23 324.10,846.49 324.80,846.37 325.50,846.37 326.20,846.39 326.90,846.38 327.60,846.03 328.30,846.43 329.00,846.48 329.70,845.99 330.40,846.19 331.10,845.96 331.80,846.28" fill="none" stroke="#111" stroke-width="1.2" />
<text x="230.70" y="854.44" font-size="8.96" text-anchor="end" textLength="4.38" lengthAdjust="spacingAndGlyphs" >5</text>
<polyline points="234.50,854.07 235.20,854.01 235.90,853.98 236.60,853.90 237.30,854.01 238.00,853.91 238.70,854.40 239.40,854.16 240.10,853.90 240.80,854.06 241.50,853.92 242.20,854.35 242.90,854.16 243.60,854.28 244.30,854.12 245.00,854.10 245.70,854.41 246.40,854.30 247.10,854.26 247.80,853.91 248.50,853.99 249.20,854.33 249.90,853.98 250.60,854.34 251.30,854.08 252.00,854.35 252.70,854.42 253.40,853.93 254.10,854.30 254.80,854.30 255.50,853.87 256.20,853.93 256.90,854.26 257.60,853.89 258.30,854.12 259.00,854.04 259.70,854.30 260.40,853.90 261.10,854.03 261.80,853.88 262.50,853.92 263.20,854.25 263.90,854.22 264.60,854.32 265.30,854.34 266.00,854.38 266.70,854.25 267.40,854.07 268.10,854.35 268.80,853.83 269.50,853.65 270.20,853.02 270.90,851.92 271.60,851.50 272.30,851.54 273.00,852.00 273.70,852.69 274.40,853.73 275.10,853.63 275.80,854.33 276.50,853.98 277.20,853.95 277.90,854.41 278.60,853.98 279.30,854.21 280.00,854.10 280.70,854.41 281.40,854.39 282.10,854.32 282.80,853.89 283.50,854.31 284.20,854.00 284.90,853.90 285.60,853.88 286.30,854.17 287.00,854.03 287.70,853.64 288.40,853.02 289.10,852.85 289.80,852.18 290.50,852.25 291.20,852.66 291.90,853.65 292.60,853.55 293.30,854.24 294.00,854.19 294.70,854.07 295.40,853.91 296.10,854.23 296.80,853.91 297.50,854.12 298.20,854.24 298.90,854.24 299.60,854.32 300.30,854.37 301.00,854.33 301.70,854.04 302.40,853.87 303.10,854.33 303.80,854.39 304.50,853.87 305.20,854.12 305.90,854.19 306.60,854.28 307.30,854.09 308.00,853.96 308.70,854.16 309.40,854.18 310.10,854.39 310.80,853.91 311.50,854.40 312.20,854.14 312.90,853.95 313.60,854.34 314.30,854.01 315.00,853.89 315.70,854.07 316.40,853.98 317.10,854.36 317.80,854.18 318.50,854.33 319.20,853.95 319.90,854.25 320.60,854.17 321.30,853.86 322.00,853.95 322.70,853.88 323.40,854.17 324.10,854.15 324.80,854.01 325.50,854.15 326.20,854.26 326.90,854.19 327.60,854.34 328.30,854.21 329.00,853.87 329.70,853.89 330.40,854.07 331.10,854.14 331.80,854.23" fill="none" stroke="#111" stroke-width="1.2" />
<text x="230.70" y="862.35" font-size="8.96" text-anchor="end" textLength="4.38" lengthAdjust="spacingAndGlyphs" >6</text>
<polyline points="234.50,861.89 235.20,861.87 235.90,862.06 236.60,862.18 237.30,862.33 238.00,861.96 238.70,862.07 239.40,861.91 240.10,862.12 240.80,861.90 241.50,862.18 242.20,861.88 242.90,861.92 243.60,862.10 244.30,862.03 245.00,861.95 245.70,862.22 246.40,862.01 247.10,861.85 247.80,862.06 248.50,861.57 249.20,861.22 249.90,860.43 250.60,859.72 251.30,858.76 252.00,857.54 252.70,857.29 253.40,857.93 254.10,859.06 254.80,860.10 255.50,860.78 256.20,861.59 256.90,861.56 257.60,861.92 258.30,862.19 259.00,861.96 259.70,862.13 260.40,861.81 261.10,861.82 261.80,862.04 262.50,861.97 263.20,861.94 263.90,861.88 264.60,861.79 265.30,862.31 266.00,862.13 266.70,861.99 267.40,862.16 268.10,862.00 268.80,862.28 269.50,861.84 270.20,862.04 270.90,862.26 271.60,861.96 272.30,862.15 273.00,862.22 273.70,862.06 274.40,862.25 275.10,862.21 275.80,861.85 276.50,861.94 277.20,862.32 277.90,861.90 278.60,862.32 279.30,862.14 280.00,861.81 280.70,861.94 281.40,862.02 282.10,861.75 282.80,861.31 283.50,860.73 284.20,859.31 284.90,858.88 285.60,858.06 286.30,857.83 287.00,858.58 287.70,859.18 288.40,860.54 289.10,860.90 289.80,861.42 290.50,861.79 291.20,861.78 291.90,862.06 292.60,861.86 293.30,861.89 294.00,862.04 294.70,862.07 295.40,861.94 296.10,862.10 296.80,862.28 297.50,861.91 298.20,862.18 298.90,862.06 299.60,861.89 300.30,862.23 301.00,862.31 301.70,862.26 302.40,862.00 303.10,862.13 303.80,862.18 304.50,862.08 305.20,861.81 305.90,862.19 306.60,862.10 307.30,861.84 308.00,861.99 308.70,862.18 309.40,862.06 310.10,862.06 310.80,862.25 311.50,862.11 312.20,862.15 312.90,861.84 313.60,862.02 314.30,861.64 315.00,861.08 315.70,860.46 316.40,859.93 317.10,858.96 317.80,858.56 318.50,858.48 319.20,858.92 319.90,859.57 320.60,860.34 321.30,861.37 322.00,861.96 322.70,861.93 323.40,862.25 324.10,862.30 324.80,861.90 325.50,862.26 326.20,861.93 326.90,862.13 327.60,861.81 328.30,861.85 329.00,862.29 329.70,862.22 330.40,861.80 331.10,861.99 331.80,862.09" fill="none" stroke="#111" stroke-width="1.2" />
<text x="230.70" y="870.26" font-size="8.96" text-anchor="end" textLength="4.38" lengthAdjust="spacingAndGlyphs" >7</text>
<polyline points="234.50,870.06 235.20,870.15 235.90,869.88 236.60,870.20 237.30,869.94 238.00,870.03 238.70,870.20 239.40,869.96 240.10,870.22 240.80,870.00 241.50,870.20 242.20,870.19 242.90,870.00 243.60,869.78 244.30,870.17 245.00,870.11 245.70,869.89 246.40,869.71 247.10,869.92 247.80,870.02 248.50,869.70 249.20,870.21 249.90,869.76 250.60,870.08 251.30,870.16 252.00,870.17 252.70,870.07 253.40,869.79 254.10,870.14 254.80,869.91 255.50,869.88 256.20,870.03 256.90,869.93 257.60,870.20 258.30,869.70 259.00,868.44 259.70,866.99 260.40,865.95 261.10,865.02 261.80,864.95 262.50,865.12 263.20,865.29 263.90,865.10 264.60,865.25 265.30,865.59 266.00,865.49 266.70,865.61 267.40,865.50 268.10,865.67 268.80,866.00 269.50,865.71 270.20,866.27 270.90,866.20 271.60,866.10 272.30,866.52 273.00,866.42 273.70,866.76 274.40,866.50 275.10,866.54 275.80,866.73 276.50,866.65 277.20,867.05 277.90,866.93 278.60,867.07 279.30,867.17 280.00,867.33 280.70,867.20 281.40,867.24 282.10,867.58 282.80,867.57 283.50,867.99 284.20,867.72 284.90,867.84 285.60,867.74 286.30,867.92 287.00,868.31 287.70,868.34 288.40,868.27 289.10,868.72 289.80,868.56 290.50,868.81 291.20,868.93 291.90,869.05 292.60,868.75 293.30,869.19 294.00,869.21 294.70,869.22 295.40,869.05 296.10,869.57 296.80,869.46 297.50,869.49 298.20,869.39 298.90,869.52 299.60,869.58 300.30,869.99 301.00,870.01 301.70,870.04 302.40,869.75 303.10,869.71 303.80,870.15 304.50,870.14 305.20,870.11 305.90,870.11 306.60,869.97 307.30,869.91 308.00,870.09 308.70,869.05 309.40,867.64 310.10,866.49 310.80,865.20 311.50,864.71 312.20,864.95 312.90,865.13 313.60,865.16 314.30,865.22 315.00,865.65 315.70,865.27 316.40,865.43 317.10,865.46 317.80,865.60 318.50,865.91 319.20,865.99 319.90,866.24 320.60,866.04 321.30,866.44 322.00,866.53 322.70,866.54 323.40,866.66 324.10,866.65 324.80,866.89 325.50,867.01 326.20,867.02 326.90,867.13 327.60,867.08 328.30,867.35 329.00,866.97 329.70,867.20 330.40,867.55 331.10,867.58 331.80,867.62" fill="none" stroke="#111" stroke-width="1.2" />
<text x="230.70" y="878.17" font-size="8.96" text-anchor="end" textLength="4.38" lengthAdjust="spacingAndGlyphs" >8</text>
<polyline points="234.50,878.02 235.20,877.61 235.90,878.08 236.60,877.76 237.30,878.10 238.00,878.01 238.70,877.59 239.40,878.03 240.10,877.79 240.80,877.89 241.50,877.90 242.20,877.87 242.90,878.04 243.60,877.69 244.30,878.10 245.00,878.02 245.70,878.13 246.40,878.00 247.10,877.92 247.80,877.65 248.50,877.94 249.20,878.08 249.90,878.00 250.60,877.60 251.30,878.11 252.00,877.80 252.70,877.94 253.40,877.78 254.10,877.96 254.80,877.76 255.50,877.87 256.20,877.79 256.90,877.65 257.60,877.82 258.30,878.07 259.00,878.11 259.70,877.62 260.40,877.88 261.10,878.04 261.80,877.62 262.50,877.82 263.20,877.72 263.90,877.59 264.60,877.83 265.30,877.59 266.00,876.96 266.70,876.84 267.40,875.77 268.10,875.32 268.80,874.24 269.50,873.73 270.20,873.50 270.90,873.90 271.60,874.75 272.30,875.74 273.00,876.54 273.70,876.95 274.40,877.38 275.10,877.88 275.80,877.55 276.50,877.83 277.20,877.75 277.90,878.02 278.60,878.01 279.30,878.14 280.00,877.96 280.70,878.00 281.40,877.91 282.10,877.94 282.80,877.69 283.50,877.65 284.20,878.05 284.90,877.93 285.60,878.05 286.30,877.78 287.00,877.61 287.70,878.03 288.40,877.72 289.10,877.98 289.80,878.14 290.50,877.72 291.20,877.96 291.90,878.05 292.60,877.91 293.30,878.02 294.00,877.92 294.70,877.89 295.40,877.88 296.10,877.73 296.80,877.78 297.50,877.66 298.20,877.27 298.90,876.66 299.60,875.68 300.30,874.94 301.00,874.00 301.70,873.77 302.40,873.69 303.10,873.99 303.80,875.22 304.50,876.07 305.20,876.74 305.90,877.17 306.60,877.43 307.30,877.55 308.00,877.88 308.70,877.59 309.40,878.13 310.10,877.68 310.80,878.03 311.50,877.66 312.20,878.13 312.90,877.61 313.60,877.73 314.30,877.60 315.00,877.83 315.70,878.05 316.40,877.61 317.10,877.90 317.80,878.10 318.50,877.81 319.20,877.87 319.90,877.88 320.60,878.06 321.30,878.08 322.00,877.83 322.70,877.90 323.40,878.08 324.10,877.90 324.80,877.75 325.50,877.75 326.20,877.89 326.90,877.93 327.60,877.95 328.30,878.02 329.00,878.04 329.70,877.90 330.40,878.09 331.10,877.75 331.80,877.76" fill="none" stroke="#111" stroke-width="1.2" />
<text x="230.70" y="886.08" font-size="8.96" text-anchor="end" textLength="4.38" lengthAdjust="spacingAndGlyphs" >9</text>
<polyline points="234.50,882.93 235.20,883.70 235.90,884.53 236.60,884.71 237.30,885.58 238.00,885.55 238.70,885.46 239.40,885.97 240.10,885.74 240.80,885.71 241.50,886.03 242.20,885.85 242.90,885.67 243.60,885.81 244.30,885.65 245.00,885.97 245.70,885.92 246.40,885.98 247.10,885.74 247.80,885.48 248.50,885.59 249.20,885.37 249.90,885.39 250.60,884.90 251.30,884.84 252.00,884.20 252.70,883.35 253.40,882.64 254.10,882.15 254.80,881.80 255.50,881.38 256.20,881.35 256.90,881.53 257.60,881.69 258.30,882.64 259.00,882.95 259.70,883.62 260.40,884.65 261.10,884.94 261.80,885.22 262.50,885.71 263.20,885.64 263.90,885.46 264.60,885.95 265.30,885.71 266.00,885.98 266.70,885.73 267.40,885.56 268.10,885.93 268.80,886.03 269.50,885.96 270.20,885.66 270.90,885.85 271.60,885.65 272.30,885.18 273.00,884.58 273.70,884.38 274.40,883.79 275.10,882.98 275.80,882.61 276.50,881.74 277.20,881.54 277.90,881.12 278.60,881.03 279.30,881.89 280.00,882.17 280.70,882.80 281.40,883.74 282.10,884.30 282.80,884.42 283.50,884.81 284.20,885.57 284.90,885.43 285.60,885.41 286.30,885.86 287.00,885.69 287.70,886.02 288.40,885.85 289.10,885.68 289.80,885.73 290.50,885.63 291.20,886.00 291.90,885.86 292.60,885.56 293.30,885.69 294.00,885.72 294.70,885.67 295.40,885.21 296.10,885.22 296.80,885.20 297.50,884.32 298.20,884.01 298.90,883.29 299.60,882.73 300.30,881.97 301.00,881.56 301.70,881.43 302.40,881.15 303.10,881.73 303.80,881.87 304.50,882.93 305.20,883.20 305.90,883.83 306.60,884.56 307.30,884.87 308.00,885.43 308.70,885.37 309.40,885.67 310.10,885.85 310.80,885.49 311.50,885.82 312.20,885.84 312.90,885.58 313.60,885.85 314.30,885.67 315.00,885.93 315.70,885.53 316.40,885.79 317.10,885.79 317.80,885.10 318.50,885.27 319.20,884.44 319.90,883.90 320.60,883.49 321.30,883.13 322.00,882.44 322.70,881.80 323.40,881.34 324.10,881.12 324.80,881.10 325.50,881.86 326.20,882.58 326.90,883.03 327.60,883.93 328.30,884.56 329.00,884.78 329.70,885.07 330.40,885.66 331.10,885.61 331.80,885.56" fill="none" stroke="#111" stroke-width="1.2" />
<text x="230.70" y="893.99" font-size="8.96" text-anchor="end" textLength="8.76" lengthAdjust="spacingAndGlyphs" >10</text>
<polyline points="234.50,893.65 235.20,893.73 235.90,893.65 236.60,893.85 237.30,893.52 238.00,893.51 238.70,893.61 239.40,893.88 240.10,893.68 240.80,893.79 241.50,893.83 242.20,893.44 242.90,893.42 243.60,893.94 244.30,893.49 245.00,893.63 245.70,893.76 246.40,893.81 247.10,893.59 247.80,893.71 248.50,893.59 249.20,893.60 249.90,893.89 250.60,893.54 251.30,893.42 252.00,893.43 252.70,893.63 253.40,893.94 254.10,893.96 254.80,893.89 255.50,893.45 256.20,893.80 256.90,893.76 257.60,893.47 258.30,893.79 259.00,893.66 259.70,893.73 260.40,893.93 261.10,893.64 261.80,893.50 262.50,893.88 263.20,893.84 263.90,893.72 264.60,893.92 265.30,893.64 266.00,893.43 266.70,893.46 267.40,893.43 268.10,893.12 268.80,893.31 269.50,892.80 270.20,892.56 270.90,892.01 271.60,891.78 272.30,890.88 273.00,890.70 273.70,890.15 274.40,889.37 275.10,888.99 275.80,889.13 276.50,889.18 277.20,889.49 277.90,889.83 278.60,890.12 279.30,890.89 280.00,891.47 280.70,891.81 281.40,892.44 282.10,892.57 282.80,892.79 283.50,893.05 284.20,893.39 284.90,893.58 285.60,893.61 286.30,893.90 287.00,893.54 287.70,893.76 288.40,893.78 289.10,893.92 289.80,893.72 290.50,893.64 291.20,893.75 291.90,893.49 292.60,893.59 293.30,893.83 294.00,893.68 294.70,893.46 295.40,893.68 296.10,893.63 296.80,893.93 297.50,893.70 298.20,893.71 298.90,893.74 299.60,893.73 300.30,893.64 301.00,893.67 301.70,893.70 302.40,893.87 303.10,893.72 303.80,893.43 304.50,893.74 305.20,893.95 305.90,893.96 306.60,893.67 307.30,893.94 308.00,893.91 308.70,893.91 309.40,893.72 310.10,893.42 310.80,893.70 311.50,893.71 312.20,893.73 312.90,893.69 313.60,893.72 314.30,893.57 315.00,893.47 315.70,893.58 316.40,893.73 317.10,893.61 317.80,893.46 318.50,893.88 319.20,893.83 319.90,893.62 320.60,893.59 321.30,893.61 322.00,893.64 322.70,893.51 323.40,893.69 324.10,893.50 324.80,893.38 325.50,893.58 326.20,893.17 326.90,892.93 327.60,892.33 328.30,892.10 329.00,890.81 329.70,890.11 330.40,889.46 331.10,889.29 331.80,889.95" fill="none" stroke="#111" stroke-width="1.2" />
<text x="230.70" y="901.90" font-size="8.96" text-anchor="end" textLength="8.76" lengthAdjust="spacingAndGlyphs" >11</text>
<polyline points="234.50,901.63 235.20,901.57 235.90,901.37 236.60,901.62 237.30,901.59 238.00,901.53 238.70,901.72 239.40,901.47 240.10,901.24 240.80,900.86 241.50,900.76 242.20,899.98 242.90,899.29 243.60,898.10 244.30,897.57 245.00,897.71 245.70,897.41 246.40,898.01 247.10,898.98 247.80,899.80 248.50,900.73 249.20,901.28 249.90,901.30 250.60,901.72 251.30,901.72 252.00,901.72 252.70,901.85 253.40,901.62 254.10,901.63 254.80,901.41 255.50,901.59 256.20,901.52 256.90,901.60 257.60,901.51 258.30,901.62 259.00,901.72 259.70,901.33 260.40,901.33 261.10,901.41 261.80,901.49 262.50,901.70 263.20,901.75 263.90,901.72 264.60,901.84 265.30,901.45 266.00,901.65 266.70,901.41 267.40,901.66 268.10,901.35 268.80,901.41 269.50,901.88 270.20,901.76 270.90,901.37 271.60,901.62 272.30,901.33 273.00,901.66 273.70,901.83 274.40,901.51 275.10,901.37 275.80,901.48 276.50,901.15 277.20,900.26 277.90,898.96 278.60,898.36 279.30,898.66 280.00,899.23 280.70,900.26 281.40,901.08 282.10,901.14 282.80,901.69 283.50,901.55 284.20,901.63 284.90,901.77 285.60,901.47 286.30,901.80 287.00,901.52 287.70,901.81 288.40,901.64 289.10,901.76 289.80,901.73 290.50,901.34 291.20,901.43 291.90,901.71 292.60,901.39 293.30,901.76 294.00,901.66 294.70,901.40 295.40,901.52 296.10,901.82 296.80,901.33 297.50,901.76 298.20,901.73 298.90,901.45 299.60,901.69 300.30,901.71 301.00,901.83 301.70,901.82 302.40,901.55 303.10,901.72 303.80,901.49 304.50,901.53 305.20,901.31 305.90,900.71 306.60,900.46 307.30,899.72 308.00,898.74 308.70,898.34 309.40,897.81 310.10,897.24 310.80,897.57 311.50,898.51 312.20,899.35 312.90,899.84 313.60,900.38 314.30,901.24 315.00,901.09 315.70,901.28 316.40,901.50 317.10,901.63 317.80,901.81 318.50,901.85 319.20,901.34 319.90,901.74 320.60,901.49 321.30,901.73 322.00,901.42 322.70,901.55 323.40,901.71 324.10,901.78 324.80,901.48 325.50,901.84 326.20,901.75 326.90,901.57 327.60,901.41 328.30,901.54 329.00,901.72 329.70,901.37 330.40,901.76 331.10,901.87 331.80,901.73" fill="none" stroke="#111" stroke-width="1.2" />
<text x="230.70" y="909.81" font-size="8.96" text-anchor="end" textLength="8.76" lengthAdjust="spacingAndGlyphs" >12</text>
<polyline points="234.50,909.52 235.20,909.42 235.90,909.42 236.60,909.71 237.30,909.77 238.00,909.56 238.70,909.58 239.40,909.20 240.10,909.09 240.80,908.81 241.50,908.30 242.20,907.50 242.90,906.89 243.60,905.84 244.30,905.34 245.00,904.69 245.70,905.40 246.40,905.63 247.10,906.93 247.80,907.48 248.50,908.42 249.20,908.91 249.90,909.00 250.60,909.63 251.30,909.70 252.00,909.26 252.70,909.50 253.40,909.73 254.10,909.24 254.80,909.26 255.50,909.72 256.20,909.55 256.90,909.71 257.60,909.61 258.30,909.44 259.00,909.70 259.70,909.40 260.40,909.76 261.10,909.69 261.80,909.34 262.50,909.56 263.20,909.55 263.90,909.46 264.60,909.52 265.30,909.57 266.00,909.77 266.70,909.39 267.40,909.25 268.10,909.25 268.80,909.42 269.50,909.59 270.20,909.58 270.90,909.40 271.60,909.40 272.30,909.69 273.00,909.57 273.70,909.38 274.40,909.07 275.10,908.49 275.80,908.04 276.50,907.47 277.20,906.12 277.90,905.53 278.60,904.98 279.30,905.11 280.00,905.43 280.70,906.24 281.40,906.93 282.10,908.15 282.80,908.56 283.50,909.20 284.20,909.17 284.90,909.67 285.60,909.60 286.30,909.58 287.00,909.43 287.70,909.76 288.40,909.53 289.10,909.67 289.80,909.63 290.50,909.52 291.20,909.26 291.90,909.52 292.60,909.26 293.30,909.69 294.00,909.28 294.70,909.58 295.40,909.68 296.10,909.37 296.80,909.28 297.50,909.78 298.20,909.64 298.90,909.36 299.60,909.60 300.30,909.65 301.00,909.78 301.70,909.76 302.40,909.44 303.10,909.22 303.80,909.17 304.50,909.35 305.20,909.42 305.90,908.90 306.60,908.08 307.30,907.28 308.00,906.48 308.70,905.85 309.40,905.08 310.10,904.93 310.80,905.16 311.50,906.06 312.20,906.58 312.90,907.49 313.60,908.61 314.30,909.04 315.00,909.02 315.70,909.51 316.40,909.22 317.10,909.48 317.80,909.40 318.50,909.40 319.20,909.67 319.90,909.63 320.60,909.65 321.30,909.41 322.00,909.40 322.70,909.71 323.40,909.30 324.10,909.55 324.80,909.65 325.50,909.55 326.20,909.25 326.90,909.48 327.60,909.44 328.30,909.28 329.00,909.25 329.70,909.37 330.40,909.56 331.10,909.46 331.80,909.29" fill="none" stroke="#111" stroke-width="1.2" />
<text x="230.70" y="917.72" font-size="8.96" text-anchor="end" textLength="8.76" lengthAdjust="spacingAndGlyphs" >13</text>
<polyline points="234.50,917.55 235.20,917.32 235.90,917.32 236.60,917.23 237.30,917.59 238.00,917.57 238.70,917.61 239.40,917.57 240.10,917.29 240.80,917.62 241.50,917.40 242.20,917.58 242.90,917.53 243.60,917.46 244.30,917.23 245.00,917.36 245.70,917.69 246.40,917.54 247.10,917.62 247.80,917.22 248.50,917.25 249.20,917.25 249.90,917.24 250.60,917.28 251.30,917.17 252.00,917.26 252.70,917.55 253.40,917.23 254.10,917.43 254.80,917.28 255.50,917.38 256.20,917.46 256.90,917.49 257.60,917.46 258.30,917.52 259.00,917.62 259.70,917.20 260.40,917.13 261.10,916.83 261.80,916.60 262.50,916.04 263.20,915.09 263.90,914.59 264.60,913.74 265.30,913.82 266.00,914.46 266.70,915.27 267.40,915.94 268.10,916.77 268.80,917.08 269.50,917.22 270.20,917.43 270.90,917.61 271.60,917.42 272.30,917.57 273.00,917.57 273.70,917.59 274.40,917.49 275.10,917.66 275.80,917.34 276.50,917.17 277.20,917.48 277.90,917.30 278.60,917.18 279.30,917.67 280.00,917.62 280.70,917.25 281.40,917.23 282.10,917.34 282.80,917.61 283.50,917.47 284.20,917.22 284.90,917.21 285.60,917.25 286.30,917.58 287.00,917.21 287.70,917.45 288.40,917.18 289.10,917.30 289.80,916.44 290.50,916.01 291.20,915.11 291.90,914.55 292.60,913.77 293.30,913.75 294.00,914.23 294.70,915.18 295.40,915.83 296.10,916.72 296.80,917.17 297.50,917.46 298.20,917.27 298.90,917.62 299.60,917.57 300.30,917.66 301.00,917.34 301.70,917.39 302.40,917.40 303.10,917.67 303.80,917.45 304.50,917.51 305.20,917.64 305.90,917.69 306.60,917.15 307.30,917.63 308.00,917.53 308.70,917.55 309.40,917.37 310.10,917.65 310.80,917.44 311.50,917.49 312.20,917.24 312.90,917.69 313.60,917.51 314.30,917.42 315.00,917.16 315.70,917.41 316.40,917.43 317.10,917.33 317.80,917.53 318.50,917.67 319.20,917.40 319.90,917.14 320.60,917.14 321.30,917.19 322.00,916.56 322.70,915.85 323.40,915.42 324.10,914.54 324.80,914.30 325.50,914.47 326.20,914.98 326.90,915.78 327.60,916.41 328.30,917.11 329.00,917.23 329.70,917.55 330.40,917.25 331.10,917.36 331.80,917.69" fill="none" stroke="#111" stroke-width="1.2" />
<text x="230.70" y="925.63" font-size="8.96" text-anchor="end" textLength="8.76" lengthAdjust="spacingAndGlyphs" >14</text>
<polyline points="234.50,921.41 235.20,921.16 235.90,921.42 236.60,921.62 237.30,922.43 238.00,922.93 238.70,923.16 239.40,923.66 240.10,924.26 240.80,924.38 241.50,924.80 242.20,924.79 242.90,925.29 243.60,925.33 244.30,925.02 245.00,925.36 245.70,925.43 246.40,925.15 247.10,925.25 247.80,925.52 248.50,925.30 249.20,925.24 249.90,925.51 250.60,925.25 251.30,925.54 252.00,925.42 252.70,925.56 253.40,925.49 254.10,925.07 254.80,925.38 255.50,925.06 256.20,925.36 256.90,925.27 257.60,925.12 258.30,925.23 259.00,925.54 259.70,925.28 260.40,925.26 261.10,925.51 261.80,925.55 262.50,925.12 263.20,925.32 263.90,925.50 264.60,925.36 265.30,925.49 266.00,925.17 266.70,925.33 267.40,925.55 268.10,925.15 268.80,925.56 269.50,925.45 270.20,925.59 270.90,925.20 271.60,925.54 272.30,925.32 273.00,925.55 273.70,925.34 274.40,925.23 275.10,925.31 275.80,925.35 276.50,925.32 277.20,925.33 277.90,925.20 278.60,925.40 279.30,925.07 280.00,924.99 280.70,924.33 281.40,923.86 282.10,923.79 282.80,923.10 283.50,922.11 284.20,921.53 284.90,921.33 285.60,920.66 286.30,920.51 287.00,921.05 287.70,921.57 288.40,922.08 289.10,922.56 289.80,923.59 290.50,924.14 291.20,924.65 291.90,924.74 292.60,925.04 293.30,925.30 294.00,925.31 294.70,925.55 295.40,925.42 296.10,925.06 296.80,925.28 297.50,925.45 298.20,925.09 298.90,925.41 299.60,925.47 300.30,925.59 301.00,925.53 301.70,925.50 302.40,925.48 303.10,925.12 303.80,925.46 304.50,925.47 305.20,925.27 305.90,925.10 306.60,925.45 307.30,925.19 308.00,925.40 308.70,925.30 309.40,925.28 310.10,925.09 310.80,925.19 311.50,925.33 312.20,925.14 312.90,925.40 313.60,925.39 314.30,925.08 315.00,925.30 315.70,925.18 316.40,925.43 317.10,925.10 317.80,925.27 318.50,925.47 319.20,925.09 319.90,925.35 320.60,925.42 321.30,925.46 322.00,925.55 322.70,925.50 323.40,925.22 324.10,925.53 324.80,925.46 325.50,925.36 326.20,925.31 326.90,925.40 327.60,925.17 328.30,925.46 329.00,925.40 329.70,925.37 330.40,925.53 331.10,925.48 331.80,925.53" fill="none" stroke="#111" stroke-width="1.2" />
<text x="230.70" y="933.54" font-size="8.96" text-anchor="end" textLength="8.76" lengthAdjust="spacingAndGlyphs" >15</text>
<polyline points="234.50,932.98 235.20,933.51 235.90,933.11 236.60,933.42 237.30,932.96 238.00,933.46 238.70,932.92 239.40,932.86 240.10,932.45 240.80,931.84 241.50,931.52 242.20,930.59 242.90,929.58 243.60,929.30 244.30,929.28 245.00,929.75 245.70,930.18 246.40,931.05 247.10,931.86 247.80,932.73 248.50,932.69 249.20,933.08 249.90,933.28 250.60,933.10 251.30,932.93 252.00,932.75 252.70,931.89 253.40,931.21 254.10,930.21 254.80,929.27 255.50,929.04 256.20,929.28 256.90,929.59 257.60,930.35 258.30,931.50 259.00,931.96 259.70,932.97 260.40,933.18 261.10,933.29 261.80,932.89 262.50,932.93 263.20,932.68 263.90,932.49 264.60,931.72 265.30,930.67 266.00,930.24 266.70,929.56 267.40,929.35 268.10,929.37 268.80,929.83 269.50,930.85 270.20,931.77 270.90,932.37 271.60,932.98 272.30,932.79 273.00,933.21 273.70,933.26 274.40,933.09 275.10,932.52 275.80,932.31 276.50,931.27 277.20,930.72 277.90,929.83 278.60,929.46 279.30,928.90 280.00,929.34 280.70,930.27 281.40,931.34 282.10,931.93 282.80,932.59 283.50,932.70 284.20,932.84 284.90,933.00 285.60,933.21 286.30,933.17 287.00,932.36 287.70,931.78 288.40,931.44 289.10,930.38 289.80,929.61 290.50,928.88 291.20,929.44 291.90,929.93 292.60,930.31 293.30,931.34 294.00,932.14 294.70,932.49 295.40,932.90 296.10,933.00 296.80,933.27 297.50,933.28 298.20,933.12 298.90,932.54 299.60,931.74 300.30,931.07 301.00,930.22 301.70,929.36 302.40,928.99 303.10,929.23 303.80,930.01 304.50,930.58 305.20,931.44 305.90,932.07 306.60,932.54 307.30,933.28 308.00,933.03 308.70,933.21 309.40,933.07 310.10,932.74 310.80,932.49 311.50,931.74 312.20,930.49 312.90,930.00 313.60,929.06 314.30,929.00 315.00,929.53 315.70,930.23 316.40,930.95 317.10,931.71 317.80,932.53 318.50,933.09 319.20,933.24 319.90,932.93 320.60,932.98 321.30,933.17 322.00,932.46 322.70,932.08 323.40,931.47 324.10,930.28 324.80,929.90 325.50,929.41 326.20,929.23 326.90,929.46 327.60,930.35 328.30,931.26 329.00,931.80 329.70,932.64 330.40,932.77 331.10,933.38 331.80,933.03" fill="none" stroke="#111" stroke-width="1.2" />
<text x="230.70" y="941.45" font-size="8.96" text-anchor="end" textLength="8.76" lengthAdjust="spacingAndGlyphs" >16</text>
<polyline points="234.50,936.17 235.20,936.37 235.90,937.13 236.60,938.08 237.30,939.08 238.00,939.77 238.70,940.57 239.40,940.72 240.10,941.27 240.80,941.20 241.50,941.22 242.20,941.34 242.90,941.01 243.60,941.25 244.30,940.99 245.00,940.90 245.70,941.29 246.40,940.93 247.10,940.98 247.80,941.06 248.50,941.41 249.20,941.17 249.90,941.08 250.60,941.26 251.30,941.30 252.00,941.25 252.70,941.28 253.40,940.99 254.10,941.23 254.80,941.19 255.50,941.07 256.20,940.90 256.90,941.26 257.60,941.40 258.30,940.89 259.00,940.97 259.70,940.99 260.40,941.14 261.10,941.30 261.80,941.34 262.50,941.26 263.20,941.17 263.90,941.39 264.60,941.04 265.30,941.02 266.00,941.42 266.70,940.96 267.40,941.15 268.10,940.92 268.80,941.16 269.50,940.99 270.20,941.18 270.90,941.09 271.60,941.15 272.30,941.41 273.00,941.35 273.70,941.30 274.40,941.20 275.10,941.22 275.80,941.13 276.50,941.06 277.20,941.21 277.90,941.25 278.60,941.14 279.30,940.90 280.00,940.99 280.70,941.06 281.40,940.98 282.10,941.30 282.80,941.37 283.50,941.37 284.20,941.36 284.90,941.42 285.60,941.08 286.30,940.92 287.00,941.36 287.70,941.05 288.40,940.91 289.10,941.00 289.80,941.34 290.50,941.07 291.20,941.28 291.90,941.33 292.60,941.42 293.30,941.14 294.00,940.92 294.70,941.37 295.40,941.34 296.10,941.21 296.80,941.40 297.50,941.17 298.20,941.02 298.90,941.17 299.60,941.40 300.30,941.41 301.00,941.32 301.70,941.06 302.40,940.92 303.10,941.15 303.80,941.37 304.50,941.31 305.20,941.20 305.90,941.37 306.60,941.36 307.30,941.19 308.00,940.96 308.70,941.29 309.40,940.94 310.10,940.94 310.80,941.19 311.50,941.30 312.20,941.32 312.90,941.06 313.60,940.97 314.30,940.95 315.00,941.31 315.70,941.19 316.40,941.41 317.10,941.26 317.80,941.26 318.50,941.36 319.20,941.38 319.90,940.88 320.60,941.26 321.30,941.15 322.00,941.13 322.70,941.17 323.40,941.10 324.10,941.15 324.80,941.16 325.50,941.38 326.20,941.08 326.90,941.06 327.60,941.03 328.30,941.25 329.00,941.17 329.70,940.98 330.40,941.02 331.10,941.40 331.80,941.24" fill="none" stroke="#111" stroke-width="1.2" />
<line x1="336.40" y1="819.20" x2="336.40" y2="941.80" stroke="#222" stroke-width="0.8" stroke-dasharray="2.2 2.2"/>
<text x="341.60" y="941.90" font-size="9.41" textLength="16.54" lengthAdjust="spacingAndGlyphs" >10%</text>
<rect x="322.60" y="942.60" width="7.60" height="2.20" fill="#000" />
<text x="326.50" y="952.50" font-size="9.41" text-anchor="middle" textLength="16.09" lengthAdjust="spacingAndGlyphs" >10 s</text>
<text x="393.00" y="817.30" font-size="13" fill="#000" font-weight="bold" >q</text>
<text x="543.40" y="826.60" font-size="10.53" text-anchor="middle" textLength="72.76" lengthAdjust="spacingAndGlyphs" >Refractive index</text>
<text x="392.50" y="837.90" font-size="10.53" textLength="52.91" lengthAdjust="spacingAndGlyphs" >Intracellular</text>
<text x="392.50" y="851.00" font-size="10.53" textLength="55.94" lengthAdjust="spacingAndGlyphs" >Extracellular</text>
<rect x="539.40" y="831.00" width="8.50" height="8.90" fill="#7ea6e6" />
<rect x="456.60" y="843.20" width="187.00" height="8.20" fill="url(#rigrad)" />
<line x1="456.60" y1="843.20" x2="456.60" y2="851.40" stroke="#222" stroke-width="0.7" stroke-dasharray="1.2 0.8"/>
<line x1="539.20" y1="843.20" x2="539.20" y2="851.40" stroke="#222" stroke-width="0.7" stroke-dasharray="1.2 0.8"/>
<line x1="547.20" y1="843.20" x2="547.20" y2="851.40" stroke="#222" stroke-width="0.7" stroke-dasharray="1.2 0.8"/>
<text x="456.60" y="861.30" font-size="9.63" text-anchor="middle" textLength="21.18" lengthAdjust="spacingAndGlyphs" >1.338</text>
<text x="530.50" y="861.30" font-size="9.63" text-anchor="middle" textLength="21.18" lengthAdjust="spacingAndGlyphs" >1.363</text>
<text x="555.90" y="861.30" font-size="9.63" text-anchor="middle" textLength="21.18" lengthAdjust="spacingAndGlyphs" >1.366</text>
<text x="632.90" y="861.30" font-size="9.63" text-anchor="middle" textLength="26.12" lengthAdjust="spacingAndGlyphs" >&gt;1.420</text>
<text x="443.20" y="879.20" font-size="10.53" text-anchor="middle" textLength="32.42" lengthAdjust="spacingAndGlyphs" >Normal</text>
<rect x="501.50" y="870.10" width="67.70" height="12.50" fill="#fff" stroke="#333" stroke-width="0.7"/>
<text x="535.30" y="879.60" font-size="10.53" text-anchor="middle" textLength="51.85" lengthAdjust="spacingAndGlyphs" >SeeDB-Live</text>
<text x="630.20" y="879.20" font-size="10.53" text-anchor="middle" textLength="92.49" lengthAdjust="spacingAndGlyphs" >High refractive index</text>
<rect x="501.5" y="889.5" width="64" height="49" fill="#d3dff4" filter="url(#blur2)"/>
<rect x="596.5" y="888.5" width="67" height="51" fill="#3a6bc6" filter="url(#blur2)"/>
<path d="M415.56,908.06 C416.04,906.70 417.50,904.56 419.06,903.39 C420.62,902.22 422.95,901.54 424.90,901.06 C426.85,900.57 429.28,899.89 430.74,900.47 C432.20,901.06 433.08,902.71 433.66,904.56 C434.24,906.41 434.54,909.43 434.24,911.57 C433.95,913.71 433.08,916.04 431.91,917.41 C430.74,918.77 428.99,919.74 427.24,919.74 C425.48,919.74 423.25,918.77 421.40,917.41 C419.55,916.04 417.11,913.13 416.14,911.57 C415.17,910.01 415.07,909.43 415.56,908.06Z" fill="#d3e0f5" stroke="#5b86d6" stroke-width="0.8" />
<circle cx="423.73" cy="912.15" r="2.60" fill="#a9c0ea" />
<path d="M437.66,926.76 C437.95,924.71 439.02,920.92 439.99,918.58 C440.97,916.24 442.23,914.01 443.50,912.74 C444.76,911.48 446.12,910.89 447.58,910.99 C449.04,911.09 450.99,912.06 452.26,913.32 C453.52,914.59 454.49,916.93 455.18,918.58 C455.86,920.23 456.64,921.89 456.34,923.25 C456.05,924.61 454.79,925.78 453.42,926.76 C452.06,927.73 450.02,928.31 448.17,929.09 C446.32,929.87 443.98,931.14 442.33,931.43 C440.67,931.72 439.02,931.62 438.24,930.84 C437.46,930.06 437.36,928.80 437.66,926.76Z" fill="#d3e0f5" stroke="#5b86d6" stroke-width="0.8" />
<circle cx="445.83" cy="922.67" r="2.60" fill="#a9c0ea" />
<path d="M456.34,904.53 C456.63,902.87 457.51,901.80 458.68,901.02 C459.84,900.25 461.79,900.05 463.35,899.86 C464.91,899.66 466.75,899.27 468.02,899.86 C469.28,900.44 470.06,901.80 470.94,903.36 C471.82,904.92 472.89,907.25 473.28,909.20 C473.66,911.15 473.96,913.58 473.28,915.04 C472.59,916.50 470.65,917.38 469.19,917.96 C467.73,918.54 466.07,918.84 464.52,918.54 C462.96,918.25 461.11,917.47 459.84,916.21 C458.58,914.94 457.51,912.90 456.92,910.95 C456.34,909.01 456.05,906.18 456.34,904.53Z" fill="#d3e0f5" stroke="#5b86d6" stroke-width="0.8" />
<circle cx="467.44" cy="911.54" r="2.60" fill="#a9c0ea" />
<path d="M504.36,907.46 C504.84,906.10 506.30,903.96 507.86,902.79 C509.42,901.62 511.75,900.94 513.70,900.46 C515.65,899.97 518.08,899.29 519.54,899.87 C521.00,900.46 521.88,902.11 522.46,903.96 C523.04,905.81 523.34,908.83 523.04,910.97 C522.75,913.11 521.88,915.44 520.71,916.81 C519.54,918.17 517.79,919.14 516.04,919.14 C514.28,919.14 512.05,918.17 510.20,916.81 C508.35,915.44 505.91,912.53 504.94,910.97 C503.97,909.41 503.87,908.83 504.36,907.46Z" fill="none" stroke="#5b86d6" stroke-width="0.8" />
<circle cx="512.53" cy="911.55" r="2.60" fill="#a9c0ea" />
<path d="M526.56,926.76 C526.85,924.71 527.92,920.92 528.89,918.58 C529.87,916.24 531.13,914.01 532.40,912.74 C533.66,911.48 535.02,910.89 536.48,910.99 C537.94,911.09 539.89,912.06 541.16,913.32 C542.42,914.59 543.39,916.93 544.08,918.58 C544.76,920.23 545.54,921.89 545.24,923.25 C544.95,924.61 543.69,925.78 542.32,926.76 C540.96,927.73 538.92,928.31 537.07,929.09 C535.22,929.87 532.88,931.14 531.23,931.43 C529.57,931.72 527.92,931.62 527.14,930.84 C526.36,930.06 526.26,928.80 526.56,926.76Z" fill="none" stroke="#5b86d6" stroke-width="0.8" />
<circle cx="534.73" cy="922.67" r="2.60" fill="#a9c0ea" />
<path d="M545.24,903.93 C545.53,902.27 546.41,901.20 547.58,900.42 C548.74,899.65 550.69,899.45 552.25,899.26 C553.81,899.06 555.65,898.67 556.92,899.26 C558.18,899.84 558.96,901.20 559.84,902.76 C560.72,904.32 561.79,906.65 562.18,908.60 C562.56,910.55 562.86,912.98 562.18,914.44 C561.49,915.90 559.55,916.78 558.09,917.36 C556.63,917.94 554.97,918.24 553.42,917.94 C551.86,917.65 550.01,916.87 548.74,915.61 C547.48,914.34 546.41,912.30 545.82,910.35 C545.24,908.41 544.95,905.58 545.24,903.93Z" fill="none" stroke="#5b86d6" stroke-width="0.8" />
<circle cx="556.34" cy="910.94" r="2.60" fill="#a9c0ea" />
<path d="M601.66,907.46 C602.14,906.10 603.60,903.96 605.16,902.79 C606.72,901.62 609.05,900.94 611.00,900.46 C612.95,899.97 615.38,899.29 616.84,899.87 C618.30,900.46 619.18,902.11 619.76,903.96 C620.34,905.81 620.64,908.83 620.34,910.97 C620.05,913.11 619.18,915.44 618.01,916.81 C616.84,918.17 615.09,919.14 613.34,919.14 C611.58,919.14 609.35,918.17 607.50,916.81 C605.65,915.44 603.21,912.53 602.24,910.97 C601.27,909.41 601.17,908.83 601.66,907.46Z" fill="#dbe5f6" stroke="none" stroke-width="0.8" />
<circle cx="609.83" cy="911.55" r="2.60" fill="#b5caee" />
<path d="M623.86,927.26 C624.15,925.21 625.22,921.42 626.19,919.08 C627.17,916.74 628.43,914.51 629.70,913.24 C630.96,911.98 632.32,911.39 633.78,911.49 C635.24,911.59 637.19,912.56 638.46,913.82 C639.72,915.09 640.69,917.43 641.38,919.08 C642.06,920.73 642.84,922.39 642.54,923.75 C642.25,925.11 640.99,926.28 639.62,927.26 C638.26,928.23 636.22,928.81 634.37,929.59 C632.52,930.37 630.18,931.64 628.53,931.93 C626.87,932.22 625.22,932.12 624.44,931.34 C623.66,930.56 623.56,929.30 623.86,927.26Z" fill="#dbe5f6" stroke="none" stroke-width="0.8" />
<circle cx="632.03" cy="923.17" r="2.60" fill="#b5caee" />
<path d="M643.14,904.53 C643.43,902.87 644.31,901.80 645.48,901.02 C646.64,900.25 648.59,900.05 650.15,899.86 C651.71,899.66 653.55,899.27 654.82,899.86 C656.08,900.44 656.86,901.80 657.74,903.36 C658.62,904.92 659.69,907.25 660.08,909.20 C660.46,911.15 660.76,913.58 660.08,915.04 C659.39,916.50 657.45,917.38 655.99,917.96 C654.53,918.54 652.87,918.84 651.32,918.54 C649.76,918.25 647.91,917.47 646.64,916.21 C645.38,914.94 644.31,912.90 643.72,910.95 C643.14,909.01 642.85,906.18 643.14,904.53Z" fill="#dbe5f6" stroke="none" stroke-width="0.8" />
<circle cx="654.24" cy="911.54" r="2.60" fill="#b5caee" />
<line x1="426.96" y1="885.30" x2="426.96" y2="901.02" stroke="#f27a7a" stroke-width="1.5" />
<polyline points="426.96,897.52 426.96,947.15" fill="none" stroke="#f27a7a" stroke-width="0.9" />
<path d="M426.96,947.15 L425.46,943.95 L428.46,943.95Z" fill="#f27a7a" stroke="none" stroke-width="0.8" />
<line x1="447.39" y1="885.30" x2="447.39" y2="901.02" stroke="#f27a7a" stroke-width="1.5" />
<polyline points="447.39,897.52 447.39,947.15" fill="none" stroke="#f27a7a" stroke-width="0.9" />
<path d="M447.39,947.15 L445.89,943.95 L448.89,943.95Z" fill="#f27a7a" stroke="none" stroke-width="0.8" />
<line x1="467.72" y1="885.30" x2="467.72" y2="901.02" stroke="#f27a7a" stroke-width="1.5" />
<polyline points="467.72,897.52 467.72,947.15" fill="none" stroke="#f27a7a" stroke-width="0.9" />
<path d="M467.72,947.15 L466.22,943.95 L469.22,943.95Z" fill="#f27a7a" stroke="none" stroke-width="0.8" />
<polyline points="426.96,899.27 413.18,895.77" fill="none" stroke="#f27a7a" stroke-width="0.8" />
<path d="M413.18,895.77 L415.99,895.24 L415.40,897.57Z" fill="#f27a7a" stroke="none" stroke-width="0.8" />
<polyline points="447.39,910.95 420.77,888.76" fill="none" stroke="#f27a7a" stroke-width="0.8" />
<path d="M420.77,888.76 L423.53,889.50 L422.00,891.35Z" fill="#f27a7a" stroke="none" stroke-width="0.8" />
<polyline points="426.96,901.02 412.59,920.29" fill="none" stroke="#f27a7a" stroke-width="0.8" />
<path d="M412.59,920.29 L413.18,917.49 L415.11,918.92Z" fill="#f27a7a" stroke="none" stroke-width="0.8" />
<polyline points="426.96,918.54 438.87,947.15" fill="none" stroke="#f27a7a" stroke-width="0.8" />
<path d="M438.87,947.15 L436.76,945.21 L438.98,944.29Z" fill="#f27a7a" stroke="none" stroke-width="0.8" />
<polyline points="447.39,910.95 416.68,947.74" fill="none" stroke="#f27a7a" stroke-width="0.8" />
<path d="M416.68,947.74 L417.42,944.97 L419.27,946.51Z" fill="#f27a7a" stroke="none" stroke-width="0.8" />
<polyline points="447.39,929.05 452.30,946.57" fill="none" stroke="#f27a7a" stroke-width="0.8" />
<path d="M452.30,946.57 L450.44,944.39 L452.75,943.74Z" fill="#f27a7a" stroke="none" stroke-width="0.8" />
<polyline points="467.72,899.27 475.07,894.01" fill="none" stroke="#f27a7a" stroke-width="0.8" />
<path d="M475.07,894.01 L473.65,896.50 L472.26,894.55Z" fill="#f27a7a" stroke="none" stroke-width="0.8" />
<polyline points="467.72,900.44 476.82,915.04" fill="none" stroke="#f27a7a" stroke-width="0.8" />
<path d="M476.82,915.04 L474.43,913.47 L476.47,912.20Z" fill="#f27a7a" stroke="none" stroke-width="0.8" />
<polyline points="467.72,918.54 476.24,927.88" fill="none" stroke="#f27a7a" stroke-width="0.8" />
<path d="M476.24,927.88 L473.60,926.77 L475.37,925.15Z" fill="#f27a7a" stroke="none" stroke-width="0.8" />
<polyline points="516.02,885.26 516.02,947.74" fill="none" stroke="#f27a7a" stroke-width="1.3" />
<path d="M516.02,947.74 L514.02,943.54 L518.02,943.54Z" fill="#f27a7a" stroke="none" stroke-width="0.8" />
<polyline points="536.23,885.26 536.23,947.74" fill="none" stroke="#f27a7a" stroke-width="1.3" />
<path d="M536.23,947.74 L534.23,943.54 L538.23,943.54Z" fill="#f27a7a" stroke="none" stroke-width="0.8" />
<polyline points="556.90,885.26 556.90,947.74" fill="none" stroke="#f27a7a" stroke-width="1.3" />
<path d="M556.90,947.74 L554.90,943.54 L558.90,943.54Z" fill="#f27a7a" stroke="none" stroke-width="0.8" />
<line x1="613.36" y1="885.30" x2="613.36" y2="901.02" stroke="#f27a7a" stroke-width="1.5" />
<polyline points="613.36,897.52 613.36,947.15" fill="none" stroke="#f27a7a" stroke-width="0.9" />
<path d="M613.36,947.15 L611.86,943.95 L614.86,943.95Z" fill="#f27a7a" stroke="none" stroke-width="0.8" />
<line x1="633.80" y1="885.30" x2="633.80" y2="901.02" stroke="#f27a7a" stroke-width="1.5" />
<polyline points="633.80,897.52 633.80,947.15" fill="none" stroke="#f27a7a" stroke-width="0.9" />
<path d="M633.80,947.15 L632.30,943.95 L635.30,943.95Z" fill="#f27a7a" stroke="none" stroke-width="0.8" />
<line x1="654.00" y1="885.30" x2="654.00" y2="901.02" stroke="#f27a7a" stroke-width="1.5" />
<polyline points="654.00,897.52 654.00,947.15" fill="none" stroke="#f27a7a" stroke-width="0.9" />
<path d="M654.00,947.15 L652.50,943.95 L655.50,943.95Z" fill="#f27a7a" stroke="none" stroke-width="0.8" />
<polyline points="633.80,910.95 606.35,888.18" fill="none" stroke="#f27a7a" stroke-width="0.8" />
<path d="M606.35,888.18 L609.12,888.91 L607.58,890.76Z" fill="#f27a7a" stroke="none" stroke-width="0.8" />
<polyline points="613.36,899.85 597.59,896.35" fill="none" stroke="#f27a7a" stroke-width="0.8" />
<path d="M597.59,896.35 L600.39,895.74 L599.87,898.09Z" fill="#f27a7a" stroke="none" stroke-width="0.8" />
<polyline points="613.36,900.44 598.18,913.87" fill="none" stroke="#f27a7a" stroke-width="0.8" />
<path d="M598.18,913.87 L599.33,911.25 L600.92,913.04Z" fill="#f27a7a" stroke="none" stroke-width="0.8" />
<polyline points="633.80,912.12 625.04,920.29 598.18,926.72" fill="none" stroke="#f27a7a" stroke-width="0.8" />
<path d="M598.18,926.72 L600.42,924.94 L600.98,927.28Z" fill="#f27a7a" stroke="none" stroke-width="0.8" />
<polyline points="613.36,923.21 617.45,946.57" fill="none" stroke="#f27a7a" stroke-width="0.8" />
<path d="M617.45,946.57 L615.82,944.22 L618.18,943.80Z" fill="#f27a7a" stroke="none" stroke-width="0.8" />
<polyline points="633.80,930.22 627.96,946.57" fill="none" stroke="#f27a7a" stroke-width="0.8" />
<path d="M627.96,946.57 L627.70,943.72 L629.96,944.52Z" fill="#f27a7a" stroke="none" stroke-width="0.8" />
<polyline points="654.00,898.69 663.58,893.43" fill="none" stroke="#f27a7a" stroke-width="0.8" />
<path d="M663.58,893.43 L661.87,895.73 L660.72,893.63Z" fill="#f27a7a" stroke="none" stroke-width="0.8" />
<polyline points="654.00,901.02 664.74,906.28" fill="none" stroke="#f27a7a" stroke-width="0.8" />
<path d="M664.74,906.28 L661.88,906.21 L662.94,904.06Z" fill="#f27a7a" stroke="none" stroke-width="0.8" />
<polyline points="654.00,919.71 663.58,946.57" fill="none" stroke="#f27a7a" stroke-width="0.8" />
<path d="M663.58,946.57 L661.57,944.52 L663.83,943.72Z" fill="#f27a7a" stroke="none" stroke-width="0.8" />
</svg></body></html>
